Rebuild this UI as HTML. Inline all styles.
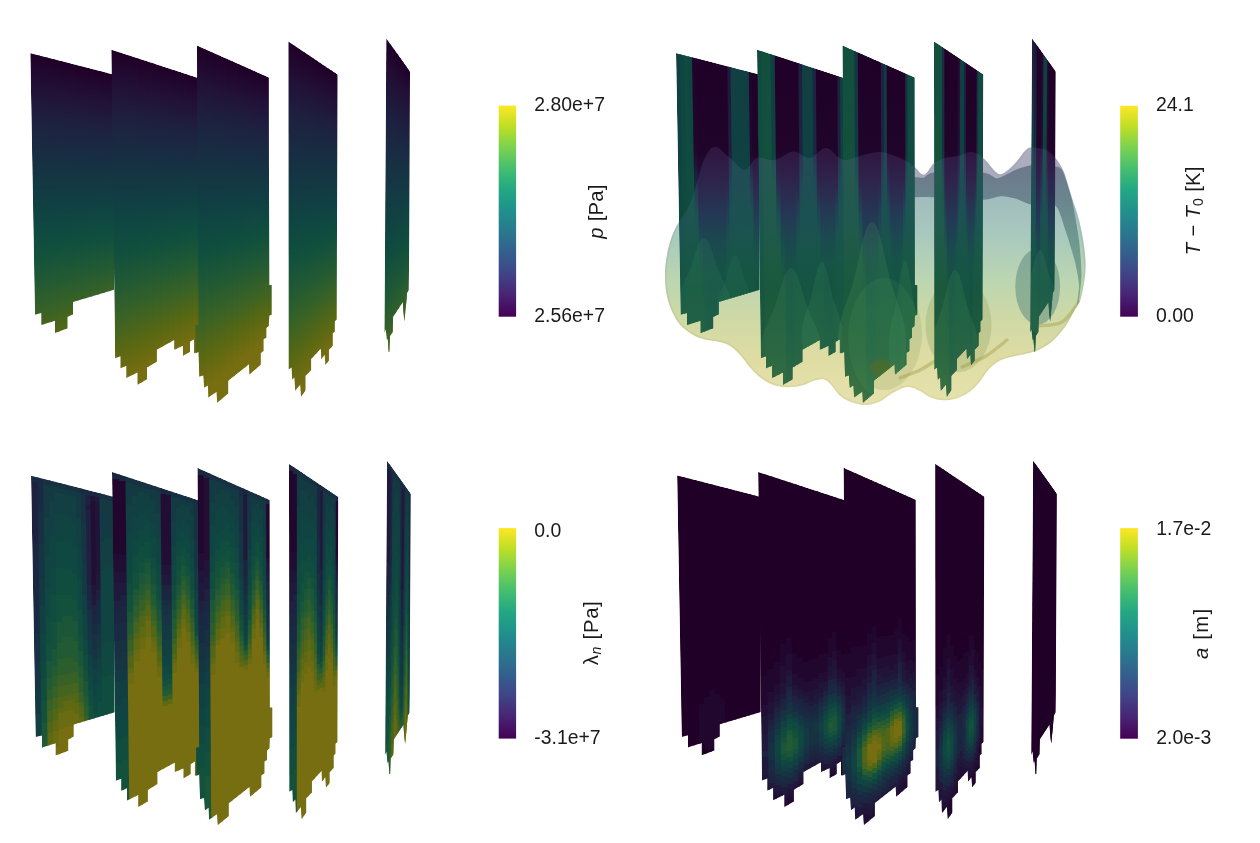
<!DOCTYPE html>
<html><head><meta charset="utf-8"><title>Figure</title>
<style>html,body{margin:0;padding:0;background:#fff}svg{display:block}
text{font-family:"Liberation Sans",sans-serif;fill:#1a1a1a}</style></head>
<body><svg width="1260" height="843" viewBox="0 0 1260 843">
<defs>
<clipPath id="ca0"><path d="M30.3 53.3 L111.3 73.7 L114 74.4 L114 289.8 L73 302 L73 314.2 L67.5 317 L67.5 328.3 L55 333 L55 320.8 L41.3 325 L41.3 313 L34.7 314.7 Z"/></clipPath>
<linearGradient id="g1" gradientUnits="userSpaceOnUse" x1="0" y1="53.8" x2="0" y2="410.9"><stop offset="0" stop-color="#200027"/><stop offset="0.091" stop-color="#221037"/><stop offset="0.182" stop-color="#1e203f"/><stop offset="0.273" stop-color="#182c42"/><stop offset="0.364" stop-color="#133843"/><stop offset="0.455" stop-color="#0f4442"/><stop offset="0.545" stop-color="#104f3e"/><stop offset="0.636" stop-color="#205934"/><stop offset="0.727" stop-color="#396226"/><stop offset="0.818" stop-color="#596812"/><stop offset="0.909" stop-color="#776d11"/><stop offset="1" stop-color="#776d11"/></linearGradient>
<linearGradient id="g2" gradientUnits="userSpaceOnUse" x1="0" y1="55.9" x2="0" y2="406.7"><stop offset="0" stop-color="#200027"/><stop offset="0.091" stop-color="#221037"/><stop offset="0.182" stop-color="#1e203f"/><stop offset="0.273" stop-color="#182c42"/><stop offset="0.364" stop-color="#133843"/><stop offset="0.455" stop-color="#0f4442"/><stop offset="0.545" stop-color="#104f3e"/><stop offset="0.636" stop-color="#205934"/><stop offset="0.727" stop-color="#396226"/><stop offset="0.818" stop-color="#596812"/><stop offset="0.909" stop-color="#776d11"/><stop offset="1" stop-color="#776d11"/></linearGradient>
<linearGradient id="g3" gradientUnits="userSpaceOnUse" x1="0" y1="57.9" x2="0" y2="402.7"><stop offset="0" stop-color="#200027"/><stop offset="0.091" stop-color="#221037"/><stop offset="0.182" stop-color="#1e203f"/><stop offset="0.273" stop-color="#182c42"/><stop offset="0.364" stop-color="#133843"/><stop offset="0.455" stop-color="#0f4442"/><stop offset="0.545" stop-color="#104f3e"/><stop offset="0.636" stop-color="#205934"/><stop offset="0.727" stop-color="#396226"/><stop offset="0.818" stop-color="#596812"/><stop offset="0.909" stop-color="#776d11"/><stop offset="1" stop-color="#776d11"/></linearGradient>
<linearGradient id="g4" gradientUnits="userSpaceOnUse" x1="0" y1="59.9" x2="0" y2="398.8"><stop offset="0" stop-color="#200027"/><stop offset="0.091" stop-color="#221037"/><stop offset="0.182" stop-color="#1e203f"/><stop offset="0.273" stop-color="#182c42"/><stop offset="0.364" stop-color="#133843"/><stop offset="0.455" stop-color="#0f4442"/><stop offset="0.545" stop-color="#104f3e"/><stop offset="0.636" stop-color="#205934"/><stop offset="0.727" stop-color="#396226"/><stop offset="0.818" stop-color="#596812"/><stop offset="0.909" stop-color="#776d11"/><stop offset="1" stop-color="#776d11"/></linearGradient>
<linearGradient id="g5" gradientUnits="userSpaceOnUse" x1="0" y1="61.8" x2="0" y2="395"><stop offset="0" stop-color="#200027"/><stop offset="0.091" stop-color="#221037"/><stop offset="0.182" stop-color="#1e203f"/><stop offset="0.273" stop-color="#182c42"/><stop offset="0.364" stop-color="#133843"/><stop offset="0.455" stop-color="#0f4442"/><stop offset="0.545" stop-color="#104f3e"/><stop offset="0.636" stop-color="#205934"/><stop offset="0.727" stop-color="#396226"/><stop offset="0.818" stop-color="#596812"/><stop offset="0.909" stop-color="#776d11"/><stop offset="1" stop-color="#776d11"/></linearGradient>
<linearGradient id="g6" gradientUnits="userSpaceOnUse" x1="0" y1="63.6" x2="0" y2="391.3"><stop offset="0" stop-color="#200027"/><stop offset="0.091" stop-color="#221037"/><stop offset="0.182" stop-color="#1e203f"/><stop offset="0.273" stop-color="#182c42"/><stop offset="0.364" stop-color="#133843"/><stop offset="0.455" stop-color="#0f4442"/><stop offset="0.545" stop-color="#104f3e"/><stop offset="0.636" stop-color="#205934"/><stop offset="0.727" stop-color="#396226"/><stop offset="0.818" stop-color="#596812"/><stop offset="0.909" stop-color="#776d11"/><stop offset="1" stop-color="#776d11"/></linearGradient>
<linearGradient id="g7" gradientUnits="userSpaceOnUse" x1="0" y1="65.4" x2="0" y2="387.8"><stop offset="0" stop-color="#200027"/><stop offset="0.091" stop-color="#221037"/><stop offset="0.182" stop-color="#1e203f"/><stop offset="0.273" stop-color="#182c42"/><stop offset="0.364" stop-color="#133843"/><stop offset="0.455" stop-color="#0f4442"/><stop offset="0.545" stop-color="#104f3e"/><stop offset="0.636" stop-color="#205934"/><stop offset="0.727" stop-color="#396226"/><stop offset="0.818" stop-color="#596812"/><stop offset="0.909" stop-color="#776d11"/><stop offset="1" stop-color="#776d11"/></linearGradient>
<linearGradient id="g8" gradientUnits="userSpaceOnUse" x1="0" y1="67.1" x2="0" y2="384.4"><stop offset="0" stop-color="#200027"/><stop offset="0.091" stop-color="#221037"/><stop offset="0.182" stop-color="#1e203f"/><stop offset="0.273" stop-color="#182c42"/><stop offset="0.364" stop-color="#133843"/><stop offset="0.455" stop-color="#0f4442"/><stop offset="0.545" stop-color="#104f3e"/><stop offset="0.636" stop-color="#205934"/><stop offset="0.727" stop-color="#396226"/><stop offset="0.818" stop-color="#596812"/><stop offset="0.909" stop-color="#776d11"/><stop offset="1" stop-color="#776d11"/></linearGradient>
<linearGradient id="g9" gradientUnits="userSpaceOnUse" x1="0" y1="68.7" x2="0" y2="381.1"><stop offset="0" stop-color="#200027"/><stop offset="0.091" stop-color="#221037"/><stop offset="0.182" stop-color="#1e203f"/><stop offset="0.273" stop-color="#182c42"/><stop offset="0.364" stop-color="#133843"/><stop offset="0.455" stop-color="#0f4442"/><stop offset="0.545" stop-color="#104f3e"/><stop offset="0.636" stop-color="#205934"/><stop offset="0.727" stop-color="#396226"/><stop offset="0.818" stop-color="#596812"/><stop offset="0.909" stop-color="#776d11"/><stop offset="1" stop-color="#776d11"/></linearGradient>
<linearGradient id="g10" gradientUnits="userSpaceOnUse" x1="0" y1="70.3" x2="0" y2="377.9"><stop offset="0" stop-color="#200027"/><stop offset="0.091" stop-color="#221037"/><stop offset="0.182" stop-color="#1e203f"/><stop offset="0.273" stop-color="#182c42"/><stop offset="0.364" stop-color="#133843"/><stop offset="0.455" stop-color="#0f4442"/><stop offset="0.545" stop-color="#104f3e"/><stop offset="0.636" stop-color="#205934"/><stop offset="0.727" stop-color="#396226"/><stop offset="0.818" stop-color="#596812"/><stop offset="0.909" stop-color="#776d11"/><stop offset="1" stop-color="#776d11"/></linearGradient>
<linearGradient id="g11" gradientUnits="userSpaceOnUse" x1="0" y1="71.9" x2="0" y2="374.8"><stop offset="0" stop-color="#200027"/><stop offset="0.091" stop-color="#221037"/><stop offset="0.182" stop-color="#1e203f"/><stop offset="0.273" stop-color="#182c42"/><stop offset="0.364" stop-color="#133843"/><stop offset="0.455" stop-color="#0f4442"/><stop offset="0.545" stop-color="#104f3e"/><stop offset="0.636" stop-color="#205934"/><stop offset="0.727" stop-color="#396226"/><stop offset="0.818" stop-color="#596812"/><stop offset="0.909" stop-color="#776d11"/><stop offset="1" stop-color="#776d11"/></linearGradient>
<linearGradient id="g12" gradientUnits="userSpaceOnUse" x1="0" y1="73.4" x2="0" y2="371.7"><stop offset="0" stop-color="#200027"/><stop offset="0.091" stop-color="#221037"/><stop offset="0.182" stop-color="#1e203f"/><stop offset="0.273" stop-color="#182c42"/><stop offset="0.364" stop-color="#133843"/><stop offset="0.455" stop-color="#0f4442"/><stop offset="0.545" stop-color="#104f3e"/><stop offset="0.636" stop-color="#205934"/><stop offset="0.727" stop-color="#396226"/><stop offset="0.818" stop-color="#596812"/><stop offset="0.909" stop-color="#776d11"/><stop offset="1" stop-color="#776d11"/></linearGradient>
<linearGradient id="g13" gradientUnits="userSpaceOnUse" x1="0" y1="74.2" x2="0" y2="370.3"><stop offset="0" stop-color="#200027"/><stop offset="0.091" stop-color="#221037"/><stop offset="0.182" stop-color="#1e203f"/><stop offset="0.273" stop-color="#182c42"/><stop offset="0.364" stop-color="#133843"/><stop offset="0.455" stop-color="#0f4442"/><stop offset="0.545" stop-color="#104f3e"/><stop offset="0.636" stop-color="#205934"/><stop offset="0.727" stop-color="#396226"/><stop offset="0.818" stop-color="#596812"/><stop offset="0.909" stop-color="#776d11"/><stop offset="1" stop-color="#776d11"/></linearGradient>
<clipPath id="ca1"><path d="M111.3 49.7 L197 77.5 L200 78.5 L200 350.5 L194.2 353.3 L194.2 339.2 L190 341.7 L190 351.7 L183 355.8 L183 345.8 L174.2 349.7 L174.2 340 L156.7 349.7 L156.7 361.7 L147 367.5 L147 379.2 L137.5 384.7 L137.5 372.5 L126.3 378 L126.3 365.8 L120.5 368.3 L120.5 356.3 L115 358.3 Z"/></clipPath>
<linearGradient id="g14" gradientUnits="userSpaceOnUse" x1="0" y1="50.9" x2="0" y2="416.7"><stop offset="0" stop-color="#200027"/><stop offset="0.091" stop-color="#221037"/><stop offset="0.182" stop-color="#1e203f"/><stop offset="0.273" stop-color="#182c42"/><stop offset="0.364" stop-color="#133843"/><stop offset="0.455" stop-color="#0f4442"/><stop offset="0.545" stop-color="#104f3e"/><stop offset="0.636" stop-color="#205934"/><stop offset="0.727" stop-color="#396226"/><stop offset="0.818" stop-color="#596812"/><stop offset="0.909" stop-color="#776d11"/><stop offset="1" stop-color="#776d11"/></linearGradient>
<linearGradient id="g15" gradientUnits="userSpaceOnUse" x1="0" y1="53.8" x2="0" y2="410.9"><stop offset="0" stop-color="#200027"/><stop offset="0.091" stop-color="#221037"/><stop offset="0.182" stop-color="#1e203f"/><stop offset="0.273" stop-color="#182c42"/><stop offset="0.364" stop-color="#133843"/><stop offset="0.455" stop-color="#0f4442"/><stop offset="0.545" stop-color="#104f3e"/><stop offset="0.636" stop-color="#205934"/><stop offset="0.727" stop-color="#396226"/><stop offset="0.818" stop-color="#596812"/><stop offset="0.909" stop-color="#776d11"/><stop offset="1" stop-color="#776d11"/></linearGradient>
<linearGradient id="g16" gradientUnits="userSpaceOnUse" x1="0" y1="56.6" x2="0" y2="405.3"><stop offset="0" stop-color="#200027"/><stop offset="0.091" stop-color="#221037"/><stop offset="0.182" stop-color="#1e203f"/><stop offset="0.273" stop-color="#182c42"/><stop offset="0.364" stop-color="#133843"/><stop offset="0.455" stop-color="#0f4442"/><stop offset="0.545" stop-color="#104f3e"/><stop offset="0.636" stop-color="#205934"/><stop offset="0.727" stop-color="#396226"/><stop offset="0.818" stop-color="#596812"/><stop offset="0.909" stop-color="#776d11"/><stop offset="1" stop-color="#776d11"/></linearGradient>
<linearGradient id="g17" gradientUnits="userSpaceOnUse" x1="0" y1="59.3" x2="0" y2="400"><stop offset="0" stop-color="#200027"/><stop offset="0.091" stop-color="#221037"/><stop offset="0.182" stop-color="#1e203f"/><stop offset="0.273" stop-color="#182c42"/><stop offset="0.364" stop-color="#133843"/><stop offset="0.455" stop-color="#0f4442"/><stop offset="0.545" stop-color="#104f3e"/><stop offset="0.636" stop-color="#205934"/><stop offset="0.727" stop-color="#396226"/><stop offset="0.818" stop-color="#596812"/><stop offset="0.909" stop-color="#776d11"/><stop offset="1" stop-color="#776d11"/></linearGradient>
<linearGradient id="g18" gradientUnits="userSpaceOnUse" x1="0" y1="61.8" x2="0" y2="394.9"><stop offset="0" stop-color="#200027"/><stop offset="0.091" stop-color="#221037"/><stop offset="0.182" stop-color="#1e203f"/><stop offset="0.273" stop-color="#182c42"/><stop offset="0.364" stop-color="#133843"/><stop offset="0.455" stop-color="#0f4442"/><stop offset="0.545" stop-color="#104f3e"/><stop offset="0.636" stop-color="#205934"/><stop offset="0.727" stop-color="#396226"/><stop offset="0.818" stop-color="#596812"/><stop offset="0.909" stop-color="#776d11"/><stop offset="1" stop-color="#776d11"/></linearGradient>
<linearGradient id="g19" gradientUnits="userSpaceOnUse" x1="0" y1="64.2" x2="0" y2="390.1"><stop offset="0" stop-color="#200027"/><stop offset="0.091" stop-color="#221037"/><stop offset="0.182" stop-color="#1e203f"/><stop offset="0.273" stop-color="#182c42"/><stop offset="0.364" stop-color="#133843"/><stop offset="0.455" stop-color="#0f4442"/><stop offset="0.545" stop-color="#104f3e"/><stop offset="0.636" stop-color="#205934"/><stop offset="0.727" stop-color="#396226"/><stop offset="0.818" stop-color="#596812"/><stop offset="0.909" stop-color="#776d11"/><stop offset="1" stop-color="#776d11"/></linearGradient>
<linearGradient id="g20" gradientUnits="userSpaceOnUse" x1="0" y1="66.5" x2="0" y2="385.5"><stop offset="0" stop-color="#200027"/><stop offset="0.091" stop-color="#221037"/><stop offset="0.182" stop-color="#1e203f"/><stop offset="0.273" stop-color="#182c42"/><stop offset="0.364" stop-color="#133843"/><stop offset="0.455" stop-color="#0f4442"/><stop offset="0.545" stop-color="#104f3e"/><stop offset="0.636" stop-color="#205934"/><stop offset="0.727" stop-color="#396226"/><stop offset="0.818" stop-color="#596812"/><stop offset="0.909" stop-color="#776d11"/><stop offset="1" stop-color="#776d11"/></linearGradient>
<linearGradient id="g21" gradientUnits="userSpaceOnUse" x1="0" y1="68.8" x2="0" y2="381"><stop offset="0" stop-color="#200027"/><stop offset="0.091" stop-color="#221037"/><stop offset="0.182" stop-color="#1e203f"/><stop offset="0.273" stop-color="#182c42"/><stop offset="0.364" stop-color="#133843"/><stop offset="0.455" stop-color="#0f4442"/><stop offset="0.545" stop-color="#104f3e"/><stop offset="0.636" stop-color="#205934"/><stop offset="0.727" stop-color="#396226"/><stop offset="0.818" stop-color="#596812"/><stop offset="0.909" stop-color="#776d11"/><stop offset="1" stop-color="#776d11"/></linearGradient>
<linearGradient id="g22" gradientUnits="userSpaceOnUse" x1="0" y1="70.9" x2="0" y2="376.8"><stop offset="0" stop-color="#200027"/><stop offset="0.091" stop-color="#221037"/><stop offset="0.182" stop-color="#1e203f"/><stop offset="0.273" stop-color="#182c42"/><stop offset="0.364" stop-color="#133843"/><stop offset="0.455" stop-color="#0f4442"/><stop offset="0.545" stop-color="#104f3e"/><stop offset="0.636" stop-color="#205934"/><stop offset="0.727" stop-color="#396226"/><stop offset="0.818" stop-color="#596812"/><stop offset="0.909" stop-color="#776d11"/><stop offset="1" stop-color="#776d11"/></linearGradient>
<linearGradient id="g23" gradientUnits="userSpaceOnUse" x1="0" y1="72.9" x2="0" y2="372.7"><stop offset="0" stop-color="#200027"/><stop offset="0.091" stop-color="#221037"/><stop offset="0.182" stop-color="#1e203f"/><stop offset="0.273" stop-color="#182c42"/><stop offset="0.364" stop-color="#133843"/><stop offset="0.455" stop-color="#0f4442"/><stop offset="0.545" stop-color="#104f3e"/><stop offset="0.636" stop-color="#205934"/><stop offset="0.727" stop-color="#396226"/><stop offset="0.818" stop-color="#596812"/><stop offset="0.909" stop-color="#776d11"/><stop offset="1" stop-color="#776d11"/></linearGradient>
<linearGradient id="g24" gradientUnits="userSpaceOnUse" x1="0" y1="74.9" x2="0" y2="368.7"><stop offset="0" stop-color="#200027"/><stop offset="0.091" stop-color="#221037"/><stop offset="0.182" stop-color="#1e203f"/><stop offset="0.273" stop-color="#182c42"/><stop offset="0.364" stop-color="#133843"/><stop offset="0.455" stop-color="#0f4442"/><stop offset="0.545" stop-color="#104f3e"/><stop offset="0.636" stop-color="#205934"/><stop offset="0.727" stop-color="#396226"/><stop offset="0.818" stop-color="#596812"/><stop offset="0.909" stop-color="#776d11"/><stop offset="1" stop-color="#776d11"/></linearGradient>
<linearGradient id="g25" gradientUnits="userSpaceOnUse" x1="0" y1="76.8" x2="0" y2="365"><stop offset="0" stop-color="#200027"/><stop offset="0.091" stop-color="#221037"/><stop offset="0.182" stop-color="#1e203f"/><stop offset="0.273" stop-color="#182c42"/><stop offset="0.364" stop-color="#133843"/><stop offset="0.455" stop-color="#0f4442"/><stop offset="0.545" stop-color="#104f3e"/><stop offset="0.636" stop-color="#205934"/><stop offset="0.727" stop-color="#396226"/><stop offset="0.818" stop-color="#596812"/><stop offset="0.909" stop-color="#776d11"/><stop offset="1" stop-color="#776d11"/></linearGradient>
<linearGradient id="g26" gradientUnits="userSpaceOnUse" x1="0" y1="77.7" x2="0" y2="363.1"><stop offset="0" stop-color="#200027"/><stop offset="0.091" stop-color="#221037"/><stop offset="0.182" stop-color="#1e203f"/><stop offset="0.273" stop-color="#182c42"/><stop offset="0.364" stop-color="#133843"/><stop offset="0.455" stop-color="#0f4442"/><stop offset="0.545" stop-color="#104f3e"/><stop offset="0.636" stop-color="#205934"/><stop offset="0.727" stop-color="#396226"/><stop offset="0.818" stop-color="#596812"/><stop offset="0.909" stop-color="#776d11"/><stop offset="1" stop-color="#776d11"/></linearGradient>
<clipPath id="ca2"><path d="M197 45.5 L268.8 77.5 L269.2 285.3 L271.7 285 L271.7 314.7 L269.2 315.5 L268.8 325.9 L266.3 328 L266.3 337.6 L263.6 339.2 L263.6 350.9 L260.6 353.1 L260.6 364.8 L249.3 374.4 L249 364.3 L228.1 380.8 L228.1 393.6 L217.2 402.7 L216.5 391.7 L208.4 397.4 L207.9 385.3 L204.2 387.8 L203.3 375.5 L199.4 376.6 L198.5 352 L194.3 354 L194.3 325.5 L198.5 324.6 Z"/></clipPath>
<linearGradient id="g27" gradientUnits="userSpaceOnUse" x1="0" y1="45.6" x2="0" y2="427.2"><stop offset="0" stop-color="#200027"/><stop offset="0.091" stop-color="#221037"/><stop offset="0.182" stop-color="#1e203f"/><stop offset="0.273" stop-color="#182c42"/><stop offset="0.364" stop-color="#133843"/><stop offset="0.455" stop-color="#0f4442"/><stop offset="0.545" stop-color="#104f3e"/><stop offset="0.636" stop-color="#205934"/><stop offset="0.727" stop-color="#396226"/><stop offset="0.818" stop-color="#596812"/><stop offset="0.909" stop-color="#776d11"/><stop offset="1" stop-color="#776d11"/></linearGradient>
<linearGradient id="g28" gradientUnits="userSpaceOnUse" x1="0" y1="47.4" x2="0" y2="423.7"><stop offset="0" stop-color="#200027"/><stop offset="0.091" stop-color="#221037"/><stop offset="0.182" stop-color="#1e203f"/><stop offset="0.273" stop-color="#182c42"/><stop offset="0.364" stop-color="#133843"/><stop offset="0.455" stop-color="#0f4442"/><stop offset="0.545" stop-color="#104f3e"/><stop offset="0.636" stop-color="#205934"/><stop offset="0.727" stop-color="#396226"/><stop offset="0.818" stop-color="#596812"/><stop offset="0.909" stop-color="#776d11"/><stop offset="1" stop-color="#776d11"/></linearGradient>
<linearGradient id="g29" gradientUnits="userSpaceOnUse" x1="0" y1="50.7" x2="0" y2="417"><stop offset="0" stop-color="#200027"/><stop offset="0.091" stop-color="#221037"/><stop offset="0.182" stop-color="#1e203f"/><stop offset="0.273" stop-color="#182c42"/><stop offset="0.364" stop-color="#133843"/><stop offset="0.455" stop-color="#0f4442"/><stop offset="0.545" stop-color="#104f3e"/><stop offset="0.636" stop-color="#205934"/><stop offset="0.727" stop-color="#396226"/><stop offset="0.818" stop-color="#596812"/><stop offset="0.909" stop-color="#776d11"/><stop offset="1" stop-color="#776d11"/></linearGradient>
<linearGradient id="g30" gradientUnits="userSpaceOnUse" x1="0" y1="53.9" x2="0" y2="410.7"><stop offset="0" stop-color="#200027"/><stop offset="0.091" stop-color="#221037"/><stop offset="0.182" stop-color="#1e203f"/><stop offset="0.273" stop-color="#182c42"/><stop offset="0.364" stop-color="#133843"/><stop offset="0.455" stop-color="#0f4442"/><stop offset="0.545" stop-color="#104f3e"/><stop offset="0.636" stop-color="#205934"/><stop offset="0.727" stop-color="#396226"/><stop offset="0.818" stop-color="#596812"/><stop offset="0.909" stop-color="#776d11"/><stop offset="1" stop-color="#776d11"/></linearGradient>
<linearGradient id="g31" gradientUnits="userSpaceOnUse" x1="0" y1="56.9" x2="0" y2="404.7"><stop offset="0" stop-color="#200027"/><stop offset="0.091" stop-color="#221037"/><stop offset="0.182" stop-color="#1e203f"/><stop offset="0.273" stop-color="#182c42"/><stop offset="0.364" stop-color="#133843"/><stop offset="0.455" stop-color="#0f4442"/><stop offset="0.545" stop-color="#104f3e"/><stop offset="0.636" stop-color="#205934"/><stop offset="0.727" stop-color="#396226"/><stop offset="0.818" stop-color="#596812"/><stop offset="0.909" stop-color="#776d11"/><stop offset="1" stop-color="#776d11"/></linearGradient>
<linearGradient id="g32" gradientUnits="userSpaceOnUse" x1="0" y1="59.8" x2="0" y2="399"><stop offset="0" stop-color="#200027"/><stop offset="0.091" stop-color="#221037"/><stop offset="0.182" stop-color="#1e203f"/><stop offset="0.273" stop-color="#182c42"/><stop offset="0.364" stop-color="#133843"/><stop offset="0.455" stop-color="#0f4442"/><stop offset="0.545" stop-color="#104f3e"/><stop offset="0.636" stop-color="#205934"/><stop offset="0.727" stop-color="#396226"/><stop offset="0.818" stop-color="#596812"/><stop offset="0.909" stop-color="#776d11"/><stop offset="1" stop-color="#776d11"/></linearGradient>
<linearGradient id="g33" gradientUnits="userSpaceOnUse" x1="0" y1="62.5" x2="0" y2="393.6"><stop offset="0" stop-color="#200027"/><stop offset="0.091" stop-color="#221037"/><stop offset="0.182" stop-color="#1e203f"/><stop offset="0.273" stop-color="#182c42"/><stop offset="0.364" stop-color="#133843"/><stop offset="0.455" stop-color="#0f4442"/><stop offset="0.545" stop-color="#104f3e"/><stop offset="0.636" stop-color="#205934"/><stop offset="0.727" stop-color="#396226"/><stop offset="0.818" stop-color="#596812"/><stop offset="0.909" stop-color="#776d11"/><stop offset="1" stop-color="#776d11"/></linearGradient>
<linearGradient id="g34" gradientUnits="userSpaceOnUse" x1="0" y1="65.1" x2="0" y2="388.4"><stop offset="0" stop-color="#200027"/><stop offset="0.091" stop-color="#221037"/><stop offset="0.182" stop-color="#1e203f"/><stop offset="0.273" stop-color="#182c42"/><stop offset="0.364" stop-color="#133843"/><stop offset="0.455" stop-color="#0f4442"/><stop offset="0.545" stop-color="#104f3e"/><stop offset="0.636" stop-color="#205934"/><stop offset="0.727" stop-color="#396226"/><stop offset="0.818" stop-color="#596812"/><stop offset="0.909" stop-color="#776d11"/><stop offset="1" stop-color="#776d11"/></linearGradient>
<linearGradient id="g35" gradientUnits="userSpaceOnUse" x1="0" y1="67.5" x2="0" y2="383.5"><stop offset="0" stop-color="#200027"/><stop offset="0.091" stop-color="#221037"/><stop offset="0.182" stop-color="#1e203f"/><stop offset="0.273" stop-color="#182c42"/><stop offset="0.364" stop-color="#133843"/><stop offset="0.455" stop-color="#0f4442"/><stop offset="0.545" stop-color="#104f3e"/><stop offset="0.636" stop-color="#205934"/><stop offset="0.727" stop-color="#396226"/><stop offset="0.818" stop-color="#596812"/><stop offset="0.909" stop-color="#776d11"/><stop offset="1" stop-color="#776d11"/></linearGradient>
<linearGradient id="g36" gradientUnits="userSpaceOnUse" x1="0" y1="69.9" x2="0" y2="378.8"><stop offset="0" stop-color="#200027"/><stop offset="0.091" stop-color="#221037"/><stop offset="0.182" stop-color="#1e203f"/><stop offset="0.273" stop-color="#182c42"/><stop offset="0.364" stop-color="#133843"/><stop offset="0.455" stop-color="#0f4442"/><stop offset="0.545" stop-color="#104f3e"/><stop offset="0.636" stop-color="#205934"/><stop offset="0.727" stop-color="#396226"/><stop offset="0.818" stop-color="#596812"/><stop offset="0.909" stop-color="#776d11"/><stop offset="1" stop-color="#776d11"/></linearGradient>
<linearGradient id="g37" gradientUnits="userSpaceOnUse" x1="0" y1="72.2" x2="0" y2="374.3"><stop offset="0" stop-color="#200027"/><stop offset="0.091" stop-color="#221037"/><stop offset="0.182" stop-color="#1e203f"/><stop offset="0.273" stop-color="#182c42"/><stop offset="0.364" stop-color="#133843"/><stop offset="0.455" stop-color="#0f4442"/><stop offset="0.545" stop-color="#104f3e"/><stop offset="0.636" stop-color="#205934"/><stop offset="0.727" stop-color="#396226"/><stop offset="0.818" stop-color="#596812"/><stop offset="0.909" stop-color="#776d11"/><stop offset="1" stop-color="#776d11"/></linearGradient>
<linearGradient id="g38" gradientUnits="userSpaceOnUse" x1="0" y1="74.3" x2="0" y2="369.9"><stop offset="0" stop-color="#200027"/><stop offset="0.091" stop-color="#221037"/><stop offset="0.182" stop-color="#1e203f"/><stop offset="0.273" stop-color="#182c42"/><stop offset="0.364" stop-color="#133843"/><stop offset="0.455" stop-color="#0f4442"/><stop offset="0.545" stop-color="#104f3e"/><stop offset="0.636" stop-color="#205934"/><stop offset="0.727" stop-color="#396226"/><stop offset="0.818" stop-color="#596812"/><stop offset="0.909" stop-color="#776d11"/><stop offset="1" stop-color="#776d11"/></linearGradient>
<linearGradient id="g39" gradientUnits="userSpaceOnUse" x1="0" y1="76.4" x2="0" y2="365.8"><stop offset="0" stop-color="#200027"/><stop offset="0.091" stop-color="#221037"/><stop offset="0.182" stop-color="#1e203f"/><stop offset="0.273" stop-color="#182c42"/><stop offset="0.364" stop-color="#133843"/><stop offset="0.455" stop-color="#0f4442"/><stop offset="0.545" stop-color="#104f3e"/><stop offset="0.636" stop-color="#205934"/><stop offset="0.727" stop-color="#396226"/><stop offset="0.818" stop-color="#596812"/><stop offset="0.909" stop-color="#776d11"/><stop offset="1" stop-color="#776d11"/></linearGradient>
<linearGradient id="g40" gradientUnits="userSpaceOnUse" x1="0" y1="77.4" x2="0" y2="363.8"><stop offset="0" stop-color="#200027"/><stop offset="0.091" stop-color="#221037"/><stop offset="0.182" stop-color="#1e203f"/><stop offset="0.273" stop-color="#182c42"/><stop offset="0.364" stop-color="#133843"/><stop offset="0.455" stop-color="#0f4442"/><stop offset="0.545" stop-color="#104f3e"/><stop offset="0.636" stop-color="#205934"/><stop offset="0.727" stop-color="#396226"/><stop offset="0.818" stop-color="#596812"/><stop offset="0.909" stop-color="#776d11"/><stop offset="1" stop-color="#776d11"/></linearGradient>
<clipPath id="ca3"><path d="M288.3 41.3 L337.5 74.5 L336.7 319.6 L334.6 321.4 L334.6 331.4 L332.8 333.2 L332.8 345.7 L328.9 349.8 L328.9 360.5 L325.3 365 L324.8 354.6 L321.3 359.1 L320.9 348.4 L311.1 359.1 L311.1 370 L305.5 375.9 L305.5 390.2 L301.1 396.7 L300.2 384.5 L295.2 390.7 L294.6 377.1 L292.2 379.7 L291.6 367.6 L288.5 369.4 Z"/></clipPath>
<linearGradient id="g41" gradientUnits="userSpaceOnUse" x1="0" y1="43.3" x2="0" y2="431.9"><stop offset="0" stop-color="#200027"/><stop offset="0.091" stop-color="#221037"/><stop offset="0.182" stop-color="#1e203f"/><stop offset="0.273" stop-color="#182c42"/><stop offset="0.364" stop-color="#133843"/><stop offset="0.455" stop-color="#0f4442"/><stop offset="0.545" stop-color="#104f3e"/><stop offset="0.636" stop-color="#205934"/><stop offset="0.727" stop-color="#396226"/><stop offset="0.818" stop-color="#596812"/><stop offset="0.909" stop-color="#776d11"/><stop offset="1" stop-color="#776d11"/></linearGradient>
<linearGradient id="g42" gradientUnits="userSpaceOnUse" x1="0" y1="46.7" x2="0" y2="425"><stop offset="0" stop-color="#200027"/><stop offset="0.091" stop-color="#221037"/><stop offset="0.182" stop-color="#1e203f"/><stop offset="0.273" stop-color="#182c42"/><stop offset="0.364" stop-color="#133843"/><stop offset="0.455" stop-color="#0f4442"/><stop offset="0.545" stop-color="#104f3e"/><stop offset="0.636" stop-color="#205934"/><stop offset="0.727" stop-color="#396226"/><stop offset="0.818" stop-color="#596812"/><stop offset="0.909" stop-color="#776d11"/><stop offset="1" stop-color="#776d11"/></linearGradient>
<linearGradient id="g43" gradientUnits="userSpaceOnUse" x1="0" y1="50" x2="0" y2="418.4"><stop offset="0" stop-color="#200027"/><stop offset="0.091" stop-color="#221037"/><stop offset="0.182" stop-color="#1e203f"/><stop offset="0.273" stop-color="#182c42"/><stop offset="0.364" stop-color="#133843"/><stop offset="0.455" stop-color="#0f4442"/><stop offset="0.545" stop-color="#104f3e"/><stop offset="0.636" stop-color="#205934"/><stop offset="0.727" stop-color="#396226"/><stop offset="0.818" stop-color="#596812"/><stop offset="0.909" stop-color="#776d11"/><stop offset="1" stop-color="#776d11"/></linearGradient>
<linearGradient id="g44" gradientUnits="userSpaceOnUse" x1="0" y1="53.1" x2="0" y2="412.2"><stop offset="0" stop-color="#200027"/><stop offset="0.091" stop-color="#221037"/><stop offset="0.182" stop-color="#1e203f"/><stop offset="0.273" stop-color="#182c42"/><stop offset="0.364" stop-color="#133843"/><stop offset="0.455" stop-color="#0f4442"/><stop offset="0.545" stop-color="#104f3e"/><stop offset="0.636" stop-color="#205934"/><stop offset="0.727" stop-color="#396226"/><stop offset="0.818" stop-color="#596812"/><stop offset="0.909" stop-color="#776d11"/><stop offset="1" stop-color="#776d11"/></linearGradient>
<linearGradient id="g45" gradientUnits="userSpaceOnUse" x1="0" y1="56.1" x2="0" y2="406.3"><stop offset="0" stop-color="#200027"/><stop offset="0.091" stop-color="#221037"/><stop offset="0.182" stop-color="#1e203f"/><stop offset="0.273" stop-color="#182c42"/><stop offset="0.364" stop-color="#133843"/><stop offset="0.455" stop-color="#0f4442"/><stop offset="0.545" stop-color="#104f3e"/><stop offset="0.636" stop-color="#205934"/><stop offset="0.727" stop-color="#396226"/><stop offset="0.818" stop-color="#596812"/><stop offset="0.909" stop-color="#776d11"/><stop offset="1" stop-color="#776d11"/></linearGradient>
<linearGradient id="g46" gradientUnits="userSpaceOnUse" x1="0" y1="58.9" x2="0" y2="400.7"><stop offset="0" stop-color="#200027"/><stop offset="0.091" stop-color="#221037"/><stop offset="0.182" stop-color="#1e203f"/><stop offset="0.273" stop-color="#182c42"/><stop offset="0.364" stop-color="#133843"/><stop offset="0.455" stop-color="#0f4442"/><stop offset="0.545" stop-color="#104f3e"/><stop offset="0.636" stop-color="#205934"/><stop offset="0.727" stop-color="#396226"/><stop offset="0.818" stop-color="#596812"/><stop offset="0.909" stop-color="#776d11"/><stop offset="1" stop-color="#776d11"/></linearGradient>
<linearGradient id="g47" gradientUnits="userSpaceOnUse" x1="0" y1="61.6" x2="0" y2="395.3"><stop offset="0" stop-color="#200027"/><stop offset="0.091" stop-color="#221037"/><stop offset="0.182" stop-color="#1e203f"/><stop offset="0.273" stop-color="#182c42"/><stop offset="0.364" stop-color="#133843"/><stop offset="0.455" stop-color="#0f4442"/><stop offset="0.545" stop-color="#104f3e"/><stop offset="0.636" stop-color="#205934"/><stop offset="0.727" stop-color="#396226"/><stop offset="0.818" stop-color="#596812"/><stop offset="0.909" stop-color="#776d11"/><stop offset="1" stop-color="#776d11"/></linearGradient>
<linearGradient id="g48" gradientUnits="userSpaceOnUse" x1="0" y1="64.2" x2="0" y2="390.2"><stop offset="0" stop-color="#200027"/><stop offset="0.091" stop-color="#221037"/><stop offset="0.182" stop-color="#1e203f"/><stop offset="0.273" stop-color="#182c42"/><stop offset="0.364" stop-color="#133843"/><stop offset="0.455" stop-color="#0f4442"/><stop offset="0.545" stop-color="#104f3e"/><stop offset="0.636" stop-color="#205934"/><stop offset="0.727" stop-color="#396226"/><stop offset="0.818" stop-color="#596812"/><stop offset="0.909" stop-color="#776d11"/><stop offset="1" stop-color="#776d11"/></linearGradient>
<linearGradient id="g49" gradientUnits="userSpaceOnUse" x1="0" y1="66.6" x2="0" y2="385.3"><stop offset="0" stop-color="#200027"/><stop offset="0.091" stop-color="#221037"/><stop offset="0.182" stop-color="#1e203f"/><stop offset="0.273" stop-color="#182c42"/><stop offset="0.364" stop-color="#133843"/><stop offset="0.455" stop-color="#0f4442"/><stop offset="0.545" stop-color="#104f3e"/><stop offset="0.636" stop-color="#205934"/><stop offset="0.727" stop-color="#396226"/><stop offset="0.818" stop-color="#596812"/><stop offset="0.909" stop-color="#776d11"/><stop offset="1" stop-color="#776d11"/></linearGradient>
<linearGradient id="g50" gradientUnits="userSpaceOnUse" x1="0" y1="68.9" x2="0" y2="380.7"><stop offset="0" stop-color="#200027"/><stop offset="0.091" stop-color="#221037"/><stop offset="0.182" stop-color="#1e203f"/><stop offset="0.273" stop-color="#182c42"/><stop offset="0.364" stop-color="#133843"/><stop offset="0.455" stop-color="#0f4442"/><stop offset="0.545" stop-color="#104f3e"/><stop offset="0.636" stop-color="#205934"/><stop offset="0.727" stop-color="#396226"/><stop offset="0.818" stop-color="#596812"/><stop offset="0.909" stop-color="#776d11"/><stop offset="1" stop-color="#776d11"/></linearGradient>
<linearGradient id="g51" gradientUnits="userSpaceOnUse" x1="0" y1="71.2" x2="0" y2="376.2"><stop offset="0" stop-color="#200027"/><stop offset="0.091" stop-color="#221037"/><stop offset="0.182" stop-color="#1e203f"/><stop offset="0.273" stop-color="#182c42"/><stop offset="0.364" stop-color="#133843"/><stop offset="0.455" stop-color="#0f4442"/><stop offset="0.545" stop-color="#104f3e"/><stop offset="0.636" stop-color="#205934"/><stop offset="0.727" stop-color="#396226"/><stop offset="0.818" stop-color="#596812"/><stop offset="0.909" stop-color="#776d11"/><stop offset="1" stop-color="#776d11"/></linearGradient>
<linearGradient id="g52" gradientUnits="userSpaceOnUse" x1="0" y1="73.3" x2="0" y2="371.9"><stop offset="0" stop-color="#200027"/><stop offset="0.091" stop-color="#221037"/><stop offset="0.182" stop-color="#1e203f"/><stop offset="0.273" stop-color="#182c42"/><stop offset="0.364" stop-color="#133843"/><stop offset="0.455" stop-color="#0f4442"/><stop offset="0.545" stop-color="#104f3e"/><stop offset="0.636" stop-color="#205934"/><stop offset="0.727" stop-color="#396226"/><stop offset="0.818" stop-color="#596812"/><stop offset="0.909" stop-color="#776d11"/><stop offset="1" stop-color="#776d11"/></linearGradient>
<clipPath id="ca4"><path d="M386.2 37.5 L410 71.7 L409 270 L408.7 290.3 L407 293 L406 305.3 L404.4 321.3 L403.3 310.6 L402.8 302 L393 317 L392.6 332 L390 336.2 L389.4 351.7 L388.7 351.7 L387.8 338.4 L387 340.5 L385.7 329.3 L384.1 333 Z"/></clipPath>
<linearGradient id="g53" gradientUnits="userSpaceOnUse" x1="0" y1="41.1" x2="0" y2="436.1"><stop offset="0" stop-color="#200027"/><stop offset="0.091" stop-color="#221036"/><stop offset="0.182" stop-color="#1e1e3f"/><stop offset="0.273" stop-color="#192b42"/><stop offset="0.364" stop-color="#143743"/><stop offset="0.455" stop-color="#104242"/><stop offset="0.545" stop-color="#104c3f"/><stop offset="0.636" stop-color="#1c5737"/><stop offset="0.727" stop-color="#32602a"/><stop offset="0.818" stop-color="#4f6618"/><stop offset="0.909" stop-color="#6c6b12"/><stop offset="1" stop-color="#776d11"/></linearGradient>
<linearGradient id="g54" gradientUnits="userSpaceOnUse" x1="0" y1="46.1" x2="0" y2="426.3"><stop offset="0" stop-color="#200027"/><stop offset="0.091" stop-color="#221036"/><stop offset="0.182" stop-color="#1e1e3f"/><stop offset="0.273" stop-color="#192b42"/><stop offset="0.364" stop-color="#143743"/><stop offset="0.455" stop-color="#104242"/><stop offset="0.545" stop-color="#104c3f"/><stop offset="0.636" stop-color="#1c5737"/><stop offset="0.727" stop-color="#32602a"/><stop offset="0.818" stop-color="#4f6618"/><stop offset="0.909" stop-color="#6c6b12"/><stop offset="1" stop-color="#776d11"/></linearGradient>
<linearGradient id="g55" gradientUnits="userSpaceOnUse" x1="0" y1="50.7" x2="0" y2="417.1"><stop offset="0" stop-color="#200027"/><stop offset="0.091" stop-color="#221036"/><stop offset="0.182" stop-color="#1e1e3f"/><stop offset="0.273" stop-color="#192b42"/><stop offset="0.364" stop-color="#143743"/><stop offset="0.455" stop-color="#104242"/><stop offset="0.545" stop-color="#104c3f"/><stop offset="0.636" stop-color="#1c5737"/><stop offset="0.727" stop-color="#32602a"/><stop offset="0.818" stop-color="#4f6618"/><stop offset="0.909" stop-color="#6c6b12"/><stop offset="1" stop-color="#776d11"/></linearGradient>
<linearGradient id="g56" gradientUnits="userSpaceOnUse" x1="0" y1="54.9" x2="0" y2="408.6"><stop offset="0" stop-color="#200027"/><stop offset="0.091" stop-color="#221036"/><stop offset="0.182" stop-color="#1e1e3f"/><stop offset="0.273" stop-color="#192b42"/><stop offset="0.364" stop-color="#143743"/><stop offset="0.455" stop-color="#104242"/><stop offset="0.545" stop-color="#104c3f"/><stop offset="0.636" stop-color="#1c5737"/><stop offset="0.727" stop-color="#32602a"/><stop offset="0.818" stop-color="#4f6618"/><stop offset="0.909" stop-color="#6c6b12"/><stop offset="1" stop-color="#776d11"/></linearGradient>
<linearGradient id="g57" gradientUnits="userSpaceOnUse" x1="0" y1="58.9" x2="0" y2="400.7"><stop offset="0" stop-color="#200027"/><stop offset="0.091" stop-color="#221036"/><stop offset="0.182" stop-color="#1e1e3f"/><stop offset="0.273" stop-color="#192b42"/><stop offset="0.364" stop-color="#143743"/><stop offset="0.455" stop-color="#104242"/><stop offset="0.545" stop-color="#104c3f"/><stop offset="0.636" stop-color="#1c5737"/><stop offset="0.727" stop-color="#32602a"/><stop offset="0.818" stop-color="#4f6618"/><stop offset="0.909" stop-color="#6c6b12"/><stop offset="1" stop-color="#776d11"/></linearGradient>
<linearGradient id="g58" gradientUnits="userSpaceOnUse" x1="0" y1="62.6" x2="0" y2="393.3"><stop offset="0" stop-color="#200027"/><stop offset="0.091" stop-color="#221036"/><stop offset="0.182" stop-color="#1e1e3f"/><stop offset="0.273" stop-color="#192b42"/><stop offset="0.364" stop-color="#143743"/><stop offset="0.455" stop-color="#104242"/><stop offset="0.545" stop-color="#104c3f"/><stop offset="0.636" stop-color="#1c5737"/><stop offset="0.727" stop-color="#32602a"/><stop offset="0.818" stop-color="#4f6618"/><stop offset="0.909" stop-color="#6c6b12"/><stop offset="1" stop-color="#776d11"/></linearGradient>
<linearGradient id="g59" gradientUnits="userSpaceOnUse" x1="0" y1="66.1" x2="0" y2="386.4"><stop offset="0" stop-color="#200027"/><stop offset="0.091" stop-color="#221036"/><stop offset="0.182" stop-color="#1e1e3f"/><stop offset="0.273" stop-color="#192b42"/><stop offset="0.364" stop-color="#143743"/><stop offset="0.455" stop-color="#104242"/><stop offset="0.545" stop-color="#104c3f"/><stop offset="0.636" stop-color="#1c5737"/><stop offset="0.727" stop-color="#32602a"/><stop offset="0.818" stop-color="#4f6618"/><stop offset="0.909" stop-color="#6c6b12"/><stop offset="1" stop-color="#776d11"/></linearGradient>
<linearGradient id="g60" gradientUnits="userSpaceOnUse" x1="0" y1="69.4" x2="0" y2="379.8"><stop offset="0" stop-color="#200027"/><stop offset="0.091" stop-color="#221036"/><stop offset="0.182" stop-color="#1e1e3f"/><stop offset="0.273" stop-color="#192b42"/><stop offset="0.364" stop-color="#143743"/><stop offset="0.455" stop-color="#104242"/><stop offset="0.545" stop-color="#104c3f"/><stop offset="0.636" stop-color="#1c5737"/><stop offset="0.727" stop-color="#32602a"/><stop offset="0.818" stop-color="#4f6618"/><stop offset="0.909" stop-color="#6c6b12"/><stop offset="1" stop-color="#776d11"/></linearGradient>
<linearGradient id="bg" gradientUnits="userSpaceOnUse" x1="0" y1="147" x2="0" y2="405"><stop offset="0" stop-color="#b0aec0"/><stop offset=".11" stop-color="#a8abbc"/><stop offset=".2" stop-color="#a1bdbd"/><stop offset=".36" stop-color="#aacabd"/><stop offset=".52" stop-color="#bcd6b1"/><stop offset=".67" stop-color="#d0d9a5"/><stop offset=".82" stop-color="#dfdca3"/><stop offset="1" stop-color="#e6e2ae"/></linearGradient>
<path id="blob" d="M679 222C676.4 226.5 674.3 230 672.4 235C670.5 240 668.7 245.8 667.5 252C666.3 258.2 665.2 265.3 665 272C664.8 278.7 665.2 285.7 666.2 292C667.2 298.3 668.9 304.2 671.2 309.6C673.5 315 676.4 320.5 679.9 324.6C683.4 328.8 688.2 332 692.4 334.5C696.5 337 700.2 338.2 704.8 339.5C709.4 340.8 715.6 341 719.8 342C723.9 343 726.4 343.6 729.7 345.7C733 347.8 736.4 351 739.7 354.5C743 358 746.4 363.2 749.7 366.9C753 370.6 755.9 374 759.6 376.9C763.3 379.8 767.5 382.7 772.1 384.4C776.7 386.1 782 387.1 787 387.3C792 387.5 797.4 386.7 802 385.6C806.6 384.5 810.7 381.6 814.4 380.6C818.1 379.6 821.5 378.7 824.4 379.6C827.3 380.5 829.3 383.2 832 386C834.7 388.8 837.1 393.6 840.7 396.4C844.3 399.2 849.3 401.5 853.6 402.9C857.9 404.3 862.1 405.2 866.4 405C870.7 404.8 875 403.8 879.3 401.8C883.6 399.8 888.2 395.5 892.1 393.2C896 390.9 899.7 388.9 902.9 387.9C906.1 386.9 908.5 386.9 911.4 387.4C914.2 387.9 916.8 389.3 920 391C923.2 392.7 926.8 395.9 930.7 397.5C934.6 399.1 939.3 400.1 943.6 400.3C947.9 400.5 952.1 400 956.4 398.6C960.7 397.2 965.4 395 969.3 392.1C973.2 389.2 976.8 385.1 980 381.4C983.2 377.6 985.4 373 988.6 369.6C991.8 366.2 995.4 363.1 999.3 361C1003.2 358.9 1007.5 358 1012.1 356.8C1016.7 355.6 1022.4 354.9 1027.1 353.6C1031.8 352.4 1035.7 351.5 1040 349.3C1044.3 347.1 1048.6 344.6 1052.9 340.7C1057.2 336.8 1062.1 330.7 1065.7 325.7C1069.3 320.7 1071.8 315.3 1074.3 310.7C1076.8 306.1 1079.1 304.8 1081 298C1082.9 291.2 1085 278.7 1085.5 270C1086 261.3 1085.1 254.3 1084 246C1082.9 237.7 1081 228 1079 220C1077 212 1073.9 204.2 1072 198C1070.1 191.8 1069 187.7 1067.5 183C1066 178.3 1065 174.1 1063 170C1061 165.9 1058.5 161.8 1055.7 158.5C1052.9 155.2 1050 151.8 1046 150C1042 148.2 1035 147.3 1031.5 147.5C1028 147.7 1027.6 148.4 1024.9 151C1022.2 153.6 1019 159.2 1015.4 162.9C1011.8 166.6 1006.7 171.6 1003.5 173.2C1000.3 174.8 999.8 174.9 996.4 172.4C993 169.9 987.5 161.6 983.4 158.2C979.3 154.8 976.2 152.4 972 152C967.8 151.6 962.5 155 958 156C953.5 157 949 156.8 945 158C941 159.2 937.7 160.2 934.2 163C930.7 165.8 927.4 174.2 924 174.8C920.6 175.4 918 169.3 914 166.5C910 163.7 905.7 160.4 900 158C894.3 155.6 886.7 152.3 880 152C873.3 151.7 866.2 154.7 860 156C853.8 157.3 848.7 161.3 843 160C837.3 158.7 831.5 148.3 826 148C820.5 147.7 815.5 157.4 810 158C804.5 158.6 798.8 151.2 793 151.5C787.2 151.8 781 158.9 775 160C769 161.1 762 156.3 757 158C752 159.7 749.5 170 745 170C740.5 170 735 161.9 730 158C725 154.1 719.1 146.4 714.8 146.7C710.5 147 707.1 153.4 704 160C700.9 166.6 698.7 178 696 186C693.3 194 690.8 202 688 208C685.2 214 681.6 217.5 679 222Z"/>
<clipPath id="cblob"><use href="#blob"/></clipPath>
<linearGradient id="rim" gradientUnits="userSpaceOnUse" x1="0" y1="147" x2="0" y2="405"><stop offset="0" stop-color="#9a98b4" stop-opacity=".25"/><stop offset=".3" stop-color="#7f9f9a" stop-opacity=".22"/><stop offset=".6" stop-color="#8f9f6a" stop-opacity=".18"/><stop offset="1" stop-color="#b0ac6c" stop-opacity=".16"/></linearGradient>
<linearGradient id="bd" gradientUnits="userSpaceOnUse" x1="0" y1="165" x2="0" y2="305"><stop offset="0" stop-color="#566679"/><stop offset=".25" stop-color="#56707c"/><stop offset=".5" stop-color="#56847e"/><stop offset="1" stop-color="#66967c"/></linearGradient>
<clipPath id="cb0"><path d="M30.3 53.3 L111.3 73.7 L114 74.4 L114 289.8 L73 302 L73 314.2 L67.5 317 L67.5 328.3 L55 333 L55 320.8 L41.3 325 L41.3 313 L34.7 314.7 Z"/></clipPath>
<linearGradient id="g61" gradientUnits="userSpaceOnUse" x1="0" y1="53.3" x2="0" y2="411.9"><stop offset="0" stop-color="#113f42"/><stop offset="0.091" stop-color="#104042"/><stop offset="0.182" stop-color="#104142"/><stop offset="0.273" stop-color="#104142"/><stop offset="0.364" stop-color="#0f4442"/><stop offset="0.455" stop-color="#0f4840"/><stop offset="0.545" stop-color="#104b3f"/><stop offset="0.636" stop-color="#104e3e"/><stop offset="0.727" stop-color="#12503d"/><stop offset="0.818" stop-color="#13513c"/><stop offset="0.909" stop-color="#14513b"/><stop offset="1" stop-color="#15523b"/></linearGradient>
<linearGradient id="g62" gradientUnits="userSpaceOnUse" x1="0" y1="54.3" x2="0" y2="409.8"><stop offset="0" stop-color="#0f4541"/><stop offset="0.091" stop-color="#0f4641"/><stop offset="0.182" stop-color="#0f4641"/><stop offset="0.273" stop-color="#0f4741"/><stop offset="0.364" stop-color="#0f4940"/><stop offset="0.455" stop-color="#104b3f"/><stop offset="0.545" stop-color="#104d3f"/><stop offset="0.636" stop-color="#114f3e"/><stop offset="0.727" stop-color="#13513c"/><stop offset="0.818" stop-color="#14513c"/><stop offset="0.909" stop-color="#15523b"/><stop offset="1" stop-color="#16533a"/></linearGradient>
<linearGradient id="g63" gradientUnits="userSpaceOnUse" x1="0" y1="55.4" x2="0" y2="407.7"><stop offset="0" stop-color="#104a40"/><stop offset="0.091" stop-color="#104b3f"/><stop offset="0.273" stop-color="#104b3f"/><stop offset="0.364" stop-color="#104c3f"/><stop offset="0.455" stop-color="#104d3f"/><stop offset="0.545" stop-color="#104e3e"/><stop offset="0.636" stop-color="#12503d"/><stop offset="0.727" stop-color="#14513c"/><stop offset="0.818" stop-color="#15523b"/><stop offset="0.909" stop-color="#16523b"/><stop offset="1" stop-color="#17533a"/></linearGradient>
<linearGradient id="g64" gradientUnits="userSpaceOnUse" x1="0" y1="56.4" x2="0" y2="405.7"><stop offset="0" stop-color="#0f4641"/><stop offset="0.091" stop-color="#0f4641"/><stop offset="0.182" stop-color="#0f4741"/><stop offset="0.273" stop-color="#0f4840"/><stop offset="0.364" stop-color="#104c3f"/><stop offset="0.455" stop-color="#104d3f"/><stop offset="0.545" stop-color="#104e3e"/><stop offset="0.636" stop-color="#12503d"/><stop offset="0.727" stop-color="#14513c"/><stop offset="0.818" stop-color="#15523b"/><stop offset="0.909" stop-color="#16523b"/><stop offset="1" stop-color="#17533a"/></linearGradient>
<linearGradient id="g65" gradientUnits="userSpaceOnUse" x1="0" y1="57.4" x2="0" y2="403.7"><stop offset="0" stop-color="#20032a"/><stop offset="0.091" stop-color="#20042b"/><stop offset="0.182" stop-color="#20052c"/><stop offset="0.273" stop-color="#21072d"/><stop offset="0.364" stop-color="#1b2741"/><stop offset="0.455" stop-color="#104a40"/><stop offset="0.545" stop-color="#104e3e"/><stop offset="0.636" stop-color="#12503d"/><stop offset="0.727" stop-color="#14513c"/><stop offset="0.818" stop-color="#15523b"/><stop offset="0.909" stop-color="#16523b"/><stop offset="1" stop-color="#17533a"/></linearGradient>
<linearGradient id="g66" gradientUnits="userSpaceOnUse" x1="0" y1="58.4" x2="0" y2="401.7"><stop offset="0" stop-color="#200027"/><stop offset="0.091" stop-color="#200228"/><stop offset="0.182" stop-color="#200329"/><stop offset="0.273" stop-color="#20042a"/><stop offset="0.364" stop-color="#211539"/><stop offset="0.455" stop-color="#192b42"/><stop offset="0.545" stop-color="#0f4840"/><stop offset="0.636" stop-color="#12503d"/><stop offset="0.727" stop-color="#14513c"/><stop offset="0.818" stop-color="#15523b"/><stop offset="0.909" stop-color="#16523b"/><stop offset="1" stop-color="#17533a"/></linearGradient>
<linearGradient id="g67" gradientUnits="userSpaceOnUse" x1="0" y1="59.4" x2="0" y2="399.7"><stop offset="0" stop-color="#200027"/><stop offset="0.091" stop-color="#200228"/><stop offset="0.182" stop-color="#200329"/><stop offset="0.273" stop-color="#20042a"/><stop offset="0.364" stop-color="#211539"/><stop offset="0.455" stop-color="#192b42"/><stop offset="0.545" stop-color="#114042"/><stop offset="0.636" stop-color="#104c3f"/><stop offset="0.727" stop-color="#104f3e"/><stop offset="0.818" stop-color="#12503d"/><stop offset="0.909" stop-color="#13513c"/><stop offset="1" stop-color="#14513c"/></linearGradient>
<linearGradient id="g68" gradientUnits="userSpaceOnUse" x1="0" y1="60.4" x2="0" y2="397.8"><stop offset="0" stop-color="#200027"/><stop offset="0.091" stop-color="#200228"/><stop offset="0.182" stop-color="#200329"/><stop offset="0.273" stop-color="#20042a"/><stop offset="0.364" stop-color="#211539"/><stop offset="0.455" stop-color="#192b42"/><stop offset="0.545" stop-color="#114042"/><stop offset="0.636" stop-color="#104b3f"/><stop offset="0.727" stop-color="#104d3e"/><stop offset="0.818" stop-color="#104e3e"/><stop offset="0.909" stop-color="#12503d"/><stop offset="1" stop-color="#13513c"/></linearGradient>
<linearGradient id="g69" gradientUnits="userSpaceOnUse" x1="0" y1="61.3" x2="0" y2="395.9"><stop offset="0" stop-color="#200027"/><stop offset="0.091" stop-color="#200228"/><stop offset="0.182" stop-color="#200329"/><stop offset="0.273" stop-color="#20042a"/><stop offset="0.364" stop-color="#211539"/><stop offset="0.455" stop-color="#192b42"/><stop offset="0.545" stop-color="#114042"/><stop offset="0.636" stop-color="#104b3f"/><stop offset="0.727" stop-color="#104d3e"/><stop offset="0.818" stop-color="#104e3e"/><stop offset="0.909" stop-color="#12503d"/><stop offset="1" stop-color="#13513c"/></linearGradient>
<linearGradient id="g70" gradientUnits="userSpaceOnUse" x1="0" y1="62.2" x2="0" y2="394.1"><stop offset="0" stop-color="#200027"/><stop offset="0.091" stop-color="#200228"/><stop offset="0.182" stop-color="#200329"/><stop offset="0.273" stop-color="#20042a"/><stop offset="0.364" stop-color="#211539"/><stop offset="0.455" stop-color="#192b42"/><stop offset="0.545" stop-color="#114042"/><stop offset="0.636" stop-color="#104b3f"/><stop offset="0.727" stop-color="#104d3e"/><stop offset="0.818" stop-color="#104e3e"/><stop offset="0.909" stop-color="#12503d"/><stop offset="1" stop-color="#13513c"/></linearGradient>
<linearGradient id="g71" gradientUnits="userSpaceOnUse" x1="0" y1="63.1" x2="0" y2="392.2"><stop offset="0" stop-color="#200027"/><stop offset="0.091" stop-color="#200228"/><stop offset="0.182" stop-color="#200329"/><stop offset="0.273" stop-color="#20042a"/><stop offset="0.364" stop-color="#211539"/><stop offset="0.455" stop-color="#192b42"/><stop offset="0.545" stop-color="#114042"/><stop offset="0.636" stop-color="#104b3f"/><stop offset="0.727" stop-color="#104d3e"/><stop offset="0.818" stop-color="#104e3e"/><stop offset="0.909" stop-color="#12503d"/><stop offset="1" stop-color="#13513c"/></linearGradient>
<linearGradient id="g72" gradientUnits="userSpaceOnUse" x1="0" y1="64" x2="0" y2="390.4"><stop offset="0" stop-color="#200027"/><stop offset="0.091" stop-color="#200228"/><stop offset="0.182" stop-color="#200329"/><stop offset="0.273" stop-color="#20042a"/><stop offset="0.364" stop-color="#211539"/><stop offset="0.455" stop-color="#192b42"/><stop offset="0.545" stop-color="#114042"/><stop offset="0.636" stop-color="#104b3f"/><stop offset="0.727" stop-color="#104d3e"/><stop offset="0.818" stop-color="#104e3e"/><stop offset="0.909" stop-color="#12503d"/><stop offset="1" stop-color="#13513c"/></linearGradient>
<linearGradient id="g73" gradientUnits="userSpaceOnUse" x1="0" y1="64.9" x2="0" y2="388.7"><stop offset="0" stop-color="#200027"/><stop offset="0.091" stop-color="#200228"/><stop offset="0.182" stop-color="#200329"/><stop offset="0.273" stop-color="#20042a"/><stop offset="0.364" stop-color="#211539"/><stop offset="0.455" stop-color="#192b42"/><stop offset="0.545" stop-color="#104042"/><stop offset="0.636" stop-color="#104c3f"/><stop offset="0.727" stop-color="#114f3d"/><stop offset="0.818" stop-color="#12503d"/><stop offset="0.909" stop-color="#14513c"/><stop offset="1" stop-color="#15523b"/></linearGradient>
<linearGradient id="g74" gradientUnits="userSpaceOnUse" x1="0" y1="65.8" x2="0" y2="386.9"><stop offset="0" stop-color="#200027"/><stop offset="0.091" stop-color="#200228"/><stop offset="0.182" stop-color="#200329"/><stop offset="0.273" stop-color="#20042a"/><stop offset="0.364" stop-color="#211539"/><stop offset="0.455" stop-color="#153343"/><stop offset="0.545" stop-color="#104a40"/><stop offset="0.636" stop-color="#104e3e"/><stop offset="0.727" stop-color="#12503d"/><stop offset="0.818" stop-color="#13513c"/><stop offset="0.909" stop-color="#14513b"/><stop offset="1" stop-color="#15523b"/></linearGradient>
<linearGradient id="g75" gradientUnits="userSpaceOnUse" x1="0" y1="66.7" x2="0" y2="385.2"><stop offset="0" stop-color="#20193c"/><stop offset="0.091" stop-color="#1f1a3c"/><stop offset="0.182" stop-color="#1f1b3d"/><stop offset="0.273" stop-color="#1e1e3f"/><stop offset="0.364" stop-color="#133943"/><stop offset="0.455" stop-color="#0f4840"/><stop offset="0.545" stop-color="#104b3f"/><stop offset="0.636" stop-color="#104e3e"/><stop offset="0.727" stop-color="#12503d"/><stop offset="0.818" stop-color="#13513c"/><stop offset="0.909" stop-color="#14513b"/><stop offset="1" stop-color="#15523b"/></linearGradient>
<linearGradient id="g76" gradientUnits="userSpaceOnUse" x1="0" y1="67.5" x2="0" y2="383.6"><stop offset="0" stop-color="#113f42"/><stop offset="0.091" stop-color="#104042"/><stop offset="0.182" stop-color="#104142"/><stop offset="0.273" stop-color="#104142"/><stop offset="0.364" stop-color="#0f4442"/><stop offset="0.455" stop-color="#0f4840"/><stop offset="0.545" stop-color="#104b3f"/><stop offset="0.636" stop-color="#104e3e"/><stop offset="0.727" stop-color="#12503d"/><stop offset="0.818" stop-color="#13513c"/><stop offset="0.909" stop-color="#14513b"/><stop offset="1" stop-color="#15523b"/></linearGradient>
<linearGradient id="g77" gradientUnits="userSpaceOnUse" x1="0" y1="68.3" x2="0" y2="381.9"><stop offset="0" stop-color="#113f42"/><stop offset="0.091" stop-color="#104042"/><stop offset="0.182" stop-color="#104142"/><stop offset="0.273" stop-color="#104142"/><stop offset="0.364" stop-color="#0f4442"/><stop offset="0.455" stop-color="#0f4840"/><stop offset="0.545" stop-color="#104b3f"/><stop offset="0.636" stop-color="#104e3e"/><stop offset="0.727" stop-color="#12503d"/><stop offset="0.818" stop-color="#13513c"/><stop offset="0.909" stop-color="#14513b"/><stop offset="1" stop-color="#15523b"/></linearGradient>
<linearGradient id="g78" gradientUnits="userSpaceOnUse" x1="0" y1="69.1" x2="0" y2="380.3"><stop offset="0" stop-color="#113f42"/><stop offset="0.091" stop-color="#104042"/><stop offset="0.182" stop-color="#104142"/><stop offset="0.273" stop-color="#104142"/><stop offset="0.364" stop-color="#0f4442"/><stop offset="0.455" stop-color="#0f4840"/><stop offset="0.545" stop-color="#104b3f"/><stop offset="0.636" stop-color="#104e3e"/><stop offset="0.727" stop-color="#12503d"/><stop offset="0.818" stop-color="#13513c"/><stop offset="0.909" stop-color="#14513b"/><stop offset="1" stop-color="#15523b"/></linearGradient>
<linearGradient id="g79" gradientUnits="userSpaceOnUse" x1="0" y1="69.9" x2="0" y2="378.7"><stop offset="0" stop-color="#113f42"/><stop offset="0.091" stop-color="#104042"/><stop offset="0.182" stop-color="#104142"/><stop offset="0.273" stop-color="#104142"/><stop offset="0.364" stop-color="#0f4442"/><stop offset="0.455" stop-color="#0f4840"/><stop offset="0.545" stop-color="#104b3f"/><stop offset="0.636" stop-color="#104e3e"/><stop offset="0.727" stop-color="#12503d"/><stop offset="0.818" stop-color="#13513c"/><stop offset="0.909" stop-color="#14513b"/><stop offset="1" stop-color="#15523b"/></linearGradient>
<linearGradient id="g80" gradientUnits="userSpaceOnUse" x1="0" y1="70.7" x2="0" y2="377.1"><stop offset="0" stop-color="#113f42"/><stop offset="0.091" stop-color="#104042"/><stop offset="0.182" stop-color="#104142"/><stop offset="0.273" stop-color="#104142"/><stop offset="0.364" stop-color="#0f4442"/><stop offset="0.455" stop-color="#0f4840"/><stop offset="0.545" stop-color="#104b3f"/><stop offset="0.636" stop-color="#104e3e"/><stop offset="0.727" stop-color="#12503d"/><stop offset="0.818" stop-color="#13513c"/><stop offset="0.909" stop-color="#14513b"/><stop offset="1" stop-color="#15523b"/></linearGradient>
<linearGradient id="g81" gradientUnits="userSpaceOnUse" x1="0" y1="71.5" x2="0" y2="375.5"><stop offset="0" stop-color="#123d42"/><stop offset="0.091" stop-color="#113e42"/><stop offset="0.182" stop-color="#113e42"/><stop offset="0.273" stop-color="#113f42"/><stop offset="0.364" stop-color="#0f4442"/><stop offset="0.455" stop-color="#0f4840"/><stop offset="0.545" stop-color="#104b3f"/><stop offset="0.636" stop-color="#104e3e"/><stop offset="0.727" stop-color="#12503d"/><stop offset="0.818" stop-color="#13513c"/><stop offset="0.909" stop-color="#14513b"/><stop offset="1" stop-color="#15523b"/></linearGradient>
<linearGradient id="g82" gradientUnits="userSpaceOnUse" x1="0" y1="72.3" x2="0" y2="374"><stop offset="0" stop-color="#20042b"/><stop offset="0.091" stop-color="#20052c"/><stop offset="0.182" stop-color="#21062d"/><stop offset="0.273" stop-color="#21082e"/><stop offset="0.364" stop-color="#1b2741"/><stop offset="0.455" stop-color="#0f4641"/><stop offset="0.545" stop-color="#104b3f"/><stop offset="0.636" stop-color="#104e3e"/><stop offset="0.727" stop-color="#12503d"/><stop offset="0.818" stop-color="#13513c"/><stop offset="0.909" stop-color="#14513b"/><stop offset="1" stop-color="#15523b"/></linearGradient>
<linearGradient id="g83" gradientUnits="userSpaceOnUse" x1="0" y1="73" x2="0" y2="372.5"><stop offset="0" stop-color="#200027"/><stop offset="0.091" stop-color="#200228"/><stop offset="0.182" stop-color="#200329"/><stop offset="0.273" stop-color="#20042a"/><stop offset="0.364" stop-color="#211539"/><stop offset="0.455" stop-color="#192b42"/><stop offset="0.545" stop-color="#104242"/><stop offset="0.636" stop-color="#104c3f"/><stop offset="0.727" stop-color="#104e3e"/><stop offset="0.818" stop-color="#114f3e"/><stop offset="0.909" stop-color="#12503d"/><stop offset="1" stop-color="#13513c"/></linearGradient>
<linearGradient id="g84" gradientUnits="userSpaceOnUse" x1="0" y1="73.8" x2="0" y2="371"><stop offset="0" stop-color="#200027"/><stop offset="0.091" stop-color="#200228"/><stop offset="0.182" stop-color="#200329"/><stop offset="0.273" stop-color="#20042a"/><stop offset="0.364" stop-color="#211539"/><stop offset="0.455" stop-color="#192b42"/><stop offset="0.545" stop-color="#114042"/><stop offset="0.636" stop-color="#104b3f"/><stop offset="0.727" stop-color="#104d3e"/><stop offset="0.818" stop-color="#104e3e"/><stop offset="0.909" stop-color="#12503d"/><stop offset="1" stop-color="#13513c"/></linearGradient>
<linearGradient id="g85" gradientUnits="userSpaceOnUse" x1="0" y1="74.2" x2="0" y2="370.3"><stop offset="0" stop-color="#200027"/><stop offset="0.091" stop-color="#200228"/><stop offset="0.182" stop-color="#200329"/><stop offset="0.273" stop-color="#20042a"/><stop offset="0.364" stop-color="#211539"/><stop offset="0.455" stop-color="#192b42"/><stop offset="0.545" stop-color="#114042"/><stop offset="0.636" stop-color="#104b3f"/><stop offset="0.727" stop-color="#104d3e"/><stop offset="0.818" stop-color="#104e3e"/><stop offset="0.909" stop-color="#12503d"/><stop offset="1" stop-color="#13513c"/></linearGradient>
<clipPath id="cb1"><path d="M111.3 49.7 L197 77.5 L200 78.5 L200 350.5 L194.2 353.3 L194.2 339.2 L190 341.7 L190 351.7 L183 355.8 L183 345.8 L174.2 349.7 L174.2 340 L156.7 349.7 L156.7 361.7 L147 367.5 L147 379.2 L137.5 384.7 L137.5 372.5 L126.3 378 L126.3 365.8 L120.5 368.3 L120.5 356.3 L115 358.3 Z"/></clipPath>
<linearGradient id="g86" gradientUnits="userSpaceOnUse" x1="0" y1="50.1" x2="0" y2="418.2"><stop offset="0" stop-color="#104b3f"/><stop offset="0.182" stop-color="#104b3f"/><stop offset="0.273" stop-color="#104c3f"/><stop offset="0.364" stop-color="#104c3f"/><stop offset="0.455" stop-color="#104d3e"/><stop offset="0.545" stop-color="#104f3e"/><stop offset="0.636" stop-color="#12503d"/><stop offset="0.727" stop-color="#14513c"/><stop offset="0.818" stop-color="#15523b"/><stop offset="0.909" stop-color="#16533a"/><stop offset="1" stop-color="#17533a"/></linearGradient>
<linearGradient id="g87" gradientUnits="userSpaceOnUse" x1="0" y1="51.6" x2="0" y2="415.2"><stop offset="0" stop-color="#114f3d"/><stop offset="0.091" stop-color="#12503d"/><stop offset="0.182" stop-color="#12503d"/><stop offset="0.273" stop-color="#13503c"/><stop offset="0.364" stop-color="#14513c"/><stop offset="0.455" stop-color="#14513b"/><stop offset="0.545" stop-color="#16523b"/><stop offset="0.636" stop-color="#17533a"/><stop offset="0.727" stop-color="#185439"/><stop offset="0.818" stop-color="#195539"/><stop offset="0.909" stop-color="#1a5538"/><stop offset="1" stop-color="#1a5538"/></linearGradient>
<linearGradient id="g88" gradientUnits="userSpaceOnUse" x1="0" y1="53.1" x2="0" y2="412.3"><stop offset="0" stop-color="#12503d"/><stop offset="0.091" stop-color="#12503d"/><stop offset="0.182" stop-color="#13503d"/><stop offset="0.273" stop-color="#13513c"/><stop offset="0.364" stop-color="#14513c"/><stop offset="0.455" stop-color="#14523b"/><stop offset="0.545" stop-color="#16523b"/><stop offset="0.636" stop-color="#17533a"/><stop offset="0.727" stop-color="#185439"/><stop offset="0.818" stop-color="#195539"/><stop offset="0.909" stop-color="#1a5538"/><stop offset="1" stop-color="#1a5638"/></linearGradient>
<linearGradient id="g89" gradientUnits="userSpaceOnUse" x1="0" y1="54.5" x2="0" y2="409.5"><stop offset="0" stop-color="#113e42"/><stop offset="0.091" stop-color="#113e42"/><stop offset="0.182" stop-color="#113f42"/><stop offset="0.273" stop-color="#104142"/><stop offset="0.364" stop-color="#13503d"/><stop offset="0.455" stop-color="#14523b"/><stop offset="0.545" stop-color="#16523b"/><stop offset="0.636" stop-color="#17533a"/><stop offset="0.727" stop-color="#185439"/><stop offset="0.818" stop-color="#195539"/><stop offset="0.909" stop-color="#1a5538"/><stop offset="1" stop-color="#1a5638"/></linearGradient>
<linearGradient id="g90" gradientUnits="userSpaceOnUse" x1="0" y1="55.9" x2="0" y2="406.7"><stop offset="0" stop-color="#200027"/><stop offset="0.091" stop-color="#200228"/><stop offset="0.182" stop-color="#200329"/><stop offset="0.273" stop-color="#20042a"/><stop offset="0.364" stop-color="#1f1b3d"/><stop offset="0.455" stop-color="#0f4641"/><stop offset="0.545" stop-color="#16523b"/><stop offset="0.636" stop-color="#17533a"/><stop offset="0.727" stop-color="#185439"/><stop offset="0.818" stop-color="#195539"/><stop offset="0.909" stop-color="#1a5538"/><stop offset="1" stop-color="#1a5638"/></linearGradient>
<linearGradient id="g91" gradientUnits="userSpaceOnUse" x1="0" y1="57.3" x2="0" y2="404"><stop offset="0" stop-color="#200027"/><stop offset="0.091" stop-color="#200228"/><stop offset="0.182" stop-color="#200329"/><stop offset="0.273" stop-color="#20042a"/><stop offset="0.364" stop-color="#211539"/><stop offset="0.455" stop-color="#192b42"/><stop offset="0.545" stop-color="#0f4541"/><stop offset="0.636" stop-color="#16523b"/><stop offset="0.727" stop-color="#185439"/><stop offset="0.818" stop-color="#195539"/><stop offset="0.909" stop-color="#1a5538"/><stop offset="1" stop-color="#1a5538"/></linearGradient>
<linearGradient id="g92" gradientUnits="userSpaceOnUse" x1="0" y1="58.6" x2="0" y2="401.3"><stop offset="0" stop-color="#200027"/><stop offset="0.091" stop-color="#200228"/><stop offset="0.182" stop-color="#200329"/><stop offset="0.273" stop-color="#20042a"/><stop offset="0.364" stop-color="#211539"/><stop offset="0.455" stop-color="#192b42"/><stop offset="0.545" stop-color="#114042"/><stop offset="0.636" stop-color="#104b3f"/><stop offset="0.727" stop-color="#104e3e"/><stop offset="0.818" stop-color="#114f3d"/><stop offset="0.909" stop-color="#13503c"/><stop offset="1" stop-color="#14513c"/></linearGradient>
<linearGradient id="g93" gradientUnits="userSpaceOnUse" x1="0" y1="59.9" x2="0" y2="398.7"><stop offset="0" stop-color="#200027"/><stop offset="0.091" stop-color="#200228"/><stop offset="0.182" stop-color="#200329"/><stop offset="0.273" stop-color="#20042a"/><stop offset="0.364" stop-color="#211539"/><stop offset="0.455" stop-color="#192b42"/><stop offset="0.545" stop-color="#114042"/><stop offset="0.636" stop-color="#104b3f"/><stop offset="0.727" stop-color="#104d3e"/><stop offset="0.818" stop-color="#104e3e"/><stop offset="0.909" stop-color="#12503d"/><stop offset="1" stop-color="#13513c"/></linearGradient>
<linearGradient id="g94" gradientUnits="userSpaceOnUse" x1="0" y1="61.2" x2="0" y2="396.2"><stop offset="0" stop-color="#200027"/><stop offset="0.091" stop-color="#200228"/><stop offset="0.182" stop-color="#200329"/><stop offset="0.273" stop-color="#20042a"/><stop offset="0.364" stop-color="#211539"/><stop offset="0.455" stop-color="#192b42"/><stop offset="0.545" stop-color="#104042"/><stop offset="0.636" stop-color="#104d3f"/><stop offset="0.727" stop-color="#11503d"/><stop offset="0.818" stop-color="#13503c"/><stop offset="0.909" stop-color="#14513c"/><stop offset="1" stop-color="#15523b"/></linearGradient>
<linearGradient id="g95" gradientUnits="userSpaceOnUse" x1="0" y1="62.4" x2="0" y2="393.7"><stop offset="0" stop-color="#200027"/><stop offset="0.091" stop-color="#200228"/><stop offset="0.182" stop-color="#200329"/><stop offset="0.273" stop-color="#20042a"/><stop offset="0.364" stop-color="#211539"/><stop offset="0.455" stop-color="#143643"/><stop offset="0.545" stop-color="#104b3f"/><stop offset="0.636" stop-color="#104e3e"/><stop offset="0.727" stop-color="#12503d"/><stop offset="0.818" stop-color="#13513c"/><stop offset="0.909" stop-color="#14513b"/><stop offset="1" stop-color="#15523b"/></linearGradient>
<linearGradient id="g96" gradientUnits="userSpaceOnUse" x1="0" y1="63.6" x2="0" y2="391.3"><stop offset="0" stop-color="#1e1f3f"/><stop offset="0.091" stop-color="#1e2040"/><stop offset="0.182" stop-color="#1d2140"/><stop offset="0.273" stop-color="#1c2340"/><stop offset="0.364" stop-color="#123c42"/><stop offset="0.455" stop-color="#0f4840"/><stop offset="0.545" stop-color="#104b3f"/><stop offset="0.636" stop-color="#104e3e"/><stop offset="0.727" stop-color="#12503d"/><stop offset="0.818" stop-color="#13513c"/><stop offset="0.909" stop-color="#14513b"/><stop offset="1" stop-color="#15523b"/></linearGradient>
<linearGradient id="g97" gradientUnits="userSpaceOnUse" x1="0" y1="64.8" x2="0" y2="388.9"><stop offset="0" stop-color="#113f42"/><stop offset="0.091" stop-color="#104042"/><stop offset="0.182" stop-color="#104142"/><stop offset="0.273" stop-color="#104142"/><stop offset="0.364" stop-color="#0f4442"/><stop offset="0.455" stop-color="#0f4840"/><stop offset="0.545" stop-color="#104b3f"/><stop offset="0.636" stop-color="#104e3e"/><stop offset="0.727" stop-color="#12503d"/><stop offset="0.818" stop-color="#13513c"/><stop offset="0.909" stop-color="#14513b"/><stop offset="1" stop-color="#15523b"/></linearGradient>
<linearGradient id="g98" gradientUnits="userSpaceOnUse" x1="0" y1="66" x2="0" y2="386.6"><stop offset="0" stop-color="#113f42"/><stop offset="0.091" stop-color="#104042"/><stop offset="0.182" stop-color="#104142"/><stop offset="0.273" stop-color="#104142"/><stop offset="0.364" stop-color="#0f4442"/><stop offset="0.455" stop-color="#0f4840"/><stop offset="0.545" stop-color="#104b3f"/><stop offset="0.636" stop-color="#104e3e"/><stop offset="0.727" stop-color="#12503d"/><stop offset="0.818" stop-color="#13513c"/><stop offset="0.909" stop-color="#14513b"/><stop offset="1" stop-color="#15523b"/></linearGradient>
<linearGradient id="g99" gradientUnits="userSpaceOnUse" x1="0" y1="67.1" x2="0" y2="384.3"><stop offset="0" stop-color="#113f42"/><stop offset="0.091" stop-color="#104042"/><stop offset="0.182" stop-color="#104142"/><stop offset="0.273" stop-color="#104142"/><stop offset="0.364" stop-color="#0f4442"/><stop offset="0.455" stop-color="#0f4840"/><stop offset="0.545" stop-color="#104b3f"/><stop offset="0.636" stop-color="#104e3e"/><stop offset="0.727" stop-color="#12503d"/><stop offset="0.818" stop-color="#13513c"/><stop offset="0.909" stop-color="#14513b"/><stop offset="1" stop-color="#15523b"/></linearGradient>
<linearGradient id="g100" gradientUnits="userSpaceOnUse" x1="0" y1="68.2" x2="0" y2="382.1"><stop offset="0" stop-color="#1c2541"/><stop offset="0.091" stop-color="#1b2541"/><stop offset="0.182" stop-color="#1b2641"/><stop offset="0.273" stop-color="#1a2841"/><stop offset="0.364" stop-color="#113f42"/><stop offset="0.455" stop-color="#0f4840"/><stop offset="0.545" stop-color="#104b3f"/><stop offset="0.636" stop-color="#104e3e"/><stop offset="0.727" stop-color="#12503d"/><stop offset="0.818" stop-color="#13513c"/><stop offset="0.909" stop-color="#14513b"/><stop offset="1" stop-color="#15523b"/></linearGradient>
<linearGradient id="g101" gradientUnits="userSpaceOnUse" x1="0" y1="69.3" x2="0" y2="379.9"><stop offset="0" stop-color="#200027"/><stop offset="0.091" stop-color="#200228"/><stop offset="0.182" stop-color="#200329"/><stop offset="0.273" stop-color="#20042a"/><stop offset="0.364" stop-color="#211539"/><stop offset="0.455" stop-color="#133943"/><stop offset="0.545" stop-color="#104b3f"/><stop offset="0.636" stop-color="#104e3e"/><stop offset="0.727" stop-color="#12503d"/><stop offset="0.818" stop-color="#13513c"/><stop offset="0.909" stop-color="#14513b"/><stop offset="1" stop-color="#15523b"/></linearGradient>
<linearGradient id="g102" gradientUnits="userSpaceOnUse" x1="0" y1="70.4" x2="0" y2="377.8"><stop offset="0" stop-color="#200027"/><stop offset="0.091" stop-color="#200228"/><stop offset="0.182" stop-color="#200329"/><stop offset="0.273" stop-color="#20042a"/><stop offset="0.364" stop-color="#211539"/><stop offset="0.455" stop-color="#192b42"/><stop offset="0.545" stop-color="#104142"/><stop offset="0.636" stop-color="#104d3f"/><stop offset="0.727" stop-color="#12503d"/><stop offset="0.818" stop-color="#13503c"/><stop offset="0.909" stop-color="#14513c"/><stop offset="1" stop-color="#15523b"/></linearGradient>
<linearGradient id="g103" gradientUnits="userSpaceOnUse" x1="0" y1="71.4" x2="0" y2="375.7"><stop offset="0" stop-color="#200027"/><stop offset="0.091" stop-color="#200228"/><stop offset="0.182" stop-color="#200329"/><stop offset="0.273" stop-color="#20042a"/><stop offset="0.364" stop-color="#211539"/><stop offset="0.455" stop-color="#192b42"/><stop offset="0.545" stop-color="#114042"/><stop offset="0.636" stop-color="#104b3f"/><stop offset="0.727" stop-color="#104d3e"/><stop offset="0.818" stop-color="#104f3e"/><stop offset="0.909" stop-color="#12503d"/><stop offset="1" stop-color="#13513c"/></linearGradient>
<linearGradient id="g104" gradientUnits="userSpaceOnUse" x1="0" y1="72.4" x2="0" y2="373.7"><stop offset="0" stop-color="#200027"/><stop offset="0.091" stop-color="#200228"/><stop offset="0.182" stop-color="#200329"/><stop offset="0.273" stop-color="#20042a"/><stop offset="0.364" stop-color="#211539"/><stop offset="0.455" stop-color="#192b42"/><stop offset="0.545" stop-color="#114042"/><stop offset="0.636" stop-color="#104b3f"/><stop offset="0.727" stop-color="#104d3e"/><stop offset="0.818" stop-color="#104e3e"/><stop offset="0.909" stop-color="#12503d"/><stop offset="1" stop-color="#13513c"/></linearGradient>
<linearGradient id="g105" gradientUnits="userSpaceOnUse" x1="0" y1="73.4" x2="0" y2="371.7"><stop offset="0" stop-color="#200027"/><stop offset="0.091" stop-color="#200228"/><stop offset="0.182" stop-color="#200329"/><stop offset="0.273" stop-color="#20042a"/><stop offset="0.364" stop-color="#211539"/><stop offset="0.455" stop-color="#192b42"/><stop offset="0.545" stop-color="#114042"/><stop offset="0.636" stop-color="#104b3f"/><stop offset="0.727" stop-color="#104d3e"/><stop offset="0.818" stop-color="#104e3e"/><stop offset="0.909" stop-color="#12503d"/><stop offset="1" stop-color="#13513c"/></linearGradient>
<linearGradient id="g106" gradientUnits="userSpaceOnUse" x1="0" y1="74.4" x2="0" y2="369.7"><stop offset="0" stop-color="#200027"/><stop offset="0.091" stop-color="#200228"/><stop offset="0.182" stop-color="#200329"/><stop offset="0.273" stop-color="#20042a"/><stop offset="0.364" stop-color="#211539"/><stop offset="0.455" stop-color="#192b42"/><stop offset="0.545" stop-color="#104042"/><stop offset="0.636" stop-color="#104d3f"/><stop offset="0.727" stop-color="#11503d"/><stop offset="0.818" stop-color="#13503c"/><stop offset="0.909" stop-color="#14513c"/><stop offset="1" stop-color="#15523b"/></linearGradient>
<linearGradient id="g107" gradientUnits="userSpaceOnUse" x1="0" y1="75.4" x2="0" y2="367.8"><stop offset="0" stop-color="#200027"/><stop offset="0.091" stop-color="#200228"/><stop offset="0.182" stop-color="#200329"/><stop offset="0.273" stop-color="#20042a"/><stop offset="0.364" stop-color="#211539"/><stop offset="0.455" stop-color="#143643"/><stop offset="0.545" stop-color="#104b3f"/><stop offset="0.636" stop-color="#104e3e"/><stop offset="0.727" stop-color="#12503d"/><stop offset="0.818" stop-color="#13513c"/><stop offset="0.909" stop-color="#14513b"/><stop offset="1" stop-color="#15523b"/></linearGradient>
<linearGradient id="g108" gradientUnits="userSpaceOnUse" x1="0" y1="76.3" x2="0" y2="365.9"><stop offset="0" stop-color="#1e1f3f"/><stop offset="0.091" stop-color="#1e2040"/><stop offset="0.182" stop-color="#1d2140"/><stop offset="0.273" stop-color="#1c2340"/><stop offset="0.364" stop-color="#123c42"/><stop offset="0.455" stop-color="#0f4840"/><stop offset="0.545" stop-color="#104b3f"/><stop offset="0.636" stop-color="#104e3e"/><stop offset="0.727" stop-color="#12503d"/><stop offset="0.818" stop-color="#13513c"/><stop offset="0.909" stop-color="#14513b"/><stop offset="1" stop-color="#15523b"/></linearGradient>
<linearGradient id="g109" gradientUnits="userSpaceOnUse" x1="0" y1="77.3" x2="0" y2="364"><stop offset="0" stop-color="#113f42"/><stop offset="0.091" stop-color="#104042"/><stop offset="0.182" stop-color="#104142"/><stop offset="0.273" stop-color="#104142"/><stop offset="0.364" stop-color="#0f4442"/><stop offset="0.455" stop-color="#0f4840"/><stop offset="0.545" stop-color="#104b3f"/><stop offset="0.636" stop-color="#104e3e"/><stop offset="0.727" stop-color="#12503d"/><stop offset="0.818" stop-color="#13513c"/><stop offset="0.909" stop-color="#14513b"/><stop offset="1" stop-color="#15523b"/></linearGradient>
<linearGradient id="g110" gradientUnits="userSpaceOnUse" x1="0" y1="77.7" x2="0" y2="363.1"><stop offset="0" stop-color="#113f42"/><stop offset="0.091" stop-color="#104042"/><stop offset="0.182" stop-color="#104142"/><stop offset="0.273" stop-color="#104142"/><stop offset="0.364" stop-color="#0f4442"/><stop offset="0.455" stop-color="#0f4840"/><stop offset="0.545" stop-color="#104b3f"/><stop offset="0.636" stop-color="#104e3e"/><stop offset="0.727" stop-color="#12503d"/><stop offset="0.818" stop-color="#13513c"/><stop offset="0.909" stop-color="#14513b"/><stop offset="1" stop-color="#15523b"/></linearGradient>
<clipPath id="cb2"><path d="M197 45.5 L268.8 77.5 L269.2 285.3 L271.7 285 L271.7 314.7 L269.2 315.5 L268.8 325.9 L266.3 328 L266.3 337.6 L263.6 339.2 L263.6 350.9 L260.6 353.1 L260.6 364.8 L249.3 374.4 L249 364.3 L228.1 380.8 L228.1 393.6 L217.2 402.7 L216.5 391.7 L208.4 397.4 L207.9 385.3 L204.2 387.8 L203.3 375.5 L199.4 376.6 L198.5 352 L194.3 354 L194.3 325.5 L198.5 324.6 Z"/></clipPath>
<linearGradient id="g111" gradientUnits="userSpaceOnUse" x1="0" y1="45.6" x2="0" y2="427.2"><stop offset="0" stop-color="#12503d"/><stop offset="0.091" stop-color="#12503d"/><stop offset="0.182" stop-color="#13503d"/><stop offset="0.273" stop-color="#13513c"/><stop offset="0.364" stop-color="#14513c"/><stop offset="0.455" stop-color="#14523b"/><stop offset="0.545" stop-color="#16523b"/><stop offset="0.636" stop-color="#17533a"/><stop offset="0.727" stop-color="#185439"/><stop offset="0.818" stop-color="#195539"/><stop offset="0.909" stop-color="#1a5538"/><stop offset="1" stop-color="#1a5638"/></linearGradient>
<linearGradient id="g112" gradientUnits="userSpaceOnUse" x1="0" y1="46.5" x2="0" y2="425.4"><stop offset="0" stop-color="#12503d"/><stop offset="0.091" stop-color="#12503d"/><stop offset="0.182" stop-color="#13503d"/><stop offset="0.273" stop-color="#13513c"/><stop offset="0.364" stop-color="#14513c"/><stop offset="0.455" stop-color="#14523b"/><stop offset="0.545" stop-color="#16523b"/><stop offset="0.636" stop-color="#17533a"/><stop offset="0.727" stop-color="#185439"/><stop offset="0.818" stop-color="#195539"/><stop offset="0.909" stop-color="#1a5538"/><stop offset="1" stop-color="#1a5638"/></linearGradient>
<linearGradient id="g113" gradientUnits="userSpaceOnUse" x1="0" y1="48.2" x2="0" y2="422"><stop offset="0" stop-color="#12503d"/><stop offset="0.091" stop-color="#12503d"/><stop offset="0.182" stop-color="#13503d"/><stop offset="0.273" stop-color="#13513c"/><stop offset="0.364" stop-color="#14513c"/><stop offset="0.455" stop-color="#14523b"/><stop offset="0.545" stop-color="#16523b"/><stop offset="0.636" stop-color="#17533a"/><stop offset="0.727" stop-color="#185439"/><stop offset="0.818" stop-color="#195539"/><stop offset="0.909" stop-color="#1a5538"/><stop offset="1" stop-color="#1a5638"/></linearGradient>
<linearGradient id="g114" gradientUnits="userSpaceOnUse" x1="0" y1="49.9" x2="0" y2="418.7"><stop offset="0" stop-color="#12503d"/><stop offset="0.091" stop-color="#12503d"/><stop offset="0.182" stop-color="#13503d"/><stop offset="0.273" stop-color="#13513c"/><stop offset="0.364" stop-color="#14513c"/><stop offset="0.455" stop-color="#14523b"/><stop offset="0.545" stop-color="#16523b"/><stop offset="0.636" stop-color="#17533a"/><stop offset="0.727" stop-color="#185439"/><stop offset="0.818" stop-color="#195539"/><stop offset="0.909" stop-color="#1a5538"/><stop offset="1" stop-color="#1a5638"/></linearGradient>
<linearGradient id="g115" gradientUnits="userSpaceOnUse" x1="0" y1="51.5" x2="0" y2="415.4"><stop offset="0" stop-color="#153543"/><stop offset="0.091" stop-color="#143643"/><stop offset="0.182" stop-color="#143643"/><stop offset="0.273" stop-color="#133843"/><stop offset="0.364" stop-color="#104d3e"/><stop offset="0.455" stop-color="#14523b"/><stop offset="0.545" stop-color="#16523b"/><stop offset="0.636" stop-color="#17533a"/><stop offset="0.727" stop-color="#185439"/><stop offset="0.818" stop-color="#195539"/><stop offset="0.909" stop-color="#1a5538"/><stop offset="1" stop-color="#1a5638"/></linearGradient>
<linearGradient id="g116" gradientUnits="userSpaceOnUse" x1="0" y1="53.1" x2="0" y2="412.3"><stop offset="0" stop-color="#200027"/><stop offset="0.091" stop-color="#200228"/><stop offset="0.182" stop-color="#200329"/><stop offset="0.273" stop-color="#20042a"/><stop offset="0.364" stop-color="#20173a"/><stop offset="0.455" stop-color="#104142"/><stop offset="0.545" stop-color="#16523b"/><stop offset="0.636" stop-color="#17533a"/><stop offset="0.727" stop-color="#185439"/><stop offset="0.818" stop-color="#195539"/><stop offset="0.909" stop-color="#1a5538"/><stop offset="1" stop-color="#1a5638"/></linearGradient>
<linearGradient id="g117" gradientUnits="userSpaceOnUse" x1="0" y1="54.7" x2="0" y2="409.2"><stop offset="0" stop-color="#200027"/><stop offset="0.091" stop-color="#200228"/><stop offset="0.182" stop-color="#200329"/><stop offset="0.273" stop-color="#20042a"/><stop offset="0.364" stop-color="#211539"/><stop offset="0.455" stop-color="#192b42"/><stop offset="0.545" stop-color="#0f4342"/><stop offset="0.636" stop-color="#14513c"/><stop offset="0.727" stop-color="#185439"/><stop offset="0.818" stop-color="#195439"/><stop offset="0.909" stop-color="#195538"/><stop offset="1" stop-color="#1a5538"/></linearGradient>
<linearGradient id="g118" gradientUnits="userSpaceOnUse" x1="0" y1="56.2" x2="0" y2="406.2"><stop offset="0" stop-color="#200027"/><stop offset="0.091" stop-color="#200228"/><stop offset="0.182" stop-color="#200329"/><stop offset="0.273" stop-color="#20042a"/><stop offset="0.364" stop-color="#211539"/><stop offset="0.455" stop-color="#192b42"/><stop offset="0.545" stop-color="#114042"/><stop offset="0.636" stop-color="#104b3f"/><stop offset="0.727" stop-color="#104e3e"/><stop offset="0.818" stop-color="#104f3e"/><stop offset="0.909" stop-color="#12503d"/><stop offset="1" stop-color="#13513c"/></linearGradient>
<linearGradient id="g119" gradientUnits="userSpaceOnUse" x1="0" y1="57.6" x2="0" y2="403.3"><stop offset="0" stop-color="#200027"/><stop offset="0.091" stop-color="#200228"/><stop offset="0.182" stop-color="#200329"/><stop offset="0.273" stop-color="#20042a"/><stop offset="0.364" stop-color="#211539"/><stop offset="0.455" stop-color="#192b42"/><stop offset="0.545" stop-color="#114042"/><stop offset="0.636" stop-color="#104b3f"/><stop offset="0.727" stop-color="#104d3e"/><stop offset="0.818" stop-color="#104e3e"/><stop offset="0.909" stop-color="#12503d"/><stop offset="1" stop-color="#13513c"/></linearGradient>
<linearGradient id="g120" gradientUnits="userSpaceOnUse" x1="0" y1="59" x2="0" y2="400.4"><stop offset="0" stop-color="#200027"/><stop offset="0.091" stop-color="#200228"/><stop offset="0.182" stop-color="#200329"/><stop offset="0.273" stop-color="#20042a"/><stop offset="0.364" stop-color="#211539"/><stop offset="0.455" stop-color="#192b42"/><stop offset="0.545" stop-color="#114042"/><stop offset="0.636" stop-color="#104b3f"/><stop offset="0.727" stop-color="#104d3e"/><stop offset="0.818" stop-color="#104e3e"/><stop offset="0.909" stop-color="#12503d"/><stop offset="1" stop-color="#13513c"/></linearGradient>
<linearGradient id="g121" gradientUnits="userSpaceOnUse" x1="0" y1="60.4" x2="0" y2="397.6"><stop offset="0" stop-color="#200027"/><stop offset="0.091" stop-color="#200228"/><stop offset="0.182" stop-color="#200329"/><stop offset="0.273" stop-color="#20042a"/><stop offset="0.364" stop-color="#211539"/><stop offset="0.455" stop-color="#192b42"/><stop offset="0.545" stop-color="#104142"/><stop offset="0.636" stop-color="#104d3f"/><stop offset="0.727" stop-color="#12503d"/><stop offset="0.818" stop-color="#13503c"/><stop offset="0.909" stop-color="#14513c"/><stop offset="1" stop-color="#15523b"/></linearGradient>
<linearGradient id="g122" gradientUnits="userSpaceOnUse" x1="0" y1="61.8" x2="0" y2="394.9"><stop offset="0" stop-color="#200027"/><stop offset="0.091" stop-color="#200228"/><stop offset="0.182" stop-color="#200329"/><stop offset="0.273" stop-color="#20042a"/><stop offset="0.364" stop-color="#211539"/><stop offset="0.455" stop-color="#143743"/><stop offset="0.545" stop-color="#104b3f"/><stop offset="0.636" stop-color="#104e3e"/><stop offset="0.727" stop-color="#12503d"/><stop offset="0.818" stop-color="#13513c"/><stop offset="0.909" stop-color="#14513b"/><stop offset="1" stop-color="#15523b"/></linearGradient>
<linearGradient id="g123" gradientUnits="userSpaceOnUse" x1="0" y1="63.1" x2="0" y2="392.3"><stop offset="0" stop-color="#1d2240"/><stop offset="0.091" stop-color="#1d2340"/><stop offset="0.182" stop-color="#1c2440"/><stop offset="0.273" stop-color="#1b2641"/><stop offset="0.364" stop-color="#113e42"/><stop offset="0.455" stop-color="#0f4840"/><stop offset="0.545" stop-color="#104b3f"/><stop offset="0.636" stop-color="#104e3e"/><stop offset="0.727" stop-color="#12503d"/><stop offset="0.818" stop-color="#13513c"/><stop offset="0.909" stop-color="#14513b"/><stop offset="1" stop-color="#15523b"/></linearGradient>
<linearGradient id="g124" gradientUnits="userSpaceOnUse" x1="0" y1="64.4" x2="0" y2="389.7"><stop offset="0" stop-color="#143743"/><stop offset="0.091" stop-color="#133843"/><stop offset="0.182" stop-color="#133943"/><stop offset="0.273" stop-color="#133a43"/><stop offset="0.364" stop-color="#0f4442"/><stop offset="0.455" stop-color="#0f4840"/><stop offset="0.545" stop-color="#104b3f"/><stop offset="0.636" stop-color="#104e3e"/><stop offset="0.727" stop-color="#12503d"/><stop offset="0.818" stop-color="#13513c"/><stop offset="0.909" stop-color="#14513b"/><stop offset="1" stop-color="#15523b"/></linearGradient>
<linearGradient id="g125" gradientUnits="userSpaceOnUse" x1="0" y1="65.7" x2="0" y2="387.2"><stop offset="0" stop-color="#200027"/><stop offset="0.091" stop-color="#200228"/><stop offset="0.182" stop-color="#200329"/><stop offset="0.273" stop-color="#20042b"/><stop offset="0.364" stop-color="#1e1f3f"/><stop offset="0.455" stop-color="#104242"/><stop offset="0.545" stop-color="#104b3f"/><stop offset="0.636" stop-color="#104e3e"/><stop offset="0.727" stop-color="#12503d"/><stop offset="0.818" stop-color="#13513c"/><stop offset="0.909" stop-color="#14513b"/><stop offset="1" stop-color="#15523b"/></linearGradient>
<linearGradient id="g126" gradientUnits="userSpaceOnUse" x1="0" y1="66.9" x2="0" y2="384.7"><stop offset="0" stop-color="#200027"/><stop offset="0.091" stop-color="#200228"/><stop offset="0.182" stop-color="#200329"/><stop offset="0.273" stop-color="#20042a"/><stop offset="0.364" stop-color="#211539"/><stop offset="0.455" stop-color="#192b42"/><stop offset="0.545" stop-color="#0f4542"/><stop offset="0.636" stop-color="#104e3e"/><stop offset="0.727" stop-color="#12503d"/><stop offset="0.818" stop-color="#13513c"/><stop offset="0.909" stop-color="#14513b"/><stop offset="1" stop-color="#15523b"/></linearGradient>
<linearGradient id="g127" gradientUnits="userSpaceOnUse" x1="0" y1="68.1" x2="0" y2="382.3"><stop offset="0" stop-color="#200027"/><stop offset="0.091" stop-color="#200228"/><stop offset="0.182" stop-color="#200329"/><stop offset="0.273" stop-color="#20042a"/><stop offset="0.364" stop-color="#211539"/><stop offset="0.455" stop-color="#192b42"/><stop offset="0.545" stop-color="#114042"/><stop offset="0.636" stop-color="#104b3f"/><stop offset="0.727" stop-color="#104e3e"/><stop offset="0.818" stop-color="#114f3e"/><stop offset="0.909" stop-color="#12503d"/><stop offset="1" stop-color="#13513c"/></linearGradient>
<linearGradient id="g128" gradientUnits="userSpaceOnUse" x1="0" y1="69.3" x2="0" y2="379.9"><stop offset="0" stop-color="#200027"/><stop offset="0.091" stop-color="#200228"/><stop offset="0.182" stop-color="#200329"/><stop offset="0.273" stop-color="#20042a"/><stop offset="0.364" stop-color="#211539"/><stop offset="0.455" stop-color="#192b42"/><stop offset="0.545" stop-color="#114042"/><stop offset="0.636" stop-color="#104b3f"/><stop offset="0.727" stop-color="#104d3e"/><stop offset="0.818" stop-color="#104e3e"/><stop offset="0.909" stop-color="#12503d"/><stop offset="1" stop-color="#13513c"/></linearGradient>
<linearGradient id="g129" gradientUnits="userSpaceOnUse" x1="0" y1="70.5" x2="0" y2="377.6"><stop offset="0" stop-color="#200027"/><stop offset="0.091" stop-color="#200228"/><stop offset="0.182" stop-color="#200329"/><stop offset="0.273" stop-color="#20042a"/><stop offset="0.364" stop-color="#211539"/><stop offset="0.455" stop-color="#192b42"/><stop offset="0.545" stop-color="#114042"/><stop offset="0.636" stop-color="#104b3f"/><stop offset="0.727" stop-color="#104d3e"/><stop offset="0.818" stop-color="#104f3e"/><stop offset="0.909" stop-color="#12503d"/><stop offset="1" stop-color="#13513c"/></linearGradient>
<linearGradient id="g130" gradientUnits="userSpaceOnUse" x1="0" y1="71.6" x2="0" y2="375.4"><stop offset="0" stop-color="#200027"/><stop offset="0.091" stop-color="#200228"/><stop offset="0.182" stop-color="#200329"/><stop offset="0.273" stop-color="#20042a"/><stop offset="0.364" stop-color="#211539"/><stop offset="0.455" stop-color="#192b42"/><stop offset="0.545" stop-color="#104242"/><stop offset="0.636" stop-color="#104f3e"/><stop offset="0.727" stop-color="#13513c"/><stop offset="0.818" stop-color="#15523b"/><stop offset="0.909" stop-color="#16523b"/><stop offset="1" stop-color="#17533a"/></linearGradient>
<linearGradient id="g131" gradientUnits="userSpaceOnUse" x1="0" y1="72.7" x2="0" y2="373.2"><stop offset="0" stop-color="#200027"/><stop offset="0.091" stop-color="#200228"/><stop offset="0.182" stop-color="#200329"/><stop offset="0.273" stop-color="#20042a"/><stop offset="0.364" stop-color="#20163a"/><stop offset="0.455" stop-color="#113e42"/><stop offset="0.545" stop-color="#104e3e"/><stop offset="0.636" stop-color="#12503d"/><stop offset="0.727" stop-color="#14513c"/><stop offset="0.818" stop-color="#15523b"/><stop offset="0.909" stop-color="#16523b"/><stop offset="1" stop-color="#17533a"/></linearGradient>
<linearGradient id="g132" gradientUnits="userSpaceOnUse" x1="0" y1="73.8" x2="0" y2="371"><stop offset="0" stop-color="#163142"/><stop offset="0.091" stop-color="#163242"/><stop offset="0.182" stop-color="#163243"/><stop offset="0.273" stop-color="#153543"/><stop offset="0.364" stop-color="#0f4940"/><stop offset="0.455" stop-color="#104d3f"/><stop offset="0.545" stop-color="#104e3e"/><stop offset="0.636" stop-color="#12503d"/><stop offset="0.727" stop-color="#14513c"/><stop offset="0.818" stop-color="#15523b"/><stop offset="0.909" stop-color="#16523b"/><stop offset="1" stop-color="#17533a"/></linearGradient>
<linearGradient id="g133" gradientUnits="userSpaceOnUse" x1="0" y1="74.8" x2="0" y2="368.9"><stop offset="0" stop-color="#104a40"/><stop offset="0.091" stop-color="#104b3f"/><stop offset="0.273" stop-color="#104b3f"/><stop offset="0.364" stop-color="#104c3f"/><stop offset="0.455" stop-color="#104d3f"/><stop offset="0.545" stop-color="#104e3e"/><stop offset="0.636" stop-color="#12503d"/><stop offset="0.727" stop-color="#14513c"/><stop offset="0.818" stop-color="#15523b"/><stop offset="0.909" stop-color="#16523b"/><stop offset="1" stop-color="#17533a"/></linearGradient>
<linearGradient id="g134" gradientUnits="userSpaceOnUse" x1="0" y1="75.9" x2="0" y2="366.8"><stop offset="0" stop-color="#104a40"/><stop offset="0.091" stop-color="#104b3f"/><stop offset="0.273" stop-color="#104b3f"/><stop offset="0.364" stop-color="#104c3f"/><stop offset="0.455" stop-color="#104d3f"/><stop offset="0.545" stop-color="#104e3e"/><stop offset="0.636" stop-color="#12503d"/><stop offset="0.727" stop-color="#14513c"/><stop offset="0.818" stop-color="#15523b"/><stop offset="0.909" stop-color="#16523b"/><stop offset="1" stop-color="#17533a"/></linearGradient>
<linearGradient id="g135" gradientUnits="userSpaceOnUse" x1="0" y1="76.9" x2="0" y2="364.8"><stop offset="0" stop-color="#104a40"/><stop offset="0.091" stop-color="#104b3f"/><stop offset="0.273" stop-color="#104b3f"/><stop offset="0.364" stop-color="#104c3f"/><stop offset="0.455" stop-color="#104d3f"/><stop offset="0.545" stop-color="#104e3e"/><stop offset="0.636" stop-color="#12503d"/><stop offset="0.727" stop-color="#14513c"/><stop offset="0.818" stop-color="#15523b"/><stop offset="0.909" stop-color="#16523b"/><stop offset="1" stop-color="#17533a"/></linearGradient>
<linearGradient id="g136" gradientUnits="userSpaceOnUse" x1="0" y1="77.4" x2="0" y2="363.8"><stop offset="0" stop-color="#104a40"/><stop offset="0.091" stop-color="#104b3f"/><stop offset="0.273" stop-color="#104b3f"/><stop offset="0.364" stop-color="#104c3f"/><stop offset="0.455" stop-color="#104d3f"/><stop offset="0.545" stop-color="#104e3e"/><stop offset="0.636" stop-color="#12503d"/><stop offset="0.727" stop-color="#14513c"/><stop offset="0.818" stop-color="#15523b"/><stop offset="0.909" stop-color="#16523b"/><stop offset="1" stop-color="#17533a"/></linearGradient>
<clipPath id="cb3"><path d="M288.3 41.3 L337.5 74.5 L336.7 319.6 L334.6 321.4 L334.6 331.4 L332.8 333.2 L332.8 345.7 L328.9 349.8 L328.9 360.5 L325.3 365 L324.8 354.6 L321.3 359.1 L320.9 348.4 L311.1 359.1 L311.1 370 L305.5 375.9 L305.5 390.2 L301.1 396.7 L300.2 384.5 L295.2 390.7 L294.6 377.1 L292.2 379.7 L291.6 367.6 L288.5 369.4 Z"/></clipPath>
<linearGradient id="g137" gradientUnits="userSpaceOnUse" x1="0" y1="42.4" x2="0" y2="433.7"><stop offset="0" stop-color="#12503d"/><stop offset="0.091" stop-color="#12503d"/><stop offset="0.182" stop-color="#13503d"/><stop offset="0.273" stop-color="#13513c"/><stop offset="0.364" stop-color="#14513c"/><stop offset="0.455" stop-color="#14523b"/><stop offset="0.545" stop-color="#16523b"/><stop offset="0.636" stop-color="#17533a"/><stop offset="0.727" stop-color="#185439"/><stop offset="0.818" stop-color="#195539"/><stop offset="0.909" stop-color="#1a5538"/><stop offset="1" stop-color="#1a5638"/></linearGradient>
<linearGradient id="g138" gradientUnits="userSpaceOnUse" x1="0" y1="44.2" x2="0" y2="430.1"><stop offset="0" stop-color="#12503d"/><stop offset="0.091" stop-color="#12503d"/><stop offset="0.182" stop-color="#13503d"/><stop offset="0.273" stop-color="#13513c"/><stop offset="0.364" stop-color="#14513c"/><stop offset="0.455" stop-color="#14523b"/><stop offset="0.545" stop-color="#16523b"/><stop offset="0.636" stop-color="#17533a"/><stop offset="0.727" stop-color="#185439"/><stop offset="0.818" stop-color="#195539"/><stop offset="0.909" stop-color="#1a5538"/><stop offset="1" stop-color="#1a5638"/></linearGradient>
<linearGradient id="g139" gradientUnits="userSpaceOnUse" x1="0" y1="45.9" x2="0" y2="426.7"><stop offset="0" stop-color="#12503d"/><stop offset="0.091" stop-color="#12503d"/><stop offset="0.182" stop-color="#13503d"/><stop offset="0.273" stop-color="#13513c"/><stop offset="0.364" stop-color="#14513c"/><stop offset="0.455" stop-color="#14523b"/><stop offset="0.545" stop-color="#16523b"/><stop offset="0.636" stop-color="#17533a"/><stop offset="0.727" stop-color="#185439"/><stop offset="0.818" stop-color="#195539"/><stop offset="0.909" stop-color="#1a5538"/><stop offset="1" stop-color="#1a5638"/></linearGradient>
<linearGradient id="g140" gradientUnits="userSpaceOnUse" x1="0" y1="47.6" x2="0" y2="423.3"><stop offset="0" stop-color="#192b42"/><stop offset="0.091" stop-color="#192c42"/><stop offset="0.182" stop-color="#182c42"/><stop offset="0.273" stop-color="#172f42"/><stop offset="0.364" stop-color="#0f4940"/><stop offset="0.455" stop-color="#14523b"/><stop offset="0.545" stop-color="#16523b"/><stop offset="0.636" stop-color="#17533a"/><stop offset="0.727" stop-color="#185439"/><stop offset="0.818" stop-color="#195539"/><stop offset="0.909" stop-color="#1a5538"/><stop offset="1" stop-color="#1a5638"/></linearGradient>
<linearGradient id="g141" gradientUnits="userSpaceOnUse" x1="0" y1="49.2" x2="0" y2="420.1"><stop offset="0" stop-color="#200027"/><stop offset="0.091" stop-color="#200228"/><stop offset="0.182" stop-color="#200329"/><stop offset="0.273" stop-color="#20042a"/><stop offset="0.364" stop-color="#211539"/><stop offset="0.455" stop-color="#123b42"/><stop offset="0.545" stop-color="#15523b"/><stop offset="0.636" stop-color="#17533a"/><stop offset="0.727" stop-color="#185439"/><stop offset="0.818" stop-color="#195539"/><stop offset="0.909" stop-color="#1a5538"/><stop offset="1" stop-color="#1a5638"/></linearGradient>
<linearGradient id="g142" gradientUnits="userSpaceOnUse" x1="0" y1="50.8" x2="0" y2="416.9"><stop offset="0" stop-color="#200027"/><stop offset="0.091" stop-color="#200228"/><stop offset="0.182" stop-color="#200329"/><stop offset="0.273" stop-color="#20042a"/><stop offset="0.364" stop-color="#211539"/><stop offset="0.455" stop-color="#192b42"/><stop offset="0.545" stop-color="#104142"/><stop offset="0.636" stop-color="#13503c"/><stop offset="0.727" stop-color="#17533a"/><stop offset="0.818" stop-color="#185439"/><stop offset="0.909" stop-color="#195439"/><stop offset="1" stop-color="#195538"/></linearGradient>
<linearGradient id="g143" gradientUnits="userSpaceOnUse" x1="0" y1="52.4" x2="0" y2="413.8"><stop offset="0" stop-color="#200027"/><stop offset="0.091" stop-color="#200228"/><stop offset="0.182" stop-color="#200329"/><stop offset="0.273" stop-color="#20042a"/><stop offset="0.364" stop-color="#211539"/><stop offset="0.455" stop-color="#192b42"/><stop offset="0.545" stop-color="#114042"/><stop offset="0.636" stop-color="#104b3f"/><stop offset="0.727" stop-color="#104d3e"/><stop offset="0.818" stop-color="#104e3e"/><stop offset="0.909" stop-color="#12503d"/><stop offset="1" stop-color="#13513c"/></linearGradient>
<linearGradient id="g144" gradientUnits="userSpaceOnUse" x1="0" y1="53.9" x2="0" y2="410.7"><stop offset="0" stop-color="#200027"/><stop offset="0.091" stop-color="#200228"/><stop offset="0.182" stop-color="#200329"/><stop offset="0.273" stop-color="#20042a"/><stop offset="0.364" stop-color="#211539"/><stop offset="0.455" stop-color="#192b42"/><stop offset="0.545" stop-color="#114042"/><stop offset="0.636" stop-color="#104b3f"/><stop offset="0.727" stop-color="#104d3e"/><stop offset="0.818" stop-color="#104e3e"/><stop offset="0.909" stop-color="#12503d"/><stop offset="1" stop-color="#13513c"/></linearGradient>
<linearGradient id="g145" gradientUnits="userSpaceOnUse" x1="0" y1="55.4" x2="0" y2="407.8"><stop offset="0" stop-color="#200027"/><stop offset="0.091" stop-color="#200228"/><stop offset="0.182" stop-color="#200329"/><stop offset="0.273" stop-color="#20042a"/><stop offset="0.364" stop-color="#211539"/><stop offset="0.455" stop-color="#192b42"/><stop offset="0.545" stop-color="#114042"/><stop offset="0.636" stop-color="#104c3f"/><stop offset="0.727" stop-color="#114f3e"/><stop offset="0.818" stop-color="#12503d"/><stop offset="0.909" stop-color="#13513c"/><stop offset="1" stop-color="#14513b"/></linearGradient>
<linearGradient id="g146" gradientUnits="userSpaceOnUse" x1="0" y1="56.8" x2="0" y2="404.9"><stop offset="0" stop-color="#200027"/><stop offset="0.091" stop-color="#200228"/><stop offset="0.182" stop-color="#200329"/><stop offset="0.273" stop-color="#20042a"/><stop offset="0.364" stop-color="#211539"/><stop offset="0.455" stop-color="#172f42"/><stop offset="0.545" stop-color="#0f4940"/><stop offset="0.636" stop-color="#104e3e"/><stop offset="0.727" stop-color="#12503d"/><stop offset="0.818" stop-color="#13513c"/><stop offset="0.909" stop-color="#14513b"/><stop offset="1" stop-color="#15523b"/></linearGradient>
<linearGradient id="g147" gradientUnits="userSpaceOnUse" x1="0" y1="58.2" x2="0" y2="402.1"><stop offset="0" stop-color="#220e34"/><stop offset="0.091" stop-color="#220f35"/><stop offset="0.182" stop-color="#221036"/><stop offset="0.273" stop-color="#211338"/><stop offset="0.364" stop-color="#163142"/><stop offset="0.455" stop-color="#0f4840"/><stop offset="0.545" stop-color="#104b3f"/><stop offset="0.636" stop-color="#104e3e"/><stop offset="0.727" stop-color="#12503d"/><stop offset="0.818" stop-color="#13513c"/><stop offset="0.909" stop-color="#14513b"/><stop offset="1" stop-color="#15523b"/></linearGradient>
<linearGradient id="g148" gradientUnits="userSpaceOnUse" x1="0" y1="59.6" x2="0" y2="399.3"><stop offset="0" stop-color="#113f42"/><stop offset="0.091" stop-color="#104042"/><stop offset="0.182" stop-color="#104142"/><stop offset="0.273" stop-color="#104142"/><stop offset="0.364" stop-color="#0f4442"/><stop offset="0.455" stop-color="#0f4840"/><stop offset="0.545" stop-color="#104b3f"/><stop offset="0.636" stop-color="#104e3e"/><stop offset="0.727" stop-color="#12503d"/><stop offset="0.818" stop-color="#13513c"/><stop offset="0.909" stop-color="#14513b"/><stop offset="1" stop-color="#15523b"/></linearGradient>
<linearGradient id="g149" gradientUnits="userSpaceOnUse" x1="0" y1="60.9" x2="0" y2="396.7"><stop offset="0" stop-color="#113f42"/><stop offset="0.091" stop-color="#104042"/><stop offset="0.182" stop-color="#104142"/><stop offset="0.273" stop-color="#104142"/><stop offset="0.364" stop-color="#0f4442"/><stop offset="0.455" stop-color="#0f4840"/><stop offset="0.545" stop-color="#104b3f"/><stop offset="0.636" stop-color="#104e3e"/><stop offset="0.727" stop-color="#12503d"/><stop offset="0.818" stop-color="#13513c"/><stop offset="0.909" stop-color="#14513b"/><stop offset="1" stop-color="#15523b"/></linearGradient>
<linearGradient id="g150" gradientUnits="userSpaceOnUse" x1="0" y1="62.2" x2="0" y2="394"><stop offset="0" stop-color="#1e1f3f"/><stop offset="0.091" stop-color="#1e2040"/><stop offset="0.182" stop-color="#1d2140"/><stop offset="0.273" stop-color="#1c2340"/><stop offset="0.364" stop-color="#123c42"/><stop offset="0.455" stop-color="#0f4840"/><stop offset="0.545" stop-color="#104b3f"/><stop offset="0.636" stop-color="#104e3e"/><stop offset="0.727" stop-color="#12503d"/><stop offset="0.818" stop-color="#13513c"/><stop offset="0.909" stop-color="#14513b"/><stop offset="1" stop-color="#15523b"/></linearGradient>
<linearGradient id="g151" gradientUnits="userSpaceOnUse" x1="0" y1="63.5" x2="0" y2="391.5"><stop offset="0" stop-color="#200027"/><stop offset="0.091" stop-color="#200228"/><stop offset="0.182" stop-color="#200329"/><stop offset="0.273" stop-color="#20042a"/><stop offset="0.364" stop-color="#211539"/><stop offset="0.455" stop-color="#143643"/><stop offset="0.545" stop-color="#104b3f"/><stop offset="0.636" stop-color="#104e3e"/><stop offset="0.727" stop-color="#12503d"/><stop offset="0.818" stop-color="#13513c"/><stop offset="0.909" stop-color="#14513b"/><stop offset="1" stop-color="#15523b"/></linearGradient>
<linearGradient id="g152" gradientUnits="userSpaceOnUse" x1="0" y1="64.8" x2="0" y2="389"><stop offset="0" stop-color="#200027"/><stop offset="0.091" stop-color="#200228"/><stop offset="0.182" stop-color="#200329"/><stop offset="0.273" stop-color="#20042a"/><stop offset="0.364" stop-color="#211539"/><stop offset="0.455" stop-color="#192b42"/><stop offset="0.545" stop-color="#104042"/><stop offset="0.636" stop-color="#104d3f"/><stop offset="0.727" stop-color="#11503d"/><stop offset="0.818" stop-color="#13503c"/><stop offset="0.909" stop-color="#14513c"/><stop offset="1" stop-color="#15523b"/></linearGradient>
<linearGradient id="g153" gradientUnits="userSpaceOnUse" x1="0" y1="66" x2="0" y2="386.5"><stop offset="0" stop-color="#200027"/><stop offset="0.091" stop-color="#200228"/><stop offset="0.182" stop-color="#200329"/><stop offset="0.273" stop-color="#20042a"/><stop offset="0.364" stop-color="#211539"/><stop offset="0.455" stop-color="#192b42"/><stop offset="0.545" stop-color="#114042"/><stop offset="0.636" stop-color="#104b3f"/><stop offset="0.727" stop-color="#104d3e"/><stop offset="0.818" stop-color="#104e3e"/><stop offset="0.909" stop-color="#12503d"/><stop offset="1" stop-color="#13513c"/></linearGradient>
<linearGradient id="g154" gradientUnits="userSpaceOnUse" x1="0" y1="67.2" x2="0" y2="384.2"><stop offset="0" stop-color="#200027"/><stop offset="0.091" stop-color="#200228"/><stop offset="0.182" stop-color="#200329"/><stop offset="0.273" stop-color="#20042a"/><stop offset="0.364" stop-color="#211539"/><stop offset="0.455" stop-color="#192b42"/><stop offset="0.545" stop-color="#114042"/><stop offset="0.636" stop-color="#104b3f"/><stop offset="0.727" stop-color="#104d3e"/><stop offset="0.818" stop-color="#104f3e"/><stop offset="0.909" stop-color="#12503d"/><stop offset="1" stop-color="#13513c"/></linearGradient>
<linearGradient id="g155" gradientUnits="userSpaceOnUse" x1="0" y1="68.4" x2="0" y2="381.8"><stop offset="0" stop-color="#200027"/><stop offset="0.091" stop-color="#200228"/><stop offset="0.182" stop-color="#200329"/><stop offset="0.273" stop-color="#20042a"/><stop offset="0.364" stop-color="#211539"/><stop offset="0.455" stop-color="#192b42"/><stop offset="0.545" stop-color="#104242"/><stop offset="0.636" stop-color="#104f3e"/><stop offset="0.727" stop-color="#13513c"/><stop offset="0.818" stop-color="#15523b"/><stop offset="0.909" stop-color="#16523b"/><stop offset="1" stop-color="#17533a"/></linearGradient>
<linearGradient id="g156" gradientUnits="userSpaceOnUse" x1="0" y1="69.5" x2="0" y2="379.5"><stop offset="0" stop-color="#200027"/><stop offset="0.091" stop-color="#200228"/><stop offset="0.182" stop-color="#200329"/><stop offset="0.273" stop-color="#20042a"/><stop offset="0.364" stop-color="#20163a"/><stop offset="0.455" stop-color="#113e42"/><stop offset="0.545" stop-color="#104e3e"/><stop offset="0.636" stop-color="#12503d"/><stop offset="0.727" stop-color="#14513c"/><stop offset="0.818" stop-color="#15523b"/><stop offset="0.909" stop-color="#16523b"/><stop offset="1" stop-color="#17533a"/></linearGradient>
<linearGradient id="g157" gradientUnits="userSpaceOnUse" x1="0" y1="70.6" x2="0" y2="377.3"><stop offset="0" stop-color="#163142"/><stop offset="0.091" stop-color="#163242"/><stop offset="0.182" stop-color="#163243"/><stop offset="0.273" stop-color="#153543"/><stop offset="0.364" stop-color="#0f4940"/><stop offset="0.455" stop-color="#104d3f"/><stop offset="0.545" stop-color="#104e3e"/><stop offset="0.636" stop-color="#12503d"/><stop offset="0.727" stop-color="#14513c"/><stop offset="0.818" stop-color="#15523b"/><stop offset="0.909" stop-color="#16523b"/><stop offset="1" stop-color="#17533a"/></linearGradient>
<linearGradient id="g158" gradientUnits="userSpaceOnUse" x1="0" y1="71.7" x2="0" y2="375.1"><stop offset="0" stop-color="#104a40"/><stop offset="0.091" stop-color="#104b3f"/><stop offset="0.273" stop-color="#104b3f"/><stop offset="0.364" stop-color="#104c3f"/><stop offset="0.455" stop-color="#104d3f"/><stop offset="0.545" stop-color="#104e3e"/><stop offset="0.636" stop-color="#12503d"/><stop offset="0.727" stop-color="#14513c"/><stop offset="0.818" stop-color="#15523b"/><stop offset="0.909" stop-color="#16523b"/><stop offset="1" stop-color="#17533a"/></linearGradient>
<linearGradient id="g159" gradientUnits="userSpaceOnUse" x1="0" y1="72.8" x2="0" y2="373"><stop offset="0" stop-color="#104a40"/><stop offset="0.091" stop-color="#104b3f"/><stop offset="0.273" stop-color="#104b3f"/><stop offset="0.364" stop-color="#104c3f"/><stop offset="0.455" stop-color="#104d3f"/><stop offset="0.545" stop-color="#104e3e"/><stop offset="0.636" stop-color="#12503d"/><stop offset="0.727" stop-color="#14513c"/><stop offset="0.818" stop-color="#15523b"/><stop offset="0.909" stop-color="#16523b"/><stop offset="1" stop-color="#17533a"/></linearGradient>
<linearGradient id="g160" gradientUnits="userSpaceOnUse" x1="0" y1="73.9" x2="0" y2="370.9"><stop offset="0" stop-color="#104a40"/><stop offset="0.091" stop-color="#104b3f"/><stop offset="0.273" stop-color="#104b3f"/><stop offset="0.364" stop-color="#104c3f"/><stop offset="0.455" stop-color="#104d3f"/><stop offset="0.545" stop-color="#104e3e"/><stop offset="0.636" stop-color="#12503d"/><stop offset="0.727" stop-color="#14513c"/><stop offset="0.818" stop-color="#15523b"/><stop offset="0.909" stop-color="#16523b"/><stop offset="1" stop-color="#17533a"/></linearGradient>
<clipPath id="cb4"><path d="M386.2 37.5 L410 71.7 L409 270 L408.7 290.3 L407 293 L406 305.3 L404.4 321.3 L403.3 310.6 L402.8 302 L393 317 L392.6 332 L390 336.2 L389.4 351.7 L388.7 351.7 L387.8 338.4 L387 340.5 L385.7 329.3 L384.1 333 Z"/></clipPath>
<linearGradient id="g161" gradientUnits="userSpaceOnUse" x1="0" y1="40.3" x2="0" y2="437.9"><stop offset="0" stop-color="#1e1f3f"/><stop offset="0.091" stop-color="#1b2741"/><stop offset="0.182" stop-color="#153443"/><stop offset="0.273" stop-color="#104142"/><stop offset="0.364" stop-color="#0f4641"/><stop offset="0.455" stop-color="#104a40"/><stop offset="0.545" stop-color="#104d3f"/><stop offset="0.636" stop-color="#114f3d"/><stop offset="0.727" stop-color="#14513c"/><stop offset="0.818" stop-color="#15523b"/><stop offset="0.909" stop-color="#16523b"/><stop offset="1" stop-color="#17533a"/></linearGradient>
<linearGradient id="g162" gradientUnits="userSpaceOnUse" x1="0" y1="43.7" x2="0" y2="431.1"><stop offset="0" stop-color="#211338"/><stop offset="0.091" stop-color="#20193c"/><stop offset="0.182" stop-color="#1d2240"/><stop offset="0.273" stop-color="#182c42"/><stop offset="0.364" stop-color="#104042"/><stop offset="0.455" stop-color="#104a40"/><stop offset="0.545" stop-color="#104d3f"/><stop offset="0.636" stop-color="#114f3d"/><stop offset="0.727" stop-color="#14513c"/><stop offset="0.818" stop-color="#15523b"/><stop offset="0.909" stop-color="#16523b"/><stop offset="1" stop-color="#17533a"/></linearGradient>
<linearGradient id="g163" gradientUnits="userSpaceOnUse" x1="0" y1="46.9" x2="0" y2="424.7"><stop offset="0" stop-color="#200027"/><stop offset="0.091" stop-color="#200228"/><stop offset="0.182" stop-color="#200329"/><stop offset="0.273" stop-color="#20042a"/><stop offset="0.364" stop-color="#211539"/><stop offset="0.455" stop-color="#192c42"/><stop offset="0.545" stop-color="#0f4741"/><stop offset="0.636" stop-color="#114f3e"/><stop offset="0.727" stop-color="#14513c"/><stop offset="0.818" stop-color="#15523b"/><stop offset="0.909" stop-color="#16523b"/><stop offset="1" stop-color="#17533a"/></linearGradient>
<linearGradient id="g164" gradientUnits="userSpaceOnUse" x1="0" y1="49.9" x2="0" y2="418.6"><stop offset="0" stop-color="#200027"/><stop offset="0.091" stop-color="#200228"/><stop offset="0.182" stop-color="#200329"/><stop offset="0.273" stop-color="#20042a"/><stop offset="0.364" stop-color="#211539"/><stop offset="0.455" stop-color="#192b42"/><stop offset="0.545" stop-color="#104042"/><stop offset="0.636" stop-color="#104c3f"/><stop offset="0.727" stop-color="#114f3e"/><stop offset="0.818" stop-color="#12503d"/><stop offset="0.909" stop-color="#13513c"/><stop offset="1" stop-color="#14513c"/></linearGradient>
<linearGradient id="g165" gradientUnits="userSpaceOnUse" x1="0" y1="52.8" x2="0" y2="412.8"><stop offset="0" stop-color="#21072e"/><stop offset="0.091" stop-color="#21082f"/><stop offset="0.182" stop-color="#210930"/><stop offset="0.273" stop-color="#210b32"/><stop offset="0.364" stop-color="#1a2841"/><stop offset="0.455" stop-color="#0f4442"/><stop offset="0.545" stop-color="#104b3f"/><stop offset="0.636" stop-color="#104e3e"/><stop offset="0.727" stop-color="#12503d"/><stop offset="0.818" stop-color="#13513c"/><stop offset="0.909" stop-color="#14513b"/><stop offset="1" stop-color="#15523b"/></linearGradient>
<linearGradient id="g166" gradientUnits="userSpaceOnUse" x1="0" y1="55.6" x2="0" y2="407.3"><stop offset="0" stop-color="#113f42"/><stop offset="0.091" stop-color="#104042"/><stop offset="0.182" stop-color="#104142"/><stop offset="0.273" stop-color="#104142"/><stop offset="0.364" stop-color="#0f4442"/><stop offset="0.455" stop-color="#0f4840"/><stop offset="0.545" stop-color="#104b3f"/><stop offset="0.636" stop-color="#104e3e"/><stop offset="0.727" stop-color="#12503d"/><stop offset="0.818" stop-color="#13513c"/><stop offset="0.909" stop-color="#14513b"/><stop offset="1" stop-color="#15523b"/></linearGradient>
<linearGradient id="g167" gradientUnits="userSpaceOnUse" x1="0" y1="58.3" x2="0" y2="402"><stop offset="0" stop-color="#113f42"/><stop offset="0.091" stop-color="#104042"/><stop offset="0.182" stop-color="#104142"/><stop offset="0.273" stop-color="#104142"/><stop offset="0.364" stop-color="#0f4442"/><stop offset="0.455" stop-color="#0f4840"/><stop offset="0.545" stop-color="#104b3f"/><stop offset="0.636" stop-color="#104e3e"/><stop offset="0.727" stop-color="#12503d"/><stop offset="0.818" stop-color="#13513c"/><stop offset="0.909" stop-color="#14513b"/><stop offset="1" stop-color="#15523b"/></linearGradient>
<linearGradient id="g168" gradientUnits="userSpaceOnUse" x1="0" y1="60.8" x2="0" y2="396.9"><stop offset="0" stop-color="#21072e"/><stop offset="0.091" stop-color="#21082f"/><stop offset="0.182" stop-color="#210930"/><stop offset="0.273" stop-color="#210b32"/><stop offset="0.364" stop-color="#1a2841"/><stop offset="0.455" stop-color="#0f4442"/><stop offset="0.545" stop-color="#104b3f"/><stop offset="0.636" stop-color="#104e3e"/><stop offset="0.727" stop-color="#12503d"/><stop offset="0.818" stop-color="#13513c"/><stop offset="0.909" stop-color="#14513b"/><stop offset="1" stop-color="#15523b"/></linearGradient>
<linearGradient id="g169" gradientUnits="userSpaceOnUse" x1="0" y1="63.2" x2="0" y2="392.1"><stop offset="0" stop-color="#200027"/><stop offset="0.091" stop-color="#200228"/><stop offset="0.182" stop-color="#200329"/><stop offset="0.273" stop-color="#20042a"/><stop offset="0.364" stop-color="#211539"/><stop offset="0.455" stop-color="#192b42"/><stop offset="0.545" stop-color="#104042"/><stop offset="0.636" stop-color="#104c3f"/><stop offset="0.727" stop-color="#114f3d"/><stop offset="0.818" stop-color="#12503d"/><stop offset="0.909" stop-color="#14513c"/><stop offset="1" stop-color="#15523b"/></linearGradient>
<linearGradient id="g170" gradientUnits="userSpaceOnUse" x1="0" y1="65.5" x2="0" y2="387.5"><stop offset="0" stop-color="#200027"/><stop offset="0.091" stop-color="#200228"/><stop offset="0.182" stop-color="#200329"/><stop offset="0.273" stop-color="#20042a"/><stop offset="0.364" stop-color="#211539"/><stop offset="0.455" stop-color="#192b42"/><stop offset="0.545" stop-color="#114042"/><stop offset="0.636" stop-color="#104b3f"/><stop offset="0.727" stop-color="#104d3e"/><stop offset="0.818" stop-color="#104e3e"/><stop offset="0.909" stop-color="#12503d"/><stop offset="1" stop-color="#13513c"/></linearGradient>
<linearGradient id="g171" gradientUnits="userSpaceOnUse" x1="0" y1="67.8" x2="0" y2="383"><stop offset="0" stop-color="#200027"/><stop offset="0.091" stop-color="#200228"/><stop offset="0.182" stop-color="#200329"/><stop offset="0.273" stop-color="#20042a"/><stop offset="0.364" stop-color="#211539"/><stop offset="0.455" stop-color="#192b42"/><stop offset="0.545" stop-color="#114042"/><stop offset="0.636" stop-color="#104b3f"/><stop offset="0.727" stop-color="#104d3e"/><stop offset="0.818" stop-color="#104e3e"/><stop offset="0.909" stop-color="#12503d"/><stop offset="1" stop-color="#13513c"/></linearGradient>
<linearGradient id="g172" gradientUnits="userSpaceOnUse" x1="0" y1="69.9" x2="0" y2="378.8"><stop offset="0" stop-color="#200027"/><stop offset="0.091" stop-color="#200228"/><stop offset="0.182" stop-color="#200329"/><stop offset="0.273" stop-color="#20042a"/><stop offset="0.364" stop-color="#211539"/><stop offset="0.455" stop-color="#192b42"/><stop offset="0.545" stop-color="#114042"/><stop offset="0.636" stop-color="#104b3f"/><stop offset="0.727" stop-color="#104d3e"/><stop offset="0.818" stop-color="#104e3e"/><stop offset="0.909" stop-color="#12503d"/><stop offset="1" stop-color="#13513c"/></linearGradient>
<clipPath id="cpan" transform="translate(645.7 0)"><path d="M30.3 53.3 L111.3 73.7 L114 74.4 L114 289.8 L73 302 L73 314.2 L67.5 317 L67.5 328.3 L55 333 L55 320.8 L41.3 325 L41.3 313 L34.7 314.7 Z"/><path d="M111.3 49.7 L197 77.5 L200 78.5 L200 350.5 L194.2 353.3 L194.2 339.2 L190 341.7 L190 351.7 L183 355.8 L183 345.8 L174.2 349.7 L174.2 340 L156.7 349.7 L156.7 361.7 L147 367.5 L147 379.2 L137.5 384.7 L137.5 372.5 L126.3 378 L126.3 365.8 L120.5 368.3 L120.5 356.3 L115 358.3 Z"/><path d="M197 45.5 L268.8 77.5 L269.2 285.3 L271.7 285 L271.7 314.7 L269.2 315.5 L268.8 325.9 L266.3 328 L266.3 337.6 L263.6 339.2 L263.6 350.9 L260.6 353.1 L260.6 364.8 L249.3 374.4 L249 364.3 L228.1 380.8 L228.1 393.6 L217.2 402.7 L216.5 391.7 L208.4 397.4 L207.9 385.3 L204.2 387.8 L203.3 375.5 L199.4 376.6 L198.5 352 L194.3 354 L194.3 325.5 L198.5 324.6 Z"/><path d="M288.3 41.3 L337.5 74.5 L336.7 319.6 L334.6 321.4 L334.6 331.4 L332.8 333.2 L332.8 345.7 L328.9 349.8 L328.9 360.5 L325.3 365 L324.8 354.6 L321.3 359.1 L320.9 348.4 L311.1 359.1 L311.1 370 L305.5 375.9 L305.5 390.2 L301.1 396.7 L300.2 384.5 L295.2 390.7 L294.6 377.1 L292.2 379.7 L291.6 367.6 L288.5 369.4 Z"/><path d="M386.2 37.5 L410 71.7 L409 270 L408.7 290.3 L407 293 L406 305.3 L404.4 321.3 L403.3 310.6 L402.8 302 L393 317 L392.6 332 L390 336.2 L389.4 351.7 L388.7 351.7 L387.8 338.4 L387 340.5 L385.7 329.3 L384.1 333 Z"/></clipPath>
<linearGradient id="hz" gradientUnits="userSpaceOnUse" x1="0" y1="147" x2="0" y2="405"><stop offset="0" stop-color="#8f86c8" stop-opacity=".15"/><stop offset=".3" stop-color="#6f8fd0" stop-opacity=".12"/><stop offset=".55" stop-color="#6fd090" stop-opacity=".04"/><stop offset=".8" stop-color="#c8d860" stop-opacity=".06"/><stop offset="1" stop-color="#e5e070" stop-opacity=".14"/></linearGradient>
<clipPath id="cc0"><path d="M30.3 53.3 L111.3 73.7 L114 74.4 L114 289.8 L73 302 L73 314.2 L67.5 317 L67.5 328.3 L55 333 L55 320.8 L41.3 325 L41.3 313 L34.7 314.7 Z"/></clipPath>
<linearGradient id="g173" gradientUnits="userSpaceOnUse" x1="0" y1="53.5" x2="0" y2="411.4"><stop offset="0" stop-color="#192b42"/><stop offset="0.0158" stop-color="#192b42"/><stop offset="0.0158" stop-color="#1e2140"/><stop offset="0.1898" stop-color="#1e2140"/><stop offset="0.1898" stop-color="#1b2641"/><stop offset="0.3479" stop-color="#1b2641"/><stop offset="0.3479" stop-color="#192b42"/><stop offset="0.4428" stop-color="#192b42"/><stop offset="0.4428" stop-color="#173042"/><stop offset="0.5218" stop-color="#173042"/><stop offset="0.5218" stop-color="#153543"/><stop offset="0.6009" stop-color="#153543"/><stop offset="0.6009" stop-color="#133a43"/><stop offset="0.6641" stop-color="#133a43"/><stop offset="0.6641" stop-color="#113f42"/><stop offset="0.7274" stop-color="#113f42"/><stop offset="0.7274" stop-color="#0f4442"/><stop offset="0.7906" stop-color="#0f4442"/><stop offset="0.7906" stop-color="#0f4840"/></linearGradient>
<linearGradient id="g174" gradientUnits="userSpaceOnUse" x1="0" y1="55.1" x2="0" y2="408.2"><stop offset="0" stop-color="#192b42"/><stop offset="0.0949" stop-color="#192b42"/><stop offset="0.0949" stop-color="#173042"/><stop offset="0.1898" stop-color="#173042"/><stop offset="0.1898" stop-color="#153543"/><stop offset="0.2846" stop-color="#153543"/><stop offset="0.2846" stop-color="#133a43"/><stop offset="0.3637" stop-color="#133a43"/><stop offset="0.3637" stop-color="#113f42"/><stop offset="0.4428" stop-color="#113f42"/><stop offset="0.4428" stop-color="#0f4442"/><stop offset="0.5218" stop-color="#0f4442"/><stop offset="0.5218" stop-color="#0f4840"/><stop offset="0.5693" stop-color="#0f4840"/><stop offset="0.5693" stop-color="#104d3f"/><stop offset="0.6325" stop-color="#104d3f"/><stop offset="0.6325" stop-color="#14513c"/><stop offset="0.6958" stop-color="#14513c"/><stop offset="0.6958" stop-color="#1b5638"/><stop offset="0.7432" stop-color="#1b5638"/><stop offset="0.7432" stop-color="#225a33"/><stop offset="0.8065" stop-color="#225a33"/><stop offset="0.8065" stop-color="#2c5e2d"/></linearGradient>
<linearGradient id="g175" gradientUnits="userSpaceOnUse" x1="0" y1="56.7" x2="0" y2="405.2"><stop offset="0" stop-color="#173042"/><stop offset="0.0158" stop-color="#173042"/><stop offset="0.0158" stop-color="#133a43"/><stop offset="0.1107" stop-color="#133a43"/><stop offset="0.1107" stop-color="#113f42"/><stop offset="0.2214" stop-color="#113f42"/><stop offset="0.2214" stop-color="#0f4442"/><stop offset="0.3163" stop-color="#0f4442"/><stop offset="0.3163" stop-color="#0f4840"/><stop offset="0.3953" stop-color="#0f4840"/><stop offset="0.3953" stop-color="#104d3f"/><stop offset="0.4744" stop-color="#104d3f"/><stop offset="0.4744" stop-color="#14513c"/><stop offset="0.5218" stop-color="#14513c"/><stop offset="0.5218" stop-color="#1b5638"/><stop offset="0.5693" stop-color="#1b5638"/><stop offset="0.5693" stop-color="#225a33"/><stop offset="0.6009" stop-color="#225a33"/><stop offset="0.6009" stop-color="#2c5e2d"/><stop offset="0.6325" stop-color="#2c5e2d"/><stop offset="0.6325" stop-color="#376127"/><stop offset="0.6641" stop-color="#376127"/><stop offset="0.6641" stop-color="#44641f"/><stop offset="0.6958" stop-color="#44641f"/><stop offset="0.6958" stop-color="#516717"/><stop offset="0.7274" stop-color="#516717"/><stop offset="0.7274" stop-color="#5e6912"/><stop offset="0.759" stop-color="#5e6912"/><stop offset="0.759" stop-color="#6a6b12"/><stop offset="0.8065" stop-color="#6a6b12"/><stop offset="0.8065" stop-color="#776d11"/></linearGradient>
<linearGradient id="g176" gradientUnits="userSpaceOnUse" x1="0" y1="58.2" x2="0" y2="402.2"><stop offset="0" stop-color="#173042"/><stop offset="0.0158" stop-color="#173042"/><stop offset="0.0158" stop-color="#133a43"/><stop offset="0.0633" stop-color="#133a43"/><stop offset="0.0633" stop-color="#113f42"/><stop offset="0.1581" stop-color="#113f42"/><stop offset="0.1581" stop-color="#0f4442"/><stop offset="0.253" stop-color="#0f4442"/><stop offset="0.253" stop-color="#0f4840"/><stop offset="0.3321" stop-color="#0f4840"/><stop offset="0.3321" stop-color="#104d3f"/><stop offset="0.4111" stop-color="#104d3f"/><stop offset="0.4111" stop-color="#14513c"/><stop offset="0.4902" stop-color="#14513c"/><stop offset="0.4902" stop-color="#1b5638"/><stop offset="0.5376" stop-color="#1b5638"/><stop offset="0.5376" stop-color="#225a33"/><stop offset="0.5693" stop-color="#225a33"/><stop offset="0.5693" stop-color="#2c5e2d"/><stop offset="0.6009" stop-color="#2c5e2d"/><stop offset="0.6009" stop-color="#376127"/><stop offset="0.6325" stop-color="#376127"/><stop offset="0.6325" stop-color="#44641f"/><stop offset="0.6641" stop-color="#44641f"/><stop offset="0.6641" stop-color="#516717"/><stop offset="0.6958" stop-color="#516717"/><stop offset="0.6958" stop-color="#5e6912"/><stop offset="0.7274" stop-color="#5e6912"/><stop offset="0.7274" stop-color="#6a6b12"/><stop offset="0.7748" stop-color="#6a6b12"/><stop offset="0.7748" stop-color="#776d11"/></linearGradient>
<linearGradient id="g177" gradientUnits="userSpaceOnUse" x1="0" y1="59.6" x2="0" y2="399.2"><stop offset="0" stop-color="#173042"/><stop offset="0.0158" stop-color="#173042"/><stop offset="0.0158" stop-color="#133a43"/><stop offset="0.0316" stop-color="#133a43"/><stop offset="0.0316" stop-color="#113f42"/><stop offset="0.0949" stop-color="#113f42"/><stop offset="0.0949" stop-color="#0f4442"/><stop offset="0.1739" stop-color="#0f4442"/><stop offset="0.1739" stop-color="#0f4840"/><stop offset="0.253" stop-color="#0f4840"/><stop offset="0.253" stop-color="#104d3f"/><stop offset="0.3321" stop-color="#104d3f"/><stop offset="0.3321" stop-color="#14513c"/><stop offset="0.4111" stop-color="#14513c"/><stop offset="0.4111" stop-color="#1b5638"/><stop offset="0.4744" stop-color="#1b5638"/><stop offset="0.4744" stop-color="#225a33"/><stop offset="0.5218" stop-color="#225a33"/><stop offset="0.5218" stop-color="#2c5e2d"/><stop offset="0.5693" stop-color="#2c5e2d"/><stop offset="0.5693" stop-color="#376127"/><stop offset="0.6009" stop-color="#376127"/><stop offset="0.6009" stop-color="#44641f"/><stop offset="0.6325" stop-color="#44641f"/><stop offset="0.6325" stop-color="#516717"/><stop offset="0.6641" stop-color="#516717"/><stop offset="0.6641" stop-color="#5e6912"/><stop offset="0.6799" stop-color="#5e6912"/><stop offset="0.6799" stop-color="#6a6b12"/><stop offset="0.7274" stop-color="#6a6b12"/><stop offset="0.7274" stop-color="#776d11"/></linearGradient>
<linearGradient id="g178" gradientUnits="userSpaceOnUse" x1="0" y1="61.1" x2="0" y2="396.4"><stop offset="0" stop-color="#173042"/><stop offset="0.0158" stop-color="#173042"/><stop offset="0.0158" stop-color="#133a43"/><stop offset="0.0316" stop-color="#133a43"/><stop offset="0.0316" stop-color="#113f42"/><stop offset="0.0949" stop-color="#113f42"/><stop offset="0.0949" stop-color="#0f4442"/><stop offset="0.1739" stop-color="#0f4442"/><stop offset="0.1739" stop-color="#0f4840"/><stop offset="0.253" stop-color="#0f4840"/><stop offset="0.253" stop-color="#104d3f"/><stop offset="0.3321" stop-color="#104d3f"/><stop offset="0.3321" stop-color="#14513c"/><stop offset="0.3953" stop-color="#14513c"/><stop offset="0.3953" stop-color="#1b5638"/><stop offset="0.4586" stop-color="#1b5638"/><stop offset="0.4586" stop-color="#225a33"/><stop offset="0.5218" stop-color="#225a33"/><stop offset="0.5218" stop-color="#2c5e2d"/><stop offset="0.5693" stop-color="#2c5e2d"/><stop offset="0.5693" stop-color="#376127"/><stop offset="0.6009" stop-color="#376127"/><stop offset="0.6009" stop-color="#44641f"/><stop offset="0.6325" stop-color="#44641f"/><stop offset="0.6325" stop-color="#516717"/><stop offset="0.6483" stop-color="#516717"/><stop offset="0.6483" stop-color="#5e6912"/><stop offset="0.6799" stop-color="#5e6912"/><stop offset="0.6799" stop-color="#6a6b12"/><stop offset="0.7274" stop-color="#6a6b12"/><stop offset="0.7274" stop-color="#776d11"/></linearGradient>
<linearGradient id="g179" gradientUnits="userSpaceOnUse" x1="0" y1="62.5" x2="0" y2="393.6"><stop offset="0" stop-color="#173042"/><stop offset="0.0158" stop-color="#173042"/><stop offset="0.0158" stop-color="#133a43"/><stop offset="0.0316" stop-color="#133a43"/><stop offset="0.0316" stop-color="#113f42"/><stop offset="0.0949" stop-color="#113f42"/><stop offset="0.0949" stop-color="#0f4442"/><stop offset="0.1739" stop-color="#0f4442"/><stop offset="0.1739" stop-color="#0f4840"/><stop offset="0.253" stop-color="#0f4840"/><stop offset="0.253" stop-color="#104d3f"/><stop offset="0.3321" stop-color="#104d3f"/><stop offset="0.3321" stop-color="#14513c"/><stop offset="0.3953" stop-color="#14513c"/><stop offset="0.3953" stop-color="#1b5638"/><stop offset="0.4586" stop-color="#1b5638"/><stop offset="0.4586" stop-color="#225a33"/><stop offset="0.5218" stop-color="#225a33"/><stop offset="0.5218" stop-color="#2c5e2d"/><stop offset="0.5693" stop-color="#2c5e2d"/><stop offset="0.5693" stop-color="#376127"/><stop offset="0.6009" stop-color="#376127"/><stop offset="0.6009" stop-color="#44641f"/><stop offset="0.6325" stop-color="#44641f"/><stop offset="0.6325" stop-color="#516717"/><stop offset="0.6483" stop-color="#516717"/><stop offset="0.6483" stop-color="#5e6912"/><stop offset="0.6799" stop-color="#5e6912"/><stop offset="0.6799" stop-color="#6a6b12"/><stop offset="0.7274" stop-color="#6a6b12"/><stop offset="0.7274" stop-color="#776d11"/></linearGradient>
<linearGradient id="g180" gradientUnits="userSpaceOnUse" x1="0" y1="63.8" x2="0" y2="390.9"><stop offset="0" stop-color="#173042"/><stop offset="0.0158" stop-color="#173042"/><stop offset="0.0158" stop-color="#133a43"/><stop offset="0.0316" stop-color="#133a43"/><stop offset="0.0316" stop-color="#113f42"/><stop offset="0.1107" stop-color="#113f42"/><stop offset="0.1107" stop-color="#0f4442"/><stop offset="0.1898" stop-color="#0f4442"/><stop offset="0.1898" stop-color="#0f4840"/><stop offset="0.2688" stop-color="#0f4840"/><stop offset="0.2688" stop-color="#104d3f"/><stop offset="0.3479" stop-color="#104d3f"/><stop offset="0.3479" stop-color="#14513c"/><stop offset="0.4111" stop-color="#14513c"/><stop offset="0.4111" stop-color="#1b5638"/><stop offset="0.4744" stop-color="#1b5638"/><stop offset="0.4744" stop-color="#225a33"/><stop offset="0.5376" stop-color="#225a33"/><stop offset="0.5376" stop-color="#2c5e2d"/><stop offset="0.5693" stop-color="#2c5e2d"/><stop offset="0.5693" stop-color="#376127"/><stop offset="0.6009" stop-color="#376127"/><stop offset="0.6009" stop-color="#44641f"/><stop offset="0.6325" stop-color="#44641f"/><stop offset="0.6325" stop-color="#516717"/><stop offset="0.6641" stop-color="#516717"/><stop offset="0.6641" stop-color="#5e6912"/><stop offset="0.6958" stop-color="#5e6912"/><stop offset="0.6958" stop-color="#6a6b12"/><stop offset="0.7432" stop-color="#6a6b12"/><stop offset="0.7432" stop-color="#776d11"/></linearGradient>
<linearGradient id="g181" gradientUnits="userSpaceOnUse" x1="0" y1="65.2" x2="0" y2="388.2"><stop offset="0" stop-color="#173042"/><stop offset="0.0158" stop-color="#173042"/><stop offset="0.0158" stop-color="#133a43"/><stop offset="0.0949" stop-color="#133a43"/><stop offset="0.0949" stop-color="#113f42"/><stop offset="0.1898" stop-color="#113f42"/><stop offset="0.1898" stop-color="#0f4442"/><stop offset="0.2846" stop-color="#0f4442"/><stop offset="0.2846" stop-color="#0f4840"/><stop offset="0.3795" stop-color="#0f4840"/><stop offset="0.3795" stop-color="#104d3f"/><stop offset="0.4586" stop-color="#104d3f"/><stop offset="0.4586" stop-color="#14513c"/><stop offset="0.506" stop-color="#14513c"/><stop offset="0.506" stop-color="#1b5638"/><stop offset="0.5534" stop-color="#1b5638"/><stop offset="0.5534" stop-color="#225a33"/><stop offset="0.5851" stop-color="#225a33"/><stop offset="0.5851" stop-color="#2c5e2d"/><stop offset="0.6325" stop-color="#2c5e2d"/><stop offset="0.6325" stop-color="#376127"/><stop offset="0.6641" stop-color="#376127"/><stop offset="0.6641" stop-color="#44641f"/><stop offset="0.6799" stop-color="#44641f"/><stop offset="0.6799" stop-color="#516717"/><stop offset="0.7116" stop-color="#516717"/><stop offset="0.7116" stop-color="#5e6912"/><stop offset="0.759" stop-color="#5e6912"/><stop offset="0.759" stop-color="#6a6b12"/><stop offset="0.8065" stop-color="#6a6b12"/><stop offset="0.8065" stop-color="#776d11"/></linearGradient>
<linearGradient id="g182" gradientUnits="userSpaceOnUse" x1="0" y1="66.4" x2="0" y2="385.7"><stop offset="0" stop-color="#192b42"/><stop offset="0.0158" stop-color="#192b42"/><stop offset="0.0158" stop-color="#173042"/><stop offset="0.1107" stop-color="#173042"/><stop offset="0.1107" stop-color="#153543"/><stop offset="0.2372" stop-color="#153543"/><stop offset="0.2372" stop-color="#133a43"/><stop offset="0.3321" stop-color="#133a43"/><stop offset="0.3321" stop-color="#113f42"/><stop offset="0.3953" stop-color="#113f42"/><stop offset="0.3953" stop-color="#0f4442"/><stop offset="0.4744" stop-color="#0f4442"/><stop offset="0.4744" stop-color="#0f4840"/><stop offset="0.5218" stop-color="#0f4840"/><stop offset="0.5218" stop-color="#104d3f"/><stop offset="0.5693" stop-color="#104d3f"/><stop offset="0.5693" stop-color="#14513c"/><stop offset="0.6009" stop-color="#14513c"/><stop offset="0.6009" stop-color="#1b5638"/><stop offset="0.6483" stop-color="#1b5638"/><stop offset="0.6483" stop-color="#225a33"/><stop offset="0.6799" stop-color="#225a33"/><stop offset="0.6799" stop-color="#2c5e2d"/><stop offset="0.7116" stop-color="#2c5e2d"/><stop offset="0.7116" stop-color="#376127"/><stop offset="0.759" stop-color="#376127"/><stop offset="0.759" stop-color="#44641f"/></linearGradient>
<linearGradient id="g183" gradientUnits="userSpaceOnUse" x1="0" y1="67.7" x2="0" y2="383.1"><stop offset="0" stop-color="#192b42"/><stop offset="0.0158" stop-color="#192b42"/><stop offset="0.0158" stop-color="#1e2140"/><stop offset="0.0474" stop-color="#1e2140"/><stop offset="0.0474" stop-color="#1f1a3c"/><stop offset="0.0633" stop-color="#1f1a3c"/><stop offset="0.0633" stop-color="#1e2140"/><stop offset="0.3004" stop-color="#1e2140"/><stop offset="0.3004" stop-color="#1b2641"/><stop offset="0.3479" stop-color="#1b2641"/><stop offset="0.3479" stop-color="#192b42"/><stop offset="0.3795" stop-color="#192b42"/><stop offset="0.3795" stop-color="#173042"/><stop offset="0.4269" stop-color="#173042"/><stop offset="0.4269" stop-color="#153543"/><stop offset="0.4744" stop-color="#153543"/><stop offset="0.4744" stop-color="#133a43"/><stop offset="0.5218" stop-color="#133a43"/><stop offset="0.5218" stop-color="#113f42"/><stop offset="0.5534" stop-color="#113f42"/><stop offset="0.5534" stop-color="#0f4442"/><stop offset="0.5851" stop-color="#0f4442"/><stop offset="0.5851" stop-color="#0f4840"/><stop offset="0.6325" stop-color="#0f4840"/><stop offset="0.6325" stop-color="#104d3f"/><stop offset="0.6799" stop-color="#104d3f"/><stop offset="0.6799" stop-color="#14513c"/><stop offset="0.7274" stop-color="#14513c"/><stop offset="0.7274" stop-color="#1b5638"/></linearGradient>
<linearGradient id="g184" gradientUnits="userSpaceOnUse" x1="0" y1="68.9" x2="0" y2="380.7"><stop offset="0" stop-color="#1b2641"/><stop offset="0.0158" stop-color="#1b2641"/><stop offset="0.0158" stop-color="#211439"/><stop offset="0.0316" stop-color="#211439"/><stop offset="0.0316" stop-color="#220e34"/><stop offset="0.3004" stop-color="#220e34"/><stop offset="0.3004" stop-color="#211439"/><stop offset="0.3321" stop-color="#211439"/><stop offset="0.3321" stop-color="#1f1a3c"/><stop offset="0.3637" stop-color="#1f1a3c"/><stop offset="0.3637" stop-color="#1e2140"/><stop offset="0.3953" stop-color="#1e2140"/><stop offset="0.3953" stop-color="#1b2641"/><stop offset="0.4269" stop-color="#1b2641"/><stop offset="0.4269" stop-color="#192b42"/><stop offset="0.4586" stop-color="#192b42"/><stop offset="0.4586" stop-color="#173042"/><stop offset="0.506" stop-color="#173042"/><stop offset="0.506" stop-color="#153543"/><stop offset="0.5376" stop-color="#153543"/><stop offset="0.5376" stop-color="#133a43"/><stop offset="0.5693" stop-color="#133a43"/><stop offset="0.5693" stop-color="#113f42"/><stop offset="0.6167" stop-color="#113f42"/><stop offset="0.6167" stop-color="#0f4442"/><stop offset="0.6641" stop-color="#0f4442"/><stop offset="0.6641" stop-color="#0f4840"/><stop offset="0.7116" stop-color="#0f4840"/><stop offset="0.7116" stop-color="#104d3f"/></linearGradient>
<linearGradient id="g185" gradientUnits="userSpaceOnUse" x1="0" y1="70.1" x2="0" y2="378.3"><stop offset="0" stop-color="#1b2641"/><stop offset="0.0158" stop-color="#1b2641"/><stop offset="0.0158" stop-color="#1f1a3c"/><stop offset="0.0316" stop-color="#1f1a3c"/><stop offset="0.0316" stop-color="#211439"/><stop offset="0.2688" stop-color="#211439"/><stop offset="0.2688" stop-color="#1f1a3c"/><stop offset="0.3163" stop-color="#1f1a3c"/><stop offset="0.3163" stop-color="#1e2140"/><stop offset="0.3479" stop-color="#1e2140"/><stop offset="0.3479" stop-color="#1b2641"/><stop offset="0.3795" stop-color="#1b2641"/><stop offset="0.3795" stop-color="#192b42"/><stop offset="0.4269" stop-color="#192b42"/><stop offset="0.4269" stop-color="#173042"/><stop offset="0.4586" stop-color="#173042"/><stop offset="0.4586" stop-color="#153543"/><stop offset="0.506" stop-color="#153543"/><stop offset="0.506" stop-color="#133a43"/><stop offset="0.5376" stop-color="#133a43"/><stop offset="0.5376" stop-color="#113f42"/><stop offset="0.5851" stop-color="#113f42"/><stop offset="0.5851" stop-color="#0f4442"/><stop offset="0.6325" stop-color="#0f4442"/><stop offset="0.6325" stop-color="#0f4840"/><stop offset="0.6799" stop-color="#0f4840"/><stop offset="0.6799" stop-color="#104d3f"/></linearGradient>
<linearGradient id="g186" gradientUnits="userSpaceOnUse" x1="0" y1="71.3" x2="0" y2="375.9"><stop offset="0" stop-color="#173042"/><stop offset="0.0158" stop-color="#173042"/><stop offset="0.0158" stop-color="#133a43"/><stop offset="0.1581" stop-color="#133a43"/><stop offset="0.1581" stop-color="#113f42"/><stop offset="0.253" stop-color="#113f42"/><stop offset="0.253" stop-color="#0f4442"/><stop offset="0.4902" stop-color="#0f4442"/><stop offset="0.4902" stop-color="#0f4840"/><stop offset="0.6009" stop-color="#0f4840"/><stop offset="0.6009" stop-color="#104d3f"/></linearGradient>
<linearGradient id="g187" gradientUnits="userSpaceOnUse" x1="0" y1="72.5" x2="0" y2="373.6"><stop offset="0" stop-color="#173042"/><stop offset="0.0158" stop-color="#173042"/><stop offset="0.0158" stop-color="#133a43"/><stop offset="0.1423" stop-color="#133a43"/><stop offset="0.1423" stop-color="#113f42"/><stop offset="0.2372" stop-color="#113f42"/><stop offset="0.2372" stop-color="#0f4442"/><stop offset="0.4902" stop-color="#0f4442"/><stop offset="0.4902" stop-color="#0f4840"/><stop offset="0.6009" stop-color="#0f4840"/><stop offset="0.6009" stop-color="#104d3f"/></linearGradient>
<linearGradient id="g188" gradientUnits="userSpaceOnUse" x1="0" y1="73.6" x2="0" y2="371.4"><stop offset="0" stop-color="#173042"/><stop offset="0.0158" stop-color="#173042"/><stop offset="0.0158" stop-color="#133a43"/><stop offset="0.1423" stop-color="#133a43"/><stop offset="0.1423" stop-color="#113f42"/><stop offset="0.2372" stop-color="#113f42"/><stop offset="0.2372" stop-color="#0f4442"/><stop offset="0.4902" stop-color="#0f4442"/><stop offset="0.4902" stop-color="#0f4840"/><stop offset="0.6009" stop-color="#0f4840"/><stop offset="0.6009" stop-color="#104d3f"/></linearGradient>
<linearGradient id="g189" gradientUnits="userSpaceOnUse" x1="0" y1="74.2" x2="0" y2="370.3"><stop offset="0" stop-color="#173042"/><stop offset="0.0158" stop-color="#173042"/><stop offset="0.0158" stop-color="#133a43"/><stop offset="0.1423" stop-color="#133a43"/><stop offset="0.1423" stop-color="#113f42"/><stop offset="0.2372" stop-color="#113f42"/><stop offset="0.2372" stop-color="#0f4442"/><stop offset="0.4902" stop-color="#0f4442"/><stop offset="0.4902" stop-color="#0f4840"/><stop offset="0.6009" stop-color="#0f4840"/><stop offset="0.6009" stop-color="#104d3f"/></linearGradient>
<clipPath id="cc1"><path d="M111.3 49.7 L197 77.5 L200 78.5 L200 350.5 L194.2 353.3 L194.2 339.2 L190 341.7 L190 351.7 L183 355.8 L183 345.8 L174.2 349.7 L174.2 340 L156.7 349.7 L156.7 361.7 L147 367.5 L147 379.2 L137.5 384.7 L137.5 372.5 L126.3 378 L126.3 365.8 L120.5 368.3 L120.5 356.3 L115 358.3 Z"/></clipPath>
<linearGradient id="g190" gradientUnits="userSpaceOnUse" x1="0" y1="50.5" x2="0" y2="417.4"><stop offset="0" stop-color="#1b2641"/><stop offset="0.0158" stop-color="#1b2641"/><stop offset="0.0158" stop-color="#21072e"/><stop offset="0.2214" stop-color="#21072e"/><stop offset="0.2214" stop-color="#220e34"/><stop offset="0.2688" stop-color="#220e34"/><stop offset="0.2688" stop-color="#211439"/><stop offset="0.3004" stop-color="#211439"/><stop offset="0.3004" stop-color="#1f1a3c"/><stop offset="0.3479" stop-color="#1f1a3c"/><stop offset="0.3479" stop-color="#1e2140"/><stop offset="0.3795" stop-color="#1e2140"/><stop offset="0.3795" stop-color="#1b2641"/><stop offset="0.4111" stop-color="#1b2641"/><stop offset="0.4111" stop-color="#192b42"/><stop offset="0.4586" stop-color="#192b42"/><stop offset="0.4586" stop-color="#173042"/><stop offset="0.506" stop-color="#173042"/><stop offset="0.506" stop-color="#153543"/><stop offset="0.5376" stop-color="#153543"/><stop offset="0.5376" stop-color="#133a43"/><stop offset="0.5693" stop-color="#133a43"/><stop offset="0.5693" stop-color="#113f42"/><stop offset="0.6325" stop-color="#113f42"/><stop offset="0.6325" stop-color="#0f4442"/><stop offset="0.6799" stop-color="#0f4442"/><stop offset="0.6799" stop-color="#0f4840"/><stop offset="0.7274" stop-color="#0f4840"/><stop offset="0.7274" stop-color="#104d3f"/><stop offset="0.7906" stop-color="#104d3f"/><stop offset="0.7906" stop-color="#14513c"/><stop offset="0.8697" stop-color="#14513c"/><stop offset="0.8697" stop-color="#1b5638"/><stop offset="0.9488" stop-color="#1b5638"/><stop offset="0.9488" stop-color="#225a33"/></linearGradient>
<linearGradient id="g191" gradientUnits="userSpaceOnUse" x1="0" y1="52.7" x2="0" y2="413"><stop offset="0" stop-color="#1b2641"/><stop offset="0.0158" stop-color="#1b2641"/><stop offset="0.0158" stop-color="#21072e"/><stop offset="0.2214" stop-color="#21072e"/><stop offset="0.2214" stop-color="#220e34"/><stop offset="0.2688" stop-color="#220e34"/><stop offset="0.2688" stop-color="#211439"/><stop offset="0.3004" stop-color="#211439"/><stop offset="0.3004" stop-color="#1f1a3c"/><stop offset="0.3321" stop-color="#1f1a3c"/><stop offset="0.3321" stop-color="#1e2140"/><stop offset="0.3637" stop-color="#1e2140"/><stop offset="0.3637" stop-color="#1b2641"/><stop offset="0.4111" stop-color="#1b2641"/><stop offset="0.4111" stop-color="#192b42"/><stop offset="0.4586" stop-color="#192b42"/><stop offset="0.4586" stop-color="#173042"/><stop offset="0.4902" stop-color="#173042"/><stop offset="0.4902" stop-color="#153543"/><stop offset="0.5376" stop-color="#153543"/><stop offset="0.5376" stop-color="#133a43"/><stop offset="0.5693" stop-color="#133a43"/><stop offset="0.5693" stop-color="#113f42"/><stop offset="0.6167" stop-color="#113f42"/><stop offset="0.6167" stop-color="#0f4442"/><stop offset="0.6799" stop-color="#0f4442"/><stop offset="0.6799" stop-color="#0f4840"/><stop offset="0.7274" stop-color="#0f4840"/><stop offset="0.7274" stop-color="#104d3f"/><stop offset="0.7906" stop-color="#104d3f"/><stop offset="0.7906" stop-color="#14513c"/><stop offset="0.8697" stop-color="#14513c"/><stop offset="0.8697" stop-color="#1b5638"/><stop offset="0.9488" stop-color="#1b5638"/><stop offset="0.9488" stop-color="#225a33"/></linearGradient>
<linearGradient id="g192" gradientUnits="userSpaceOnUse" x1="0" y1="54.9" x2="0" y2="408.8"><stop offset="0" stop-color="#173042"/><stop offset="0.0158" stop-color="#173042"/><stop offset="0.0158" stop-color="#133a43"/><stop offset="0.0791" stop-color="#133a43"/><stop offset="0.0791" stop-color="#113f42"/><stop offset="0.1581" stop-color="#113f42"/><stop offset="0.1581" stop-color="#0f4442"/><stop offset="0.2372" stop-color="#0f4442"/><stop offset="0.2372" stop-color="#0f4840"/><stop offset="0.3004" stop-color="#0f4840"/><stop offset="0.3004" stop-color="#104d3f"/><stop offset="0.3321" stop-color="#104d3f"/><stop offset="0.3321" stop-color="#14513c"/><stop offset="0.3795" stop-color="#14513c"/><stop offset="0.3795" stop-color="#1b5638"/><stop offset="0.4111" stop-color="#1b5638"/><stop offset="0.4111" stop-color="#225a33"/><stop offset="0.4428" stop-color="#225a33"/><stop offset="0.4428" stop-color="#2c5e2d"/><stop offset="0.4586" stop-color="#2c5e2d"/><stop offset="0.4586" stop-color="#376127"/><stop offset="0.4902" stop-color="#376127"/><stop offset="0.4902" stop-color="#44641f"/><stop offset="0.506" stop-color="#44641f"/><stop offset="0.506" stop-color="#516717"/><stop offset="0.5376" stop-color="#516717"/><stop offset="0.5376" stop-color="#5e6912"/><stop offset="0.5534" stop-color="#5e6912"/><stop offset="0.5534" stop-color="#6a6b12"/><stop offset="0.5851" stop-color="#6a6b12"/><stop offset="0.5851" stop-color="#776d11"/></linearGradient>
<linearGradient id="g193" gradientUnits="userSpaceOnUse" x1="0" y1="56.9" x2="0" y2="404.6"><stop offset="0" stop-color="#173042"/><stop offset="0.0158" stop-color="#173042"/><stop offset="0.0158" stop-color="#133a43"/><stop offset="0.0474" stop-color="#133a43"/><stop offset="0.0474" stop-color="#113f42"/><stop offset="0.1107" stop-color="#113f42"/><stop offset="0.1107" stop-color="#0f4442"/><stop offset="0.1739" stop-color="#0f4442"/><stop offset="0.1739" stop-color="#0f4840"/><stop offset="0.2214" stop-color="#0f4840"/><stop offset="0.2214" stop-color="#104d3f"/><stop offset="0.2688" stop-color="#104d3f"/><stop offset="0.2688" stop-color="#14513c"/><stop offset="0.3163" stop-color="#14513c"/><stop offset="0.3163" stop-color="#1b5638"/><stop offset="0.3321" stop-color="#1b5638"/><stop offset="0.3321" stop-color="#225a33"/><stop offset="0.3637" stop-color="#225a33"/><stop offset="0.3637" stop-color="#2c5e2d"/><stop offset="0.3953" stop-color="#2c5e2d"/><stop offset="0.3953" stop-color="#376127"/><stop offset="0.4111" stop-color="#376127"/><stop offset="0.4111" stop-color="#44641f"/><stop offset="0.4428" stop-color="#44641f"/><stop offset="0.4428" stop-color="#516717"/><stop offset="0.4586" stop-color="#516717"/><stop offset="0.4586" stop-color="#5e6912"/><stop offset="0.4902" stop-color="#5e6912"/><stop offset="0.4902" stop-color="#6a6b12"/><stop offset="0.5218" stop-color="#6a6b12"/><stop offset="0.5218" stop-color="#776d11"/></linearGradient>
<linearGradient id="g194" gradientUnits="userSpaceOnUse" x1="0" y1="58.9" x2="0" y2="400.7"><stop offset="0" stop-color="#173042"/><stop offset="0.0158" stop-color="#173042"/><stop offset="0.0158" stop-color="#133a43"/><stop offset="0.0316" stop-color="#133a43"/><stop offset="0.0316" stop-color="#113f42"/><stop offset="0.0949" stop-color="#113f42"/><stop offset="0.0949" stop-color="#0f4442"/><stop offset="0.1423" stop-color="#0f4442"/><stop offset="0.1423" stop-color="#0f4840"/><stop offset="0.1898" stop-color="#0f4840"/><stop offset="0.1898" stop-color="#104d3f"/><stop offset="0.2372" stop-color="#104d3f"/><stop offset="0.2372" stop-color="#14513c"/><stop offset="0.2688" stop-color="#14513c"/><stop offset="0.2688" stop-color="#1b5638"/><stop offset="0.3004" stop-color="#1b5638"/><stop offset="0.3004" stop-color="#225a33"/><stop offset="0.3321" stop-color="#225a33"/><stop offset="0.3321" stop-color="#2c5e2d"/><stop offset="0.3479" stop-color="#2c5e2d"/><stop offset="0.3479" stop-color="#376127"/><stop offset="0.3795" stop-color="#376127"/><stop offset="0.3795" stop-color="#44641f"/><stop offset="0.3953" stop-color="#44641f"/><stop offset="0.3953" stop-color="#516717"/><stop offset="0.4269" stop-color="#516717"/><stop offset="0.4269" stop-color="#5e6912"/><stop offset="0.4586" stop-color="#5e6912"/><stop offset="0.4586" stop-color="#6a6b12"/><stop offset="0.4902" stop-color="#6a6b12"/><stop offset="0.4902" stop-color="#776d11"/></linearGradient>
<linearGradient id="g195" gradientUnits="userSpaceOnUse" x1="0" y1="60.9" x2="0" y2="396.8"><stop offset="0" stop-color="#173042"/><stop offset="0.0158" stop-color="#173042"/><stop offset="0.0158" stop-color="#133a43"/><stop offset="0.0316" stop-color="#133a43"/><stop offset="0.0316" stop-color="#113f42"/><stop offset="0.0791" stop-color="#113f42"/><stop offset="0.0791" stop-color="#0f4442"/><stop offset="0.1265" stop-color="#0f4442"/><stop offset="0.1265" stop-color="#0f4840"/><stop offset="0.1739" stop-color="#0f4840"/><stop offset="0.1739" stop-color="#104d3f"/><stop offset="0.2214" stop-color="#104d3f"/><stop offset="0.2214" stop-color="#14513c"/><stop offset="0.2372" stop-color="#14513c"/><stop offset="0.2372" stop-color="#1b5638"/><stop offset="0.2688" stop-color="#1b5638"/><stop offset="0.2688" stop-color="#225a33"/><stop offset="0.3004" stop-color="#225a33"/><stop offset="0.3004" stop-color="#2c5e2d"/><stop offset="0.3163" stop-color="#2c5e2d"/><stop offset="0.3163" stop-color="#376127"/><stop offset="0.3479" stop-color="#376127"/><stop offset="0.3479" stop-color="#44641f"/><stop offset="0.3637" stop-color="#44641f"/><stop offset="0.3637" stop-color="#516717"/><stop offset="0.3953" stop-color="#516717"/><stop offset="0.3953" stop-color="#5e6912"/><stop offset="0.4111" stop-color="#5e6912"/><stop offset="0.4111" stop-color="#6a6b12"/><stop offset="0.4586" stop-color="#6a6b12"/><stop offset="0.4586" stop-color="#776d11"/></linearGradient>
<linearGradient id="g196" gradientUnits="userSpaceOnUse" x1="0" y1="62.7" x2="0" y2="393.1"><stop offset="0" stop-color="#173042"/><stop offset="0.0158" stop-color="#173042"/><stop offset="0.0158" stop-color="#133a43"/><stop offset="0.0474" stop-color="#133a43"/><stop offset="0.0474" stop-color="#113f42"/><stop offset="0.1107" stop-color="#113f42"/><stop offset="0.1107" stop-color="#0f4442"/><stop offset="0.1581" stop-color="#0f4442"/><stop offset="0.1581" stop-color="#0f4840"/><stop offset="0.2214" stop-color="#0f4840"/><stop offset="0.2214" stop-color="#104d3f"/><stop offset="0.253" stop-color="#104d3f"/><stop offset="0.253" stop-color="#14513c"/><stop offset="0.3004" stop-color="#14513c"/><stop offset="0.3004" stop-color="#1b5638"/><stop offset="0.3321" stop-color="#1b5638"/><stop offset="0.3321" stop-color="#225a33"/><stop offset="0.3637" stop-color="#225a33"/><stop offset="0.3637" stop-color="#2c5e2d"/><stop offset="0.3795" stop-color="#2c5e2d"/><stop offset="0.3795" stop-color="#376127"/><stop offset="0.4111" stop-color="#376127"/><stop offset="0.4111" stop-color="#44641f"/><stop offset="0.4269" stop-color="#44641f"/><stop offset="0.4269" stop-color="#516717"/><stop offset="0.4586" stop-color="#516717"/><stop offset="0.4586" stop-color="#5e6912"/><stop offset="0.4744" stop-color="#5e6912"/><stop offset="0.4744" stop-color="#6a6b12"/><stop offset="0.506" stop-color="#6a6b12"/><stop offset="0.506" stop-color="#776d11"/></linearGradient>
<linearGradient id="g197" gradientUnits="userSpaceOnUse" x1="0" y1="64.5" x2="0" y2="389.5"><stop offset="0" stop-color="#173042"/><stop offset="0.0158" stop-color="#173042"/><stop offset="0.0158" stop-color="#133a43"/><stop offset="0.0791" stop-color="#133a43"/><stop offset="0.0791" stop-color="#113f42"/><stop offset="0.1581" stop-color="#113f42"/><stop offset="0.1581" stop-color="#0f4442"/><stop offset="0.2372" stop-color="#0f4442"/><stop offset="0.2372" stop-color="#0f4840"/><stop offset="0.3004" stop-color="#0f4840"/><stop offset="0.3004" stop-color="#104d3f"/><stop offset="0.3479" stop-color="#104d3f"/><stop offset="0.3479" stop-color="#14513c"/><stop offset="0.3795" stop-color="#14513c"/><stop offset="0.3795" stop-color="#1b5638"/><stop offset="0.4111" stop-color="#1b5638"/><stop offset="0.4111" stop-color="#225a33"/><stop offset="0.4428" stop-color="#225a33"/><stop offset="0.4428" stop-color="#2c5e2d"/><stop offset="0.4586" stop-color="#2c5e2d"/><stop offset="0.4586" stop-color="#376127"/><stop offset="0.4902" stop-color="#376127"/><stop offset="0.4902" stop-color="#44641f"/><stop offset="0.506" stop-color="#44641f"/><stop offset="0.506" stop-color="#516717"/><stop offset="0.5376" stop-color="#516717"/><stop offset="0.5376" stop-color="#5e6912"/><stop offset="0.5534" stop-color="#5e6912"/><stop offset="0.5534" stop-color="#6a6b12"/><stop offset="0.5851" stop-color="#6a6b12"/><stop offset="0.5851" stop-color="#776d11"/></linearGradient>
<linearGradient id="g198" gradientUnits="userSpaceOnUse" x1="0" y1="66.3" x2="0" y2="386"><stop offset="0" stop-color="#1b2641"/><stop offset="0.0158" stop-color="#1b2641"/><stop offset="0.0158" stop-color="#220e34"/><stop offset="0.2372" stop-color="#220e34"/><stop offset="0.2372" stop-color="#211439"/><stop offset="0.2688" stop-color="#211439"/><stop offset="0.2688" stop-color="#1f1a3c"/><stop offset="0.3004" stop-color="#1f1a3c"/><stop offset="0.3004" stop-color="#1e2140"/><stop offset="0.3163" stop-color="#1e2140"/><stop offset="0.3163" stop-color="#1b2641"/><stop offset="0.3479" stop-color="#1b2641"/><stop offset="0.3479" stop-color="#192b42"/><stop offset="0.3637" stop-color="#192b42"/><stop offset="0.3637" stop-color="#173042"/><stop offset="0.3953" stop-color="#173042"/><stop offset="0.3953" stop-color="#153543"/><stop offset="0.4269" stop-color="#153543"/><stop offset="0.4269" stop-color="#133a43"/><stop offset="0.4744" stop-color="#133a43"/><stop offset="0.4744" stop-color="#113f42"/><stop offset="0.5218" stop-color="#113f42"/><stop offset="0.5218" stop-color="#0f4442"/><stop offset="0.5534" stop-color="#0f4442"/><stop offset="0.5534" stop-color="#0f4840"/><stop offset="0.5851" stop-color="#0f4840"/><stop offset="0.5851" stop-color="#104d3f"/><stop offset="0.6009" stop-color="#104d3f"/><stop offset="0.6009" stop-color="#14513c"/><stop offset="0.6167" stop-color="#14513c"/><stop offset="0.6167" stop-color="#1b5638"/><stop offset="0.6325" stop-color="#1b5638"/><stop offset="0.6325" stop-color="#225a33"/><stop offset="0.6483" stop-color="#225a33"/><stop offset="0.6483" stop-color="#376127"/><stop offset="0.6641" stop-color="#376127"/><stop offset="0.6641" stop-color="#5e6912"/><stop offset="0.6799" stop-color="#5e6912"/><stop offset="0.6799" stop-color="#776d11"/></linearGradient>
<linearGradient id="g199" gradientUnits="userSpaceOnUse" x1="0" y1="67.9" x2="0" y2="382.7"><stop offset="0" stop-color="#1b2641"/><stop offset="0.0158" stop-color="#1b2641"/><stop offset="0.0158" stop-color="#220e34"/><stop offset="0.2372" stop-color="#220e34"/><stop offset="0.2372" stop-color="#211439"/><stop offset="0.2688" stop-color="#211439"/><stop offset="0.2688" stop-color="#1f1a3c"/><stop offset="0.3004" stop-color="#1f1a3c"/><stop offset="0.3004" stop-color="#1e2140"/><stop offset="0.3163" stop-color="#1e2140"/><stop offset="0.3163" stop-color="#1b2641"/><stop offset="0.3479" stop-color="#1b2641"/><stop offset="0.3479" stop-color="#192b42"/><stop offset="0.3637" stop-color="#192b42"/><stop offset="0.3637" stop-color="#173042"/><stop offset="0.3953" stop-color="#173042"/><stop offset="0.3953" stop-color="#153543"/><stop offset="0.4269" stop-color="#153543"/><stop offset="0.4269" stop-color="#133a43"/><stop offset="0.4744" stop-color="#133a43"/><stop offset="0.4744" stop-color="#113f42"/><stop offset="0.5218" stop-color="#113f42"/><stop offset="0.5218" stop-color="#0f4442"/><stop offset="0.5534" stop-color="#0f4442"/><stop offset="0.5534" stop-color="#0f4840"/><stop offset="0.5851" stop-color="#0f4840"/><stop offset="0.5851" stop-color="#104d3f"/><stop offset="0.6009" stop-color="#104d3f"/><stop offset="0.6009" stop-color="#14513c"/><stop offset="0.6167" stop-color="#14513c"/><stop offset="0.6167" stop-color="#1b5638"/><stop offset="0.6325" stop-color="#1b5638"/><stop offset="0.6325" stop-color="#225a33"/><stop offset="0.6483" stop-color="#225a33"/><stop offset="0.6483" stop-color="#376127"/><stop offset="0.6641" stop-color="#376127"/><stop offset="0.6641" stop-color="#5e6912"/><stop offset="0.6799" stop-color="#5e6912"/><stop offset="0.6799" stop-color="#776d11"/></linearGradient>
<linearGradient id="g200" gradientUnits="userSpaceOnUse" x1="0" y1="69.6" x2="0" y2="379.4"><stop offset="0" stop-color="#173042"/><stop offset="0.0158" stop-color="#173042"/><stop offset="0.0158" stop-color="#133a43"/><stop offset="0.0949" stop-color="#133a43"/><stop offset="0.0949" stop-color="#113f42"/><stop offset="0.1739" stop-color="#113f42"/><stop offset="0.1739" stop-color="#0f4442"/><stop offset="0.2372" stop-color="#0f4442"/><stop offset="0.2372" stop-color="#0f4840"/><stop offset="0.3004" stop-color="#0f4840"/><stop offset="0.3004" stop-color="#104d3f"/><stop offset="0.3479" stop-color="#104d3f"/><stop offset="0.3479" stop-color="#14513c"/><stop offset="0.3795" stop-color="#14513c"/><stop offset="0.3795" stop-color="#1b5638"/><stop offset="0.4111" stop-color="#1b5638"/><stop offset="0.4111" stop-color="#225a33"/><stop offset="0.4428" stop-color="#225a33"/><stop offset="0.4428" stop-color="#2c5e2d"/><stop offset="0.4744" stop-color="#2c5e2d"/><stop offset="0.4744" stop-color="#376127"/><stop offset="0.4902" stop-color="#376127"/><stop offset="0.4902" stop-color="#44641f"/><stop offset="0.5218" stop-color="#44641f"/><stop offset="0.5218" stop-color="#516717"/><stop offset="0.5376" stop-color="#516717"/><stop offset="0.5376" stop-color="#5e6912"/><stop offset="0.5534" stop-color="#5e6912"/><stop offset="0.5534" stop-color="#6a6b12"/><stop offset="0.5851" stop-color="#6a6b12"/><stop offset="0.5851" stop-color="#776d11"/></linearGradient>
<linearGradient id="g201" gradientUnits="userSpaceOnUse" x1="0" y1="71.2" x2="0" y2="376.2"><stop offset="0" stop-color="#173042"/><stop offset="0.0158" stop-color="#173042"/><stop offset="0.0158" stop-color="#133a43"/><stop offset="0.0474" stop-color="#133a43"/><stop offset="0.0474" stop-color="#113f42"/><stop offset="0.1107" stop-color="#113f42"/><stop offset="0.1107" stop-color="#0f4442"/><stop offset="0.1581" stop-color="#0f4442"/><stop offset="0.1581" stop-color="#0f4840"/><stop offset="0.2056" stop-color="#0f4840"/><stop offset="0.2056" stop-color="#104d3f"/><stop offset="0.253" stop-color="#104d3f"/><stop offset="0.253" stop-color="#14513c"/><stop offset="0.3004" stop-color="#14513c"/><stop offset="0.3004" stop-color="#1b5638"/><stop offset="0.3321" stop-color="#1b5638"/><stop offset="0.3321" stop-color="#225a33"/><stop offset="0.3479" stop-color="#225a33"/><stop offset="0.3479" stop-color="#2c5e2d"/><stop offset="0.3795" stop-color="#2c5e2d"/><stop offset="0.3795" stop-color="#376127"/><stop offset="0.4111" stop-color="#376127"/><stop offset="0.4111" stop-color="#44641f"/><stop offset="0.4269" stop-color="#44641f"/><stop offset="0.4269" stop-color="#516717"/><stop offset="0.4428" stop-color="#516717"/><stop offset="0.4428" stop-color="#5e6912"/><stop offset="0.4744" stop-color="#5e6912"/><stop offset="0.4744" stop-color="#6a6b12"/><stop offset="0.506" stop-color="#6a6b12"/><stop offset="0.506" stop-color="#776d11"/></linearGradient>
<linearGradient id="g202" gradientUnits="userSpaceOnUse" x1="0" y1="72.7" x2="0" y2="373.2"><stop offset="0" stop-color="#173042"/><stop offset="0.0158" stop-color="#173042"/><stop offset="0.0158" stop-color="#133a43"/><stop offset="0.0316" stop-color="#133a43"/><stop offset="0.0316" stop-color="#113f42"/><stop offset="0.0791" stop-color="#113f42"/><stop offset="0.0791" stop-color="#0f4442"/><stop offset="0.1265" stop-color="#0f4442"/><stop offset="0.1265" stop-color="#0f4840"/><stop offset="0.1739" stop-color="#0f4840"/><stop offset="0.1739" stop-color="#104d3f"/><stop offset="0.2056" stop-color="#104d3f"/><stop offset="0.2056" stop-color="#14513c"/><stop offset="0.2372" stop-color="#14513c"/><stop offset="0.2372" stop-color="#1b5638"/><stop offset="0.2688" stop-color="#1b5638"/><stop offset="0.2688" stop-color="#225a33"/><stop offset="0.2846" stop-color="#225a33"/><stop offset="0.2846" stop-color="#2c5e2d"/><stop offset="0.3163" stop-color="#2c5e2d"/><stop offset="0.3163" stop-color="#376127"/><stop offset="0.3321" stop-color="#376127"/><stop offset="0.3321" stop-color="#44641f"/><stop offset="0.3637" stop-color="#44641f"/><stop offset="0.3637" stop-color="#516717"/><stop offset="0.3795" stop-color="#516717"/><stop offset="0.3795" stop-color="#5e6912"/><stop offset="0.4111" stop-color="#5e6912"/><stop offset="0.4111" stop-color="#6a6b12"/><stop offset="0.4428" stop-color="#6a6b12"/><stop offset="0.4428" stop-color="#776d11"/></linearGradient>
<linearGradient id="g203" gradientUnits="userSpaceOnUse" x1="0" y1="74.2" x2="0" y2="370.2"><stop offset="0" stop-color="#173042"/><stop offset="0.0158" stop-color="#173042"/><stop offset="0.0158" stop-color="#133a43"/><stop offset="0.0316" stop-color="#133a43"/><stop offset="0.0316" stop-color="#113f42"/><stop offset="0.0949" stop-color="#113f42"/><stop offset="0.0949" stop-color="#0f4442"/><stop offset="0.1423" stop-color="#0f4442"/><stop offset="0.1423" stop-color="#0f4840"/><stop offset="0.1898" stop-color="#0f4840"/><stop offset="0.1898" stop-color="#104d3f"/><stop offset="0.2372" stop-color="#104d3f"/><stop offset="0.2372" stop-color="#14513c"/><stop offset="0.2688" stop-color="#14513c"/><stop offset="0.2688" stop-color="#1b5638"/><stop offset="0.3004" stop-color="#1b5638"/><stop offset="0.3004" stop-color="#225a33"/><stop offset="0.3321" stop-color="#225a33"/><stop offset="0.3321" stop-color="#2c5e2d"/><stop offset="0.3479" stop-color="#2c5e2d"/><stop offset="0.3479" stop-color="#376127"/><stop offset="0.3795" stop-color="#376127"/><stop offset="0.3795" stop-color="#44641f"/><stop offset="0.3953" stop-color="#44641f"/><stop offset="0.3953" stop-color="#516717"/><stop offset="0.4269" stop-color="#516717"/><stop offset="0.4269" stop-color="#5e6912"/><stop offset="0.4586" stop-color="#5e6912"/><stop offset="0.4586" stop-color="#6a6b12"/><stop offset="0.4902" stop-color="#6a6b12"/><stop offset="0.4902" stop-color="#776d11"/></linearGradient>
<linearGradient id="g204" gradientUnits="userSpaceOnUse" x1="0" y1="75.6" x2="0" y2="367.3"><stop offset="0" stop-color="#173042"/><stop offset="0.0158" stop-color="#173042"/><stop offset="0.0158" stop-color="#133a43"/><stop offset="0.0633" stop-color="#133a43"/><stop offset="0.0633" stop-color="#113f42"/><stop offset="0.1423" stop-color="#113f42"/><stop offset="0.1423" stop-color="#0f4442"/><stop offset="0.2056" stop-color="#0f4442"/><stop offset="0.2056" stop-color="#0f4840"/><stop offset="0.253" stop-color="#0f4840"/><stop offset="0.253" stop-color="#104d3f"/><stop offset="0.3163" stop-color="#104d3f"/><stop offset="0.3163" stop-color="#14513c"/><stop offset="0.3479" stop-color="#14513c"/><stop offset="0.3479" stop-color="#1b5638"/><stop offset="0.3795" stop-color="#1b5638"/><stop offset="0.3795" stop-color="#225a33"/><stop offset="0.4111" stop-color="#225a33"/><stop offset="0.4111" stop-color="#2c5e2d"/><stop offset="0.4269" stop-color="#2c5e2d"/><stop offset="0.4269" stop-color="#376127"/><stop offset="0.4586" stop-color="#376127"/><stop offset="0.4586" stop-color="#44641f"/><stop offset="0.4902" stop-color="#44641f"/><stop offset="0.4902" stop-color="#516717"/><stop offset="0.506" stop-color="#516717"/><stop offset="0.506" stop-color="#5e6912"/><stop offset="0.5376" stop-color="#5e6912"/><stop offset="0.5376" stop-color="#6a6b12"/><stop offset="0.5693" stop-color="#6a6b12"/><stop offset="0.5693" stop-color="#776d11"/></linearGradient>
<linearGradient id="g205" gradientUnits="userSpaceOnUse" x1="0" y1="77" x2="0" y2="364.5"><stop offset="0" stop-color="#192b42"/><stop offset="0.0158" stop-color="#192b42"/><stop offset="0.0158" stop-color="#173042"/><stop offset="0.1423" stop-color="#173042"/><stop offset="0.1423" stop-color="#153543"/><stop offset="0.2372" stop-color="#153543"/><stop offset="0.2372" stop-color="#133a43"/><stop offset="0.3163" stop-color="#133a43"/><stop offset="0.3163" stop-color="#113f42"/><stop offset="0.3795" stop-color="#113f42"/><stop offset="0.3795" stop-color="#0f4442"/><stop offset="0.4269" stop-color="#0f4442"/><stop offset="0.4269" stop-color="#0f4840"/><stop offset="0.4586" stop-color="#0f4840"/><stop offset="0.4586" stop-color="#104d3f"/><stop offset="0.4744" stop-color="#104d3f"/><stop offset="0.4744" stop-color="#1b5638"/><stop offset="0.4902" stop-color="#1b5638"/><stop offset="0.4902" stop-color="#225a33"/><stop offset="0.506" stop-color="#225a33"/><stop offset="0.506" stop-color="#2c5e2d"/><stop offset="0.5218" stop-color="#2c5e2d"/><stop offset="0.5218" stop-color="#376127"/><stop offset="0.5376" stop-color="#376127"/><stop offset="0.5376" stop-color="#44641f"/><stop offset="0.5534" stop-color="#44641f"/><stop offset="0.5534" stop-color="#516717"/><stop offset="0.5693" stop-color="#516717"/><stop offset="0.5693" stop-color="#5e6912"/><stop offset="0.5851" stop-color="#5e6912"/><stop offset="0.5851" stop-color="#6a6b12"/><stop offset="0.6009" stop-color="#6a6b12"/><stop offset="0.6009" stop-color="#776d11"/></linearGradient>
<linearGradient id="g206" gradientUnits="userSpaceOnUse" x1="0" y1="77.7" x2="0" y2="363.1"><stop offset="0" stop-color="#192b42"/><stop offset="0.0633" stop-color="#192b42"/><stop offset="0.0633" stop-color="#173042"/><stop offset="0.1739" stop-color="#173042"/><stop offset="0.1739" stop-color="#153543"/><stop offset="0.2846" stop-color="#153543"/><stop offset="0.2846" stop-color="#133a43"/><stop offset="0.3479" stop-color="#133a43"/><stop offset="0.3479" stop-color="#113f42"/><stop offset="0.4111" stop-color="#113f42"/><stop offset="0.4111" stop-color="#0f4442"/><stop offset="0.4428" stop-color="#0f4442"/><stop offset="0.4428" stop-color="#0f4840"/><stop offset="0.4586" stop-color="#0f4840"/><stop offset="0.4586" stop-color="#104d3f"/><stop offset="0.4744" stop-color="#104d3f"/><stop offset="0.4744" stop-color="#14513c"/><stop offset="0.4902" stop-color="#14513c"/><stop offset="0.4902" stop-color="#1b5638"/><stop offset="0.506" stop-color="#1b5638"/><stop offset="0.506" stop-color="#225a33"/><stop offset="0.5218" stop-color="#225a33"/><stop offset="0.5218" stop-color="#376127"/><stop offset="0.5376" stop-color="#376127"/><stop offset="0.5376" stop-color="#44641f"/><stop offset="0.5534" stop-color="#44641f"/><stop offset="0.5534" stop-color="#516717"/><stop offset="0.5693" stop-color="#516717"/><stop offset="0.5693" stop-color="#5e6912"/><stop offset="0.5851" stop-color="#5e6912"/><stop offset="0.5851" stop-color="#6a6b12"/><stop offset="0.6009" stop-color="#6a6b12"/><stop offset="0.6009" stop-color="#776d11"/></linearGradient>
<clipPath id="cc2"><path d="M197 45.5 L268.8 77.5 L269.2 285.3 L271.7 285 L271.7 314.7 L269.2 315.5 L268.8 325.9 L266.3 328 L266.3 337.6 L263.6 339.2 L263.6 350.9 L260.6 353.1 L260.6 364.8 L249.3 374.4 L249 364.3 L228.1 380.8 L228.1 393.6 L217.2 402.7 L216.5 391.7 L208.4 397.4 L207.9 385.3 L204.2 387.8 L203.3 375.5 L199.4 376.6 L198.5 352 L194.3 354 L194.3 325.5 L198.5 324.6 Z"/></clipPath>
<linearGradient id="g207" gradientUnits="userSpaceOnUse" x1="0" y1="45.6" x2="0" y2="427.2"><stop offset="0" stop-color="#1b2641"/><stop offset="0.0158" stop-color="#1b2641"/><stop offset="0.0158" stop-color="#21072e"/><stop offset="0.2214" stop-color="#21072e"/><stop offset="0.2214" stop-color="#220e34"/><stop offset="0.2688" stop-color="#220e34"/><stop offset="0.2688" stop-color="#211439"/><stop offset="0.3004" stop-color="#211439"/><stop offset="0.3004" stop-color="#1f1a3c"/><stop offset="0.3479" stop-color="#1f1a3c"/><stop offset="0.3479" stop-color="#1e2140"/><stop offset="0.3795" stop-color="#1e2140"/><stop offset="0.3795" stop-color="#1b2641"/><stop offset="0.4111" stop-color="#1b2641"/><stop offset="0.4111" stop-color="#192b42"/><stop offset="0.4586" stop-color="#192b42"/><stop offset="0.4586" stop-color="#173042"/><stop offset="0.506" stop-color="#173042"/><stop offset="0.506" stop-color="#153543"/><stop offset="0.5376" stop-color="#153543"/><stop offset="0.5376" stop-color="#133a43"/><stop offset="0.5693" stop-color="#133a43"/><stop offset="0.5693" stop-color="#113f42"/><stop offset="0.6325" stop-color="#113f42"/><stop offset="0.6325" stop-color="#0f4442"/><stop offset="0.6799" stop-color="#0f4442"/><stop offset="0.6799" stop-color="#0f4840"/><stop offset="0.7274" stop-color="#0f4840"/><stop offset="0.7274" stop-color="#104d3f"/><stop offset="0.7906" stop-color="#104d3f"/><stop offset="0.7906" stop-color="#14513c"/><stop offset="0.8697" stop-color="#14513c"/><stop offset="0.8697" stop-color="#1b5638"/><stop offset="0.9488" stop-color="#1b5638"/><stop offset="0.9488" stop-color="#225a33"/></linearGradient>
<linearGradient id="g208" gradientUnits="userSpaceOnUse" x1="0" y1="47" x2="0" y2="424.6"><stop offset="0" stop-color="#1b2641"/><stop offset="0.0158" stop-color="#1b2641"/><stop offset="0.0158" stop-color="#21072e"/><stop offset="0.2214" stop-color="#21072e"/><stop offset="0.2214" stop-color="#220e34"/><stop offset="0.2688" stop-color="#220e34"/><stop offset="0.2688" stop-color="#211439"/><stop offset="0.3004" stop-color="#211439"/><stop offset="0.3004" stop-color="#1f1a3c"/><stop offset="0.3479" stop-color="#1f1a3c"/><stop offset="0.3479" stop-color="#1e2140"/><stop offset="0.3795" stop-color="#1e2140"/><stop offset="0.3795" stop-color="#1b2641"/><stop offset="0.4111" stop-color="#1b2641"/><stop offset="0.4111" stop-color="#192b42"/><stop offset="0.4586" stop-color="#192b42"/><stop offset="0.4586" stop-color="#173042"/><stop offset="0.506" stop-color="#173042"/><stop offset="0.506" stop-color="#153543"/><stop offset="0.5376" stop-color="#153543"/><stop offset="0.5376" stop-color="#133a43"/><stop offset="0.5693" stop-color="#133a43"/><stop offset="0.5693" stop-color="#113f42"/><stop offset="0.6325" stop-color="#113f42"/><stop offset="0.6325" stop-color="#0f4442"/><stop offset="0.6799" stop-color="#0f4442"/><stop offset="0.6799" stop-color="#0f4840"/><stop offset="0.7274" stop-color="#0f4840"/><stop offset="0.7274" stop-color="#104d3f"/><stop offset="0.7906" stop-color="#104d3f"/><stop offset="0.7906" stop-color="#14513c"/><stop offset="0.8697" stop-color="#14513c"/><stop offset="0.8697" stop-color="#1b5638"/><stop offset="0.9488" stop-color="#1b5638"/><stop offset="0.9488" stop-color="#225a33"/></linearGradient>
<linearGradient id="g209" gradientUnits="userSpaceOnUse" x1="0" y1="49.5" x2="0" y2="419.5"><stop offset="0" stop-color="#1b2641"/><stop offset="0.0158" stop-color="#1b2641"/><stop offset="0.0158" stop-color="#220e34"/><stop offset="0.2372" stop-color="#220e34"/><stop offset="0.2372" stop-color="#211439"/><stop offset="0.2846" stop-color="#211439"/><stop offset="0.2846" stop-color="#1f1a3c"/><stop offset="0.3163" stop-color="#1f1a3c"/><stop offset="0.3163" stop-color="#1e2140"/><stop offset="0.3479" stop-color="#1e2140"/><stop offset="0.3479" stop-color="#1b2641"/><stop offset="0.3795" stop-color="#1b2641"/><stop offset="0.3795" stop-color="#192b42"/><stop offset="0.4269" stop-color="#192b42"/><stop offset="0.4269" stop-color="#173042"/><stop offset="0.4744" stop-color="#173042"/><stop offset="0.4744" stop-color="#153543"/><stop offset="0.506" stop-color="#153543"/><stop offset="0.506" stop-color="#133a43"/><stop offset="0.5376" stop-color="#133a43"/><stop offset="0.5376" stop-color="#113f42"/><stop offset="0.5851" stop-color="#113f42"/><stop offset="0.5851" stop-color="#0f4442"/><stop offset="0.6325" stop-color="#0f4442"/><stop offset="0.6325" stop-color="#0f4840"/><stop offset="0.6958" stop-color="#0f4840"/><stop offset="0.6958" stop-color="#104d3f"/><stop offset="0.759" stop-color="#104d3f"/><stop offset="0.759" stop-color="#14513c"/><stop offset="0.8223" stop-color="#14513c"/><stop offset="0.8223" stop-color="#1b5638"/><stop offset="0.9171" stop-color="#1b5638"/><stop offset="0.9171" stop-color="#225a33"/></linearGradient>
<linearGradient id="g210" gradientUnits="userSpaceOnUse" x1="0" y1="51.9" x2="0" y2="414.6"><stop offset="0" stop-color="#173042"/><stop offset="0.0158" stop-color="#173042"/><stop offset="0.0158" stop-color="#133a43"/><stop offset="0.0791" stop-color="#133a43"/><stop offset="0.0791" stop-color="#113f42"/><stop offset="0.1423" stop-color="#113f42"/><stop offset="0.1423" stop-color="#0f4442"/><stop offset="0.2214" stop-color="#0f4442"/><stop offset="0.2214" stop-color="#0f4840"/><stop offset="0.2688" stop-color="#0f4840"/><stop offset="0.2688" stop-color="#104d3f"/><stop offset="0.3163" stop-color="#104d3f"/><stop offset="0.3163" stop-color="#14513c"/><stop offset="0.3479" stop-color="#14513c"/><stop offset="0.3479" stop-color="#1b5638"/><stop offset="0.3795" stop-color="#1b5638"/><stop offset="0.3795" stop-color="#225a33"/><stop offset="0.4111" stop-color="#225a33"/><stop offset="0.4111" stop-color="#2c5e2d"/><stop offset="0.4428" stop-color="#2c5e2d"/><stop offset="0.4428" stop-color="#376127"/><stop offset="0.4586" stop-color="#376127"/><stop offset="0.4586" stop-color="#44641f"/><stop offset="0.4744" stop-color="#44641f"/><stop offset="0.4744" stop-color="#516717"/><stop offset="0.506" stop-color="#516717"/><stop offset="0.506" stop-color="#5e6912"/><stop offset="0.5218" stop-color="#5e6912"/><stop offset="0.5218" stop-color="#6a6b12"/><stop offset="0.5534" stop-color="#6a6b12"/><stop offset="0.5534" stop-color="#776d11"/></linearGradient>
<linearGradient id="g211" gradientUnits="userSpaceOnUse" x1="0" y1="54.3" x2="0" y2="410"><stop offset="0" stop-color="#173042"/><stop offset="0.0158" stop-color="#173042"/><stop offset="0.0158" stop-color="#133a43"/><stop offset="0.0474" stop-color="#133a43"/><stop offset="0.0474" stop-color="#113f42"/><stop offset="0.0949" stop-color="#113f42"/><stop offset="0.0949" stop-color="#0f4442"/><stop offset="0.1581" stop-color="#0f4442"/><stop offset="0.1581" stop-color="#0f4840"/><stop offset="0.2056" stop-color="#0f4840"/><stop offset="0.2056" stop-color="#104d3f"/><stop offset="0.2372" stop-color="#104d3f"/><stop offset="0.2372" stop-color="#14513c"/><stop offset="0.2846" stop-color="#14513c"/><stop offset="0.2846" stop-color="#1b5638"/><stop offset="0.3163" stop-color="#1b5638"/><stop offset="0.3163" stop-color="#225a33"/><stop offset="0.3321" stop-color="#225a33"/><stop offset="0.3321" stop-color="#2c5e2d"/><stop offset="0.3637" stop-color="#2c5e2d"/><stop offset="0.3637" stop-color="#376127"/><stop offset="0.3795" stop-color="#376127"/><stop offset="0.3795" stop-color="#44641f"/><stop offset="0.4111" stop-color="#44641f"/><stop offset="0.4111" stop-color="#516717"/><stop offset="0.4269" stop-color="#516717"/><stop offset="0.4269" stop-color="#5e6912"/><stop offset="0.4586" stop-color="#5e6912"/><stop offset="0.4586" stop-color="#6a6b12"/><stop offset="0.4744" stop-color="#6a6b12"/><stop offset="0.4744" stop-color="#776d11"/></linearGradient>
<linearGradient id="g212" gradientUnits="userSpaceOnUse" x1="0" y1="56.5" x2="0" y2="405.5"><stop offset="0" stop-color="#173042"/><stop offset="0.0158" stop-color="#173042"/><stop offset="0.0158" stop-color="#133a43"/><stop offset="0.0316" stop-color="#133a43"/><stop offset="0.0316" stop-color="#113f42"/><stop offset="0.0791" stop-color="#113f42"/><stop offset="0.0791" stop-color="#0f4442"/><stop offset="0.1423" stop-color="#0f4442"/><stop offset="0.1423" stop-color="#0f4840"/><stop offset="0.1739" stop-color="#0f4840"/><stop offset="0.1739" stop-color="#104d3f"/><stop offset="0.2214" stop-color="#104d3f"/><stop offset="0.2214" stop-color="#14513c"/><stop offset="0.253" stop-color="#14513c"/><stop offset="0.253" stop-color="#1b5638"/><stop offset="0.2846" stop-color="#1b5638"/><stop offset="0.2846" stop-color="#225a33"/><stop offset="0.3004" stop-color="#225a33"/><stop offset="0.3004" stop-color="#2c5e2d"/><stop offset="0.3321" stop-color="#2c5e2d"/><stop offset="0.3321" stop-color="#376127"/><stop offset="0.3479" stop-color="#376127"/><stop offset="0.3479" stop-color="#44641f"/><stop offset="0.3795" stop-color="#44641f"/><stop offset="0.3795" stop-color="#516717"/><stop offset="0.3953" stop-color="#516717"/><stop offset="0.3953" stop-color="#5e6912"/><stop offset="0.4269" stop-color="#5e6912"/><stop offset="0.4269" stop-color="#6a6b12"/><stop offset="0.4586" stop-color="#6a6b12"/><stop offset="0.4586" stop-color="#776d11"/></linearGradient>
<linearGradient id="g213" gradientUnits="userSpaceOnUse" x1="0" y1="58.7" x2="0" y2="401.1"><stop offset="0" stop-color="#173042"/><stop offset="0.0158" stop-color="#173042"/><stop offset="0.0158" stop-color="#133a43"/><stop offset="0.0316" stop-color="#133a43"/><stop offset="0.0316" stop-color="#113f42"/><stop offset="0.0791" stop-color="#113f42"/><stop offset="0.0791" stop-color="#0f4442"/><stop offset="0.1265" stop-color="#0f4442"/><stop offset="0.1265" stop-color="#0f4840"/><stop offset="0.1739" stop-color="#0f4840"/><stop offset="0.1739" stop-color="#104d3f"/><stop offset="0.2056" stop-color="#104d3f"/><stop offset="0.2056" stop-color="#14513c"/><stop offset="0.2372" stop-color="#14513c"/><stop offset="0.2372" stop-color="#1b5638"/><stop offset="0.253" stop-color="#1b5638"/><stop offset="0.253" stop-color="#225a33"/><stop offset="0.2846" stop-color="#225a33"/><stop offset="0.2846" stop-color="#2c5e2d"/><stop offset="0.3004" stop-color="#2c5e2d"/><stop offset="0.3004" stop-color="#376127"/><stop offset="0.3321" stop-color="#376127"/><stop offset="0.3321" stop-color="#44641f"/><stop offset="0.3479" stop-color="#44641f"/><stop offset="0.3479" stop-color="#516717"/><stop offset="0.3795" stop-color="#516717"/><stop offset="0.3795" stop-color="#5e6912"/><stop offset="0.3953" stop-color="#5e6912"/><stop offset="0.3953" stop-color="#6a6b12"/><stop offset="0.4428" stop-color="#6a6b12"/><stop offset="0.4428" stop-color="#776d11"/></linearGradient>
<linearGradient id="g214" gradientUnits="userSpaceOnUse" x1="0" y1="60.8" x2="0" y2="397"><stop offset="0" stop-color="#173042"/><stop offset="0.0158" stop-color="#173042"/><stop offset="0.0158" stop-color="#133a43"/><stop offset="0.0474" stop-color="#133a43"/><stop offset="0.0474" stop-color="#113f42"/><stop offset="0.0949" stop-color="#113f42"/><stop offset="0.0949" stop-color="#0f4442"/><stop offset="0.1423" stop-color="#0f4442"/><stop offset="0.1423" stop-color="#0f4840"/><stop offset="0.1898" stop-color="#0f4840"/><stop offset="0.1898" stop-color="#104d3f"/><stop offset="0.2372" stop-color="#104d3f"/><stop offset="0.2372" stop-color="#14513c"/><stop offset="0.2688" stop-color="#14513c"/><stop offset="0.2688" stop-color="#1b5638"/><stop offset="0.3004" stop-color="#1b5638"/><stop offset="0.3004" stop-color="#225a33"/><stop offset="0.3321" stop-color="#225a33"/><stop offset="0.3321" stop-color="#2c5e2d"/><stop offset="0.3479" stop-color="#2c5e2d"/><stop offset="0.3479" stop-color="#376127"/><stop offset="0.3795" stop-color="#376127"/><stop offset="0.3795" stop-color="#44641f"/><stop offset="0.3953" stop-color="#44641f"/><stop offset="0.3953" stop-color="#516717"/><stop offset="0.4269" stop-color="#516717"/><stop offset="0.4269" stop-color="#5e6912"/><stop offset="0.4428" stop-color="#5e6912"/><stop offset="0.4428" stop-color="#6a6b12"/><stop offset="0.4744" stop-color="#6a6b12"/><stop offset="0.4744" stop-color="#776d11"/></linearGradient>
<linearGradient id="g215" gradientUnits="userSpaceOnUse" x1="0" y1="62.8" x2="0" y2="392.9"><stop offset="0" stop-color="#173042"/><stop offset="0.0158" stop-color="#173042"/><stop offset="0.0158" stop-color="#133a43"/><stop offset="0.0633" stop-color="#133a43"/><stop offset="0.0633" stop-color="#113f42"/><stop offset="0.1265" stop-color="#113f42"/><stop offset="0.1265" stop-color="#0f4442"/><stop offset="0.1898" stop-color="#0f4442"/><stop offset="0.1898" stop-color="#0f4840"/><stop offset="0.2372" stop-color="#0f4840"/><stop offset="0.2372" stop-color="#104d3f"/><stop offset="0.2846" stop-color="#104d3f"/><stop offset="0.2846" stop-color="#14513c"/><stop offset="0.3163" stop-color="#14513c"/><stop offset="0.3163" stop-color="#1b5638"/><stop offset="0.3479" stop-color="#1b5638"/><stop offset="0.3479" stop-color="#225a33"/><stop offset="0.3795" stop-color="#225a33"/><stop offset="0.3795" stop-color="#2c5e2d"/><stop offset="0.4111" stop-color="#2c5e2d"/><stop offset="0.4111" stop-color="#376127"/><stop offset="0.4269" stop-color="#376127"/><stop offset="0.4269" stop-color="#44641f"/><stop offset="0.4586" stop-color="#44641f"/><stop offset="0.4586" stop-color="#516717"/><stop offset="0.4744" stop-color="#516717"/><stop offset="0.4744" stop-color="#5e6912"/><stop offset="0.506" stop-color="#5e6912"/><stop offset="0.506" stop-color="#6a6b12"/><stop offset="0.5376" stop-color="#6a6b12"/><stop offset="0.5376" stop-color="#776d11"/></linearGradient>
<linearGradient id="g216" gradientUnits="userSpaceOnUse" x1="0" y1="64.7" x2="0" y2="389"><stop offset="0" stop-color="#192b42"/><stop offset="0.0316" stop-color="#192b42"/><stop offset="0.0316" stop-color="#173042"/><stop offset="0.1423" stop-color="#173042"/><stop offset="0.1423" stop-color="#153543"/><stop offset="0.2372" stop-color="#153543"/><stop offset="0.2372" stop-color="#133a43"/><stop offset="0.2846" stop-color="#133a43"/><stop offset="0.2846" stop-color="#113f42"/><stop offset="0.3163" stop-color="#113f42"/><stop offset="0.3163" stop-color="#0f4442"/><stop offset="0.3479" stop-color="#0f4442"/><stop offset="0.3479" stop-color="#0f4840"/><stop offset="0.3953" stop-color="#0f4840"/><stop offset="0.3953" stop-color="#104d3f"/><stop offset="0.4111" stop-color="#104d3f"/><stop offset="0.4111" stop-color="#14513c"/><stop offset="0.4428" stop-color="#14513c"/><stop offset="0.4428" stop-color="#1b5638"/><stop offset="0.4586" stop-color="#1b5638"/><stop offset="0.4586" stop-color="#225a33"/><stop offset="0.4744" stop-color="#225a33"/><stop offset="0.4744" stop-color="#2c5e2d"/><stop offset="0.4902" stop-color="#2c5e2d"/><stop offset="0.4902" stop-color="#376127"/><stop offset="0.506" stop-color="#376127"/><stop offset="0.506" stop-color="#44641f"/><stop offset="0.5218" stop-color="#44641f"/><stop offset="0.5218" stop-color="#516717"/><stop offset="0.5376" stop-color="#516717"/><stop offset="0.5376" stop-color="#5e6912"/><stop offset="0.5534" stop-color="#5e6912"/><stop offset="0.5534" stop-color="#776d11"/></linearGradient>
<linearGradient id="g217" gradientUnits="userSpaceOnUse" x1="0" y1="66.6" x2="0" y2="385.3"><stop offset="0" stop-color="#1b2641"/><stop offset="0.0158" stop-color="#1b2641"/><stop offset="0.0158" stop-color="#1f1a3c"/><stop offset="0.2214" stop-color="#1f1a3c"/><stop offset="0.2214" stop-color="#1e2140"/><stop offset="0.2688" stop-color="#1e2140"/><stop offset="0.2688" stop-color="#1b2641"/><stop offset="0.3004" stop-color="#1b2641"/><stop offset="0.3004" stop-color="#192b42"/><stop offset="0.3321" stop-color="#192b42"/><stop offset="0.3321" stop-color="#173042"/><stop offset="0.3637" stop-color="#173042"/><stop offset="0.3637" stop-color="#153543"/><stop offset="0.3953" stop-color="#153543"/><stop offset="0.3953" stop-color="#133a43"/><stop offset="0.4269" stop-color="#133a43"/><stop offset="0.4269" stop-color="#113f42"/><stop offset="0.4586" stop-color="#113f42"/><stop offset="0.4586" stop-color="#0f4442"/><stop offset="0.4744" stop-color="#0f4442"/><stop offset="0.4744" stop-color="#0f4840"/><stop offset="0.4902" stop-color="#0f4840"/><stop offset="0.4902" stop-color="#14513c"/><stop offset="0.506" stop-color="#14513c"/><stop offset="0.506" stop-color="#225a33"/><stop offset="0.5218" stop-color="#225a33"/><stop offset="0.5218" stop-color="#376127"/><stop offset="0.5376" stop-color="#376127"/><stop offset="0.5376" stop-color="#516717"/><stop offset="0.5534" stop-color="#516717"/><stop offset="0.5534" stop-color="#6a6b12"/><stop offset="0.5693" stop-color="#6a6b12"/><stop offset="0.5693" stop-color="#776d11"/></linearGradient>
<linearGradient id="g218" gradientUnits="userSpaceOnUse" x1="0" y1="68.4" x2="0" y2="381.7"><stop offset="0" stop-color="#173042"/><stop offset="0.0158" stop-color="#173042"/><stop offset="0.0158" stop-color="#153543"/><stop offset="0.0949" stop-color="#153543"/><stop offset="0.0949" stop-color="#133a43"/><stop offset="0.1898" stop-color="#133a43"/><stop offset="0.1898" stop-color="#113f42"/><stop offset="0.253" stop-color="#113f42"/><stop offset="0.253" stop-color="#0f4442"/><stop offset="0.3004" stop-color="#0f4442"/><stop offset="0.3004" stop-color="#0f4840"/><stop offset="0.3321" stop-color="#0f4840"/><stop offset="0.3321" stop-color="#104d3f"/><stop offset="0.3795" stop-color="#104d3f"/><stop offset="0.3795" stop-color="#14513c"/><stop offset="0.4111" stop-color="#14513c"/><stop offset="0.4111" stop-color="#1b5638"/><stop offset="0.4269" stop-color="#1b5638"/><stop offset="0.4269" stop-color="#225a33"/><stop offset="0.4586" stop-color="#225a33"/><stop offset="0.4586" stop-color="#2c5e2d"/><stop offset="0.4744" stop-color="#2c5e2d"/><stop offset="0.4744" stop-color="#376127"/><stop offset="0.4902" stop-color="#376127"/><stop offset="0.4902" stop-color="#44641f"/><stop offset="0.506" stop-color="#44641f"/><stop offset="0.506" stop-color="#516717"/><stop offset="0.5218" stop-color="#516717"/><stop offset="0.5218" stop-color="#5e6912"/><stop offset="0.5376" stop-color="#5e6912"/><stop offset="0.5376" stop-color="#6a6b12"/><stop offset="0.5534" stop-color="#6a6b12"/><stop offset="0.5534" stop-color="#776d11"/></linearGradient>
<linearGradient id="g219" gradientUnits="userSpaceOnUse" x1="0" y1="70.2" x2="0" y2="378.2"><stop offset="0" stop-color="#173042"/><stop offset="0.0158" stop-color="#173042"/><stop offset="0.0158" stop-color="#133a43"/><stop offset="0.0474" stop-color="#133a43"/><stop offset="0.0474" stop-color="#113f42"/><stop offset="0.0949" stop-color="#113f42"/><stop offset="0.0949" stop-color="#0f4442"/><stop offset="0.1423" stop-color="#0f4442"/><stop offset="0.1423" stop-color="#0f4840"/><stop offset="0.2056" stop-color="#0f4840"/><stop offset="0.2056" stop-color="#104d3f"/><stop offset="0.2372" stop-color="#104d3f"/><stop offset="0.2372" stop-color="#14513c"/><stop offset="0.2846" stop-color="#14513c"/><stop offset="0.2846" stop-color="#1b5638"/><stop offset="0.3163" stop-color="#1b5638"/><stop offset="0.3163" stop-color="#225a33"/><stop offset="0.3321" stop-color="#225a33"/><stop offset="0.3321" stop-color="#2c5e2d"/><stop offset="0.3637" stop-color="#2c5e2d"/><stop offset="0.3637" stop-color="#376127"/><stop offset="0.3795" stop-color="#376127"/><stop offset="0.3795" stop-color="#44641f"/><stop offset="0.3953" stop-color="#44641f"/><stop offset="0.3953" stop-color="#516717"/><stop offset="0.4269" stop-color="#516717"/><stop offset="0.4269" stop-color="#5e6912"/><stop offset="0.4428" stop-color="#5e6912"/><stop offset="0.4428" stop-color="#6a6b12"/><stop offset="0.4744" stop-color="#6a6b12"/><stop offset="0.4744" stop-color="#776d11"/></linearGradient>
<linearGradient id="g220" gradientUnits="userSpaceOnUse" x1="0" y1="71.9" x2="0" y2="374.8"><stop offset="0" stop-color="#173042"/><stop offset="0.0158" stop-color="#173042"/><stop offset="0.0158" stop-color="#133a43"/><stop offset="0.0316" stop-color="#133a43"/><stop offset="0.0316" stop-color="#113f42"/><stop offset="0.0791" stop-color="#113f42"/><stop offset="0.0791" stop-color="#0f4442"/><stop offset="0.1107" stop-color="#0f4442"/><stop offset="0.1107" stop-color="#0f4840"/><stop offset="0.1581" stop-color="#0f4840"/><stop offset="0.1581" stop-color="#104d3f"/><stop offset="0.2056" stop-color="#104d3f"/><stop offset="0.2056" stop-color="#14513c"/><stop offset="0.2214" stop-color="#14513c"/><stop offset="0.2214" stop-color="#1b5638"/><stop offset="0.253" stop-color="#1b5638"/><stop offset="0.253" stop-color="#225a33"/><stop offset="0.2688" stop-color="#225a33"/><stop offset="0.2688" stop-color="#2c5e2d"/><stop offset="0.2846" stop-color="#2c5e2d"/><stop offset="0.2846" stop-color="#376127"/><stop offset="0.3163" stop-color="#376127"/><stop offset="0.3163" stop-color="#44641f"/><stop offset="0.3321" stop-color="#44641f"/><stop offset="0.3321" stop-color="#516717"/><stop offset="0.3479" stop-color="#516717"/><stop offset="0.3479" stop-color="#5e6912"/><stop offset="0.3795" stop-color="#5e6912"/><stop offset="0.3795" stop-color="#6a6b12"/><stop offset="0.4111" stop-color="#6a6b12"/><stop offset="0.4111" stop-color="#776d11"/></linearGradient>
<linearGradient id="g221" gradientUnits="userSpaceOnUse" x1="0" y1="73.5" x2="0" y2="371.5"><stop offset="0" stop-color="#173042"/><stop offset="0.0158" stop-color="#173042"/><stop offset="0.0158" stop-color="#133a43"/><stop offset="0.0474" stop-color="#133a43"/><stop offset="0.0474" stop-color="#113f42"/><stop offset="0.0949" stop-color="#113f42"/><stop offset="0.0949" stop-color="#0f4442"/><stop offset="0.1423" stop-color="#0f4442"/><stop offset="0.1423" stop-color="#0f4840"/><stop offset="0.1898" stop-color="#0f4840"/><stop offset="0.1898" stop-color="#104d3f"/><stop offset="0.2372" stop-color="#104d3f"/><stop offset="0.2372" stop-color="#14513c"/><stop offset="0.2846" stop-color="#14513c"/><stop offset="0.2846" stop-color="#1b5638"/><stop offset="0.3004" stop-color="#1b5638"/><stop offset="0.3004" stop-color="#225a33"/><stop offset="0.3321" stop-color="#225a33"/><stop offset="0.3321" stop-color="#2c5e2d"/><stop offset="0.3479" stop-color="#2c5e2d"/><stop offset="0.3479" stop-color="#376127"/><stop offset="0.3795" stop-color="#376127"/><stop offset="0.3795" stop-color="#44641f"/><stop offset="0.3953" stop-color="#44641f"/><stop offset="0.3953" stop-color="#516717"/><stop offset="0.4269" stop-color="#516717"/><stop offset="0.4269" stop-color="#5e6912"/><stop offset="0.4428" stop-color="#5e6912"/><stop offset="0.4428" stop-color="#6a6b12"/><stop offset="0.4744" stop-color="#6a6b12"/><stop offset="0.4744" stop-color="#776d11"/></linearGradient>
<linearGradient id="g222" gradientUnits="userSpaceOnUse" x1="0" y1="75.1" x2="0" y2="368.4"><stop offset="0" stop-color="#173042"/><stop offset="0.0158" stop-color="#173042"/><stop offset="0.0158" stop-color="#153543"/><stop offset="0.0474" stop-color="#153543"/><stop offset="0.0474" stop-color="#133a43"/><stop offset="0.1265" stop-color="#133a43"/><stop offset="0.1265" stop-color="#113f42"/><stop offset="0.2056" stop-color="#113f42"/><stop offset="0.2056" stop-color="#0f4442"/><stop offset="0.2688" stop-color="#0f4442"/><stop offset="0.2688" stop-color="#0f4840"/><stop offset="0.3163" stop-color="#0f4840"/><stop offset="0.3163" stop-color="#104d3f"/><stop offset="0.3479" stop-color="#104d3f"/><stop offset="0.3479" stop-color="#14513c"/><stop offset="0.3795" stop-color="#14513c"/><stop offset="0.3795" stop-color="#1b5638"/><stop offset="0.4111" stop-color="#1b5638"/><stop offset="0.4111" stop-color="#225a33"/><stop offset="0.4269" stop-color="#225a33"/><stop offset="0.4269" stop-color="#2c5e2d"/><stop offset="0.4586" stop-color="#2c5e2d"/><stop offset="0.4586" stop-color="#376127"/><stop offset="0.4744" stop-color="#376127"/><stop offset="0.4744" stop-color="#44641f"/><stop offset="0.506" stop-color="#44641f"/><stop offset="0.506" stop-color="#516717"/><stop offset="0.5218" stop-color="#516717"/><stop offset="0.5218" stop-color="#5e6912"/><stop offset="0.5376" stop-color="#5e6912"/><stop offset="0.5376" stop-color="#6a6b12"/><stop offset="0.5693" stop-color="#6a6b12"/><stop offset="0.5693" stop-color="#776d11"/></linearGradient>
<linearGradient id="g223" gradientUnits="userSpaceOnUse" x1="0" y1="76.6" x2="0" y2="365.3"><stop offset="0" stop-color="#1b2641"/><stop offset="0.0158" stop-color="#1b2641"/><stop offset="0.0158" stop-color="#21072e"/><stop offset="0.2056" stop-color="#21072e"/><stop offset="0.2056" stop-color="#220e34"/><stop offset="0.2214" stop-color="#220e34"/><stop offset="0.2214" stop-color="#211439"/><stop offset="0.253" stop-color="#211439"/><stop offset="0.253" stop-color="#1f1a3c"/><stop offset="0.2846" stop-color="#1f1a3c"/><stop offset="0.2846" stop-color="#1e2140"/><stop offset="0.3163" stop-color="#1e2140"/><stop offset="0.3163" stop-color="#1b2641"/><stop offset="0.3637" stop-color="#1b2641"/><stop offset="0.3637" stop-color="#192b42"/><stop offset="0.3953" stop-color="#192b42"/><stop offset="0.3953" stop-color="#173042"/><stop offset="0.4428" stop-color="#173042"/><stop offset="0.4428" stop-color="#153543"/><stop offset="0.4744" stop-color="#153543"/><stop offset="0.4744" stop-color="#133a43"/><stop offset="0.4902" stop-color="#133a43"/><stop offset="0.4902" stop-color="#113f42"/><stop offset="0.506" stop-color="#113f42"/><stop offset="0.506" stop-color="#0f4840"/><stop offset="0.5218" stop-color="#0f4840"/><stop offset="0.5218" stop-color="#14513c"/><stop offset="0.5376" stop-color="#14513c"/><stop offset="0.5376" stop-color="#225a33"/><stop offset="0.5534" stop-color="#225a33"/><stop offset="0.5534" stop-color="#2c5e2d"/><stop offset="0.5693" stop-color="#2c5e2d"/><stop offset="0.5693" stop-color="#44641f"/><stop offset="0.5851" stop-color="#44641f"/><stop offset="0.5851" stop-color="#5e6912"/><stop offset="0.6009" stop-color="#5e6912"/><stop offset="0.6009" stop-color="#6a6b12"/><stop offset="0.6167" stop-color="#6a6b12"/><stop offset="0.6167" stop-color="#776d11"/><stop offset="0.9013" stop-color="#776d11"/><stop offset="0.9013" stop-color="#6a6b12"/><stop offset="0.933" stop-color="#6a6b12"/><stop offset="0.933" stop-color="#5e6912"/><stop offset="0.9646" stop-color="#5e6912"/><stop offset="0.9646" stop-color="#516717"/></linearGradient>
<linearGradient id="g224" gradientUnits="userSpaceOnUse" x1="0" y1="77.4" x2="0" y2="363.8"><stop offset="0" stop-color="#1b2641"/><stop offset="0.0158" stop-color="#1b2641"/><stop offset="0.0158" stop-color="#21072e"/><stop offset="0.2056" stop-color="#21072e"/><stop offset="0.2056" stop-color="#220e34"/><stop offset="0.2214" stop-color="#220e34"/><stop offset="0.2214" stop-color="#211439"/><stop offset="0.253" stop-color="#211439"/><stop offset="0.253" stop-color="#1f1a3c"/><stop offset="0.2846" stop-color="#1f1a3c"/><stop offset="0.2846" stop-color="#1e2140"/><stop offset="0.3163" stop-color="#1e2140"/><stop offset="0.3163" stop-color="#1b2641"/><stop offset="0.3637" stop-color="#1b2641"/><stop offset="0.3637" stop-color="#192b42"/><stop offset="0.3953" stop-color="#192b42"/><stop offset="0.3953" stop-color="#173042"/><stop offset="0.4428" stop-color="#173042"/><stop offset="0.4428" stop-color="#153543"/><stop offset="0.4744" stop-color="#153543"/><stop offset="0.4744" stop-color="#133a43"/><stop offset="0.4902" stop-color="#133a43"/><stop offset="0.4902" stop-color="#113f42"/><stop offset="0.506" stop-color="#113f42"/><stop offset="0.506" stop-color="#0f4840"/><stop offset="0.5218" stop-color="#0f4840"/><stop offset="0.5218" stop-color="#14513c"/><stop offset="0.5376" stop-color="#14513c"/><stop offset="0.5376" stop-color="#225a33"/><stop offset="0.5534" stop-color="#225a33"/><stop offset="0.5534" stop-color="#2c5e2d"/><stop offset="0.5693" stop-color="#2c5e2d"/><stop offset="0.5693" stop-color="#44641f"/><stop offset="0.5851" stop-color="#44641f"/><stop offset="0.5851" stop-color="#5e6912"/><stop offset="0.6009" stop-color="#5e6912"/><stop offset="0.6009" stop-color="#6a6b12"/><stop offset="0.6167" stop-color="#6a6b12"/><stop offset="0.6167" stop-color="#776d11"/><stop offset="0.9013" stop-color="#776d11"/><stop offset="0.9013" stop-color="#6a6b12"/><stop offset="0.933" stop-color="#6a6b12"/><stop offset="0.933" stop-color="#5e6912"/><stop offset="0.9646" stop-color="#5e6912"/><stop offset="0.9646" stop-color="#516717"/></linearGradient>
<clipPath id="cc3"><path d="M288.3 41.3 L337.5 74.5 L336.7 319.6 L334.6 321.4 L334.6 331.4 L332.8 333.2 L332.8 345.7 L328.9 349.8 L328.9 360.5 L325.3 365 L324.8 354.6 L321.3 359.1 L320.9 348.4 L311.1 359.1 L311.1 370 L305.5 375.9 L305.5 390.2 L301.1 396.7 L300.2 384.5 L295.2 390.7 L294.6 377.1 L292.2 379.7 L291.6 367.6 L288.5 369.4 Z"/></clipPath>
<linearGradient id="g225" gradientUnits="userSpaceOnUse" x1="0" y1="42.8" x2="0" y2="432.8"><stop offset="0" stop-color="#1b2641"/><stop offset="0.0158" stop-color="#1b2641"/><stop offset="0.0158" stop-color="#21072e"/><stop offset="0.2214" stop-color="#21072e"/><stop offset="0.2214" stop-color="#220e34"/><stop offset="0.2688" stop-color="#220e34"/><stop offset="0.2688" stop-color="#211439"/><stop offset="0.3004" stop-color="#211439"/><stop offset="0.3004" stop-color="#1f1a3c"/><stop offset="0.3479" stop-color="#1f1a3c"/><stop offset="0.3479" stop-color="#1e2140"/><stop offset="0.3795" stop-color="#1e2140"/><stop offset="0.3795" stop-color="#1b2641"/><stop offset="0.4111" stop-color="#1b2641"/><stop offset="0.4111" stop-color="#192b42"/><stop offset="0.4586" stop-color="#192b42"/><stop offset="0.4586" stop-color="#173042"/><stop offset="0.506" stop-color="#173042"/><stop offset="0.506" stop-color="#153543"/><stop offset="0.5376" stop-color="#153543"/><stop offset="0.5376" stop-color="#133a43"/><stop offset="0.5693" stop-color="#133a43"/><stop offset="0.5693" stop-color="#113f42"/><stop offset="0.6325" stop-color="#113f42"/><stop offset="0.6325" stop-color="#0f4442"/><stop offset="0.6799" stop-color="#0f4442"/><stop offset="0.6799" stop-color="#0f4840"/><stop offset="0.7274" stop-color="#0f4840"/><stop offset="0.7274" stop-color="#104d3f"/><stop offset="0.7906" stop-color="#104d3f"/><stop offset="0.7906" stop-color="#14513c"/><stop offset="0.8697" stop-color="#14513c"/><stop offset="0.8697" stop-color="#1b5638"/><stop offset="0.9488" stop-color="#1b5638"/><stop offset="0.9488" stop-color="#225a33"/></linearGradient>
<linearGradient id="g226" gradientUnits="userSpaceOnUse" x1="0" y1="45.5" x2="0" y2="427.5"><stop offset="0" stop-color="#1b2641"/><stop offset="0.0158" stop-color="#1b2641"/><stop offset="0.0158" stop-color="#21072e"/><stop offset="0.2214" stop-color="#21072e"/><stop offset="0.2214" stop-color="#220e34"/><stop offset="0.2688" stop-color="#220e34"/><stop offset="0.2688" stop-color="#211439"/><stop offset="0.3004" stop-color="#211439"/><stop offset="0.3004" stop-color="#1f1a3c"/><stop offset="0.3321" stop-color="#1f1a3c"/><stop offset="0.3321" stop-color="#1e2140"/><stop offset="0.3795" stop-color="#1e2140"/><stop offset="0.3795" stop-color="#1b2641"/><stop offset="0.4111" stop-color="#1b2641"/><stop offset="0.4111" stop-color="#192b42"/><stop offset="0.4586" stop-color="#192b42"/><stop offset="0.4586" stop-color="#173042"/><stop offset="0.506" stop-color="#173042"/><stop offset="0.506" stop-color="#153543"/><stop offset="0.5376" stop-color="#153543"/><stop offset="0.5376" stop-color="#133a43"/><stop offset="0.5693" stop-color="#133a43"/><stop offset="0.5693" stop-color="#113f42"/><stop offset="0.6167" stop-color="#113f42"/><stop offset="0.6167" stop-color="#0f4442"/><stop offset="0.6799" stop-color="#0f4442"/><stop offset="0.6799" stop-color="#0f4840"/><stop offset="0.7274" stop-color="#0f4840"/><stop offset="0.7274" stop-color="#104d3f"/><stop offset="0.7906" stop-color="#104d3f"/><stop offset="0.7906" stop-color="#14513c"/><stop offset="0.8697" stop-color="#14513c"/><stop offset="0.8697" stop-color="#1b5638"/><stop offset="0.9488" stop-color="#1b5638"/><stop offset="0.9488" stop-color="#225a33"/></linearGradient>
<linearGradient id="g227" gradientUnits="userSpaceOnUse" x1="0" y1="48" x2="0" y2="422.5"><stop offset="0" stop-color="#173042"/><stop offset="0.0158" stop-color="#173042"/><stop offset="0.0158" stop-color="#133a43"/><stop offset="0.0949" stop-color="#133a43"/><stop offset="0.0949" stop-color="#113f42"/><stop offset="0.1739" stop-color="#113f42"/><stop offset="0.1739" stop-color="#0f4442"/><stop offset="0.253" stop-color="#0f4442"/><stop offset="0.253" stop-color="#0f4840"/><stop offset="0.3321" stop-color="#0f4840"/><stop offset="0.3321" stop-color="#104d3f"/><stop offset="0.3795" stop-color="#104d3f"/><stop offset="0.3795" stop-color="#14513c"/><stop offset="0.4111" stop-color="#14513c"/><stop offset="0.4111" stop-color="#1b5638"/><stop offset="0.4586" stop-color="#1b5638"/><stop offset="0.4586" stop-color="#225a33"/><stop offset="0.4744" stop-color="#225a33"/><stop offset="0.4744" stop-color="#2c5e2d"/><stop offset="0.506" stop-color="#2c5e2d"/><stop offset="0.506" stop-color="#376127"/><stop offset="0.5376" stop-color="#376127"/><stop offset="0.5376" stop-color="#44641f"/><stop offset="0.5534" stop-color="#44641f"/><stop offset="0.5534" stop-color="#516717"/><stop offset="0.5851" stop-color="#516717"/><stop offset="0.5851" stop-color="#5e6912"/><stop offset="0.6009" stop-color="#5e6912"/><stop offset="0.6009" stop-color="#6a6b12"/><stop offset="0.6325" stop-color="#6a6b12"/><stop offset="0.6325" stop-color="#776d11"/></linearGradient>
<linearGradient id="g228" gradientUnits="userSpaceOnUse" x1="0" y1="50.4" x2="0" y2="417.7"><stop offset="0" stop-color="#173042"/><stop offset="0.0158" stop-color="#173042"/><stop offset="0.0158" stop-color="#133a43"/><stop offset="0.0474" stop-color="#133a43"/><stop offset="0.0474" stop-color="#113f42"/><stop offset="0.1265" stop-color="#113f42"/><stop offset="0.1265" stop-color="#0f4442"/><stop offset="0.1898" stop-color="#0f4442"/><stop offset="0.1898" stop-color="#0f4840"/><stop offset="0.2372" stop-color="#0f4840"/><stop offset="0.2372" stop-color="#104d3f"/><stop offset="0.3004" stop-color="#104d3f"/><stop offset="0.3004" stop-color="#14513c"/><stop offset="0.3479" stop-color="#14513c"/><stop offset="0.3479" stop-color="#1b5638"/><stop offset="0.3795" stop-color="#1b5638"/><stop offset="0.3795" stop-color="#225a33"/><stop offset="0.3953" stop-color="#225a33"/><stop offset="0.3953" stop-color="#2c5e2d"/><stop offset="0.4269" stop-color="#2c5e2d"/><stop offset="0.4269" stop-color="#376127"/><stop offset="0.4586" stop-color="#376127"/><stop offset="0.4586" stop-color="#44641f"/><stop offset="0.4902" stop-color="#44641f"/><stop offset="0.4902" stop-color="#516717"/><stop offset="0.506" stop-color="#516717"/><stop offset="0.506" stop-color="#5e6912"/><stop offset="0.5376" stop-color="#5e6912"/><stop offset="0.5376" stop-color="#6a6b12"/><stop offset="0.5693" stop-color="#6a6b12"/><stop offset="0.5693" stop-color="#776d11"/></linearGradient>
<linearGradient id="g229" gradientUnits="userSpaceOnUse" x1="0" y1="52.7" x2="0" y2="413"><stop offset="0" stop-color="#173042"/><stop offset="0.0158" stop-color="#173042"/><stop offset="0.0158" stop-color="#133a43"/><stop offset="0.0474" stop-color="#133a43"/><stop offset="0.0474" stop-color="#113f42"/><stop offset="0.1107" stop-color="#113f42"/><stop offset="0.1107" stop-color="#0f4442"/><stop offset="0.1739" stop-color="#0f4442"/><stop offset="0.1739" stop-color="#0f4840"/><stop offset="0.2372" stop-color="#0f4840"/><stop offset="0.2372" stop-color="#104d3f"/><stop offset="0.2688" stop-color="#104d3f"/><stop offset="0.2688" stop-color="#14513c"/><stop offset="0.3163" stop-color="#14513c"/><stop offset="0.3163" stop-color="#1b5638"/><stop offset="0.3479" stop-color="#1b5638"/><stop offset="0.3479" stop-color="#225a33"/><stop offset="0.3795" stop-color="#225a33"/><stop offset="0.3795" stop-color="#2c5e2d"/><stop offset="0.3953" stop-color="#2c5e2d"/><stop offset="0.3953" stop-color="#376127"/><stop offset="0.4269" stop-color="#376127"/><stop offset="0.4269" stop-color="#44641f"/><stop offset="0.4586" stop-color="#44641f"/><stop offset="0.4586" stop-color="#516717"/><stop offset="0.4902" stop-color="#516717"/><stop offset="0.4902" stop-color="#5e6912"/><stop offset="0.5218" stop-color="#5e6912"/><stop offset="0.5218" stop-color="#6a6b12"/><stop offset="0.5534" stop-color="#6a6b12"/><stop offset="0.5534" stop-color="#776d11"/></linearGradient>
<linearGradient id="g230" gradientUnits="userSpaceOnUse" x1="0" y1="55" x2="0" y2="408.5"><stop offset="0" stop-color="#173042"/><stop offset="0.0158" stop-color="#173042"/><stop offset="0.0158" stop-color="#133a43"/><stop offset="0.0633" stop-color="#133a43"/><stop offset="0.0633" stop-color="#113f42"/><stop offset="0.1265" stop-color="#113f42"/><stop offset="0.1265" stop-color="#0f4442"/><stop offset="0.1739" stop-color="#0f4442"/><stop offset="0.1739" stop-color="#0f4840"/><stop offset="0.2214" stop-color="#0f4840"/><stop offset="0.2214" stop-color="#104d3f"/><stop offset="0.2688" stop-color="#104d3f"/><stop offset="0.2688" stop-color="#14513c"/><stop offset="0.2846" stop-color="#14513c"/><stop offset="0.2846" stop-color="#1b5638"/><stop offset="0.3163" stop-color="#1b5638"/><stop offset="0.3163" stop-color="#225a33"/><stop offset="0.3479" stop-color="#225a33"/><stop offset="0.3479" stop-color="#2c5e2d"/><stop offset="0.3795" stop-color="#2c5e2d"/><stop offset="0.3795" stop-color="#376127"/><stop offset="0.3953" stop-color="#376127"/><stop offset="0.3953" stop-color="#44641f"/><stop offset="0.4269" stop-color="#44641f"/><stop offset="0.4269" stop-color="#516717"/><stop offset="0.4586" stop-color="#516717"/><stop offset="0.4586" stop-color="#5e6912"/><stop offset="0.4902" stop-color="#5e6912"/><stop offset="0.4902" stop-color="#6a6b12"/><stop offset="0.5376" stop-color="#6a6b12"/><stop offset="0.5376" stop-color="#776d11"/></linearGradient>
<linearGradient id="g231" gradientUnits="userSpaceOnUse" x1="0" y1="57.2" x2="0" y2="404.2"><stop offset="0" stop-color="#173042"/><stop offset="0.0158" stop-color="#173042"/><stop offset="0.0158" stop-color="#133a43"/><stop offset="0.0474" stop-color="#133a43"/><stop offset="0.0474" stop-color="#113f42"/><stop offset="0.1107" stop-color="#113f42"/><stop offset="0.1107" stop-color="#0f4442"/><stop offset="0.1739" stop-color="#0f4442"/><stop offset="0.1739" stop-color="#0f4840"/><stop offset="0.2372" stop-color="#0f4840"/><stop offset="0.2372" stop-color="#104d3f"/><stop offset="0.2846" stop-color="#104d3f"/><stop offset="0.2846" stop-color="#14513c"/><stop offset="0.3163" stop-color="#14513c"/><stop offset="0.3163" stop-color="#1b5638"/><stop offset="0.3637" stop-color="#1b5638"/><stop offset="0.3637" stop-color="#225a33"/><stop offset="0.3795" stop-color="#225a33"/><stop offset="0.3795" stop-color="#2c5e2d"/><stop offset="0.4111" stop-color="#2c5e2d"/><stop offset="0.4111" stop-color="#376127"/><stop offset="0.4428" stop-color="#376127"/><stop offset="0.4428" stop-color="#44641f"/><stop offset="0.4586" stop-color="#44641f"/><stop offset="0.4586" stop-color="#516717"/><stop offset="0.4902" stop-color="#516717"/><stop offset="0.4902" stop-color="#5e6912"/><stop offset="0.5218" stop-color="#5e6912"/><stop offset="0.5218" stop-color="#6a6b12"/><stop offset="0.5534" stop-color="#6a6b12"/><stop offset="0.5534" stop-color="#776d11"/></linearGradient>
<linearGradient id="g232" gradientUnits="userSpaceOnUse" x1="0" y1="59.3" x2="0" y2="400"><stop offset="0" stop-color="#173042"/><stop offset="0.0158" stop-color="#173042"/><stop offset="0.0158" stop-color="#133a43"/><stop offset="0.0791" stop-color="#133a43"/><stop offset="0.0791" stop-color="#113f42"/><stop offset="0.1423" stop-color="#113f42"/><stop offset="0.1423" stop-color="#0f4442"/><stop offset="0.2214" stop-color="#0f4442"/><stop offset="0.2214" stop-color="#0f4840"/><stop offset="0.2846" stop-color="#0f4840"/><stop offset="0.2846" stop-color="#104d3f"/><stop offset="0.3321" stop-color="#104d3f"/><stop offset="0.3321" stop-color="#14513c"/><stop offset="0.3795" stop-color="#14513c"/><stop offset="0.3795" stop-color="#1b5638"/><stop offset="0.4111" stop-color="#1b5638"/><stop offset="0.4111" stop-color="#225a33"/><stop offset="0.4428" stop-color="#225a33"/><stop offset="0.4428" stop-color="#2c5e2d"/><stop offset="0.4744" stop-color="#2c5e2d"/><stop offset="0.4744" stop-color="#376127"/><stop offset="0.506" stop-color="#376127"/><stop offset="0.506" stop-color="#44641f"/><stop offset="0.5218" stop-color="#44641f"/><stop offset="0.5218" stop-color="#516717"/><stop offset="0.5534" stop-color="#516717"/><stop offset="0.5534" stop-color="#5e6912"/><stop offset="0.5851" stop-color="#5e6912"/><stop offset="0.5851" stop-color="#6a6b12"/><stop offset="0.6167" stop-color="#6a6b12"/><stop offset="0.6167" stop-color="#776d11"/></linearGradient>
<linearGradient id="g233" gradientUnits="userSpaceOnUse" x1="0" y1="61.3" x2="0" y2="396"><stop offset="0" stop-color="#192b42"/><stop offset="0.0158" stop-color="#192b42"/><stop offset="0.0158" stop-color="#1b2641"/><stop offset="0.1739" stop-color="#1b2641"/><stop offset="0.1739" stop-color="#192b42"/><stop offset="0.2688" stop-color="#192b42"/><stop offset="0.2688" stop-color="#173042"/><stop offset="0.3163" stop-color="#173042"/><stop offset="0.3163" stop-color="#153543"/><stop offset="0.3637" stop-color="#153543"/><stop offset="0.3637" stop-color="#133a43"/><stop offset="0.3953" stop-color="#133a43"/><stop offset="0.3953" stop-color="#113f42"/><stop offset="0.4428" stop-color="#113f42"/><stop offset="0.4428" stop-color="#0f4442"/><stop offset="0.4744" stop-color="#0f4442"/><stop offset="0.4744" stop-color="#0f4840"/><stop offset="0.506" stop-color="#0f4840"/><stop offset="0.506" stop-color="#104d3f"/><stop offset="0.5218" stop-color="#104d3f"/><stop offset="0.5218" stop-color="#14513c"/><stop offset="0.5376" stop-color="#14513c"/><stop offset="0.5376" stop-color="#225a33"/><stop offset="0.5534" stop-color="#225a33"/><stop offset="0.5534" stop-color="#2c5e2d"/><stop offset="0.5693" stop-color="#2c5e2d"/><stop offset="0.5693" stop-color="#376127"/><stop offset="0.5851" stop-color="#376127"/><stop offset="0.5851" stop-color="#516717"/><stop offset="0.6009" stop-color="#516717"/><stop offset="0.6009" stop-color="#5e6912"/><stop offset="0.6167" stop-color="#5e6912"/><stop offset="0.6167" stop-color="#776d11"/></linearGradient>
<linearGradient id="g234" gradientUnits="userSpaceOnUse" x1="0" y1="63.2" x2="0" y2="392.1"><stop offset="0" stop-color="#1b2641"/><stop offset="0.0158" stop-color="#1b2641"/><stop offset="0.0158" stop-color="#1f1a3c"/><stop offset="0.253" stop-color="#1f1a3c"/><stop offset="0.253" stop-color="#1e2140"/><stop offset="0.2846" stop-color="#1e2140"/><stop offset="0.2846" stop-color="#1b2641"/><stop offset="0.3321" stop-color="#1b2641"/><stop offset="0.3321" stop-color="#192b42"/><stop offset="0.3637" stop-color="#192b42"/><stop offset="0.3637" stop-color="#173042"/><stop offset="0.4111" stop-color="#173042"/><stop offset="0.4111" stop-color="#153543"/><stop offset="0.4428" stop-color="#153543"/><stop offset="0.4428" stop-color="#133a43"/><stop offset="0.4744" stop-color="#133a43"/><stop offset="0.4744" stop-color="#113f42"/><stop offset="0.506" stop-color="#113f42"/><stop offset="0.506" stop-color="#0f4442"/><stop offset="0.5218" stop-color="#0f4442"/><stop offset="0.5218" stop-color="#0f4840"/><stop offset="0.5376" stop-color="#0f4840"/><stop offset="0.5376" stop-color="#14513c"/><stop offset="0.5534" stop-color="#14513c"/><stop offset="0.5534" stop-color="#225a33"/><stop offset="0.5693" stop-color="#225a33"/><stop offset="0.5693" stop-color="#376127"/><stop offset="0.5851" stop-color="#376127"/><stop offset="0.5851" stop-color="#44641f"/><stop offset="0.6009" stop-color="#44641f"/><stop offset="0.6009" stop-color="#5e6912"/><stop offset="0.6167" stop-color="#5e6912"/><stop offset="0.6167" stop-color="#776d11"/></linearGradient>
<linearGradient id="g235" gradientUnits="userSpaceOnUse" x1="0" y1="65.1" x2="0" y2="388.4"><stop offset="0" stop-color="#173042"/><stop offset="0.0158" stop-color="#173042"/><stop offset="0.0158" stop-color="#153543"/><stop offset="0.1107" stop-color="#153543"/><stop offset="0.1107" stop-color="#133a43"/><stop offset="0.2214" stop-color="#133a43"/><stop offset="0.2214" stop-color="#113f42"/><stop offset="0.2846" stop-color="#113f42"/><stop offset="0.2846" stop-color="#0f4442"/><stop offset="0.3479" stop-color="#0f4442"/><stop offset="0.3479" stop-color="#0f4840"/><stop offset="0.3795" stop-color="#0f4840"/><stop offset="0.3795" stop-color="#104d3f"/><stop offset="0.4269" stop-color="#104d3f"/><stop offset="0.4269" stop-color="#14513c"/><stop offset="0.4586" stop-color="#14513c"/><stop offset="0.4586" stop-color="#1b5638"/><stop offset="0.4902" stop-color="#1b5638"/><stop offset="0.4902" stop-color="#225a33"/><stop offset="0.5218" stop-color="#225a33"/><stop offset="0.5218" stop-color="#2c5e2d"/><stop offset="0.5376" stop-color="#2c5e2d"/><stop offset="0.5376" stop-color="#376127"/><stop offset="0.5534" stop-color="#376127"/><stop offset="0.5534" stop-color="#44641f"/><stop offset="0.5693" stop-color="#44641f"/><stop offset="0.5693" stop-color="#516717"/><stop offset="0.5851" stop-color="#516717"/><stop offset="0.5851" stop-color="#5e6912"/><stop offset="0.6167" stop-color="#5e6912"/><stop offset="0.6167" stop-color="#6a6b12"/><stop offset="0.6325" stop-color="#6a6b12"/><stop offset="0.6325" stop-color="#776d11"/></linearGradient>
<linearGradient id="g236" gradientUnits="userSpaceOnUse" x1="0" y1="66.9" x2="0" y2="384.7"><stop offset="0" stop-color="#173042"/><stop offset="0.0158" stop-color="#173042"/><stop offset="0.0158" stop-color="#133a43"/><stop offset="0.0474" stop-color="#133a43"/><stop offset="0.0474" stop-color="#113f42"/><stop offset="0.1107" stop-color="#113f42"/><stop offset="0.1107" stop-color="#0f4442"/><stop offset="0.1739" stop-color="#0f4442"/><stop offset="0.1739" stop-color="#0f4840"/><stop offset="0.2372" stop-color="#0f4840"/><stop offset="0.2372" stop-color="#104d3f"/><stop offset="0.2846" stop-color="#104d3f"/><stop offset="0.2846" stop-color="#14513c"/><stop offset="0.3321" stop-color="#14513c"/><stop offset="0.3321" stop-color="#1b5638"/><stop offset="0.3637" stop-color="#1b5638"/><stop offset="0.3637" stop-color="#225a33"/><stop offset="0.3953" stop-color="#225a33"/><stop offset="0.3953" stop-color="#2c5e2d"/><stop offset="0.4269" stop-color="#2c5e2d"/><stop offset="0.4269" stop-color="#376127"/><stop offset="0.4428" stop-color="#376127"/><stop offset="0.4428" stop-color="#44641f"/><stop offset="0.4744" stop-color="#44641f"/><stop offset="0.4744" stop-color="#516717"/><stop offset="0.506" stop-color="#516717"/><stop offset="0.506" stop-color="#5e6912"/><stop offset="0.5218" stop-color="#5e6912"/><stop offset="0.5218" stop-color="#6a6b12"/><stop offset="0.5693" stop-color="#6a6b12"/><stop offset="0.5693" stop-color="#776d11"/></linearGradient>
<linearGradient id="g237" gradientUnits="userSpaceOnUse" x1="0" y1="68.7" x2="0" y2="381.2"><stop offset="0" stop-color="#173042"/><stop offset="0.0158" stop-color="#173042"/><stop offset="0.0158" stop-color="#133a43"/><stop offset="0.0633" stop-color="#133a43"/><stop offset="0.0633" stop-color="#113f42"/><stop offset="0.1265" stop-color="#113f42"/><stop offset="0.1265" stop-color="#0f4442"/><stop offset="0.1739" stop-color="#0f4442"/><stop offset="0.1739" stop-color="#0f4840"/><stop offset="0.2214" stop-color="#0f4840"/><stop offset="0.2214" stop-color="#104d3f"/><stop offset="0.2688" stop-color="#104d3f"/><stop offset="0.2688" stop-color="#14513c"/><stop offset="0.2846" stop-color="#14513c"/><stop offset="0.2846" stop-color="#1b5638"/><stop offset="0.3163" stop-color="#1b5638"/><stop offset="0.3163" stop-color="#225a33"/><stop offset="0.3479" stop-color="#225a33"/><stop offset="0.3479" stop-color="#2c5e2d"/><stop offset="0.3795" stop-color="#2c5e2d"/><stop offset="0.3795" stop-color="#376127"/><stop offset="0.3953" stop-color="#376127"/><stop offset="0.3953" stop-color="#44641f"/><stop offset="0.4269" stop-color="#44641f"/><stop offset="0.4269" stop-color="#516717"/><stop offset="0.4586" stop-color="#516717"/><stop offset="0.4586" stop-color="#5e6912"/><stop offset="0.4902" stop-color="#5e6912"/><stop offset="0.4902" stop-color="#6a6b12"/><stop offset="0.5376" stop-color="#6a6b12"/><stop offset="0.5376" stop-color="#776d11"/></linearGradient>
<linearGradient id="g238" gradientUnits="userSpaceOnUse" x1="0" y1="70.4" x2="0" y2="377.9"><stop offset="0" stop-color="#173042"/><stop offset="0.0158" stop-color="#173042"/><stop offset="0.0158" stop-color="#133a43"/><stop offset="0.0474" stop-color="#133a43"/><stop offset="0.0474" stop-color="#113f42"/><stop offset="0.1107" stop-color="#113f42"/><stop offset="0.1107" stop-color="#0f4442"/><stop offset="0.1739" stop-color="#0f4442"/><stop offset="0.1739" stop-color="#0f4840"/><stop offset="0.2372" stop-color="#0f4840"/><stop offset="0.2372" stop-color="#104d3f"/><stop offset="0.2846" stop-color="#104d3f"/><stop offset="0.2846" stop-color="#14513c"/><stop offset="0.3321" stop-color="#14513c"/><stop offset="0.3321" stop-color="#1b5638"/><stop offset="0.3637" stop-color="#1b5638"/><stop offset="0.3637" stop-color="#225a33"/><stop offset="0.3953" stop-color="#225a33"/><stop offset="0.3953" stop-color="#2c5e2d"/><stop offset="0.4269" stop-color="#2c5e2d"/><stop offset="0.4269" stop-color="#376127"/><stop offset="0.4428" stop-color="#376127"/><stop offset="0.4428" stop-color="#44641f"/><stop offset="0.4744" stop-color="#44641f"/><stop offset="0.4744" stop-color="#516717"/><stop offset="0.506" stop-color="#516717"/><stop offset="0.506" stop-color="#5e6912"/><stop offset="0.5218" stop-color="#5e6912"/><stop offset="0.5218" stop-color="#6a6b12"/><stop offset="0.5534" stop-color="#6a6b12"/><stop offset="0.5534" stop-color="#776d11"/></linearGradient>
<linearGradient id="g239" gradientUnits="userSpaceOnUse" x1="0" y1="72" x2="0" y2="374.6"><stop offset="0" stop-color="#173042"/><stop offset="0.0158" stop-color="#173042"/><stop offset="0.0158" stop-color="#153543"/><stop offset="0.0633" stop-color="#153543"/><stop offset="0.0633" stop-color="#133a43"/><stop offset="0.1423" stop-color="#133a43"/><stop offset="0.1423" stop-color="#113f42"/><stop offset="0.2372" stop-color="#113f42"/><stop offset="0.2372" stop-color="#0f4442"/><stop offset="0.3004" stop-color="#0f4442"/><stop offset="0.3004" stop-color="#0f4840"/><stop offset="0.3479" stop-color="#0f4840"/><stop offset="0.3479" stop-color="#104d3f"/><stop offset="0.3953" stop-color="#104d3f"/><stop offset="0.3953" stop-color="#14513c"/><stop offset="0.4428" stop-color="#14513c"/><stop offset="0.4428" stop-color="#1b5638"/><stop offset="0.4744" stop-color="#1b5638"/><stop offset="0.4744" stop-color="#225a33"/><stop offset="0.4902" stop-color="#225a33"/><stop offset="0.4902" stop-color="#2c5e2d"/><stop offset="0.5218" stop-color="#2c5e2d"/><stop offset="0.5218" stop-color="#376127"/><stop offset="0.5376" stop-color="#376127"/><stop offset="0.5376" stop-color="#44641f"/><stop offset="0.5693" stop-color="#44641f"/><stop offset="0.5693" stop-color="#516717"/><stop offset="0.5851" stop-color="#516717"/><stop offset="0.5851" stop-color="#5e6912"/><stop offset="0.6009" stop-color="#5e6912"/><stop offset="0.6009" stop-color="#6a6b12"/><stop offset="0.6325" stop-color="#6a6b12"/><stop offset="0.6325" stop-color="#776d11"/></linearGradient>
<linearGradient id="g240" gradientUnits="userSpaceOnUse" x1="0" y1="73.6" x2="0" y2="371.4"><stop offset="0" stop-color="#1b2641"/><stop offset="0.0158" stop-color="#1b2641"/><stop offset="0.0158" stop-color="#21072e"/><stop offset="0.2056" stop-color="#21072e"/><stop offset="0.2056" stop-color="#220e34"/><stop offset="0.2214" stop-color="#220e34"/><stop offset="0.2214" stop-color="#211439"/><stop offset="0.253" stop-color="#211439"/><stop offset="0.253" stop-color="#1f1a3c"/><stop offset="0.2846" stop-color="#1f1a3c"/><stop offset="0.2846" stop-color="#1e2140"/><stop offset="0.3163" stop-color="#1e2140"/><stop offset="0.3163" stop-color="#1b2641"/><stop offset="0.3637" stop-color="#1b2641"/><stop offset="0.3637" stop-color="#192b42"/><stop offset="0.3953" stop-color="#192b42"/><stop offset="0.3953" stop-color="#173042"/><stop offset="0.4428" stop-color="#173042"/><stop offset="0.4428" stop-color="#153543"/><stop offset="0.4744" stop-color="#153543"/><stop offset="0.4744" stop-color="#133a43"/><stop offset="0.4902" stop-color="#133a43"/><stop offset="0.4902" stop-color="#113f42"/><stop offset="0.506" stop-color="#113f42"/><stop offset="0.506" stop-color="#0f4840"/><stop offset="0.5218" stop-color="#0f4840"/><stop offset="0.5218" stop-color="#14513c"/><stop offset="0.5376" stop-color="#14513c"/><stop offset="0.5376" stop-color="#225a33"/><stop offset="0.5534" stop-color="#225a33"/><stop offset="0.5534" stop-color="#2c5e2d"/><stop offset="0.5693" stop-color="#2c5e2d"/><stop offset="0.5693" stop-color="#44641f"/><stop offset="0.5851" stop-color="#44641f"/><stop offset="0.5851" stop-color="#5e6912"/><stop offset="0.6009" stop-color="#5e6912"/><stop offset="0.6009" stop-color="#6a6b12"/><stop offset="0.6167" stop-color="#6a6b12"/><stop offset="0.6167" stop-color="#776d11"/><stop offset="0.9013" stop-color="#776d11"/><stop offset="0.9013" stop-color="#6a6b12"/><stop offset="0.933" stop-color="#6a6b12"/><stop offset="0.933" stop-color="#5e6912"/><stop offset="0.9646" stop-color="#5e6912"/><stop offset="0.9646" stop-color="#516717"/></linearGradient>
<clipPath id="cc4"><path d="M386.2 37.5 L410 71.7 L409 270 L408.7 290.3 L407 293 L406 305.3 L404.4 321.3 L403.3 310.6 L402.8 302 L393 317 L392.6 332 L390 336.2 L389.4 351.7 L388.7 351.7 L387.8 338.4 L387 340.5 L385.7 329.3 L384.1 333 Z"/></clipPath>
<linearGradient id="g241" gradientUnits="userSpaceOnUse" x1="0" y1="39.9" x2="0" y2="438.7"><stop offset="0" stop-color="#1b2641"/><stop offset="0.0158" stop-color="#1b2641"/><stop offset="0.0158" stop-color="#1f1a3c"/><stop offset="0.253" stop-color="#1f1a3c"/><stop offset="0.253" stop-color="#1e2140"/><stop offset="0.3004" stop-color="#1e2140"/><stop offset="0.3004" stop-color="#1b2641"/><stop offset="0.3321" stop-color="#1b2641"/><stop offset="0.3321" stop-color="#192b42"/><stop offset="0.3637" stop-color="#192b42"/><stop offset="0.3637" stop-color="#173042"/><stop offset="0.3953" stop-color="#173042"/><stop offset="0.3953" stop-color="#153543"/><stop offset="0.4428" stop-color="#153543"/><stop offset="0.4428" stop-color="#133a43"/><stop offset="0.4902" stop-color="#133a43"/><stop offset="0.4902" stop-color="#113f42"/><stop offset="0.5218" stop-color="#113f42"/><stop offset="0.5218" stop-color="#0f4442"/><stop offset="0.5693" stop-color="#0f4442"/><stop offset="0.5693" stop-color="#0f4840"/><stop offset="0.6009" stop-color="#0f4840"/><stop offset="0.6009" stop-color="#104d3f"/><stop offset="0.6641" stop-color="#104d3f"/><stop offset="0.6641" stop-color="#14513c"/><stop offset="0.7116" stop-color="#14513c"/><stop offset="0.7116" stop-color="#1b5638"/><stop offset="0.7748" stop-color="#1b5638"/><stop offset="0.7748" stop-color="#225a33"/><stop offset="0.8381" stop-color="#225a33"/><stop offset="0.8381" stop-color="#2c5e2d"/><stop offset="0.9171" stop-color="#2c5e2d"/><stop offset="0.9171" stop-color="#376127"/></linearGradient>
<linearGradient id="g242" gradientUnits="userSpaceOnUse" x1="0" y1="42.4" x2="0" y2="433.6"><stop offset="0" stop-color="#1b2641"/><stop offset="0.0158" stop-color="#1b2641"/><stop offset="0.0158" stop-color="#1f1a3c"/><stop offset="0.253" stop-color="#1f1a3c"/><stop offset="0.253" stop-color="#1e2140"/><stop offset="0.3004" stop-color="#1e2140"/><stop offset="0.3004" stop-color="#1b2641"/><stop offset="0.3321" stop-color="#1b2641"/><stop offset="0.3321" stop-color="#192b42"/><stop offset="0.3637" stop-color="#192b42"/><stop offset="0.3637" stop-color="#173042"/><stop offset="0.3953" stop-color="#173042"/><stop offset="0.3953" stop-color="#153543"/><stop offset="0.4428" stop-color="#153543"/><stop offset="0.4428" stop-color="#133a43"/><stop offset="0.4902" stop-color="#133a43"/><stop offset="0.4902" stop-color="#113f42"/><stop offset="0.5218" stop-color="#113f42"/><stop offset="0.5218" stop-color="#0f4442"/><stop offset="0.5693" stop-color="#0f4442"/><stop offset="0.5693" stop-color="#0f4840"/><stop offset="0.6009" stop-color="#0f4840"/><stop offset="0.6009" stop-color="#104d3f"/><stop offset="0.6641" stop-color="#104d3f"/><stop offset="0.6641" stop-color="#14513c"/><stop offset="0.7116" stop-color="#14513c"/><stop offset="0.7116" stop-color="#1b5638"/><stop offset="0.7748" stop-color="#1b5638"/><stop offset="0.7748" stop-color="#225a33"/><stop offset="0.8381" stop-color="#225a33"/><stop offset="0.8381" stop-color="#2c5e2d"/><stop offset="0.9171" stop-color="#2c5e2d"/><stop offset="0.9171" stop-color="#376127"/></linearGradient>
<linearGradient id="g243" gradientUnits="userSpaceOnUse" x1="0" y1="44.9" x2="0" y2="428.7"><stop offset="0" stop-color="#192b42"/><stop offset="0.0158" stop-color="#192b42"/><stop offset="0.0158" stop-color="#1e2140"/><stop offset="0.0633" stop-color="#1e2140"/><stop offset="0.0633" stop-color="#1b2641"/><stop offset="0.253" stop-color="#1b2641"/><stop offset="0.253" stop-color="#192b42"/><stop offset="0.3004" stop-color="#192b42"/><stop offset="0.3004" stop-color="#173042"/><stop offset="0.3321" stop-color="#173042"/><stop offset="0.3321" stop-color="#153543"/><stop offset="0.3795" stop-color="#153543"/><stop offset="0.3795" stop-color="#133a43"/><stop offset="0.4269" stop-color="#133a43"/><stop offset="0.4269" stop-color="#113f42"/><stop offset="0.4744" stop-color="#113f42"/><stop offset="0.4744" stop-color="#0f4442"/><stop offset="0.5218" stop-color="#0f4442"/><stop offset="0.5218" stop-color="#0f4840"/><stop offset="0.5693" stop-color="#0f4840"/><stop offset="0.5693" stop-color="#104d3f"/><stop offset="0.6009" stop-color="#104d3f"/><stop offset="0.6009" stop-color="#14513c"/><stop offset="0.6483" stop-color="#14513c"/><stop offset="0.6483" stop-color="#1b5638"/><stop offset="0.6958" stop-color="#1b5638"/><stop offset="0.6958" stop-color="#225a33"/><stop offset="0.7432" stop-color="#225a33"/><stop offset="0.7432" stop-color="#2c5e2d"/><stop offset="0.7906" stop-color="#2c5e2d"/><stop offset="0.7906" stop-color="#376127"/><stop offset="0.8539" stop-color="#376127"/><stop offset="0.8539" stop-color="#44641f"/><stop offset="0.9646" stop-color="#44641f"/><stop offset="0.9646" stop-color="#516717"/></linearGradient>
<linearGradient id="g244" gradientUnits="userSpaceOnUse" x1="0" y1="47.3" x2="0" y2="423.9"><stop offset="0" stop-color="#173042"/><stop offset="0.0158" stop-color="#173042"/><stop offset="0.0158" stop-color="#153543"/><stop offset="0.0316" stop-color="#153543"/><stop offset="0.0316" stop-color="#133a43"/><stop offset="0.1107" stop-color="#133a43"/><stop offset="0.1107" stop-color="#113f42"/><stop offset="0.2372" stop-color="#113f42"/><stop offset="0.2372" stop-color="#0f4442"/><stop offset="0.3321" stop-color="#0f4442"/><stop offset="0.3321" stop-color="#0f4840"/><stop offset="0.4269" stop-color="#0f4840"/><stop offset="0.4269" stop-color="#104d3f"/><stop offset="0.4902" stop-color="#104d3f"/><stop offset="0.4902" stop-color="#14513c"/><stop offset="0.5376" stop-color="#14513c"/><stop offset="0.5376" stop-color="#1b5638"/><stop offset="0.6009" stop-color="#1b5638"/><stop offset="0.6009" stop-color="#225a33"/><stop offset="0.6325" stop-color="#225a33"/><stop offset="0.6325" stop-color="#2c5e2d"/><stop offset="0.6641" stop-color="#2c5e2d"/><stop offset="0.6641" stop-color="#376127"/><stop offset="0.6958" stop-color="#376127"/><stop offset="0.6958" stop-color="#44641f"/><stop offset="0.7274" stop-color="#44641f"/><stop offset="0.7274" stop-color="#516717"/><stop offset="0.759" stop-color="#516717"/><stop offset="0.759" stop-color="#5e6912"/><stop offset="0.7906" stop-color="#5e6912"/><stop offset="0.7906" stop-color="#6a6b12"/><stop offset="0.8223" stop-color="#6a6b12"/><stop offset="0.8223" stop-color="#776d11"/></linearGradient>
<linearGradient id="g245" gradientUnits="userSpaceOnUse" x1="0" y1="49.6" x2="0" y2="419.4"><stop offset="0" stop-color="#173042"/><stop offset="0.0158" stop-color="#173042"/><stop offset="0.0158" stop-color="#133a43"/><stop offset="0.0791" stop-color="#133a43"/><stop offset="0.0791" stop-color="#113f42"/><stop offset="0.1739" stop-color="#113f42"/><stop offset="0.1739" stop-color="#0f4442"/><stop offset="0.2688" stop-color="#0f4442"/><stop offset="0.2688" stop-color="#0f4840"/><stop offset="0.3479" stop-color="#0f4840"/><stop offset="0.3479" stop-color="#104d3f"/><stop offset="0.4111" stop-color="#104d3f"/><stop offset="0.4111" stop-color="#14513c"/><stop offset="0.4744" stop-color="#14513c"/><stop offset="0.4744" stop-color="#1b5638"/><stop offset="0.5218" stop-color="#1b5638"/><stop offset="0.5218" stop-color="#225a33"/><stop offset="0.5534" stop-color="#225a33"/><stop offset="0.5534" stop-color="#2c5e2d"/><stop offset="0.6009" stop-color="#2c5e2d"/><stop offset="0.6009" stop-color="#376127"/><stop offset="0.6325" stop-color="#376127"/><stop offset="0.6325" stop-color="#44641f"/><stop offset="0.6799" stop-color="#44641f"/><stop offset="0.6799" stop-color="#516717"/><stop offset="0.7274" stop-color="#516717"/><stop offset="0.7274" stop-color="#5e6912"/><stop offset="0.759" stop-color="#5e6912"/><stop offset="0.759" stop-color="#6a6b12"/><stop offset="0.8065" stop-color="#6a6b12"/><stop offset="0.8065" stop-color="#776d11"/></linearGradient>
<linearGradient id="g246" gradientUnits="userSpaceOnUse" x1="0" y1="51.8" x2="0" y2="415"><stop offset="0" stop-color="#173042"/><stop offset="0.0158" stop-color="#173042"/><stop offset="0.0158" stop-color="#133a43"/><stop offset="0.0474" stop-color="#133a43"/><stop offset="0.0474" stop-color="#113f42"/><stop offset="0.1265" stop-color="#113f42"/><stop offset="0.1265" stop-color="#0f4442"/><stop offset="0.2056" stop-color="#0f4442"/><stop offset="0.2056" stop-color="#0f4840"/><stop offset="0.2846" stop-color="#0f4840"/><stop offset="0.2846" stop-color="#104d3f"/><stop offset="0.3479" stop-color="#104d3f"/><stop offset="0.3479" stop-color="#14513c"/><stop offset="0.3953" stop-color="#14513c"/><stop offset="0.3953" stop-color="#1b5638"/><stop offset="0.4269" stop-color="#1b5638"/><stop offset="0.4269" stop-color="#225a33"/><stop offset="0.4744" stop-color="#225a33"/><stop offset="0.4744" stop-color="#2c5e2d"/><stop offset="0.506" stop-color="#2c5e2d"/><stop offset="0.506" stop-color="#376127"/><stop offset="0.5534" stop-color="#376127"/><stop offset="0.5534" stop-color="#44641f"/><stop offset="0.5851" stop-color="#44641f"/><stop offset="0.5851" stop-color="#516717"/><stop offset="0.6325" stop-color="#516717"/><stop offset="0.6325" stop-color="#5e6912"/><stop offset="0.6641" stop-color="#5e6912"/><stop offset="0.6641" stop-color="#6a6b12"/><stop offset="0.7274" stop-color="#6a6b12"/><stop offset="0.7274" stop-color="#776d11"/></linearGradient>
<linearGradient id="g247" gradientUnits="userSpaceOnUse" x1="0" y1="53.9" x2="0" y2="410.7"><stop offset="0" stop-color="#173042"/><stop offset="0.0158" stop-color="#173042"/><stop offset="0.0158" stop-color="#133a43"/><stop offset="0.0633" stop-color="#133a43"/><stop offset="0.0633" stop-color="#113f42"/><stop offset="0.1581" stop-color="#113f42"/><stop offset="0.1581" stop-color="#0f4442"/><stop offset="0.2372" stop-color="#0f4442"/><stop offset="0.2372" stop-color="#0f4840"/><stop offset="0.3163" stop-color="#0f4840"/><stop offset="0.3163" stop-color="#104d3f"/><stop offset="0.3795" stop-color="#104d3f"/><stop offset="0.3795" stop-color="#14513c"/><stop offset="0.4269" stop-color="#14513c"/><stop offset="0.4269" stop-color="#1b5638"/><stop offset="0.4744" stop-color="#1b5638"/><stop offset="0.4744" stop-color="#225a33"/><stop offset="0.5218" stop-color="#225a33"/><stop offset="0.5218" stop-color="#2c5e2d"/><stop offset="0.5534" stop-color="#2c5e2d"/><stop offset="0.5534" stop-color="#376127"/><stop offset="0.6009" stop-color="#376127"/><stop offset="0.6009" stop-color="#44641f"/><stop offset="0.6325" stop-color="#44641f"/><stop offset="0.6325" stop-color="#516717"/><stop offset="0.6799" stop-color="#516717"/><stop offset="0.6799" stop-color="#5e6912"/><stop offset="0.7274" stop-color="#5e6912"/><stop offset="0.7274" stop-color="#6a6b12"/><stop offset="0.7906" stop-color="#6a6b12"/><stop offset="0.7906" stop-color="#776d11"/></linearGradient>
<linearGradient id="g248" gradientUnits="userSpaceOnUse" x1="0" y1="55.9" x2="0" y2="406.6"><stop offset="0" stop-color="#173042"/><stop offset="0.0158" stop-color="#173042"/><stop offset="0.0158" stop-color="#153543"/><stop offset="0.0316" stop-color="#153543"/><stop offset="0.0316" stop-color="#133a43"/><stop offset="0.1107" stop-color="#133a43"/><stop offset="0.1107" stop-color="#113f42"/><stop offset="0.2214" stop-color="#113f42"/><stop offset="0.2214" stop-color="#0f4442"/><stop offset="0.3321" stop-color="#0f4442"/><stop offset="0.3321" stop-color="#0f4840"/><stop offset="0.4269" stop-color="#0f4840"/><stop offset="0.4269" stop-color="#104d3f"/><stop offset="0.4744" stop-color="#104d3f"/><stop offset="0.4744" stop-color="#14513c"/><stop offset="0.5376" stop-color="#14513c"/><stop offset="0.5376" stop-color="#1b5638"/><stop offset="0.5851" stop-color="#1b5638"/><stop offset="0.5851" stop-color="#225a33"/><stop offset="0.6325" stop-color="#225a33"/><stop offset="0.6325" stop-color="#2c5e2d"/><stop offset="0.6641" stop-color="#2c5e2d"/><stop offset="0.6641" stop-color="#376127"/><stop offset="0.6958" stop-color="#376127"/><stop offset="0.6958" stop-color="#44641f"/><stop offset="0.7274" stop-color="#44641f"/><stop offset="0.7274" stop-color="#516717"/><stop offset="0.759" stop-color="#516717"/><stop offset="0.759" stop-color="#5e6912"/><stop offset="0.7906" stop-color="#5e6912"/><stop offset="0.7906" stop-color="#6a6b12"/><stop offset="0.8223" stop-color="#6a6b12"/><stop offset="0.8223" stop-color="#776d11"/></linearGradient>
<linearGradient id="g249" gradientUnits="userSpaceOnUse" x1="0" y1="57.9" x2="0" y2="402.6"><stop offset="0" stop-color="#192b42"/><stop offset="0.1898" stop-color="#192b42"/><stop offset="0.1898" stop-color="#173042"/><stop offset="0.3321" stop-color="#173042"/><stop offset="0.3321" stop-color="#153543"/><stop offset="0.3953" stop-color="#153543"/><stop offset="0.3953" stop-color="#133a43"/><stop offset="0.4586" stop-color="#133a43"/><stop offset="0.4586" stop-color="#113f42"/><stop offset="0.506" stop-color="#113f42"/><stop offset="0.506" stop-color="#0f4442"/><stop offset="0.5534" stop-color="#0f4442"/><stop offset="0.5534" stop-color="#0f4840"/><stop offset="0.6009" stop-color="#0f4840"/><stop offset="0.6009" stop-color="#104d3f"/><stop offset="0.6325" stop-color="#104d3f"/><stop offset="0.6325" stop-color="#14513c"/><stop offset="0.6641" stop-color="#14513c"/><stop offset="0.6641" stop-color="#1b5638"/><stop offset="0.6799" stop-color="#1b5638"/><stop offset="0.6799" stop-color="#225a33"/><stop offset="0.6958" stop-color="#225a33"/><stop offset="0.6958" stop-color="#2c5e2d"/><stop offset="0.7116" stop-color="#2c5e2d"/><stop offset="0.7116" stop-color="#376127"/><stop offset="0.7274" stop-color="#376127"/><stop offset="0.7274" stop-color="#44641f"/><stop offset="0.7432" stop-color="#44641f"/><stop offset="0.7432" stop-color="#516717"/><stop offset="0.759" stop-color="#516717"/><stop offset="0.759" stop-color="#5e6912"/><stop offset="0.7748" stop-color="#5e6912"/><stop offset="0.7748" stop-color="#6a6b12"/><stop offset="0.8065" stop-color="#6a6b12"/><stop offset="0.8065" stop-color="#776d11"/></linearGradient>
<linearGradient id="g250" gradientUnits="userSpaceOnUse" x1="0" y1="59.9" x2="0" y2="398.8"><stop offset="0" stop-color="#1b2641"/><stop offset="0.0158" stop-color="#1b2641"/><stop offset="0.0158" stop-color="#1f1a3c"/><stop offset="0.3163" stop-color="#1f1a3c"/><stop offset="0.3163" stop-color="#1e2140"/><stop offset="0.3637" stop-color="#1e2140"/><stop offset="0.3637" stop-color="#1b2641"/><stop offset="0.4269" stop-color="#1b2641"/><stop offset="0.4269" stop-color="#192b42"/><stop offset="0.4744" stop-color="#192b42"/><stop offset="0.4744" stop-color="#173042"/><stop offset="0.5218" stop-color="#173042"/><stop offset="0.5218" stop-color="#153543"/><stop offset="0.5693" stop-color="#153543"/><stop offset="0.5693" stop-color="#133a43"/><stop offset="0.6009" stop-color="#133a43"/><stop offset="0.6009" stop-color="#113f42"/><stop offset="0.6325" stop-color="#113f42"/><stop offset="0.6325" stop-color="#0f4442"/><stop offset="0.6641" stop-color="#0f4442"/><stop offset="0.6641" stop-color="#0f4840"/><stop offset="0.6799" stop-color="#0f4840"/><stop offset="0.6799" stop-color="#14513c"/><stop offset="0.6958" stop-color="#14513c"/><stop offset="0.6958" stop-color="#1b5638"/><stop offset="0.7116" stop-color="#1b5638"/><stop offset="0.7116" stop-color="#225a33"/><stop offset="0.7274" stop-color="#225a33"/><stop offset="0.7274" stop-color="#376127"/><stop offset="0.7432" stop-color="#376127"/><stop offset="0.7432" stop-color="#44641f"/><stop offset="0.759" stop-color="#44641f"/><stop offset="0.759" stop-color="#516717"/><stop offset="0.7748" stop-color="#516717"/><stop offset="0.7748" stop-color="#6a6b12"/><stop offset="0.7906" stop-color="#6a6b12"/><stop offset="0.7906" stop-color="#776d11"/></linearGradient>
<linearGradient id="g251" gradientUnits="userSpaceOnUse" x1="0" y1="61.7" x2="0" y2="395.1"><stop offset="0" stop-color="#1b2641"/><stop offset="0.0158" stop-color="#1b2641"/><stop offset="0.0158" stop-color="#1f1a3c"/><stop offset="0.3163" stop-color="#1f1a3c"/><stop offset="0.3163" stop-color="#1e2140"/><stop offset="0.3637" stop-color="#1e2140"/><stop offset="0.3637" stop-color="#1b2641"/><stop offset="0.4269" stop-color="#1b2641"/><stop offset="0.4269" stop-color="#192b42"/><stop offset="0.4744" stop-color="#192b42"/><stop offset="0.4744" stop-color="#173042"/><stop offset="0.5218" stop-color="#173042"/><stop offset="0.5218" stop-color="#153543"/><stop offset="0.5693" stop-color="#153543"/><stop offset="0.5693" stop-color="#133a43"/><stop offset="0.6009" stop-color="#133a43"/><stop offset="0.6009" stop-color="#113f42"/><stop offset="0.6325" stop-color="#113f42"/><stop offset="0.6325" stop-color="#0f4442"/><stop offset="0.6641" stop-color="#0f4442"/><stop offset="0.6641" stop-color="#0f4840"/><stop offset="0.6799" stop-color="#0f4840"/><stop offset="0.6799" stop-color="#14513c"/><stop offset="0.6958" stop-color="#14513c"/><stop offset="0.6958" stop-color="#1b5638"/><stop offset="0.7116" stop-color="#1b5638"/><stop offset="0.7116" stop-color="#225a33"/><stop offset="0.7274" stop-color="#225a33"/><stop offset="0.7274" stop-color="#376127"/><stop offset="0.7432" stop-color="#376127"/><stop offset="0.7432" stop-color="#44641f"/><stop offset="0.759" stop-color="#44641f"/><stop offset="0.759" stop-color="#516717"/><stop offset="0.7748" stop-color="#516717"/><stop offset="0.7748" stop-color="#6a6b12"/><stop offset="0.7906" stop-color="#6a6b12"/><stop offset="0.7906" stop-color="#776d11"/></linearGradient>
<linearGradient id="g252" gradientUnits="userSpaceOnUse" x1="0" y1="63.5" x2="0" y2="391.5"><stop offset="0" stop-color="#192b42"/><stop offset="0.0158" stop-color="#192b42"/><stop offset="0.0158" stop-color="#173042"/><stop offset="0.0949" stop-color="#173042"/><stop offset="0.0949" stop-color="#153543"/><stop offset="0.2372" stop-color="#153543"/><stop offset="0.2372" stop-color="#133a43"/><stop offset="0.3479" stop-color="#133a43"/><stop offset="0.3479" stop-color="#113f42"/><stop offset="0.4269" stop-color="#113f42"/><stop offset="0.4269" stop-color="#0f4442"/><stop offset="0.4744" stop-color="#0f4442"/><stop offset="0.4744" stop-color="#0f4840"/><stop offset="0.5376" stop-color="#0f4840"/><stop offset="0.5376" stop-color="#104d3f"/><stop offset="0.5851" stop-color="#104d3f"/><stop offset="0.5851" stop-color="#14513c"/><stop offset="0.6167" stop-color="#14513c"/><stop offset="0.6167" stop-color="#1b5638"/><stop offset="0.6483" stop-color="#1b5638"/><stop offset="0.6483" stop-color="#225a33"/><stop offset="0.6799" stop-color="#225a33"/><stop offset="0.6799" stop-color="#2c5e2d"/><stop offset="0.6958" stop-color="#2c5e2d"/><stop offset="0.6958" stop-color="#376127"/><stop offset="0.7274" stop-color="#376127"/><stop offset="0.7274" stop-color="#44641f"/><stop offset="0.7432" stop-color="#44641f"/><stop offset="0.7432" stop-color="#516717"/><stop offset="0.759" stop-color="#516717"/><stop offset="0.759" stop-color="#5e6912"/><stop offset="0.7906" stop-color="#5e6912"/><stop offset="0.7906" stop-color="#6a6b12"/><stop offset="0.8223" stop-color="#6a6b12"/><stop offset="0.8223" stop-color="#776d11"/></linearGradient>
<linearGradient id="g253" gradientUnits="userSpaceOnUse" x1="0" y1="65.2" x2="0" y2="388"><stop offset="0" stop-color="#173042"/><stop offset="0.0158" stop-color="#173042"/><stop offset="0.0158" stop-color="#133a43"/><stop offset="0.0949" stop-color="#133a43"/><stop offset="0.0949" stop-color="#113f42"/><stop offset="0.1898" stop-color="#113f42"/><stop offset="0.1898" stop-color="#0f4442"/><stop offset="0.3004" stop-color="#0f4442"/><stop offset="0.3004" stop-color="#0f4840"/><stop offset="0.3795" stop-color="#0f4840"/><stop offset="0.3795" stop-color="#104d3f"/><stop offset="0.4428" stop-color="#104d3f"/><stop offset="0.4428" stop-color="#14513c"/><stop offset="0.4902" stop-color="#14513c"/><stop offset="0.4902" stop-color="#1b5638"/><stop offset="0.5376" stop-color="#1b5638"/><stop offset="0.5376" stop-color="#225a33"/><stop offset="0.5851" stop-color="#225a33"/><stop offset="0.5851" stop-color="#2c5e2d"/><stop offset="0.6167" stop-color="#2c5e2d"/><stop offset="0.6167" stop-color="#376127"/><stop offset="0.6641" stop-color="#376127"/><stop offset="0.6641" stop-color="#44641f"/><stop offset="0.6958" stop-color="#44641f"/><stop offset="0.6958" stop-color="#516717"/><stop offset="0.7432" stop-color="#516717"/><stop offset="0.7432" stop-color="#5e6912"/><stop offset="0.7748" stop-color="#5e6912"/><stop offset="0.7748" stop-color="#6a6b12"/><stop offset="0.8223" stop-color="#6a6b12"/><stop offset="0.8223" stop-color="#776d11"/></linearGradient>
<linearGradient id="g254" gradientUnits="userSpaceOnUse" x1="0" y1="66.9" x2="0" y2="384.7"><stop offset="0" stop-color="#173042"/><stop offset="0.0158" stop-color="#173042"/><stop offset="0.0158" stop-color="#133a43"/><stop offset="0.0474" stop-color="#133a43"/><stop offset="0.0474" stop-color="#113f42"/><stop offset="0.1265" stop-color="#113f42"/><stop offset="0.1265" stop-color="#0f4442"/><stop offset="0.2056" stop-color="#0f4442"/><stop offset="0.2056" stop-color="#0f4840"/><stop offset="0.2846" stop-color="#0f4840"/><stop offset="0.2846" stop-color="#104d3f"/><stop offset="0.3479" stop-color="#104d3f"/><stop offset="0.3479" stop-color="#14513c"/><stop offset="0.3953" stop-color="#14513c"/><stop offset="0.3953" stop-color="#1b5638"/><stop offset="0.4269" stop-color="#1b5638"/><stop offset="0.4269" stop-color="#225a33"/><stop offset="0.4744" stop-color="#225a33"/><stop offset="0.4744" stop-color="#2c5e2d"/><stop offset="0.506" stop-color="#2c5e2d"/><stop offset="0.506" stop-color="#376127"/><stop offset="0.5376" stop-color="#376127"/><stop offset="0.5376" stop-color="#44641f"/><stop offset="0.5851" stop-color="#44641f"/><stop offset="0.5851" stop-color="#516717"/><stop offset="0.6167" stop-color="#516717"/><stop offset="0.6167" stop-color="#5e6912"/><stop offset="0.6641" stop-color="#5e6912"/><stop offset="0.6641" stop-color="#6a6b12"/><stop offset="0.7274" stop-color="#6a6b12"/><stop offset="0.7274" stop-color="#776d11"/></linearGradient>
<linearGradient id="g255" gradientUnits="userSpaceOnUse" x1="0" y1="68.6" x2="0" y2="381.4"><stop offset="0" stop-color="#173042"/><stop offset="0.0158" stop-color="#173042"/><stop offset="0.0158" stop-color="#133a43"/><stop offset="0.1107" stop-color="#133a43"/><stop offset="0.1107" stop-color="#113f42"/><stop offset="0.2056" stop-color="#113f42"/><stop offset="0.2056" stop-color="#0f4442"/><stop offset="0.3163" stop-color="#0f4442"/><stop offset="0.3163" stop-color="#0f4840"/><stop offset="0.3953" stop-color="#0f4840"/><stop offset="0.3953" stop-color="#104d3f"/><stop offset="0.4586" stop-color="#104d3f"/><stop offset="0.4586" stop-color="#14513c"/><stop offset="0.506" stop-color="#14513c"/><stop offset="0.506" stop-color="#1b5638"/><stop offset="0.5534" stop-color="#1b5638"/><stop offset="0.5534" stop-color="#225a33"/><stop offset="0.6009" stop-color="#225a33"/><stop offset="0.6009" stop-color="#2c5e2d"/><stop offset="0.6325" stop-color="#2c5e2d"/><stop offset="0.6325" stop-color="#376127"/><stop offset="0.6799" stop-color="#376127"/><stop offset="0.6799" stop-color="#44641f"/><stop offset="0.7116" stop-color="#44641f"/><stop offset="0.7116" stop-color="#516717"/><stop offset="0.7432" stop-color="#516717"/><stop offset="0.7432" stop-color="#5e6912"/><stop offset="0.7748" stop-color="#5e6912"/><stop offset="0.7748" stop-color="#6a6b12"/><stop offset="0.8223" stop-color="#6a6b12"/><stop offset="0.8223" stop-color="#776d11"/></linearGradient>
<linearGradient id="g256" gradientUnits="userSpaceOnUse" x1="0" y1="70.2" x2="0" y2="378.3"><stop offset="0" stop-color="#192b42"/><stop offset="0.0158" stop-color="#192b42"/><stop offset="0.0158" stop-color="#1b2641"/><stop offset="0.0791" stop-color="#1b2641"/><stop offset="0.0791" stop-color="#192b42"/><stop offset="0.2846" stop-color="#192b42"/><stop offset="0.2846" stop-color="#173042"/><stop offset="0.3479" stop-color="#173042"/><stop offset="0.3479" stop-color="#153543"/><stop offset="0.3953" stop-color="#153543"/><stop offset="0.3953" stop-color="#133a43"/><stop offset="0.4586" stop-color="#133a43"/><stop offset="0.4586" stop-color="#113f42"/><stop offset="0.506" stop-color="#113f42"/><stop offset="0.506" stop-color="#0f4442"/><stop offset="0.5693" stop-color="#0f4442"/><stop offset="0.5693" stop-color="#0f4840"/><stop offset="0.6167" stop-color="#0f4840"/><stop offset="0.6167" stop-color="#104d3f"/><stop offset="0.6483" stop-color="#104d3f"/><stop offset="0.6483" stop-color="#14513c"/><stop offset="0.6958" stop-color="#14513c"/><stop offset="0.6958" stop-color="#1b5638"/><stop offset="0.7116" stop-color="#1b5638"/><stop offset="0.7116" stop-color="#225a33"/><stop offset="0.7274" stop-color="#225a33"/><stop offset="0.7274" stop-color="#2c5e2d"/><stop offset="0.7432" stop-color="#2c5e2d"/><stop offset="0.7432" stop-color="#376127"/><stop offset="0.759" stop-color="#376127"/><stop offset="0.759" stop-color="#44641f"/><stop offset="0.7748" stop-color="#44641f"/><stop offset="0.7748" stop-color="#516717"/><stop offset="0.7906" stop-color="#516717"/><stop offset="0.7906" stop-color="#5e6912"/><stop offset="0.8065" stop-color="#5e6912"/><stop offset="0.8065" stop-color="#6a6b12"/><stop offset="0.8381" stop-color="#6a6b12"/><stop offset="0.8381" stop-color="#776d11"/></linearGradient>
<clipPath id="cd0"><path d="M30.3 53.3 L111.3 73.7 L114 74.4 L114 289.8 L73 302 L73 314.2 L67.5 317 L67.5 328.3 L55 333 L55 320.8 L41.3 325 L41.3 313 L34.7 314.7 Z"/></clipPath>
<linearGradient id="g260" gradientUnits="userSpaceOnUse" x1="0" y1="58.2" x2="0" y2="402.2"><stop offset="0" stop-color="#200027"/><stop offset="0.6483" stop-color="#200027"/><stop offset="0.6483" stop-color="#21072e"/><stop offset="0.759" stop-color="#21072e"/><stop offset="0.759" stop-color="#200027"/></linearGradient>
<linearGradient id="g261" gradientUnits="userSpaceOnUse" x1="0" y1="59.6" x2="0" y2="399.2"><stop offset="0" stop-color="#200027"/><stop offset="0.6325" stop-color="#200027"/><stop offset="0.6325" stop-color="#21072e"/><stop offset="0.7906" stop-color="#21072e"/><stop offset="0.7906" stop-color="#200027"/></linearGradient>
<linearGradient id="g262" gradientUnits="userSpaceOnUse" x1="0" y1="61.1" x2="0" y2="396.4"><stop offset="0" stop-color="#200027"/><stop offset="0.6167" stop-color="#200027"/><stop offset="0.6167" stop-color="#21072e"/><stop offset="0.7906" stop-color="#21072e"/><stop offset="0.7906" stop-color="#200027"/></linearGradient>
<linearGradient id="g263" gradientUnits="userSpaceOnUse" x1="0" y1="62.5" x2="0" y2="393.6"><stop offset="0" stop-color="#200027"/><stop offset="0.6325" stop-color="#200027"/><stop offset="0.6325" stop-color="#21072e"/><stop offset="0.7906" stop-color="#21072e"/><stop offset="0.7906" stop-color="#200027"/></linearGradient>
<linearGradient id="g264" gradientUnits="userSpaceOnUse" x1="0" y1="63.8" x2="0" y2="390.9"><stop offset="0" stop-color="#200027"/><stop offset="0.6483" stop-color="#200027"/><stop offset="0.6483" stop-color="#21072e"/><stop offset="0.7748" stop-color="#21072e"/><stop offset="0.7748" stop-color="#200027"/></linearGradient>
<clipPath id="cd1"><path d="M111.3 49.7 L197 77.5 L200 78.5 L200 350.5 L194.2 353.3 L194.2 339.2 L190 341.7 L190 351.7 L183 355.8 L183 345.8 L174.2 349.7 L174.2 340 L156.7 349.7 L156.7 361.7 L147 367.5 L147 379.2 L137.5 384.7 L137.5 372.5 L126.3 378 L126.3 365.8 L120.5 368.3 L120.5 356.3 L115 358.3 Z"/></clipPath>
<linearGradient id="g274" gradientUnits="userSpaceOnUse" x1="0" y1="50.5" x2="0" y2="417.4"><stop offset="0" stop-color="#200027"/><stop offset="0.5534" stop-color="#200027"/><stop offset="0.5534" stop-color="#21072e"/><stop offset="0.6325" stop-color="#21072e"/><stop offset="0.6325" stop-color="#220e34"/><stop offset="0.6641" stop-color="#220e34"/><stop offset="0.6641" stop-color="#211439"/><stop offset="0.7116" stop-color="#211439"/><stop offset="0.7116" stop-color="#1f1a3c"/><stop offset="0.759" stop-color="#1f1a3c"/><stop offset="0.759" stop-color="#1e2140"/><stop offset="0.7748" stop-color="#1e2140"/><stop offset="0.7748" stop-color="#1f1a3c"/><stop offset="0.8223" stop-color="#1f1a3c"/><stop offset="0.8223" stop-color="#211439"/><stop offset="0.8539" stop-color="#211439"/><stop offset="0.8539" stop-color="#220e34"/><stop offset="0.8855" stop-color="#220e34"/><stop offset="0.8855" stop-color="#21072e"/><stop offset="0.9488" stop-color="#21072e"/><stop offset="0.9488" stop-color="#200027"/></linearGradient>
<linearGradient id="g275" gradientUnits="userSpaceOnUse" x1="0" y1="52.7" x2="0" y2="413"><stop offset="0" stop-color="#200027"/><stop offset="0.5376" stop-color="#200027"/><stop offset="0.5376" stop-color="#21072e"/><stop offset="0.6009" stop-color="#21072e"/><stop offset="0.6009" stop-color="#220e34"/><stop offset="0.6325" stop-color="#220e34"/><stop offset="0.6325" stop-color="#211439"/><stop offset="0.6641" stop-color="#211439"/><stop offset="0.6641" stop-color="#1f1a3c"/><stop offset="0.6799" stop-color="#1f1a3c"/><stop offset="0.6799" stop-color="#1e2140"/><stop offset="0.6958" stop-color="#1e2140"/><stop offset="0.6958" stop-color="#1b2641"/><stop offset="0.7116" stop-color="#1b2641"/><stop offset="0.7116" stop-color="#192b42"/><stop offset="0.7432" stop-color="#192b42"/><stop offset="0.7432" stop-color="#173042"/><stop offset="0.7906" stop-color="#173042"/><stop offset="0.7906" stop-color="#192b42"/><stop offset="0.8223" stop-color="#192b42"/><stop offset="0.8223" stop-color="#1b2641"/><stop offset="0.8381" stop-color="#1b2641"/><stop offset="0.8381" stop-color="#1e2140"/><stop offset="0.8539" stop-color="#1e2140"/><stop offset="0.8539" stop-color="#1f1a3c"/><stop offset="0.8697" stop-color="#1f1a3c"/><stop offset="0.8697" stop-color="#211439"/><stop offset="0.8855" stop-color="#211439"/><stop offset="0.8855" stop-color="#220e34"/><stop offset="0.9171" stop-color="#220e34"/><stop offset="0.9171" stop-color="#21072e"/><stop offset="0.9646" stop-color="#21072e"/><stop offset="0.9646" stop-color="#200027"/></linearGradient>
<linearGradient id="g276" gradientUnits="userSpaceOnUse" x1="0" y1="54.9" x2="0" y2="408.8"><stop offset="0" stop-color="#200027"/><stop offset="0.5218" stop-color="#200027"/><stop offset="0.5218" stop-color="#21072e"/><stop offset="0.5851" stop-color="#21072e"/><stop offset="0.5851" stop-color="#220e34"/><stop offset="0.6167" stop-color="#220e34"/><stop offset="0.6167" stop-color="#211439"/><stop offset="0.6325" stop-color="#211439"/><stop offset="0.6325" stop-color="#1f1a3c"/><stop offset="0.6483" stop-color="#1f1a3c"/><stop offset="0.6483" stop-color="#1e2140"/><stop offset="0.6641" stop-color="#1e2140"/><stop offset="0.6641" stop-color="#1b2641"/><stop offset="0.6799" stop-color="#1b2641"/><stop offset="0.6799" stop-color="#192b42"/><stop offset="0.6958" stop-color="#192b42"/><stop offset="0.6958" stop-color="#173042"/><stop offset="0.7116" stop-color="#173042"/><stop offset="0.7116" stop-color="#133a43"/><stop offset="0.7274" stop-color="#133a43"/><stop offset="0.7274" stop-color="#113f42"/><stop offset="0.7432" stop-color="#113f42"/><stop offset="0.7432" stop-color="#0f4442"/><stop offset="0.7906" stop-color="#0f4442"/><stop offset="0.7906" stop-color="#113f42"/><stop offset="0.8065" stop-color="#113f42"/><stop offset="0.8065" stop-color="#133a43"/><stop offset="0.8223" stop-color="#133a43"/><stop offset="0.8223" stop-color="#153543"/><stop offset="0.8381" stop-color="#153543"/><stop offset="0.8381" stop-color="#192b42"/><stop offset="0.8539" stop-color="#192b42"/><stop offset="0.8539" stop-color="#1b2641"/><stop offset="0.8697" stop-color="#1b2641"/><stop offset="0.8697" stop-color="#1f1a3c"/><stop offset="0.8855" stop-color="#1f1a3c"/><stop offset="0.8855" stop-color="#211439"/><stop offset="0.9013" stop-color="#211439"/><stop offset="0.9013" stop-color="#220e34"/><stop offset="0.933" stop-color="#220e34"/><stop offset="0.933" stop-color="#21072e"/><stop offset="0.9804" stop-color="#21072e"/><stop offset="0.9804" stop-color="#200027"/></linearGradient>
<linearGradient id="g277" gradientUnits="userSpaceOnUse" x1="0" y1="56.9" x2="0" y2="404.6"><stop offset="0" stop-color="#200027"/><stop offset="0.4744" stop-color="#200027"/><stop offset="0.4744" stop-color="#21072e"/><stop offset="0.5376" stop-color="#21072e"/><stop offset="0.5376" stop-color="#220e34"/><stop offset="0.5851" stop-color="#220e34"/><stop offset="0.5851" stop-color="#211439"/><stop offset="0.6167" stop-color="#211439"/><stop offset="0.6167" stop-color="#1f1a3c"/><stop offset="0.6325" stop-color="#1f1a3c"/><stop offset="0.6325" stop-color="#1e2140"/><stop offset="0.6483" stop-color="#1e2140"/><stop offset="0.6483" stop-color="#1b2641"/><stop offset="0.6641" stop-color="#1b2641"/><stop offset="0.6641" stop-color="#173042"/><stop offset="0.6799" stop-color="#173042"/><stop offset="0.6799" stop-color="#153543"/><stop offset="0.6958" stop-color="#153543"/><stop offset="0.6958" stop-color="#113f42"/><stop offset="0.7116" stop-color="#113f42"/><stop offset="0.7116" stop-color="#0f4840"/><stop offset="0.7274" stop-color="#0f4840"/><stop offset="0.7274" stop-color="#104d3f"/><stop offset="0.7432" stop-color="#104d3f"/><stop offset="0.7432" stop-color="#14513c"/><stop offset="0.759" stop-color="#14513c"/><stop offset="0.759" stop-color="#1b5638"/><stop offset="0.7906" stop-color="#1b5638"/><stop offset="0.7906" stop-color="#14513c"/><stop offset="0.8065" stop-color="#14513c"/><stop offset="0.8065" stop-color="#0f4840"/><stop offset="0.8223" stop-color="#0f4840"/><stop offset="0.8223" stop-color="#113f42"/><stop offset="0.8381" stop-color="#113f42"/><stop offset="0.8381" stop-color="#153543"/><stop offset="0.8539" stop-color="#153543"/><stop offset="0.8539" stop-color="#192b42"/><stop offset="0.8697" stop-color="#192b42"/><stop offset="0.8697" stop-color="#1b2641"/><stop offset="0.8855" stop-color="#1b2641"/><stop offset="0.8855" stop-color="#1f1a3c"/><stop offset="0.9013" stop-color="#1f1a3c"/><stop offset="0.9013" stop-color="#211439"/><stop offset="0.9171" stop-color="#211439"/><stop offset="0.9171" stop-color="#220e34"/><stop offset="0.933" stop-color="#220e34"/><stop offset="0.933" stop-color="#21072e"/><stop offset="0.9804" stop-color="#21072e"/><stop offset="0.9804" stop-color="#200027"/></linearGradient>
<linearGradient id="g278" gradientUnits="userSpaceOnUse" x1="0" y1="58.9" x2="0" y2="400.7"><stop offset="0" stop-color="#200027"/><stop offset="0.4586" stop-color="#200027"/><stop offset="0.4586" stop-color="#21072e"/><stop offset="0.506" stop-color="#21072e"/><stop offset="0.506" stop-color="#220e34"/><stop offset="0.5534" stop-color="#220e34"/><stop offset="0.5534" stop-color="#211439"/><stop offset="0.5693" stop-color="#211439"/><stop offset="0.5693" stop-color="#1f1a3c"/><stop offset="0.6009" stop-color="#1f1a3c"/><stop offset="0.6009" stop-color="#1e2140"/><stop offset="0.6167" stop-color="#1e2140"/><stop offset="0.6167" stop-color="#1b2641"/><stop offset="0.6325" stop-color="#1b2641"/><stop offset="0.6325" stop-color="#192b42"/><stop offset="0.6483" stop-color="#192b42"/><stop offset="0.6483" stop-color="#173042"/><stop offset="0.6641" stop-color="#173042"/><stop offset="0.6641" stop-color="#153543"/><stop offset="0.6799" stop-color="#153543"/><stop offset="0.6799" stop-color="#113f42"/><stop offset="0.6958" stop-color="#113f42"/><stop offset="0.6958" stop-color="#0f4840"/><stop offset="0.7116" stop-color="#0f4840"/><stop offset="0.7116" stop-color="#104d3f"/><stop offset="0.7274" stop-color="#104d3f"/><stop offset="0.7274" stop-color="#1b5638"/><stop offset="0.7432" stop-color="#1b5638"/><stop offset="0.7432" stop-color="#225a33"/><stop offset="0.7906" stop-color="#225a33"/><stop offset="0.7906" stop-color="#1b5638"/><stop offset="0.8065" stop-color="#1b5638"/><stop offset="0.8065" stop-color="#104d3f"/><stop offset="0.8223" stop-color="#104d3f"/><stop offset="0.8223" stop-color="#0f4442"/><stop offset="0.8381" stop-color="#0f4442"/><stop offset="0.8381" stop-color="#133a43"/><stop offset="0.8539" stop-color="#133a43"/><stop offset="0.8539" stop-color="#173042"/><stop offset="0.8697" stop-color="#173042"/><stop offset="0.8697" stop-color="#1b2641"/><stop offset="0.8855" stop-color="#1b2641"/><stop offset="0.8855" stop-color="#1f1a3c"/><stop offset="0.9013" stop-color="#1f1a3c"/><stop offset="0.9013" stop-color="#211439"/><stop offset="0.9171" stop-color="#211439"/><stop offset="0.9171" stop-color="#220e34"/><stop offset="0.933" stop-color="#220e34"/><stop offset="0.933" stop-color="#21072e"/></linearGradient>
<linearGradient id="g279" gradientUnits="userSpaceOnUse" x1="0" y1="60.9" x2="0" y2="396.8"><stop offset="0" stop-color="#200027"/><stop offset="0.506" stop-color="#200027"/><stop offset="0.506" stop-color="#21072e"/><stop offset="0.5693" stop-color="#21072e"/><stop offset="0.5693" stop-color="#220e34"/><stop offset="0.6009" stop-color="#220e34"/><stop offset="0.6009" stop-color="#211439"/><stop offset="0.6167" stop-color="#211439"/><stop offset="0.6167" stop-color="#1f1a3c"/><stop offset="0.6325" stop-color="#1f1a3c"/><stop offset="0.6325" stop-color="#1e2140"/><stop offset="0.6483" stop-color="#1e2140"/><stop offset="0.6483" stop-color="#1b2641"/><stop offset="0.6641" stop-color="#1b2641"/><stop offset="0.6641" stop-color="#192b42"/><stop offset="0.6799" stop-color="#192b42"/><stop offset="0.6799" stop-color="#153543"/><stop offset="0.6958" stop-color="#153543"/><stop offset="0.6958" stop-color="#113f42"/><stop offset="0.7116" stop-color="#113f42"/><stop offset="0.7116" stop-color="#0f4840"/><stop offset="0.7274" stop-color="#0f4840"/><stop offset="0.7274" stop-color="#104d3f"/><stop offset="0.7432" stop-color="#104d3f"/><stop offset="0.7432" stop-color="#14513c"/><stop offset="0.759" stop-color="#14513c"/><stop offset="0.759" stop-color="#1b5638"/><stop offset="0.7906" stop-color="#1b5638"/><stop offset="0.7906" stop-color="#14513c"/><stop offset="0.8065" stop-color="#14513c"/><stop offset="0.8065" stop-color="#0f4840"/><stop offset="0.8223" stop-color="#0f4840"/><stop offset="0.8223" stop-color="#113f42"/><stop offset="0.8381" stop-color="#113f42"/><stop offset="0.8381" stop-color="#153543"/><stop offset="0.8539" stop-color="#153543"/><stop offset="0.8539" stop-color="#192b42"/><stop offset="0.8697" stop-color="#192b42"/><stop offset="0.8697" stop-color="#1b2641"/><stop offset="0.8855" stop-color="#1b2641"/><stop offset="0.8855" stop-color="#1f1a3c"/><stop offset="0.9013" stop-color="#1f1a3c"/><stop offset="0.9013" stop-color="#211439"/><stop offset="0.9171" stop-color="#211439"/><stop offset="0.9171" stop-color="#220e34"/><stop offset="0.933" stop-color="#220e34"/><stop offset="0.933" stop-color="#21072e"/><stop offset="0.9804" stop-color="#21072e"/><stop offset="0.9804" stop-color="#200027"/></linearGradient>
<linearGradient id="g280" gradientUnits="userSpaceOnUse" x1="0" y1="62.7" x2="0" y2="393.1"><stop offset="0" stop-color="#200027"/><stop offset="0.5218" stop-color="#200027"/><stop offset="0.5218" stop-color="#21072e"/><stop offset="0.5851" stop-color="#21072e"/><stop offset="0.5851" stop-color="#220e34"/><stop offset="0.6167" stop-color="#220e34"/><stop offset="0.6167" stop-color="#211439"/><stop offset="0.6325" stop-color="#211439"/><stop offset="0.6325" stop-color="#1f1a3c"/><stop offset="0.6483" stop-color="#1f1a3c"/><stop offset="0.6483" stop-color="#1e2140"/><stop offset="0.6641" stop-color="#1e2140"/><stop offset="0.6641" stop-color="#1b2641"/><stop offset="0.6799" stop-color="#1b2641"/><stop offset="0.6799" stop-color="#192b42"/><stop offset="0.6958" stop-color="#192b42"/><stop offset="0.6958" stop-color="#153543"/><stop offset="0.7116" stop-color="#153543"/><stop offset="0.7116" stop-color="#133a43"/><stop offset="0.7274" stop-color="#133a43"/><stop offset="0.7274" stop-color="#0f4442"/><stop offset="0.7432" stop-color="#0f4442"/><stop offset="0.7432" stop-color="#0f4840"/><stop offset="0.7906" stop-color="#0f4840"/><stop offset="0.7906" stop-color="#0f4442"/><stop offset="0.8065" stop-color="#0f4442"/><stop offset="0.8065" stop-color="#113f42"/><stop offset="0.8223" stop-color="#113f42"/><stop offset="0.8223" stop-color="#153543"/><stop offset="0.8381" stop-color="#153543"/><stop offset="0.8381" stop-color="#192b42"/><stop offset="0.8539" stop-color="#192b42"/><stop offset="0.8539" stop-color="#1b2641"/><stop offset="0.8697" stop-color="#1b2641"/><stop offset="0.8697" stop-color="#1f1a3c"/><stop offset="0.8855" stop-color="#1f1a3c"/><stop offset="0.8855" stop-color="#211439"/><stop offset="0.9013" stop-color="#211439"/><stop offset="0.9013" stop-color="#220e34"/><stop offset="0.933" stop-color="#220e34"/><stop offset="0.933" stop-color="#21072e"/><stop offset="0.9804" stop-color="#21072e"/><stop offset="0.9804" stop-color="#200027"/></linearGradient>
<linearGradient id="g281" gradientUnits="userSpaceOnUse" x1="0" y1="64.5" x2="0" y2="389.5"><stop offset="0" stop-color="#200027"/><stop offset="0.5376" stop-color="#200027"/><stop offset="0.5376" stop-color="#21072e"/><stop offset="0.6009" stop-color="#21072e"/><stop offset="0.6009" stop-color="#220e34"/><stop offset="0.6325" stop-color="#220e34"/><stop offset="0.6325" stop-color="#211439"/><stop offset="0.6483" stop-color="#211439"/><stop offset="0.6483" stop-color="#1f1a3c"/><stop offset="0.6641" stop-color="#1f1a3c"/><stop offset="0.6641" stop-color="#1e2140"/><stop offset="0.6799" stop-color="#1e2140"/><stop offset="0.6799" stop-color="#1b2641"/><stop offset="0.6958" stop-color="#1b2641"/><stop offset="0.6958" stop-color="#192b42"/><stop offset="0.7116" stop-color="#192b42"/><stop offset="0.7116" stop-color="#173042"/><stop offset="0.7274" stop-color="#173042"/><stop offset="0.7274" stop-color="#153543"/><stop offset="0.7432" stop-color="#153543"/><stop offset="0.7432" stop-color="#133a43"/><stop offset="0.7906" stop-color="#133a43"/><stop offset="0.7906" stop-color="#153543"/><stop offset="0.8065" stop-color="#153543"/><stop offset="0.8065" stop-color="#173042"/><stop offset="0.8223" stop-color="#173042"/><stop offset="0.8223" stop-color="#192b42"/><stop offset="0.8381" stop-color="#192b42"/><stop offset="0.8381" stop-color="#1b2641"/><stop offset="0.8539" stop-color="#1b2641"/><stop offset="0.8539" stop-color="#1f1a3c"/><stop offset="0.8697" stop-color="#1f1a3c"/><stop offset="0.8697" stop-color="#211439"/><stop offset="0.8855" stop-color="#211439"/><stop offset="0.8855" stop-color="#220e34"/><stop offset="0.9171" stop-color="#220e34"/><stop offset="0.9171" stop-color="#21072e"/><stop offset="0.9646" stop-color="#21072e"/><stop offset="0.9646" stop-color="#200027"/></linearGradient>
<linearGradient id="g282" gradientUnits="userSpaceOnUse" x1="0" y1="66.3" x2="0" y2="386"><stop offset="0" stop-color="#200027"/><stop offset="0.5376" stop-color="#200027"/><stop offset="0.5376" stop-color="#21072e"/><stop offset="0.6009" stop-color="#21072e"/><stop offset="0.6009" stop-color="#220e34"/><stop offset="0.6325" stop-color="#220e34"/><stop offset="0.6325" stop-color="#211439"/><stop offset="0.6641" stop-color="#211439"/><stop offset="0.6641" stop-color="#1f1a3c"/><stop offset="0.6799" stop-color="#1f1a3c"/><stop offset="0.6799" stop-color="#1e2140"/><stop offset="0.6958" stop-color="#1e2140"/><stop offset="0.6958" stop-color="#1b2641"/><stop offset="0.7116" stop-color="#1b2641"/><stop offset="0.7116" stop-color="#192b42"/><stop offset="0.7274" stop-color="#192b42"/><stop offset="0.7274" stop-color="#173042"/><stop offset="0.8065" stop-color="#173042"/><stop offset="0.8065" stop-color="#192b42"/><stop offset="0.8223" stop-color="#192b42"/><stop offset="0.8223" stop-color="#1b2641"/><stop offset="0.8381" stop-color="#1b2641"/><stop offset="0.8381" stop-color="#1e2140"/><stop offset="0.8539" stop-color="#1e2140"/><stop offset="0.8539" stop-color="#1f1a3c"/><stop offset="0.8697" stop-color="#1f1a3c"/><stop offset="0.8697" stop-color="#211439"/><stop offset="0.8855" stop-color="#211439"/><stop offset="0.8855" stop-color="#220e34"/><stop offset="0.9171" stop-color="#220e34"/><stop offset="0.9171" stop-color="#21072e"/><stop offset="0.9646" stop-color="#21072e"/><stop offset="0.9646" stop-color="#200027"/></linearGradient>
<linearGradient id="g283" gradientUnits="userSpaceOnUse" x1="0" y1="67.9" x2="0" y2="382.7"><stop offset="0" stop-color="#200027"/><stop offset="0.5376" stop-color="#200027"/><stop offset="0.5376" stop-color="#21072e"/><stop offset="0.6009" stop-color="#21072e"/><stop offset="0.6009" stop-color="#220e34"/><stop offset="0.6325" stop-color="#220e34"/><stop offset="0.6325" stop-color="#211439"/><stop offset="0.6483" stop-color="#211439"/><stop offset="0.6483" stop-color="#1f1a3c"/><stop offset="0.6799" stop-color="#1f1a3c"/><stop offset="0.6799" stop-color="#1e2140"/><stop offset="0.6958" stop-color="#1e2140"/><stop offset="0.6958" stop-color="#1b2641"/><stop offset="0.7116" stop-color="#1b2641"/><stop offset="0.7116" stop-color="#192b42"/><stop offset="0.7274" stop-color="#192b42"/><stop offset="0.7274" stop-color="#173042"/><stop offset="0.7432" stop-color="#173042"/><stop offset="0.7432" stop-color="#153543"/><stop offset="0.7748" stop-color="#153543"/><stop offset="0.7748" stop-color="#173042"/><stop offset="0.8065" stop-color="#173042"/><stop offset="0.8065" stop-color="#192b42"/><stop offset="0.8223" stop-color="#192b42"/><stop offset="0.8223" stop-color="#1b2641"/><stop offset="0.8381" stop-color="#1b2641"/><stop offset="0.8381" stop-color="#1e2140"/><stop offset="0.8539" stop-color="#1e2140"/><stop offset="0.8539" stop-color="#1f1a3c"/><stop offset="0.8697" stop-color="#1f1a3c"/><stop offset="0.8697" stop-color="#211439"/><stop offset="0.8855" stop-color="#211439"/><stop offset="0.8855" stop-color="#220e34"/><stop offset="0.9171" stop-color="#220e34"/><stop offset="0.9171" stop-color="#21072e"/><stop offset="0.9646" stop-color="#21072e"/><stop offset="0.9646" stop-color="#200027"/></linearGradient>
<linearGradient id="g284" gradientUnits="userSpaceOnUse" x1="0" y1="69.6" x2="0" y2="379.4"><stop offset="0" stop-color="#200027"/><stop offset="0.5218" stop-color="#200027"/><stop offset="0.5218" stop-color="#21072e"/><stop offset="0.5851" stop-color="#21072e"/><stop offset="0.5851" stop-color="#220e34"/><stop offset="0.6167" stop-color="#220e34"/><stop offset="0.6167" stop-color="#211439"/><stop offset="0.6483" stop-color="#211439"/><stop offset="0.6483" stop-color="#1f1a3c"/><stop offset="0.6641" stop-color="#1f1a3c"/><stop offset="0.6641" stop-color="#1e2140"/><stop offset="0.6799" stop-color="#1e2140"/><stop offset="0.6799" stop-color="#192b42"/><stop offset="0.6958" stop-color="#192b42"/><stop offset="0.6958" stop-color="#173042"/><stop offset="0.7116" stop-color="#173042"/><stop offset="0.7116" stop-color="#153543"/><stop offset="0.7274" stop-color="#153543"/><stop offset="0.7274" stop-color="#133a43"/><stop offset="0.7432" stop-color="#133a43"/><stop offset="0.7432" stop-color="#113f42"/><stop offset="0.7748" stop-color="#113f42"/><stop offset="0.7748" stop-color="#133a43"/><stop offset="0.8065" stop-color="#133a43"/><stop offset="0.8065" stop-color="#153543"/><stop offset="0.8223" stop-color="#153543"/><stop offset="0.8223" stop-color="#192b42"/><stop offset="0.8381" stop-color="#192b42"/><stop offset="0.8381" stop-color="#1b2641"/><stop offset="0.8539" stop-color="#1b2641"/><stop offset="0.8539" stop-color="#1e2140"/><stop offset="0.8697" stop-color="#1e2140"/><stop offset="0.8697" stop-color="#1f1a3c"/><stop offset="0.8855" stop-color="#1f1a3c"/><stop offset="0.8855" stop-color="#211439"/><stop offset="0.9013" stop-color="#211439"/><stop offset="0.9013" stop-color="#220e34"/><stop offset="0.9171" stop-color="#220e34"/><stop offset="0.9171" stop-color="#21072e"/><stop offset="0.9646" stop-color="#21072e"/><stop offset="0.9646" stop-color="#200027"/></linearGradient>
<linearGradient id="g285" gradientUnits="userSpaceOnUse" x1="0" y1="71.2" x2="0" y2="376.2"><stop offset="0" stop-color="#200027"/><stop offset="0.5218" stop-color="#200027"/><stop offset="0.5218" stop-color="#21072e"/><stop offset="0.5851" stop-color="#21072e"/><stop offset="0.5851" stop-color="#220e34"/><stop offset="0.6167" stop-color="#220e34"/><stop offset="0.6167" stop-color="#211439"/><stop offset="0.6325" stop-color="#211439"/><stop offset="0.6325" stop-color="#1f1a3c"/><stop offset="0.6483" stop-color="#1f1a3c"/><stop offset="0.6483" stop-color="#1e2140"/><stop offset="0.6641" stop-color="#1e2140"/><stop offset="0.6641" stop-color="#192b42"/><stop offset="0.6799" stop-color="#192b42"/><stop offset="0.6799" stop-color="#173042"/><stop offset="0.6958" stop-color="#173042"/><stop offset="0.6958" stop-color="#133a43"/><stop offset="0.7116" stop-color="#133a43"/><stop offset="0.7116" stop-color="#113f42"/><stop offset="0.7274" stop-color="#113f42"/><stop offset="0.7274" stop-color="#0f4840"/><stop offset="0.7432" stop-color="#0f4840"/><stop offset="0.7432" stop-color="#104d3f"/><stop offset="0.7906" stop-color="#104d3f"/><stop offset="0.7906" stop-color="#0f4840"/><stop offset="0.8065" stop-color="#0f4840"/><stop offset="0.8065" stop-color="#113f42"/><stop offset="0.8223" stop-color="#113f42"/><stop offset="0.8223" stop-color="#133a43"/><stop offset="0.8381" stop-color="#133a43"/><stop offset="0.8381" stop-color="#173042"/><stop offset="0.8539" stop-color="#173042"/><stop offset="0.8539" stop-color="#1b2641"/><stop offset="0.8697" stop-color="#1b2641"/><stop offset="0.8697" stop-color="#1e2140"/><stop offset="0.8855" stop-color="#1e2140"/><stop offset="0.8855" stop-color="#211439"/><stop offset="0.9013" stop-color="#211439"/><stop offset="0.9013" stop-color="#220e34"/><stop offset="0.933" stop-color="#220e34"/><stop offset="0.933" stop-color="#21072e"/><stop offset="0.9804" stop-color="#21072e"/><stop offset="0.9804" stop-color="#200027"/></linearGradient>
<linearGradient id="g286" gradientUnits="userSpaceOnUse" x1="0" y1="72.7" x2="0" y2="373.2"><stop offset="0" stop-color="#200027"/><stop offset="0.4744" stop-color="#200027"/><stop offset="0.4744" stop-color="#21072e"/><stop offset="0.5376" stop-color="#21072e"/><stop offset="0.5376" stop-color="#220e34"/><stop offset="0.5693" stop-color="#220e34"/><stop offset="0.5693" stop-color="#211439"/><stop offset="0.6009" stop-color="#211439"/><stop offset="0.6009" stop-color="#1f1a3c"/><stop offset="0.6167" stop-color="#1f1a3c"/><stop offset="0.6167" stop-color="#1e2140"/><stop offset="0.6325" stop-color="#1e2140"/><stop offset="0.6325" stop-color="#1b2641"/><stop offset="0.6483" stop-color="#1b2641"/><stop offset="0.6483" stop-color="#192b42"/><stop offset="0.6641" stop-color="#192b42"/><stop offset="0.6641" stop-color="#153543"/><stop offset="0.6799" stop-color="#153543"/><stop offset="0.6799" stop-color="#133a43"/><stop offset="0.6958" stop-color="#133a43"/><stop offset="0.6958" stop-color="#0f4442"/><stop offset="0.7116" stop-color="#0f4442"/><stop offset="0.7116" stop-color="#104d3f"/><stop offset="0.7274" stop-color="#104d3f"/><stop offset="0.7274" stop-color="#14513c"/><stop offset="0.7432" stop-color="#14513c"/><stop offset="0.7432" stop-color="#1b5638"/><stop offset="0.759" stop-color="#1b5638"/><stop offset="0.759" stop-color="#225a33"/><stop offset="0.7748" stop-color="#225a33"/><stop offset="0.7748" stop-color="#1b5638"/><stop offset="0.7906" stop-color="#1b5638"/><stop offset="0.7906" stop-color="#14513c"/><stop offset="0.8065" stop-color="#14513c"/><stop offset="0.8065" stop-color="#0f4840"/><stop offset="0.8223" stop-color="#0f4840"/><stop offset="0.8223" stop-color="#113f42"/><stop offset="0.8381" stop-color="#113f42"/><stop offset="0.8381" stop-color="#153543"/><stop offset="0.8539" stop-color="#153543"/><stop offset="0.8539" stop-color="#192b42"/><stop offset="0.8697" stop-color="#192b42"/><stop offset="0.8697" stop-color="#1e2140"/><stop offset="0.8855" stop-color="#1e2140"/><stop offset="0.8855" stop-color="#1f1a3c"/><stop offset="0.9013" stop-color="#1f1a3c"/><stop offset="0.9013" stop-color="#211439"/><stop offset="0.9171" stop-color="#211439"/><stop offset="0.9171" stop-color="#220e34"/><stop offset="0.933" stop-color="#220e34"/><stop offset="0.933" stop-color="#21072e"/></linearGradient>
<linearGradient id="g287" gradientUnits="userSpaceOnUse" x1="0" y1="74.2" x2="0" y2="370.2"><stop offset="0" stop-color="#200027"/><stop offset="0.4586" stop-color="#200027"/><stop offset="0.4586" stop-color="#21072e"/><stop offset="0.5218" stop-color="#21072e"/><stop offset="0.5218" stop-color="#220e34"/><stop offset="0.5534" stop-color="#220e34"/><stop offset="0.5534" stop-color="#211439"/><stop offset="0.5851" stop-color="#211439"/><stop offset="0.5851" stop-color="#1f1a3c"/><stop offset="0.6167" stop-color="#1f1a3c"/><stop offset="0.6167" stop-color="#1e2140"/><stop offset="0.6325" stop-color="#1e2140"/><stop offset="0.6325" stop-color="#1b2641"/><stop offset="0.6483" stop-color="#1b2641"/><stop offset="0.6483" stop-color="#192b42"/><stop offset="0.6641" stop-color="#192b42"/><stop offset="0.6641" stop-color="#153543"/><stop offset="0.6799" stop-color="#153543"/><stop offset="0.6799" stop-color="#133a43"/><stop offset="0.6958" stop-color="#133a43"/><stop offset="0.6958" stop-color="#0f4442"/><stop offset="0.7116" stop-color="#0f4442"/><stop offset="0.7116" stop-color="#104d3f"/><stop offset="0.7274" stop-color="#104d3f"/><stop offset="0.7274" stop-color="#14513c"/><stop offset="0.7432" stop-color="#14513c"/><stop offset="0.7432" stop-color="#1b5638"/><stop offset="0.7906" stop-color="#1b5638"/><stop offset="0.7906" stop-color="#14513c"/><stop offset="0.8065" stop-color="#14513c"/><stop offset="0.8065" stop-color="#0f4840"/><stop offset="0.8223" stop-color="#0f4840"/><stop offset="0.8223" stop-color="#113f42"/><stop offset="0.8381" stop-color="#113f42"/><stop offset="0.8381" stop-color="#153543"/><stop offset="0.8539" stop-color="#153543"/><stop offset="0.8539" stop-color="#192b42"/><stop offset="0.8697" stop-color="#192b42"/><stop offset="0.8697" stop-color="#1e2140"/><stop offset="0.8855" stop-color="#1e2140"/><stop offset="0.8855" stop-color="#1f1a3c"/><stop offset="0.9013" stop-color="#1f1a3c"/><stop offset="0.9013" stop-color="#211439"/><stop offset="0.9171" stop-color="#211439"/><stop offset="0.9171" stop-color="#220e34"/><stop offset="0.933" stop-color="#220e34"/><stop offset="0.933" stop-color="#21072e"/><stop offset="0.9804" stop-color="#21072e"/><stop offset="0.9804" stop-color="#200027"/></linearGradient>
<linearGradient id="g288" gradientUnits="userSpaceOnUse" x1="0" y1="75.6" x2="0" y2="367.3"><stop offset="0" stop-color="#200027"/><stop offset="0.5218" stop-color="#200027"/><stop offset="0.5218" stop-color="#21072e"/><stop offset="0.5851" stop-color="#21072e"/><stop offset="0.5851" stop-color="#220e34"/><stop offset="0.6167" stop-color="#220e34"/><stop offset="0.6167" stop-color="#211439"/><stop offset="0.6325" stop-color="#211439"/><stop offset="0.6325" stop-color="#1f1a3c"/><stop offset="0.6483" stop-color="#1f1a3c"/><stop offset="0.6483" stop-color="#1e2140"/><stop offset="0.6641" stop-color="#1e2140"/><stop offset="0.6641" stop-color="#1b2641"/><stop offset="0.6799" stop-color="#1b2641"/><stop offset="0.6799" stop-color="#173042"/><stop offset="0.6958" stop-color="#173042"/><stop offset="0.6958" stop-color="#153543"/><stop offset="0.7116" stop-color="#153543"/><stop offset="0.7116" stop-color="#113f42"/><stop offset="0.7274" stop-color="#113f42"/><stop offset="0.7274" stop-color="#0f4442"/><stop offset="0.7432" stop-color="#0f4442"/><stop offset="0.7432" stop-color="#0f4840"/><stop offset="0.7906" stop-color="#0f4840"/><stop offset="0.7906" stop-color="#0f4442"/><stop offset="0.8065" stop-color="#0f4442"/><stop offset="0.8065" stop-color="#113f42"/><stop offset="0.8223" stop-color="#113f42"/><stop offset="0.8223" stop-color="#153543"/><stop offset="0.8381" stop-color="#153543"/><stop offset="0.8381" stop-color="#173042"/><stop offset="0.8539" stop-color="#173042"/><stop offset="0.8539" stop-color="#1b2641"/><stop offset="0.8697" stop-color="#1b2641"/><stop offset="0.8697" stop-color="#1e2140"/><stop offset="0.8855" stop-color="#1e2140"/><stop offset="0.8855" stop-color="#211439"/><stop offset="0.9013" stop-color="#211439"/><stop offset="0.9013" stop-color="#220e34"/><stop offset="0.933" stop-color="#220e34"/><stop offset="0.933" stop-color="#21072e"/><stop offset="0.9804" stop-color="#21072e"/><stop offset="0.9804" stop-color="#200027"/></linearGradient>
<linearGradient id="g289" gradientUnits="userSpaceOnUse" x1="0" y1="77" x2="0" y2="364.5"><stop offset="0" stop-color="#200027"/><stop offset="0.5376" stop-color="#200027"/><stop offset="0.5376" stop-color="#21072e"/><stop offset="0.6009" stop-color="#21072e"/><stop offset="0.6009" stop-color="#220e34"/><stop offset="0.6325" stop-color="#220e34"/><stop offset="0.6325" stop-color="#211439"/><stop offset="0.6483" stop-color="#211439"/><stop offset="0.6483" stop-color="#1f1a3c"/><stop offset="0.6799" stop-color="#1f1a3c"/><stop offset="0.6799" stop-color="#1e2140"/><stop offset="0.6958" stop-color="#1e2140"/><stop offset="0.6958" stop-color="#1b2641"/><stop offset="0.7116" stop-color="#1b2641"/><stop offset="0.7116" stop-color="#192b42"/><stop offset="0.7274" stop-color="#192b42"/><stop offset="0.7274" stop-color="#173042"/><stop offset="0.759" stop-color="#173042"/><stop offset="0.759" stop-color="#153543"/><stop offset="0.7748" stop-color="#153543"/><stop offset="0.7748" stop-color="#173042"/><stop offset="0.8065" stop-color="#173042"/><stop offset="0.8065" stop-color="#192b42"/><stop offset="0.8223" stop-color="#192b42"/><stop offset="0.8223" stop-color="#1b2641"/><stop offset="0.8381" stop-color="#1b2641"/><stop offset="0.8381" stop-color="#1e2140"/><stop offset="0.8539" stop-color="#1e2140"/><stop offset="0.8539" stop-color="#1f1a3c"/><stop offset="0.8697" stop-color="#1f1a3c"/><stop offset="0.8697" stop-color="#211439"/><stop offset="0.8855" stop-color="#211439"/><stop offset="0.8855" stop-color="#220e34"/><stop offset="0.9171" stop-color="#220e34"/><stop offset="0.9171" stop-color="#21072e"/><stop offset="0.9646" stop-color="#21072e"/><stop offset="0.9646" stop-color="#200027"/></linearGradient>
<linearGradient id="g290" gradientUnits="userSpaceOnUse" x1="0" y1="77.7" x2="0" y2="363.1"><stop offset="0" stop-color="#200027"/><stop offset="0.5376" stop-color="#200027"/><stop offset="0.5376" stop-color="#21072e"/><stop offset="0.6167" stop-color="#21072e"/><stop offset="0.6167" stop-color="#220e34"/><stop offset="0.6483" stop-color="#220e34"/><stop offset="0.6483" stop-color="#211439"/><stop offset="0.6641" stop-color="#211439"/><stop offset="0.6641" stop-color="#1f1a3c"/><stop offset="0.6958" stop-color="#1f1a3c"/><stop offset="0.6958" stop-color="#1e2140"/><stop offset="0.7116" stop-color="#1e2140"/><stop offset="0.7116" stop-color="#1b2641"/><stop offset="0.759" stop-color="#1b2641"/><stop offset="0.759" stop-color="#192b42"/><stop offset="0.7748" stop-color="#192b42"/><stop offset="0.7748" stop-color="#1b2641"/><stop offset="0.8065" stop-color="#1b2641"/><stop offset="0.8065" stop-color="#1e2140"/><stop offset="0.8381" stop-color="#1e2140"/><stop offset="0.8381" stop-color="#1f1a3c"/><stop offset="0.8539" stop-color="#1f1a3c"/><stop offset="0.8539" stop-color="#211439"/><stop offset="0.8697" stop-color="#211439"/><stop offset="0.8697" stop-color="#220e34"/><stop offset="0.9013" stop-color="#220e34"/><stop offset="0.9013" stop-color="#21072e"/><stop offset="0.9488" stop-color="#21072e"/><stop offset="0.9488" stop-color="#200027"/></linearGradient>
<clipPath id="cd2"><path d="M197 45.5 L268.8 77.5 L269.2 285.3 L271.7 285 L271.7 314.7 L269.2 315.5 L268.8 325.9 L266.3 328 L266.3 337.6 L263.6 339.2 L263.6 350.9 L260.6 353.1 L260.6 364.8 L249.3 374.4 L249 364.3 L228.1 380.8 L228.1 393.6 L217.2 402.7 L216.5 391.7 L208.4 397.4 L207.9 385.3 L204.2 387.8 L203.3 375.5 L199.4 376.6 L198.5 352 L194.3 354 L194.3 325.5 L198.5 324.6 Z"/></clipPath>
<linearGradient id="g291" gradientUnits="userSpaceOnUse" x1="0" y1="45.6" x2="0" y2="427.2"><stop offset="0" stop-color="#200027"/><stop offset="0.4902" stop-color="#200027"/><stop offset="0.4902" stop-color="#21072e"/><stop offset="0.5693" stop-color="#21072e"/><stop offset="0.5693" stop-color="#220e34"/><stop offset="0.6009" stop-color="#220e34"/><stop offset="0.6009" stop-color="#211439"/><stop offset="0.6325" stop-color="#211439"/><stop offset="0.6325" stop-color="#1f1a3c"/><stop offset="0.6641" stop-color="#1f1a3c"/><stop offset="0.6641" stop-color="#1e2140"/><stop offset="0.6958" stop-color="#1e2140"/><stop offset="0.6958" stop-color="#1b2641"/><stop offset="0.7116" stop-color="#1b2641"/><stop offset="0.7116" stop-color="#192b42"/><stop offset="0.759" stop-color="#192b42"/><stop offset="0.759" stop-color="#173042"/><stop offset="0.7906" stop-color="#173042"/><stop offset="0.7906" stop-color="#192b42"/><stop offset="0.8223" stop-color="#192b42"/><stop offset="0.8223" stop-color="#1b2641"/><stop offset="0.8539" stop-color="#1b2641"/><stop offset="0.8539" stop-color="#1e2140"/><stop offset="0.8697" stop-color="#1e2140"/><stop offset="0.8697" stop-color="#1f1a3c"/><stop offset="0.9013" stop-color="#1f1a3c"/><stop offset="0.9013" stop-color="#211439"/><stop offset="0.9171" stop-color="#211439"/><stop offset="0.9171" stop-color="#220e34"/><stop offset="0.9488" stop-color="#220e34"/><stop offset="0.9488" stop-color="#21072e"/></linearGradient>
<linearGradient id="g292" gradientUnits="userSpaceOnUse" x1="0" y1="47" x2="0" y2="424.6"><stop offset="0" stop-color="#200027"/><stop offset="0.4902" stop-color="#200027"/><stop offset="0.4902" stop-color="#21072e"/><stop offset="0.5534" stop-color="#21072e"/><stop offset="0.5534" stop-color="#220e34"/><stop offset="0.6009" stop-color="#220e34"/><stop offset="0.6009" stop-color="#211439"/><stop offset="0.6325" stop-color="#211439"/><stop offset="0.6325" stop-color="#1f1a3c"/><stop offset="0.6483" stop-color="#1f1a3c"/><stop offset="0.6483" stop-color="#1e2140"/><stop offset="0.6799" stop-color="#1e2140"/><stop offset="0.6799" stop-color="#1b2641"/><stop offset="0.6958" stop-color="#1b2641"/><stop offset="0.6958" stop-color="#192b42"/><stop offset="0.7274" stop-color="#192b42"/><stop offset="0.7274" stop-color="#173042"/><stop offset="0.759" stop-color="#173042"/><stop offset="0.759" stop-color="#153543"/><stop offset="0.7906" stop-color="#153543"/><stop offset="0.7906" stop-color="#173042"/><stop offset="0.8223" stop-color="#173042"/><stop offset="0.8223" stop-color="#192b42"/><stop offset="0.8381" stop-color="#192b42"/><stop offset="0.8381" stop-color="#1b2641"/><stop offset="0.8697" stop-color="#1b2641"/><stop offset="0.8697" stop-color="#1e2140"/><stop offset="0.8855" stop-color="#1e2140"/><stop offset="0.8855" stop-color="#1f1a3c"/><stop offset="0.9013" stop-color="#1f1a3c"/><stop offset="0.9013" stop-color="#211439"/><stop offset="0.933" stop-color="#211439"/><stop offset="0.933" stop-color="#220e34"/><stop offset="0.9646" stop-color="#220e34"/><stop offset="0.9646" stop-color="#21072e"/></linearGradient>
<linearGradient id="g293" gradientUnits="userSpaceOnUse" x1="0" y1="49.5" x2="0" y2="419.5"><stop offset="0" stop-color="#200027"/><stop offset="0.4744" stop-color="#200027"/><stop offset="0.4744" stop-color="#21072e"/><stop offset="0.5534" stop-color="#21072e"/><stop offset="0.5534" stop-color="#220e34"/><stop offset="0.5851" stop-color="#220e34"/><stop offset="0.5851" stop-color="#211439"/><stop offset="0.6167" stop-color="#211439"/><stop offset="0.6167" stop-color="#1f1a3c"/><stop offset="0.6325" stop-color="#1f1a3c"/><stop offset="0.6325" stop-color="#1e2140"/><stop offset="0.6483" stop-color="#1e2140"/><stop offset="0.6483" stop-color="#1b2641"/><stop offset="0.6799" stop-color="#1b2641"/><stop offset="0.6799" stop-color="#192b42"/><stop offset="0.6958" stop-color="#192b42"/><stop offset="0.6958" stop-color="#173042"/><stop offset="0.7116" stop-color="#173042"/><stop offset="0.7116" stop-color="#153543"/><stop offset="0.7274" stop-color="#153543"/><stop offset="0.7274" stop-color="#133a43"/><stop offset="0.7432" stop-color="#133a43"/><stop offset="0.7432" stop-color="#113f42"/><stop offset="0.759" stop-color="#113f42"/><stop offset="0.759" stop-color="#0f4442"/><stop offset="0.8065" stop-color="#0f4442"/><stop offset="0.8065" stop-color="#113f42"/><stop offset="0.8223" stop-color="#113f42"/><stop offset="0.8223" stop-color="#133a43"/><stop offset="0.8381" stop-color="#133a43"/><stop offset="0.8381" stop-color="#153543"/><stop offset="0.8539" stop-color="#153543"/><stop offset="0.8539" stop-color="#192b42"/><stop offset="0.8697" stop-color="#192b42"/><stop offset="0.8697" stop-color="#1b2641"/><stop offset="0.8855" stop-color="#1b2641"/><stop offset="0.8855" stop-color="#1e2140"/><stop offset="0.9013" stop-color="#1e2140"/><stop offset="0.9013" stop-color="#1f1a3c"/><stop offset="0.9171" stop-color="#1f1a3c"/><stop offset="0.9171" stop-color="#211439"/><stop offset="0.933" stop-color="#211439"/><stop offset="0.933" stop-color="#220e34"/><stop offset="0.9646" stop-color="#220e34"/><stop offset="0.9646" stop-color="#21072e"/></linearGradient>
<linearGradient id="g294" gradientUnits="userSpaceOnUse" x1="0" y1="51.9" x2="0" y2="414.6"><stop offset="0" stop-color="#200027"/><stop offset="0.4744" stop-color="#200027"/><stop offset="0.4744" stop-color="#21072e"/><stop offset="0.5376" stop-color="#21072e"/><stop offset="0.5376" stop-color="#220e34"/><stop offset="0.5851" stop-color="#220e34"/><stop offset="0.5851" stop-color="#211439"/><stop offset="0.6009" stop-color="#211439"/><stop offset="0.6009" stop-color="#1f1a3c"/><stop offset="0.6325" stop-color="#1f1a3c"/><stop offset="0.6325" stop-color="#1e2140"/><stop offset="0.6483" stop-color="#1e2140"/><stop offset="0.6483" stop-color="#1b2641"/><stop offset="0.6641" stop-color="#1b2641"/><stop offset="0.6641" stop-color="#173042"/><stop offset="0.6799" stop-color="#173042"/><stop offset="0.6799" stop-color="#153543"/><stop offset="0.6958" stop-color="#153543"/><stop offset="0.6958" stop-color="#133a43"/><stop offset="0.7116" stop-color="#133a43"/><stop offset="0.7116" stop-color="#0f4442"/><stop offset="0.7274" stop-color="#0f4442"/><stop offset="0.7274" stop-color="#104d3f"/><stop offset="0.7432" stop-color="#104d3f"/><stop offset="0.7432" stop-color="#14513c"/><stop offset="0.759" stop-color="#14513c"/><stop offset="0.759" stop-color="#1b5638"/><stop offset="0.8065" stop-color="#1b5638"/><stop offset="0.8065" stop-color="#14513c"/><stop offset="0.8223" stop-color="#14513c"/><stop offset="0.8223" stop-color="#0f4840"/><stop offset="0.8381" stop-color="#0f4840"/><stop offset="0.8381" stop-color="#0f4442"/><stop offset="0.8539" stop-color="#0f4442"/><stop offset="0.8539" stop-color="#133a43"/><stop offset="0.8697" stop-color="#133a43"/><stop offset="0.8697" stop-color="#173042"/><stop offset="0.8855" stop-color="#173042"/><stop offset="0.8855" stop-color="#1b2641"/><stop offset="0.9013" stop-color="#1b2641"/><stop offset="0.9013" stop-color="#1e2140"/><stop offset="0.9171" stop-color="#1e2140"/><stop offset="0.9171" stop-color="#1f1a3c"/><stop offset="0.933" stop-color="#1f1a3c"/><stop offset="0.933" stop-color="#211439"/><stop offset="0.9488" stop-color="#211439"/><stop offset="0.9488" stop-color="#220e34"/><stop offset="0.9804" stop-color="#220e34"/><stop offset="0.9804" stop-color="#21072e"/></linearGradient>
<linearGradient id="g295" gradientUnits="userSpaceOnUse" x1="0" y1="54.3" x2="0" y2="410"><stop offset="0" stop-color="#200027"/><stop offset="0.4744" stop-color="#200027"/><stop offset="0.4744" stop-color="#21072e"/><stop offset="0.5376" stop-color="#21072e"/><stop offset="0.5376" stop-color="#220e34"/><stop offset="0.5693" stop-color="#220e34"/><stop offset="0.5693" stop-color="#211439"/><stop offset="0.6009" stop-color="#211439"/><stop offset="0.6009" stop-color="#1f1a3c"/><stop offset="0.6167" stop-color="#1f1a3c"/><stop offset="0.6167" stop-color="#1e2140"/><stop offset="0.6325" stop-color="#1e2140"/><stop offset="0.6325" stop-color="#1b2641"/><stop offset="0.6483" stop-color="#1b2641"/><stop offset="0.6483" stop-color="#192b42"/><stop offset="0.6641" stop-color="#192b42"/><stop offset="0.6641" stop-color="#153543"/><stop offset="0.6799" stop-color="#153543"/><stop offset="0.6799" stop-color="#113f42"/><stop offset="0.6958" stop-color="#113f42"/><stop offset="0.6958" stop-color="#0f4840"/><stop offset="0.7116" stop-color="#0f4840"/><stop offset="0.7116" stop-color="#14513c"/><stop offset="0.7274" stop-color="#14513c"/><stop offset="0.7274" stop-color="#225a33"/><stop offset="0.7432" stop-color="#225a33"/><stop offset="0.7432" stop-color="#376127"/><stop offset="0.759" stop-color="#376127"/><stop offset="0.759" stop-color="#516717"/><stop offset="0.8065" stop-color="#516717"/><stop offset="0.8065" stop-color="#44641f"/><stop offset="0.8223" stop-color="#44641f"/><stop offset="0.8223" stop-color="#2c5e2d"/><stop offset="0.8381" stop-color="#2c5e2d"/><stop offset="0.8381" stop-color="#14513c"/><stop offset="0.8539" stop-color="#14513c"/><stop offset="0.8539" stop-color="#0f4442"/><stop offset="0.8697" stop-color="#0f4442"/><stop offset="0.8697" stop-color="#133a43"/><stop offset="0.8855" stop-color="#133a43"/><stop offset="0.8855" stop-color="#192b42"/><stop offset="0.9013" stop-color="#192b42"/><stop offset="0.9013" stop-color="#1b2641"/><stop offset="0.9171" stop-color="#1b2641"/><stop offset="0.9171" stop-color="#1f1a3c"/><stop offset="0.933" stop-color="#1f1a3c"/><stop offset="0.933" stop-color="#211439"/><stop offset="0.9488" stop-color="#211439"/><stop offset="0.9488" stop-color="#220e34"/></linearGradient>
<linearGradient id="g296" gradientUnits="userSpaceOnUse" x1="0" y1="56.5" x2="0" y2="405.5"><stop offset="0" stop-color="#200027"/><stop offset="0.4428" stop-color="#200027"/><stop offset="0.4428" stop-color="#21072e"/><stop offset="0.506" stop-color="#21072e"/><stop offset="0.506" stop-color="#220e34"/><stop offset="0.5376" stop-color="#220e34"/><stop offset="0.5376" stop-color="#211439"/><stop offset="0.5693" stop-color="#211439"/><stop offset="0.5693" stop-color="#1f1a3c"/><stop offset="0.5851" stop-color="#1f1a3c"/><stop offset="0.5851" stop-color="#1e2140"/><stop offset="0.6009" stop-color="#1e2140"/><stop offset="0.6009" stop-color="#1b2641"/><stop offset="0.6167" stop-color="#1b2641"/><stop offset="0.6167" stop-color="#192b42"/><stop offset="0.6325" stop-color="#192b42"/><stop offset="0.6325" stop-color="#173042"/><stop offset="0.6483" stop-color="#173042"/><stop offset="0.6483" stop-color="#153543"/><stop offset="0.6641" stop-color="#153543"/><stop offset="0.6641" stop-color="#113f42"/><stop offset="0.6799" stop-color="#113f42"/><stop offset="0.6799" stop-color="#0f4442"/><stop offset="0.6958" stop-color="#0f4442"/><stop offset="0.6958" stop-color="#14513c"/><stop offset="0.7116" stop-color="#14513c"/><stop offset="0.7116" stop-color="#225a33"/><stop offset="0.7274" stop-color="#225a33"/><stop offset="0.7274" stop-color="#44641f"/><stop offset="0.7432" stop-color="#44641f"/><stop offset="0.7432" stop-color="#5e6912"/><stop offset="0.759" stop-color="#5e6912"/><stop offset="0.759" stop-color="#776d11"/><stop offset="0.8065" stop-color="#776d11"/><stop offset="0.8065" stop-color="#6a6b12"/><stop offset="0.8223" stop-color="#6a6b12"/><stop offset="0.8223" stop-color="#516717"/><stop offset="0.8381" stop-color="#516717"/><stop offset="0.8381" stop-color="#225a33"/><stop offset="0.8539" stop-color="#225a33"/><stop offset="0.8539" stop-color="#104d3f"/><stop offset="0.8697" stop-color="#104d3f"/><stop offset="0.8697" stop-color="#113f42"/><stop offset="0.8855" stop-color="#113f42"/><stop offset="0.8855" stop-color="#173042"/><stop offset="0.9013" stop-color="#173042"/><stop offset="0.9013" stop-color="#1b2641"/><stop offset="0.9171" stop-color="#1b2641"/><stop offset="0.9171" stop-color="#1e2140"/><stop offset="0.933" stop-color="#1e2140"/><stop offset="0.933" stop-color="#1f1a3c"/><stop offset="0.9488" stop-color="#1f1a3c"/><stop offset="0.9488" stop-color="#211439"/><stop offset="0.9646" stop-color="#211439"/><stop offset="0.9646" stop-color="#220e34"/></linearGradient>
<linearGradient id="g297" gradientUnits="userSpaceOnUse" x1="0" y1="58.7" x2="0" y2="401.1"><stop offset="0" stop-color="#200027"/><stop offset="0.4269" stop-color="#200027"/><stop offset="0.4269" stop-color="#21072e"/><stop offset="0.4744" stop-color="#21072e"/><stop offset="0.4744" stop-color="#220e34"/><stop offset="0.506" stop-color="#220e34"/><stop offset="0.506" stop-color="#211439"/><stop offset="0.5376" stop-color="#211439"/><stop offset="0.5376" stop-color="#1f1a3c"/><stop offset="0.5534" stop-color="#1f1a3c"/><stop offset="0.5534" stop-color="#1e2140"/><stop offset="0.5851" stop-color="#1e2140"/><stop offset="0.5851" stop-color="#1b2641"/><stop offset="0.6009" stop-color="#1b2641"/><stop offset="0.6009" stop-color="#192b42"/><stop offset="0.6167" stop-color="#192b42"/><stop offset="0.6167" stop-color="#173042"/><stop offset="0.6325" stop-color="#173042"/><stop offset="0.6325" stop-color="#153543"/><stop offset="0.6483" stop-color="#153543"/><stop offset="0.6483" stop-color="#133a43"/><stop offset="0.6641" stop-color="#133a43"/><stop offset="0.6641" stop-color="#0f4442"/><stop offset="0.6799" stop-color="#0f4442"/><stop offset="0.6799" stop-color="#104d3f"/><stop offset="0.6958" stop-color="#104d3f"/><stop offset="0.6958" stop-color="#1b5638"/><stop offset="0.7116" stop-color="#1b5638"/><stop offset="0.7116" stop-color="#2c5e2d"/><stop offset="0.7274" stop-color="#2c5e2d"/><stop offset="0.7274" stop-color="#516717"/><stop offset="0.7432" stop-color="#516717"/><stop offset="0.7432" stop-color="#6a6b12"/><stop offset="0.759" stop-color="#6a6b12"/><stop offset="0.759" stop-color="#776d11"/><stop offset="0.8223" stop-color="#776d11"/><stop offset="0.8223" stop-color="#516717"/><stop offset="0.8381" stop-color="#516717"/><stop offset="0.8381" stop-color="#2c5e2d"/><stop offset="0.8539" stop-color="#2c5e2d"/><stop offset="0.8539" stop-color="#14513c"/><stop offset="0.8697" stop-color="#14513c"/><stop offset="0.8697" stop-color="#0f4442"/><stop offset="0.8855" stop-color="#0f4442"/><stop offset="0.8855" stop-color="#153543"/><stop offset="0.9013" stop-color="#153543"/><stop offset="0.9013" stop-color="#192b42"/><stop offset="0.9171" stop-color="#192b42"/><stop offset="0.9171" stop-color="#1e2140"/><stop offset="0.933" stop-color="#1e2140"/><stop offset="0.933" stop-color="#1f1a3c"/><stop offset="0.9488" stop-color="#1f1a3c"/><stop offset="0.9488" stop-color="#211439"/><stop offset="0.9646" stop-color="#211439"/><stop offset="0.9646" stop-color="#220e34"/></linearGradient>
<linearGradient id="g298" gradientUnits="userSpaceOnUse" x1="0" y1="60.8" x2="0" y2="397"><stop offset="0" stop-color="#200027"/><stop offset="0.4586" stop-color="#200027"/><stop offset="0.4586" stop-color="#21072e"/><stop offset="0.5218" stop-color="#21072e"/><stop offset="0.5218" stop-color="#220e34"/><stop offset="0.5534" stop-color="#220e34"/><stop offset="0.5534" stop-color="#211439"/><stop offset="0.5693" stop-color="#211439"/><stop offset="0.5693" stop-color="#1f1a3c"/><stop offset="0.6009" stop-color="#1f1a3c"/><stop offset="0.6009" stop-color="#1e2140"/><stop offset="0.6167" stop-color="#1e2140"/><stop offset="0.6167" stop-color="#1b2641"/><stop offset="0.6325" stop-color="#1b2641"/><stop offset="0.6325" stop-color="#173042"/><stop offset="0.6483" stop-color="#173042"/><stop offset="0.6483" stop-color="#153543"/><stop offset="0.6641" stop-color="#153543"/><stop offset="0.6641" stop-color="#113f42"/><stop offset="0.6799" stop-color="#113f42"/><stop offset="0.6799" stop-color="#0f4840"/><stop offset="0.6958" stop-color="#0f4840"/><stop offset="0.6958" stop-color="#14513c"/><stop offset="0.7116" stop-color="#14513c"/><stop offset="0.7116" stop-color="#2c5e2d"/><stop offset="0.7274" stop-color="#2c5e2d"/><stop offset="0.7274" stop-color="#44641f"/><stop offset="0.7432" stop-color="#44641f"/><stop offset="0.7432" stop-color="#5e6912"/><stop offset="0.759" stop-color="#5e6912"/><stop offset="0.759" stop-color="#6a6b12"/><stop offset="0.7748" stop-color="#6a6b12"/><stop offset="0.7748" stop-color="#776d11"/><stop offset="0.7906" stop-color="#776d11"/><stop offset="0.7906" stop-color="#6a6b12"/><stop offset="0.8065" stop-color="#6a6b12"/><stop offset="0.8065" stop-color="#5e6912"/><stop offset="0.8223" stop-color="#5e6912"/><stop offset="0.8223" stop-color="#376127"/><stop offset="0.8381" stop-color="#376127"/><stop offset="0.8381" stop-color="#225a33"/><stop offset="0.8539" stop-color="#225a33"/><stop offset="0.8539" stop-color="#104d3f"/><stop offset="0.8697" stop-color="#104d3f"/><stop offset="0.8697" stop-color="#113f42"/><stop offset="0.8855" stop-color="#113f42"/><stop offset="0.8855" stop-color="#153543"/><stop offset="0.9013" stop-color="#153543"/><stop offset="0.9013" stop-color="#192b42"/><stop offset="0.9171" stop-color="#192b42"/><stop offset="0.9171" stop-color="#1e2140"/><stop offset="0.933" stop-color="#1e2140"/><stop offset="0.933" stop-color="#1f1a3c"/><stop offset="0.9488" stop-color="#1f1a3c"/><stop offset="0.9488" stop-color="#211439"/><stop offset="0.9646" stop-color="#211439"/><stop offset="0.9646" stop-color="#220e34"/></linearGradient>
<linearGradient id="g299" gradientUnits="userSpaceOnUse" x1="0" y1="62.8" x2="0" y2="392.9"><stop offset="0" stop-color="#200027"/><stop offset="0.4586" stop-color="#200027"/><stop offset="0.4586" stop-color="#21072e"/><stop offset="0.5218" stop-color="#21072e"/><stop offset="0.5218" stop-color="#220e34"/><stop offset="0.5534" stop-color="#220e34"/><stop offset="0.5534" stop-color="#211439"/><stop offset="0.5851" stop-color="#211439"/><stop offset="0.5851" stop-color="#1f1a3c"/><stop offset="0.6009" stop-color="#1f1a3c"/><stop offset="0.6009" stop-color="#1e2140"/><stop offset="0.6167" stop-color="#1e2140"/><stop offset="0.6167" stop-color="#1b2641"/><stop offset="0.6325" stop-color="#1b2641"/><stop offset="0.6325" stop-color="#173042"/><stop offset="0.6483" stop-color="#173042"/><stop offset="0.6483" stop-color="#153543"/><stop offset="0.6641" stop-color="#153543"/><stop offset="0.6641" stop-color="#113f42"/><stop offset="0.6799" stop-color="#113f42"/><stop offset="0.6799" stop-color="#0f4840"/><stop offset="0.6958" stop-color="#0f4840"/><stop offset="0.6958" stop-color="#14513c"/><stop offset="0.7116" stop-color="#14513c"/><stop offset="0.7116" stop-color="#225a33"/><stop offset="0.7274" stop-color="#225a33"/><stop offset="0.7274" stop-color="#376127"/><stop offset="0.7432" stop-color="#376127"/><stop offset="0.7432" stop-color="#44641f"/><stop offset="0.759" stop-color="#44641f"/><stop offset="0.759" stop-color="#516717"/><stop offset="0.8065" stop-color="#516717"/><stop offset="0.8065" stop-color="#376127"/><stop offset="0.8223" stop-color="#376127"/><stop offset="0.8223" stop-color="#225a33"/><stop offset="0.8381" stop-color="#225a33"/><stop offset="0.8381" stop-color="#14513c"/><stop offset="0.8539" stop-color="#14513c"/><stop offset="0.8539" stop-color="#0f4840"/><stop offset="0.8697" stop-color="#0f4840"/><stop offset="0.8697" stop-color="#133a43"/><stop offset="0.8855" stop-color="#133a43"/><stop offset="0.8855" stop-color="#173042"/><stop offset="0.9013" stop-color="#173042"/><stop offset="0.9013" stop-color="#192b42"/><stop offset="0.9171" stop-color="#192b42"/><stop offset="0.9171" stop-color="#1e2140"/><stop offset="0.933" stop-color="#1e2140"/><stop offset="0.933" stop-color="#1f1a3c"/><stop offset="0.9488" stop-color="#1f1a3c"/><stop offset="0.9488" stop-color="#211439"/><stop offset="0.9646" stop-color="#211439"/><stop offset="0.9646" stop-color="#220e34"/></linearGradient>
<linearGradient id="g300" gradientUnits="userSpaceOnUse" x1="0" y1="64.7" x2="0" y2="389"><stop offset="0" stop-color="#200027"/><stop offset="0.4586" stop-color="#200027"/><stop offset="0.4586" stop-color="#21072e"/><stop offset="0.5218" stop-color="#21072e"/><stop offset="0.5218" stop-color="#220e34"/><stop offset="0.5534" stop-color="#220e34"/><stop offset="0.5534" stop-color="#211439"/><stop offset="0.5851" stop-color="#211439"/><stop offset="0.5851" stop-color="#1f1a3c"/><stop offset="0.6009" stop-color="#1f1a3c"/><stop offset="0.6009" stop-color="#1e2140"/><stop offset="0.6167" stop-color="#1e2140"/><stop offset="0.6167" stop-color="#1b2641"/><stop offset="0.6325" stop-color="#1b2641"/><stop offset="0.6325" stop-color="#173042"/><stop offset="0.6483" stop-color="#173042"/><stop offset="0.6483" stop-color="#153543"/><stop offset="0.6641" stop-color="#153543"/><stop offset="0.6641" stop-color="#113f42"/><stop offset="0.6799" stop-color="#113f42"/><stop offset="0.6799" stop-color="#0f4840"/><stop offset="0.6958" stop-color="#0f4840"/><stop offset="0.6958" stop-color="#14513c"/><stop offset="0.7116" stop-color="#14513c"/><stop offset="0.7116" stop-color="#225a33"/><stop offset="0.7274" stop-color="#225a33"/><stop offset="0.7274" stop-color="#376127"/><stop offset="0.7432" stop-color="#376127"/><stop offset="0.7432" stop-color="#516717"/><stop offset="0.7906" stop-color="#516717"/><stop offset="0.7906" stop-color="#44641f"/><stop offset="0.8065" stop-color="#44641f"/><stop offset="0.8065" stop-color="#376127"/><stop offset="0.8223" stop-color="#376127"/><stop offset="0.8223" stop-color="#225a33"/><stop offset="0.8381" stop-color="#225a33"/><stop offset="0.8381" stop-color="#14513c"/><stop offset="0.8539" stop-color="#14513c"/><stop offset="0.8539" stop-color="#0f4442"/><stop offset="0.8697" stop-color="#0f4442"/><stop offset="0.8697" stop-color="#133a43"/><stop offset="0.8855" stop-color="#133a43"/><stop offset="0.8855" stop-color="#173042"/><stop offset="0.9013" stop-color="#173042"/><stop offset="0.9013" stop-color="#1b2641"/><stop offset="0.9171" stop-color="#1b2641"/><stop offset="0.9171" stop-color="#1e2140"/><stop offset="0.933" stop-color="#1e2140"/><stop offset="0.933" stop-color="#1f1a3c"/><stop offset="0.9488" stop-color="#1f1a3c"/><stop offset="0.9488" stop-color="#211439"/><stop offset="0.9646" stop-color="#211439"/><stop offset="0.9646" stop-color="#220e34"/></linearGradient>
<linearGradient id="g301" gradientUnits="userSpaceOnUse" x1="0" y1="66.6" x2="0" y2="385.3"><stop offset="0" stop-color="#200027"/><stop offset="0.4586" stop-color="#200027"/><stop offset="0.4586" stop-color="#21072e"/><stop offset="0.5218" stop-color="#21072e"/><stop offset="0.5218" stop-color="#220e34"/><stop offset="0.5693" stop-color="#220e34"/><stop offset="0.5693" stop-color="#211439"/><stop offset="0.5851" stop-color="#211439"/><stop offset="0.5851" stop-color="#1f1a3c"/><stop offset="0.6009" stop-color="#1f1a3c"/><stop offset="0.6009" stop-color="#1e2140"/><stop offset="0.6167" stop-color="#1e2140"/><stop offset="0.6167" stop-color="#1b2641"/><stop offset="0.6325" stop-color="#1b2641"/><stop offset="0.6325" stop-color="#173042"/><stop offset="0.6483" stop-color="#173042"/><stop offset="0.6483" stop-color="#133a43"/><stop offset="0.6641" stop-color="#133a43"/><stop offset="0.6641" stop-color="#0f4442"/><stop offset="0.6799" stop-color="#0f4442"/><stop offset="0.6799" stop-color="#104d3f"/><stop offset="0.6958" stop-color="#104d3f"/><stop offset="0.6958" stop-color="#225a33"/><stop offset="0.7116" stop-color="#225a33"/><stop offset="0.7116" stop-color="#376127"/><stop offset="0.7274" stop-color="#376127"/><stop offset="0.7274" stop-color="#516717"/><stop offset="0.7432" stop-color="#516717"/><stop offset="0.7432" stop-color="#6a6b12"/><stop offset="0.7906" stop-color="#6a6b12"/><stop offset="0.7906" stop-color="#5e6912"/><stop offset="0.8065" stop-color="#5e6912"/><stop offset="0.8065" stop-color="#44641f"/><stop offset="0.8223" stop-color="#44641f"/><stop offset="0.8223" stop-color="#2c5e2d"/><stop offset="0.8381" stop-color="#2c5e2d"/><stop offset="0.8381" stop-color="#14513c"/><stop offset="0.8539" stop-color="#14513c"/><stop offset="0.8539" stop-color="#0f4442"/><stop offset="0.8697" stop-color="#0f4442"/><stop offset="0.8697" stop-color="#133a43"/><stop offset="0.8855" stop-color="#133a43"/><stop offset="0.8855" stop-color="#173042"/><stop offset="0.9013" stop-color="#173042"/><stop offset="0.9013" stop-color="#1b2641"/><stop offset="0.9171" stop-color="#1b2641"/><stop offset="0.9171" stop-color="#1e2140"/><stop offset="0.933" stop-color="#1e2140"/><stop offset="0.933" stop-color="#1f1a3c"/><stop offset="0.9488" stop-color="#1f1a3c"/><stop offset="0.9488" stop-color="#211439"/><stop offset="0.9646" stop-color="#211439"/><stop offset="0.9646" stop-color="#220e34"/></linearGradient>
<linearGradient id="g302" gradientUnits="userSpaceOnUse" x1="0" y1="68.4" x2="0" y2="381.7"><stop offset="0" stop-color="#200027"/><stop offset="0.4428" stop-color="#200027"/><stop offset="0.4428" stop-color="#21072e"/><stop offset="0.5218" stop-color="#21072e"/><stop offset="0.5218" stop-color="#220e34"/><stop offset="0.5534" stop-color="#220e34"/><stop offset="0.5534" stop-color="#211439"/><stop offset="0.5851" stop-color="#211439"/><stop offset="0.5851" stop-color="#1f1a3c"/><stop offset="0.6009" stop-color="#1f1a3c"/><stop offset="0.6009" stop-color="#1e2140"/><stop offset="0.6167" stop-color="#1e2140"/><stop offset="0.6167" stop-color="#1b2641"/><stop offset="0.6325" stop-color="#1b2641"/><stop offset="0.6325" stop-color="#173042"/><stop offset="0.6483" stop-color="#173042"/><stop offset="0.6483" stop-color="#133a43"/><stop offset="0.6641" stop-color="#133a43"/><stop offset="0.6641" stop-color="#0f4442"/><stop offset="0.6799" stop-color="#0f4442"/><stop offset="0.6799" stop-color="#14513c"/><stop offset="0.6958" stop-color="#14513c"/><stop offset="0.6958" stop-color="#2c5e2d"/><stop offset="0.7116" stop-color="#2c5e2d"/><stop offset="0.7116" stop-color="#44641f"/><stop offset="0.7274" stop-color="#44641f"/><stop offset="0.7274" stop-color="#6a6b12"/><stop offset="0.7432" stop-color="#6a6b12"/><stop offset="0.7432" stop-color="#776d11"/><stop offset="0.7906" stop-color="#776d11"/><stop offset="0.7906" stop-color="#6a6b12"/><stop offset="0.8065" stop-color="#6a6b12"/><stop offset="0.8065" stop-color="#516717"/><stop offset="0.8223" stop-color="#516717"/><stop offset="0.8223" stop-color="#2c5e2d"/><stop offset="0.8381" stop-color="#2c5e2d"/><stop offset="0.8381" stop-color="#14513c"/><stop offset="0.8539" stop-color="#14513c"/><stop offset="0.8539" stop-color="#0f4840"/><stop offset="0.8697" stop-color="#0f4840"/><stop offset="0.8697" stop-color="#133a43"/><stop offset="0.8855" stop-color="#133a43"/><stop offset="0.8855" stop-color="#173042"/><stop offset="0.9013" stop-color="#173042"/><stop offset="0.9013" stop-color="#1b2641"/><stop offset="0.9171" stop-color="#1b2641"/><stop offset="0.9171" stop-color="#1e2140"/><stop offset="0.933" stop-color="#1e2140"/><stop offset="0.933" stop-color="#1f1a3c"/><stop offset="0.9488" stop-color="#1f1a3c"/><stop offset="0.9488" stop-color="#211439"/><stop offset="0.9646" stop-color="#211439"/><stop offset="0.9646" stop-color="#220e34"/></linearGradient>
<linearGradient id="g303" gradientUnits="userSpaceOnUse" x1="0" y1="70.2" x2="0" y2="378.2"><stop offset="0" stop-color="#200027"/><stop offset="0.4111" stop-color="#200027"/><stop offset="0.4111" stop-color="#21072e"/><stop offset="0.4744" stop-color="#21072e"/><stop offset="0.4744" stop-color="#220e34"/><stop offset="0.506" stop-color="#220e34"/><stop offset="0.506" stop-color="#211439"/><stop offset="0.5376" stop-color="#211439"/><stop offset="0.5376" stop-color="#1f1a3c"/><stop offset="0.5534" stop-color="#1f1a3c"/><stop offset="0.5534" stop-color="#1e2140"/><stop offset="0.5851" stop-color="#1e2140"/><stop offset="0.5851" stop-color="#1b2641"/><stop offset="0.6009" stop-color="#1b2641"/><stop offset="0.6009" stop-color="#192b42"/><stop offset="0.6325" stop-color="#192b42"/><stop offset="0.6325" stop-color="#153543"/><stop offset="0.6483" stop-color="#153543"/><stop offset="0.6483" stop-color="#133a43"/><stop offset="0.6641" stop-color="#133a43"/><stop offset="0.6641" stop-color="#0f4442"/><stop offset="0.6799" stop-color="#0f4442"/><stop offset="0.6799" stop-color="#14513c"/><stop offset="0.6958" stop-color="#14513c"/><stop offset="0.6958" stop-color="#225a33"/><stop offset="0.7116" stop-color="#225a33"/><stop offset="0.7116" stop-color="#44641f"/><stop offset="0.7274" stop-color="#44641f"/><stop offset="0.7274" stop-color="#5e6912"/><stop offset="0.7432" stop-color="#5e6912"/><stop offset="0.7432" stop-color="#776d11"/><stop offset="0.7906" stop-color="#776d11"/><stop offset="0.7906" stop-color="#5e6912"/><stop offset="0.8065" stop-color="#5e6912"/><stop offset="0.8065" stop-color="#44641f"/><stop offset="0.8223" stop-color="#44641f"/><stop offset="0.8223" stop-color="#225a33"/><stop offset="0.8381" stop-color="#225a33"/><stop offset="0.8381" stop-color="#104d3f"/><stop offset="0.8539" stop-color="#104d3f"/><stop offset="0.8539" stop-color="#0f4442"/><stop offset="0.8697" stop-color="#0f4442"/><stop offset="0.8697" stop-color="#153543"/><stop offset="0.8855" stop-color="#153543"/><stop offset="0.8855" stop-color="#192b42"/><stop offset="0.9013" stop-color="#192b42"/><stop offset="0.9013" stop-color="#1b2641"/><stop offset="0.9171" stop-color="#1b2641"/><stop offset="0.9171" stop-color="#1f1a3c"/><stop offset="0.933" stop-color="#1f1a3c"/><stop offset="0.933" stop-color="#211439"/><stop offset="0.9488" stop-color="#211439"/><stop offset="0.9488" stop-color="#220e34"/></linearGradient>
<linearGradient id="g304" gradientUnits="userSpaceOnUse" x1="0" y1="71.9" x2="0" y2="374.8"><stop offset="0" stop-color="#200027"/><stop offset="0.4586" stop-color="#200027"/><stop offset="0.4586" stop-color="#21072e"/><stop offset="0.5218" stop-color="#21072e"/><stop offset="0.5218" stop-color="#220e34"/><stop offset="0.5534" stop-color="#220e34"/><stop offset="0.5534" stop-color="#211439"/><stop offset="0.5851" stop-color="#211439"/><stop offset="0.5851" stop-color="#1f1a3c"/><stop offset="0.6167" stop-color="#1f1a3c"/><stop offset="0.6167" stop-color="#1e2140"/><stop offset="0.6325" stop-color="#1e2140"/><stop offset="0.6325" stop-color="#192b42"/><stop offset="0.6483" stop-color="#192b42"/><stop offset="0.6483" stop-color="#173042"/><stop offset="0.6641" stop-color="#173042"/><stop offset="0.6641" stop-color="#133a43"/><stop offset="0.6799" stop-color="#133a43"/><stop offset="0.6799" stop-color="#0f4442"/><stop offset="0.6958" stop-color="#0f4442"/><stop offset="0.6958" stop-color="#104d3f"/><stop offset="0.7116" stop-color="#104d3f"/><stop offset="0.7116" stop-color="#1b5638"/><stop offset="0.7274" stop-color="#1b5638"/><stop offset="0.7274" stop-color="#2c5e2d"/><stop offset="0.7432" stop-color="#2c5e2d"/><stop offset="0.7432" stop-color="#376127"/><stop offset="0.7906" stop-color="#376127"/><stop offset="0.7906" stop-color="#2c5e2d"/><stop offset="0.8065" stop-color="#2c5e2d"/><stop offset="0.8065" stop-color="#1b5638"/><stop offset="0.8223" stop-color="#1b5638"/><stop offset="0.8223" stop-color="#104d3f"/><stop offset="0.8381" stop-color="#104d3f"/><stop offset="0.8381" stop-color="#0f4442"/><stop offset="0.8539" stop-color="#0f4442"/><stop offset="0.8539" stop-color="#133a43"/><stop offset="0.8697" stop-color="#133a43"/><stop offset="0.8697" stop-color="#173042"/><stop offset="0.8855" stop-color="#173042"/><stop offset="0.8855" stop-color="#1b2641"/><stop offset="0.9013" stop-color="#1b2641"/><stop offset="0.9013" stop-color="#1e2140"/><stop offset="0.9171" stop-color="#1e2140"/><stop offset="0.9171" stop-color="#1f1a3c"/><stop offset="0.933" stop-color="#1f1a3c"/><stop offset="0.933" stop-color="#211439"/><stop offset="0.9488" stop-color="#211439"/><stop offset="0.9488" stop-color="#220e34"/><stop offset="0.9804" stop-color="#220e34"/><stop offset="0.9804" stop-color="#21072e"/></linearGradient>
<linearGradient id="g305" gradientUnits="userSpaceOnUse" x1="0" y1="73.5" x2="0" y2="371.5"><stop offset="0" stop-color="#200027"/><stop offset="0.4744" stop-color="#200027"/><stop offset="0.4744" stop-color="#21072e"/><stop offset="0.5534" stop-color="#21072e"/><stop offset="0.5534" stop-color="#220e34"/><stop offset="0.5851" stop-color="#220e34"/><stop offset="0.5851" stop-color="#211439"/><stop offset="0.6167" stop-color="#211439"/><stop offset="0.6167" stop-color="#1f1a3c"/><stop offset="0.6325" stop-color="#1f1a3c"/><stop offset="0.6325" stop-color="#1e2140"/><stop offset="0.6483" stop-color="#1e2140"/><stop offset="0.6483" stop-color="#1b2641"/><stop offset="0.6641" stop-color="#1b2641"/><stop offset="0.6641" stop-color="#173042"/><stop offset="0.6799" stop-color="#173042"/><stop offset="0.6799" stop-color="#153543"/><stop offset="0.6958" stop-color="#153543"/><stop offset="0.6958" stop-color="#133a43"/><stop offset="0.7116" stop-color="#133a43"/><stop offset="0.7116" stop-color="#0f4442"/><stop offset="0.7274" stop-color="#0f4442"/><stop offset="0.7274" stop-color="#0f4840"/><stop offset="0.759" stop-color="#0f4840"/><stop offset="0.759" stop-color="#104d3f"/><stop offset="0.7906" stop-color="#104d3f"/><stop offset="0.7906" stop-color="#0f4840"/><stop offset="0.8065" stop-color="#0f4840"/><stop offset="0.8065" stop-color="#0f4442"/><stop offset="0.8223" stop-color="#0f4442"/><stop offset="0.8223" stop-color="#133a43"/><stop offset="0.8381" stop-color="#133a43"/><stop offset="0.8381" stop-color="#153543"/><stop offset="0.8539" stop-color="#153543"/><stop offset="0.8539" stop-color="#173042"/><stop offset="0.8697" stop-color="#173042"/><stop offset="0.8697" stop-color="#1b2641"/><stop offset="0.8855" stop-color="#1b2641"/><stop offset="0.8855" stop-color="#1e2140"/><stop offset="0.9013" stop-color="#1e2140"/><stop offset="0.9013" stop-color="#1f1a3c"/><stop offset="0.9171" stop-color="#1f1a3c"/><stop offset="0.9171" stop-color="#211439"/><stop offset="0.9488" stop-color="#211439"/><stop offset="0.9488" stop-color="#220e34"/><stop offset="0.9804" stop-color="#220e34"/><stop offset="0.9804" stop-color="#21072e"/></linearGradient>
<linearGradient id="g306" gradientUnits="userSpaceOnUse" x1="0" y1="75.1" x2="0" y2="368.4"><stop offset="0" stop-color="#200027"/><stop offset="0.4902" stop-color="#200027"/><stop offset="0.4902" stop-color="#21072e"/><stop offset="0.5534" stop-color="#21072e"/><stop offset="0.5534" stop-color="#220e34"/><stop offset="0.6009" stop-color="#220e34"/><stop offset="0.6009" stop-color="#211439"/><stop offset="0.6167" stop-color="#211439"/><stop offset="0.6167" stop-color="#1f1a3c"/><stop offset="0.6483" stop-color="#1f1a3c"/><stop offset="0.6483" stop-color="#1e2140"/><stop offset="0.6641" stop-color="#1e2140"/><stop offset="0.6641" stop-color="#1b2641"/><stop offset="0.6799" stop-color="#1b2641"/><stop offset="0.6799" stop-color="#192b42"/><stop offset="0.6958" stop-color="#192b42"/><stop offset="0.6958" stop-color="#173042"/><stop offset="0.7274" stop-color="#173042"/><stop offset="0.7274" stop-color="#153543"/><stop offset="0.7432" stop-color="#153543"/><stop offset="0.7432" stop-color="#133a43"/><stop offset="0.7906" stop-color="#133a43"/><stop offset="0.7906" stop-color="#153543"/><stop offset="0.8223" stop-color="#153543"/><stop offset="0.8223" stop-color="#173042"/><stop offset="0.8381" stop-color="#173042"/><stop offset="0.8381" stop-color="#192b42"/><stop offset="0.8539" stop-color="#192b42"/><stop offset="0.8539" stop-color="#1b2641"/><stop offset="0.8697" stop-color="#1b2641"/><stop offset="0.8697" stop-color="#1e2140"/><stop offset="0.8855" stop-color="#1e2140"/><stop offset="0.8855" stop-color="#1f1a3c"/><stop offset="0.9013" stop-color="#1f1a3c"/><stop offset="0.9013" stop-color="#211439"/><stop offset="0.933" stop-color="#211439"/><stop offset="0.933" stop-color="#220e34"/><stop offset="0.9646" stop-color="#220e34"/><stop offset="0.9646" stop-color="#21072e"/></linearGradient>
<linearGradient id="g307" gradientUnits="userSpaceOnUse" x1="0" y1="76.6" x2="0" y2="365.3"><stop offset="0" stop-color="#200027"/><stop offset="0.4902" stop-color="#200027"/><stop offset="0.4902" stop-color="#21072e"/><stop offset="0.5693" stop-color="#21072e"/><stop offset="0.5693" stop-color="#220e34"/><stop offset="0.6009" stop-color="#220e34"/><stop offset="0.6009" stop-color="#211439"/><stop offset="0.6325" stop-color="#211439"/><stop offset="0.6325" stop-color="#1f1a3c"/><stop offset="0.6641" stop-color="#1f1a3c"/><stop offset="0.6641" stop-color="#1e2140"/><stop offset="0.6958" stop-color="#1e2140"/><stop offset="0.6958" stop-color="#1b2641"/><stop offset="0.7274" stop-color="#1b2641"/><stop offset="0.7274" stop-color="#192b42"/><stop offset="0.8065" stop-color="#192b42"/><stop offset="0.8065" stop-color="#1b2641"/><stop offset="0.8381" stop-color="#1b2641"/><stop offset="0.8381" stop-color="#1e2140"/><stop offset="0.8697" stop-color="#1e2140"/><stop offset="0.8697" stop-color="#1f1a3c"/><stop offset="0.8855" stop-color="#1f1a3c"/><stop offset="0.8855" stop-color="#211439"/><stop offset="0.9171" stop-color="#211439"/><stop offset="0.9171" stop-color="#220e34"/><stop offset="0.9488" stop-color="#220e34"/><stop offset="0.9488" stop-color="#21072e"/></linearGradient>
<linearGradient id="g308" gradientUnits="userSpaceOnUse" x1="0" y1="77.4" x2="0" y2="363.8"><stop offset="0" stop-color="#200027"/><stop offset="0.4902" stop-color="#200027"/><stop offset="0.4902" stop-color="#21072e"/><stop offset="0.5693" stop-color="#21072e"/><stop offset="0.5693" stop-color="#220e34"/><stop offset="0.6167" stop-color="#220e34"/><stop offset="0.6167" stop-color="#211439"/><stop offset="0.6483" stop-color="#211439"/><stop offset="0.6483" stop-color="#1f1a3c"/><stop offset="0.6799" stop-color="#1f1a3c"/><stop offset="0.6799" stop-color="#1e2140"/><stop offset="0.7116" stop-color="#1e2140"/><stop offset="0.7116" stop-color="#1b2641"/><stop offset="0.8223" stop-color="#1b2641"/><stop offset="0.8223" stop-color="#1e2140"/><stop offset="0.8539" stop-color="#1e2140"/><stop offset="0.8539" stop-color="#1f1a3c"/><stop offset="0.8855" stop-color="#1f1a3c"/><stop offset="0.8855" stop-color="#211439"/><stop offset="0.9171" stop-color="#211439"/><stop offset="0.9171" stop-color="#220e34"/><stop offset="0.9488" stop-color="#220e34"/><stop offset="0.9488" stop-color="#21072e"/></linearGradient>
<clipPath id="cd3"><path d="M288.3 41.3 L337.5 74.5 L336.7 319.6 L334.6 321.4 L334.6 331.4 L332.8 333.2 L332.8 345.7 L328.9 349.8 L328.9 360.5 L325.3 365 L324.8 354.6 L321.3 359.1 L320.9 348.4 L311.1 359.1 L311.1 370 L305.5 375.9 L305.5 390.2 L301.1 396.7 L300.2 384.5 L295.2 390.7 L294.6 377.1 L292.2 379.7 L291.6 367.6 L288.5 369.4 Z"/></clipPath>
<linearGradient id="g309" gradientUnits="userSpaceOnUse" x1="0" y1="42.8" x2="0" y2="432.8"><stop offset="0" stop-color="#200027"/><stop offset="0.5376" stop-color="#200027"/><stop offset="0.5376" stop-color="#21072e"/><stop offset="0.6167" stop-color="#21072e"/><stop offset="0.6167" stop-color="#220e34"/><stop offset="0.6483" stop-color="#220e34"/><stop offset="0.6483" stop-color="#211439"/><stop offset="0.6799" stop-color="#211439"/><stop offset="0.6799" stop-color="#1f1a3c"/><stop offset="0.7274" stop-color="#1f1a3c"/><stop offset="0.7274" stop-color="#1e2140"/><stop offset="0.7748" stop-color="#1e2140"/><stop offset="0.7748" stop-color="#1f1a3c"/><stop offset="0.8065" stop-color="#1f1a3c"/><stop offset="0.8065" stop-color="#211439"/><stop offset="0.8381" stop-color="#211439"/><stop offset="0.8381" stop-color="#220e34"/><stop offset="0.8697" stop-color="#220e34"/><stop offset="0.8697" stop-color="#21072e"/><stop offset="0.9171" stop-color="#21072e"/><stop offset="0.9171" stop-color="#200027"/></linearGradient>
<linearGradient id="g310" gradientUnits="userSpaceOnUse" x1="0" y1="45.5" x2="0" y2="427.5"><stop offset="0" stop-color="#200027"/><stop offset="0.5218" stop-color="#200027"/><stop offset="0.5218" stop-color="#21072e"/><stop offset="0.5851" stop-color="#21072e"/><stop offset="0.5851" stop-color="#220e34"/><stop offset="0.6167" stop-color="#220e34"/><stop offset="0.6167" stop-color="#211439"/><stop offset="0.6325" stop-color="#211439"/><stop offset="0.6325" stop-color="#1f1a3c"/><stop offset="0.6641" stop-color="#1f1a3c"/><stop offset="0.6641" stop-color="#1e2140"/><stop offset="0.6799" stop-color="#1e2140"/><stop offset="0.6799" stop-color="#1b2641"/><stop offset="0.6958" stop-color="#1b2641"/><stop offset="0.6958" stop-color="#192b42"/><stop offset="0.7116" stop-color="#192b42"/><stop offset="0.7116" stop-color="#173042"/><stop offset="0.7274" stop-color="#173042"/><stop offset="0.7274" stop-color="#153543"/><stop offset="0.759" stop-color="#153543"/><stop offset="0.759" stop-color="#173042"/><stop offset="0.7906" stop-color="#173042"/><stop offset="0.7906" stop-color="#192b42"/><stop offset="0.8065" stop-color="#192b42"/><stop offset="0.8065" stop-color="#1b2641"/><stop offset="0.8223" stop-color="#1b2641"/><stop offset="0.8223" stop-color="#1f1a3c"/><stop offset="0.8381" stop-color="#1f1a3c"/><stop offset="0.8381" stop-color="#211439"/><stop offset="0.8697" stop-color="#211439"/><stop offset="0.8697" stop-color="#220e34"/><stop offset="0.8855" stop-color="#220e34"/><stop offset="0.8855" stop-color="#21072e"/><stop offset="0.933" stop-color="#21072e"/><stop offset="0.933" stop-color="#200027"/></linearGradient>
<linearGradient id="g311" gradientUnits="userSpaceOnUse" x1="0" y1="48" x2="0" y2="422.5"><stop offset="0" stop-color="#200027"/><stop offset="0.4744" stop-color="#200027"/><stop offset="0.4744" stop-color="#21072e"/><stop offset="0.5534" stop-color="#21072e"/><stop offset="0.5534" stop-color="#220e34"/><stop offset="0.5851" stop-color="#220e34"/><stop offset="0.5851" stop-color="#211439"/><stop offset="0.6167" stop-color="#211439"/><stop offset="0.6167" stop-color="#1f1a3c"/><stop offset="0.6325" stop-color="#1f1a3c"/><stop offset="0.6325" stop-color="#1e2140"/><stop offset="0.6483" stop-color="#1e2140"/><stop offset="0.6483" stop-color="#192b42"/><stop offset="0.6641" stop-color="#192b42"/><stop offset="0.6641" stop-color="#173042"/><stop offset="0.6799" stop-color="#173042"/><stop offset="0.6799" stop-color="#153543"/><stop offset="0.6958" stop-color="#153543"/><stop offset="0.6958" stop-color="#113f42"/><stop offset="0.7116" stop-color="#113f42"/><stop offset="0.7116" stop-color="#0f4442"/><stop offset="0.7274" stop-color="#0f4442"/><stop offset="0.7274" stop-color="#0f4840"/><stop offset="0.759" stop-color="#0f4840"/><stop offset="0.759" stop-color="#0f4442"/><stop offset="0.7748" stop-color="#0f4442"/><stop offset="0.7748" stop-color="#113f42"/><stop offset="0.7906" stop-color="#113f42"/><stop offset="0.7906" stop-color="#133a43"/><stop offset="0.8065" stop-color="#133a43"/><stop offset="0.8065" stop-color="#173042"/><stop offset="0.8223" stop-color="#173042"/><stop offset="0.8223" stop-color="#192b42"/><stop offset="0.8381" stop-color="#192b42"/><stop offset="0.8381" stop-color="#1e2140"/><stop offset="0.8539" stop-color="#1e2140"/><stop offset="0.8539" stop-color="#1f1a3c"/><stop offset="0.8697" stop-color="#1f1a3c"/><stop offset="0.8697" stop-color="#211439"/><stop offset="0.8855" stop-color="#211439"/><stop offset="0.8855" stop-color="#220e34"/><stop offset="0.9013" stop-color="#220e34"/><stop offset="0.9013" stop-color="#21072e"/><stop offset="0.9488" stop-color="#21072e"/><stop offset="0.9488" stop-color="#200027"/></linearGradient>
<linearGradient id="g312" gradientUnits="userSpaceOnUse" x1="0" y1="50.4" x2="0" y2="417.7"><stop offset="0" stop-color="#200027"/><stop offset="0.4428" stop-color="#200027"/><stop offset="0.4428" stop-color="#21072e"/><stop offset="0.506" stop-color="#21072e"/><stop offset="0.506" stop-color="#220e34"/><stop offset="0.5376" stop-color="#220e34"/><stop offset="0.5376" stop-color="#211439"/><stop offset="0.5693" stop-color="#211439"/><stop offset="0.5693" stop-color="#1f1a3c"/><stop offset="0.6009" stop-color="#1f1a3c"/><stop offset="0.6009" stop-color="#1e2140"/><stop offset="0.6167" stop-color="#1e2140"/><stop offset="0.6167" stop-color="#1b2641"/><stop offset="0.6325" stop-color="#1b2641"/><stop offset="0.6325" stop-color="#192b42"/><stop offset="0.6483" stop-color="#192b42"/><stop offset="0.6483" stop-color="#173042"/><stop offset="0.6641" stop-color="#173042"/><stop offset="0.6641" stop-color="#133a43"/><stop offset="0.6799" stop-color="#133a43"/><stop offset="0.6799" stop-color="#113f42"/><stop offset="0.6958" stop-color="#113f42"/><stop offset="0.6958" stop-color="#0f4840"/><stop offset="0.7116" stop-color="#0f4840"/><stop offset="0.7116" stop-color="#104d3f"/><stop offset="0.7274" stop-color="#104d3f"/><stop offset="0.7274" stop-color="#14513c"/><stop offset="0.759" stop-color="#14513c"/><stop offset="0.759" stop-color="#104d3f"/><stop offset="0.7748" stop-color="#104d3f"/><stop offset="0.7748" stop-color="#0f4840"/><stop offset="0.7906" stop-color="#0f4840"/><stop offset="0.7906" stop-color="#113f42"/><stop offset="0.8065" stop-color="#113f42"/><stop offset="0.8065" stop-color="#153543"/><stop offset="0.8223" stop-color="#153543"/><stop offset="0.8223" stop-color="#192b42"/><stop offset="0.8381" stop-color="#192b42"/><stop offset="0.8381" stop-color="#1b2641"/><stop offset="0.8539" stop-color="#1b2641"/><stop offset="0.8539" stop-color="#1f1a3c"/><stop offset="0.8697" stop-color="#1f1a3c"/><stop offset="0.8697" stop-color="#211439"/><stop offset="0.8855" stop-color="#211439"/><stop offset="0.8855" stop-color="#220e34"/><stop offset="0.9013" stop-color="#220e34"/><stop offset="0.9013" stop-color="#21072e"/><stop offset="0.9488" stop-color="#21072e"/><stop offset="0.9488" stop-color="#200027"/></linearGradient>
<linearGradient id="g313" gradientUnits="userSpaceOnUse" x1="0" y1="52.7" x2="0" y2="413"><stop offset="0" stop-color="#200027"/><stop offset="0.4744" stop-color="#200027"/><stop offset="0.4744" stop-color="#21072e"/><stop offset="0.5376" stop-color="#21072e"/><stop offset="0.5376" stop-color="#220e34"/><stop offset="0.5851" stop-color="#220e34"/><stop offset="0.5851" stop-color="#211439"/><stop offset="0.6009" stop-color="#211439"/><stop offset="0.6009" stop-color="#1f1a3c"/><stop offset="0.6325" stop-color="#1f1a3c"/><stop offset="0.6325" stop-color="#1b2641"/><stop offset="0.6483" stop-color="#1b2641"/><stop offset="0.6483" stop-color="#192b42"/><stop offset="0.6641" stop-color="#192b42"/><stop offset="0.6641" stop-color="#173042"/><stop offset="0.6799" stop-color="#173042"/><stop offset="0.6799" stop-color="#133a43"/><stop offset="0.6958" stop-color="#133a43"/><stop offset="0.6958" stop-color="#113f42"/><stop offset="0.7116" stop-color="#113f42"/><stop offset="0.7116" stop-color="#0f4442"/><stop offset="0.7274" stop-color="#0f4442"/><stop offset="0.7274" stop-color="#0f4840"/><stop offset="0.7748" stop-color="#0f4840"/><stop offset="0.7748" stop-color="#0f4442"/><stop offset="0.7906" stop-color="#0f4442"/><stop offset="0.7906" stop-color="#133a43"/><stop offset="0.8065" stop-color="#133a43"/><stop offset="0.8065" stop-color="#173042"/><stop offset="0.8223" stop-color="#173042"/><stop offset="0.8223" stop-color="#192b42"/><stop offset="0.8381" stop-color="#192b42"/><stop offset="0.8381" stop-color="#1e2140"/><stop offset="0.8539" stop-color="#1e2140"/><stop offset="0.8539" stop-color="#1f1a3c"/><stop offset="0.8697" stop-color="#1f1a3c"/><stop offset="0.8697" stop-color="#211439"/><stop offset="0.8855" stop-color="#211439"/><stop offset="0.8855" stop-color="#220e34"/><stop offset="0.9013" stop-color="#220e34"/><stop offset="0.9013" stop-color="#21072e"/><stop offset="0.9488" stop-color="#21072e"/><stop offset="0.9488" stop-color="#200027"/></linearGradient>
<linearGradient id="g314" gradientUnits="userSpaceOnUse" x1="0" y1="55" x2="0" y2="408.5"><stop offset="0" stop-color="#200027"/><stop offset="0.506" stop-color="#200027"/><stop offset="0.506" stop-color="#21072e"/><stop offset="0.5693" stop-color="#21072e"/><stop offset="0.5693" stop-color="#220e34"/><stop offset="0.6009" stop-color="#220e34"/><stop offset="0.6009" stop-color="#211439"/><stop offset="0.6325" stop-color="#211439"/><stop offset="0.6325" stop-color="#1f1a3c"/><stop offset="0.6483" stop-color="#1f1a3c"/><stop offset="0.6483" stop-color="#1e2140"/><stop offset="0.6641" stop-color="#1e2140"/><stop offset="0.6641" stop-color="#1b2641"/><stop offset="0.6799" stop-color="#1b2641"/><stop offset="0.6799" stop-color="#192b42"/><stop offset="0.6958" stop-color="#192b42"/><stop offset="0.6958" stop-color="#173042"/><stop offset="0.7116" stop-color="#173042"/><stop offset="0.7116" stop-color="#153543"/><stop offset="0.7748" stop-color="#153543"/><stop offset="0.7748" stop-color="#173042"/><stop offset="0.7906" stop-color="#173042"/><stop offset="0.7906" stop-color="#192b42"/><stop offset="0.8065" stop-color="#192b42"/><stop offset="0.8065" stop-color="#1b2641"/><stop offset="0.8223" stop-color="#1b2641"/><stop offset="0.8223" stop-color="#1e2140"/><stop offset="0.8381" stop-color="#1e2140"/><stop offset="0.8381" stop-color="#1f1a3c"/><stop offset="0.8539" stop-color="#1f1a3c"/><stop offset="0.8539" stop-color="#211439"/><stop offset="0.8697" stop-color="#211439"/><stop offset="0.8697" stop-color="#220e34"/><stop offset="0.9013" stop-color="#220e34"/><stop offset="0.9013" stop-color="#21072e"/><stop offset="0.9488" stop-color="#21072e"/><stop offset="0.9488" stop-color="#200027"/></linearGradient>
<linearGradient id="g315" gradientUnits="userSpaceOnUse" x1="0" y1="57.2" x2="0" y2="404.2"><stop offset="0" stop-color="#200027"/><stop offset="0.5218" stop-color="#200027"/><stop offset="0.5218" stop-color="#21072e"/><stop offset="0.5851" stop-color="#21072e"/><stop offset="0.5851" stop-color="#220e34"/><stop offset="0.6167" stop-color="#220e34"/><stop offset="0.6167" stop-color="#211439"/><stop offset="0.6483" stop-color="#211439"/><stop offset="0.6483" stop-color="#1f1a3c"/><stop offset="0.6799" stop-color="#1f1a3c"/><stop offset="0.6799" stop-color="#1e2140"/><stop offset="0.6958" stop-color="#1e2140"/><stop offset="0.6958" stop-color="#1b2641"/><stop offset="0.7906" stop-color="#1b2641"/><stop offset="0.7906" stop-color="#1e2140"/><stop offset="0.8065" stop-color="#1e2140"/><stop offset="0.8065" stop-color="#1f1a3c"/><stop offset="0.8223" stop-color="#1f1a3c"/><stop offset="0.8223" stop-color="#211439"/><stop offset="0.8539" stop-color="#211439"/><stop offset="0.8539" stop-color="#220e34"/><stop offset="0.8855" stop-color="#220e34"/><stop offset="0.8855" stop-color="#21072e"/><stop offset="0.933" stop-color="#21072e"/><stop offset="0.933" stop-color="#200027"/></linearGradient>
<linearGradient id="g316" gradientUnits="userSpaceOnUse" x1="0" y1="59.3" x2="0" y2="400"><stop offset="0" stop-color="#200027"/><stop offset="0.5218" stop-color="#200027"/><stop offset="0.5218" stop-color="#21072e"/><stop offset="0.5851" stop-color="#21072e"/><stop offset="0.5851" stop-color="#220e34"/><stop offset="0.6325" stop-color="#220e34"/><stop offset="0.6325" stop-color="#211439"/><stop offset="0.6641" stop-color="#211439"/><stop offset="0.6641" stop-color="#1f1a3c"/><stop offset="0.6799" stop-color="#1f1a3c"/><stop offset="0.6799" stop-color="#1e2140"/><stop offset="0.7274" stop-color="#1e2140"/><stop offset="0.7274" stop-color="#1b2641"/><stop offset="0.759" stop-color="#1b2641"/><stop offset="0.759" stop-color="#1e2140"/><stop offset="0.7906" stop-color="#1e2140"/><stop offset="0.7906" stop-color="#1f1a3c"/><stop offset="0.8223" stop-color="#1f1a3c"/><stop offset="0.8223" stop-color="#211439"/><stop offset="0.8381" stop-color="#211439"/><stop offset="0.8381" stop-color="#220e34"/><stop offset="0.8855" stop-color="#220e34"/><stop offset="0.8855" stop-color="#21072e"/><stop offset="0.933" stop-color="#21072e"/><stop offset="0.933" stop-color="#200027"/></linearGradient>
<linearGradient id="g317" gradientUnits="userSpaceOnUse" x1="0" y1="61.3" x2="0" y2="396"><stop offset="0" stop-color="#200027"/><stop offset="0.506" stop-color="#200027"/><stop offset="0.506" stop-color="#21072e"/><stop offset="0.5851" stop-color="#21072e"/><stop offset="0.5851" stop-color="#220e34"/><stop offset="0.6167" stop-color="#220e34"/><stop offset="0.6167" stop-color="#211439"/><stop offset="0.6325" stop-color="#211439"/><stop offset="0.6325" stop-color="#1f1a3c"/><stop offset="0.6641" stop-color="#1f1a3c"/><stop offset="0.6641" stop-color="#1e2140"/><stop offset="0.6799" stop-color="#1e2140"/><stop offset="0.6799" stop-color="#1b2641"/><stop offset="0.6958" stop-color="#1b2641"/><stop offset="0.6958" stop-color="#192b42"/><stop offset="0.7906" stop-color="#192b42"/><stop offset="0.7906" stop-color="#1b2641"/><stop offset="0.8065" stop-color="#1b2641"/><stop offset="0.8065" stop-color="#1e2140"/><stop offset="0.8223" stop-color="#1e2140"/><stop offset="0.8223" stop-color="#1f1a3c"/><stop offset="0.8381" stop-color="#1f1a3c"/><stop offset="0.8381" stop-color="#211439"/><stop offset="0.8539" stop-color="#211439"/><stop offset="0.8539" stop-color="#220e34"/><stop offset="0.8855" stop-color="#220e34"/><stop offset="0.8855" stop-color="#21072e"/><stop offset="0.9488" stop-color="#21072e"/><stop offset="0.9488" stop-color="#200027"/></linearGradient>
<linearGradient id="g318" gradientUnits="userSpaceOnUse" x1="0" y1="63.2" x2="0" y2="392.1"><stop offset="0" stop-color="#200027"/><stop offset="0.506" stop-color="#200027"/><stop offset="0.506" stop-color="#21072e"/><stop offset="0.5693" stop-color="#21072e"/><stop offset="0.5693" stop-color="#220e34"/><stop offset="0.6009" stop-color="#220e34"/><stop offset="0.6009" stop-color="#211439"/><stop offset="0.6167" stop-color="#211439"/><stop offset="0.6167" stop-color="#1f1a3c"/><stop offset="0.6325" stop-color="#1f1a3c"/><stop offset="0.6325" stop-color="#1e2140"/><stop offset="0.6483" stop-color="#1e2140"/><stop offset="0.6483" stop-color="#1b2641"/><stop offset="0.6641" stop-color="#1b2641"/><stop offset="0.6641" stop-color="#192b42"/><stop offset="0.6799" stop-color="#192b42"/><stop offset="0.6799" stop-color="#173042"/><stop offset="0.6958" stop-color="#173042"/><stop offset="0.6958" stop-color="#133a43"/><stop offset="0.7116" stop-color="#133a43"/><stop offset="0.7116" stop-color="#113f42"/><stop offset="0.7748" stop-color="#113f42"/><stop offset="0.7748" stop-color="#133a43"/><stop offset="0.7906" stop-color="#133a43"/><stop offset="0.7906" stop-color="#153543"/><stop offset="0.8065" stop-color="#153543"/><stop offset="0.8065" stop-color="#192b42"/><stop offset="0.8223" stop-color="#192b42"/><stop offset="0.8223" stop-color="#1b2641"/><stop offset="0.8381" stop-color="#1b2641"/><stop offset="0.8381" stop-color="#1f1a3c"/><stop offset="0.8539" stop-color="#1f1a3c"/><stop offset="0.8539" stop-color="#211439"/><stop offset="0.8697" stop-color="#211439"/><stop offset="0.8697" stop-color="#220e34"/><stop offset="0.9013" stop-color="#220e34"/><stop offset="0.9013" stop-color="#21072e"/><stop offset="0.9488" stop-color="#21072e"/><stop offset="0.9488" stop-color="#200027"/></linearGradient>
<linearGradient id="g319" gradientUnits="userSpaceOnUse" x1="0" y1="65.1" x2="0" y2="388.4"><stop offset="0" stop-color="#200027"/><stop offset="0.4586" stop-color="#200027"/><stop offset="0.4586" stop-color="#21072e"/><stop offset="0.5218" stop-color="#21072e"/><stop offset="0.5218" stop-color="#220e34"/><stop offset="0.5534" stop-color="#220e34"/><stop offset="0.5534" stop-color="#211439"/><stop offset="0.5851" stop-color="#211439"/><stop offset="0.5851" stop-color="#1f1a3c"/><stop offset="0.6167" stop-color="#1f1a3c"/><stop offset="0.6167" stop-color="#1e2140"/><stop offset="0.6325" stop-color="#1e2140"/><stop offset="0.6325" stop-color="#192b42"/><stop offset="0.6483" stop-color="#192b42"/><stop offset="0.6483" stop-color="#173042"/><stop offset="0.6641" stop-color="#173042"/><stop offset="0.6641" stop-color="#153543"/><stop offset="0.6799" stop-color="#153543"/><stop offset="0.6799" stop-color="#113f42"/><stop offset="0.6958" stop-color="#113f42"/><stop offset="0.6958" stop-color="#0f4840"/><stop offset="0.7116" stop-color="#0f4840"/><stop offset="0.7116" stop-color="#104d3f"/><stop offset="0.7274" stop-color="#104d3f"/><stop offset="0.7274" stop-color="#14513c"/><stop offset="0.759" stop-color="#14513c"/><stop offset="0.759" stop-color="#104d3f"/><stop offset="0.7748" stop-color="#104d3f"/><stop offset="0.7748" stop-color="#0f4840"/><stop offset="0.7906" stop-color="#0f4840"/><stop offset="0.7906" stop-color="#113f42"/><stop offset="0.8065" stop-color="#113f42"/><stop offset="0.8065" stop-color="#153543"/><stop offset="0.8223" stop-color="#153543"/><stop offset="0.8223" stop-color="#192b42"/><stop offset="0.8381" stop-color="#192b42"/><stop offset="0.8381" stop-color="#1e2140"/><stop offset="0.8539" stop-color="#1e2140"/><stop offset="0.8539" stop-color="#1f1a3c"/><stop offset="0.8697" stop-color="#1f1a3c"/><stop offset="0.8697" stop-color="#211439"/><stop offset="0.8855" stop-color="#211439"/><stop offset="0.8855" stop-color="#220e34"/><stop offset="0.9013" stop-color="#220e34"/><stop offset="0.9013" stop-color="#21072e"/><stop offset="0.9488" stop-color="#21072e"/><stop offset="0.9488" stop-color="#200027"/></linearGradient>
<linearGradient id="g320" gradientUnits="userSpaceOnUse" x1="0" y1="66.9" x2="0" y2="384.7"><stop offset="0" stop-color="#200027"/><stop offset="0.4586" stop-color="#200027"/><stop offset="0.4586" stop-color="#21072e"/><stop offset="0.506" stop-color="#21072e"/><stop offset="0.506" stop-color="#220e34"/><stop offset="0.5534" stop-color="#220e34"/><stop offset="0.5534" stop-color="#211439"/><stop offset="0.5851" stop-color="#211439"/><stop offset="0.5851" stop-color="#1f1a3c"/><stop offset="0.6009" stop-color="#1f1a3c"/><stop offset="0.6009" stop-color="#1e2140"/><stop offset="0.6325" stop-color="#1e2140"/><stop offset="0.6325" stop-color="#192b42"/><stop offset="0.6483" stop-color="#192b42"/><stop offset="0.6483" stop-color="#173042"/><stop offset="0.6641" stop-color="#173042"/><stop offset="0.6641" stop-color="#133a43"/><stop offset="0.6799" stop-color="#133a43"/><stop offset="0.6799" stop-color="#113f42"/><stop offset="0.6958" stop-color="#113f42"/><stop offset="0.6958" stop-color="#0f4840"/><stop offset="0.7116" stop-color="#0f4840"/><stop offset="0.7116" stop-color="#104d3f"/><stop offset="0.7274" stop-color="#104d3f"/><stop offset="0.7274" stop-color="#14513c"/><stop offset="0.759" stop-color="#14513c"/><stop offset="0.759" stop-color="#104d3f"/><stop offset="0.7748" stop-color="#104d3f"/><stop offset="0.7748" stop-color="#0f4840"/><stop offset="0.7906" stop-color="#0f4840"/><stop offset="0.7906" stop-color="#113f42"/><stop offset="0.8065" stop-color="#113f42"/><stop offset="0.8065" stop-color="#153543"/><stop offset="0.8223" stop-color="#153543"/><stop offset="0.8223" stop-color="#192b42"/><stop offset="0.8381" stop-color="#192b42"/><stop offset="0.8381" stop-color="#1e2140"/><stop offset="0.8539" stop-color="#1e2140"/><stop offset="0.8539" stop-color="#1f1a3c"/><stop offset="0.8697" stop-color="#1f1a3c"/><stop offset="0.8697" stop-color="#211439"/><stop offset="0.8855" stop-color="#211439"/><stop offset="0.8855" stop-color="#220e34"/><stop offset="0.9013" stop-color="#220e34"/><stop offset="0.9013" stop-color="#21072e"/><stop offset="0.9488" stop-color="#21072e"/><stop offset="0.9488" stop-color="#200027"/></linearGradient>
<linearGradient id="g321" gradientUnits="userSpaceOnUse" x1="0" y1="68.7" x2="0" y2="381.2"><stop offset="0" stop-color="#200027"/><stop offset="0.506" stop-color="#200027"/><stop offset="0.506" stop-color="#21072e"/><stop offset="0.5693" stop-color="#21072e"/><stop offset="0.5693" stop-color="#220e34"/><stop offset="0.6009" stop-color="#220e34"/><stop offset="0.6009" stop-color="#211439"/><stop offset="0.6167" stop-color="#211439"/><stop offset="0.6167" stop-color="#1f1a3c"/><stop offset="0.6483" stop-color="#1f1a3c"/><stop offset="0.6483" stop-color="#1b2641"/><stop offset="0.6641" stop-color="#1b2641"/><stop offset="0.6641" stop-color="#192b42"/><stop offset="0.6799" stop-color="#192b42"/><stop offset="0.6799" stop-color="#173042"/><stop offset="0.6958" stop-color="#173042"/><stop offset="0.6958" stop-color="#133a43"/><stop offset="0.7116" stop-color="#133a43"/><stop offset="0.7116" stop-color="#113f42"/><stop offset="0.7748" stop-color="#113f42"/><stop offset="0.7748" stop-color="#133a43"/><stop offset="0.7906" stop-color="#133a43"/><stop offset="0.7906" stop-color="#173042"/><stop offset="0.8065" stop-color="#173042"/><stop offset="0.8065" stop-color="#192b42"/><stop offset="0.8223" stop-color="#192b42"/><stop offset="0.8223" stop-color="#1b2641"/><stop offset="0.8381" stop-color="#1b2641"/><stop offset="0.8381" stop-color="#1f1a3c"/><stop offset="0.8539" stop-color="#1f1a3c"/><stop offset="0.8539" stop-color="#211439"/><stop offset="0.8697" stop-color="#211439"/><stop offset="0.8697" stop-color="#220e34"/><stop offset="0.9013" stop-color="#220e34"/><stop offset="0.9013" stop-color="#21072e"/><stop offset="0.9488" stop-color="#21072e"/><stop offset="0.9488" stop-color="#200027"/></linearGradient>
<linearGradient id="g322" gradientUnits="userSpaceOnUse" x1="0" y1="70.4" x2="0" y2="377.9"><stop offset="0" stop-color="#200027"/><stop offset="0.5218" stop-color="#200027"/><stop offset="0.5218" stop-color="#21072e"/><stop offset="0.6009" stop-color="#21072e"/><stop offset="0.6009" stop-color="#220e34"/><stop offset="0.6325" stop-color="#220e34"/><stop offset="0.6325" stop-color="#211439"/><stop offset="0.6483" stop-color="#211439"/><stop offset="0.6483" stop-color="#1f1a3c"/><stop offset="0.6799" stop-color="#1f1a3c"/><stop offset="0.6799" stop-color="#1e2140"/><stop offset="0.6958" stop-color="#1e2140"/><stop offset="0.6958" stop-color="#1b2641"/><stop offset="0.7274" stop-color="#1b2641"/><stop offset="0.7274" stop-color="#192b42"/><stop offset="0.759" stop-color="#192b42"/><stop offset="0.759" stop-color="#1b2641"/><stop offset="0.7906" stop-color="#1b2641"/><stop offset="0.7906" stop-color="#1e2140"/><stop offset="0.8065" stop-color="#1e2140"/><stop offset="0.8065" stop-color="#1f1a3c"/><stop offset="0.8223" stop-color="#1f1a3c"/><stop offset="0.8223" stop-color="#211439"/><stop offset="0.8539" stop-color="#211439"/><stop offset="0.8539" stop-color="#220e34"/><stop offset="0.8855" stop-color="#220e34"/><stop offset="0.8855" stop-color="#21072e"/><stop offset="0.933" stop-color="#21072e"/><stop offset="0.933" stop-color="#200027"/></linearGradient>
<linearGradient id="g323" gradientUnits="userSpaceOnUse" x1="0" y1="72" x2="0" y2="374.6"><stop offset="0" stop-color="#200027"/><stop offset="0.5534" stop-color="#200027"/><stop offset="0.5534" stop-color="#21072e"/><stop offset="0.6325" stop-color="#21072e"/><stop offset="0.6325" stop-color="#220e34"/><stop offset="0.6799" stop-color="#220e34"/><stop offset="0.6799" stop-color="#211439"/><stop offset="0.8065" stop-color="#211439"/><stop offset="0.8065" stop-color="#220e34"/><stop offset="0.8381" stop-color="#220e34"/><stop offset="0.8381" stop-color="#21072e"/><stop offset="0.9171" stop-color="#21072e"/><stop offset="0.9171" stop-color="#200027"/></linearGradient>
<linearGradient id="g324" gradientUnits="userSpaceOnUse" x1="0" y1="73.6" x2="0" y2="371.4"><stop offset="0" stop-color="#200027"/><stop offset="0.5851" stop-color="#200027"/><stop offset="0.5851" stop-color="#21072e"/><stop offset="0.7116" stop-color="#21072e"/><stop offset="0.7116" stop-color="#220e34"/><stop offset="0.7748" stop-color="#220e34"/><stop offset="0.7748" stop-color="#21072e"/><stop offset="0.8697" stop-color="#21072e"/><stop offset="0.8697" stop-color="#200027"/></linearGradient>
<clipPath id="cd4"><path d="M386.2 37.5 L410 71.7 L409 270 L408.7 290.3 L407 293 L406 305.3 L404.4 321.3 L403.3 310.6 L402.8 302 L393 317 L392.6 332 L390 336.2 L389.4 351.7 L388.7 351.7 L387.8 338.4 L387 340.5 L385.7 329.3 L384.1 333 Z"/></clipPath>
<linearGradient id="g341" x1="0" y1="0" x2="0" y2="1"><stop offset="0" stop-color="#fde725"/><stop offset="0.1" stop-color="#bdde26"/><stop offset="0.2" stop-color="#79d151"/><stop offset="0.3" stop-color="#44be70"/><stop offset="0.4" stop-color="#22a784"/><stop offset="0.5" stop-color="#20908c"/><stop offset="0.6" stop-color="#29788e"/><stop offset="0.7" stop-color="#345e8d"/><stop offset="0.8" stop-color="#404387"/><stop offset="0.9" stop-color="#482374"/><stop offset="1" stop-color="#440154"/></linearGradient>
<linearGradient id="g342" x1="0" y1="0" x2="0" y2="1"><stop offset="0" stop-color="#fde725"/><stop offset="0.1" stop-color="#bdde26"/><stop offset="0.2" stop-color="#79d151"/><stop offset="0.3" stop-color="#44be70"/><stop offset="0.4" stop-color="#22a784"/><stop offset="0.5" stop-color="#20908c"/><stop offset="0.6" stop-color="#29788e"/><stop offset="0.7" stop-color="#345e8d"/><stop offset="0.8" stop-color="#404387"/><stop offset="0.9" stop-color="#482374"/><stop offset="1" stop-color="#440154"/></linearGradient>
<linearGradient id="g343" x1="0" y1="0" x2="0" y2="1"><stop offset="0" stop-color="#fde725"/><stop offset="0.1" stop-color="#bdde26"/><stop offset="0.2" stop-color="#79d151"/><stop offset="0.3" stop-color="#44be70"/><stop offset="0.4" stop-color="#22a784"/><stop offset="0.5" stop-color="#20908c"/><stop offset="0.6" stop-color="#29788e"/><stop offset="0.7" stop-color="#345e8d"/><stop offset="0.8" stop-color="#404387"/><stop offset="0.9" stop-color="#482374"/><stop offset="1" stop-color="#440154"/></linearGradient>
<linearGradient id="g344" x1="0" y1="0" x2="0" y2="1"><stop offset="0" stop-color="#fde725"/><stop offset="0.1" stop-color="#bdde26"/><stop offset="0.2" stop-color="#79d151"/><stop offset="0.3" stop-color="#44be70"/><stop offset="0.4" stop-color="#22a784"/><stop offset="0.5" stop-color="#20908c"/><stop offset="0.6" stop-color="#29788e"/><stop offset="0.7" stop-color="#345e8d"/><stop offset="0.8" stop-color="#404387"/><stop offset="0.9" stop-color="#482374"/><stop offset="1" stop-color="#440154"/></linearGradient>
</defs>
<rect width="1260" height="843" fill="#fff"/>
<g>
<g clip-path="url(#ca0)">
<path d="M30.3 52.7L40.1 55.3L46.2 408.8L36.8 413Z" fill="url(#g1)"/>
<path d="M38.5 54.9L47.9 57.3L53.7 404.7L44.6 408.8Z" fill="url(#g2)"/>
<path d="M46.3 56.9L55.4 59.3L61 400.7L52.1 404.7Z" fill="url(#g3)"/>
<path d="M53.8 58.9L62.7 61.3L68 396.9L59.4 400.7Z" fill="url(#g4)"/>
<path d="M61.1 60.8L69.8 63.1L74.8 393.1L66.4 396.9Z" fill="url(#g5)"/>
<path d="M68.2 62.7L76.6 64.9L81.4 389.6L73.2 393.1Z" fill="url(#g6)"/>
<path d="M75 64.5L83.2 66.7L87.8 386.1L79.8 389.6Z" fill="url(#g7)"/>
<path d="M81.6 66.2L89.6 68.3L94 382.7L86.2 386.1Z" fill="url(#g8)"/>
<path d="M88 67.9L95.7 70L100 379.5L92.4 382.7Z" fill="url(#g9)"/>
<path d="M94.1 69.5L101.7 71.6L105.8 376.3L98.4 379.5Z" fill="url(#g10)"/>
<path d="M100.1 71.1L107.6 73.1L111.4 373.2L104.2 376.3Z" fill="url(#g11)"/>
<path d="M106 72.7L113.2 74.6L116.9 370.3L109.8 373.2Z" fill="url(#g12)"/>
<path d="M111.6 74.2L116.4 75.4L120 368.6L115.3 370.3Z" fill="url(#g13)"/>
</g>
<g clip-path="url(#ca1)">
<path d="M111.3 49.4L122 52.9L126.2 413.7L115.9 419.7Z" fill="url(#g14)"/>
<path d="M120.4 52.4L130.6 55.7L134.6 408.1L124.6 413.7Z" fill="url(#g15)"/>
<path d="M129 55.2L138.9 58.5L142.5 402.6L133 408.1Z" fill="url(#g16)"/>
<path d="M137.3 57.9L146.7 61.1L150.1 397.5L140.9 402.6Z" fill="url(#g17)"/>
<path d="M145.1 60.5L154.2 63.5L157.4 392.5L148.5 397.5Z" fill="url(#g18)"/>
<path d="M152.6 63L161.4 65.9L164.4 387.8L155.8 392.5Z" fill="url(#g19)"/>
<path d="M159.8 65.4L168.3 68.2L171.1 383.2L162.8 387.8Z" fill="url(#g20)"/>
<path d="M166.7 67.7L174.9 70.4L177.5 378.9L169.5 383.2Z" fill="url(#g21)"/>
<path d="M173.3 69.8L181.3 72.5L183.6 374.7L175.9 378.9Z" fill="url(#g22)"/>
<path d="M179.7 71.9L187.3 74.5L189.5 370.7L182 374.7Z" fill="url(#g23)"/>
<path d="M185.7 73.9L193.2 76.4L195.2 366.8L187.9 370.7Z" fill="url(#g24)"/>
<path d="M191.6 75.9L198.8 78.3L200.7 363.1L193.6 366.8Z" fill="url(#g25)"/>
<path d="M197.2 77.7L202.3 79.4L204.1 360.8L199.1 363.1Z" fill="url(#g26)"/>
</g>
<g clip-path="url(#ca2)">
<path d="M193.5 44.1L198.6 46.4L201.1 427.2L196.1 430.3Z" fill="url(#g27)"/>
<path d="M197 45.6L206.4 49.8L208.6 420.3L199.5 427.2Z" fill="url(#g28)"/>
<path d="M204.8 49.1L213.7 53L215.7 413.8L207 420.3Z" fill="url(#g29)"/>
<path d="M212.1 52.3L220.7 56.1L222.5 407.7L214.1 413.8Z" fill="url(#g30)"/>
<path d="M219.1 55.4L227.3 59L229 401.8L220.9 407.7Z" fill="url(#g31)"/>
<path d="M225.7 58.3L233.7 61.8L235.1 396.3L227.4 401.8Z" fill="url(#g32)"/>
<path d="M232.1 61.1L239.7 64.5L240.9 391L233.5 396.3Z" fill="url(#g33)"/>
<path d="M238.1 63.8L245.4 67L246.5 385.9L239.3 391Z" fill="url(#g34)"/>
<path d="M243.8 66.3L250.9 69.4L251.8 381.1L244.9 385.9Z" fill="url(#g35)"/>
<path d="M249.3 68.7L256.1 71.7L256.9 376.5L250.2 381.1Z" fill="url(#g36)"/>
<path d="M254.5 71L261.1 74L261.8 372.1L255.3 376.5Z" fill="url(#g37)"/>
<path d="M259.5 73.3L265.9 76.1L266.5 367.8L260.2 372.1Z" fill="url(#g38)"/>
<path d="M264.3 75.4L270.4 78.1L271 363.8L264.9 367.8Z" fill="url(#g39)"/>
<path d="M268.8 77.4L274.1 79.7L274.6 360.5L269.4 363.8Z" fill="url(#g40)"/>
</g>
<g clip-path="url(#ca3)">
<path d="M288.3 41.5L295.2 46.1L295.3 428.4L288.5 435.5Z" fill="url(#g41)"/>
<path d="M293.6 45L300.3 49.5L300.2 421.7L293.7 428.4Z" fill="url(#g42)"/>
<path d="M298.7 48.4L305 52.7L304.8 415.3L298.6 421.7Z" fill="url(#g43)"/>
<path d="M303.4 51.6L309.6 55.7L309.3 409.2L303.2 415.3Z" fill="url(#g44)"/>
<path d="M308 54.6L313.9 58.6L313.5 403.5L307.7 409.2Z" fill="url(#g45)"/>
<path d="M312.3 57.5L318 61.3L317.5 398L311.9 403.5Z" fill="url(#g46)"/>
<path d="M316.4 60.3L321.9 64L321.4 392.7L315.9 398Z" fill="url(#g47)"/>
<path d="M320.3 62.9L325.7 66.5L325 387.8L319.8 392.7Z" fill="url(#g48)"/>
<path d="M324.1 65.4L329.2 68.9L328.5 383L323.4 387.8Z" fill="url(#g49)"/>
<path d="M327.6 67.8L332.6 71.1L331.9 378.4L326.9 383Z" fill="url(#g50)"/>
<path d="M331 70.1L335.9 73.3L335.1 374L330.3 378.4Z" fill="url(#g51)"/>
<path d="M334.3 72.3L339 75.4L338.2 369.8L333.5 374Z" fill="url(#g52)"/>
</g>
<g clip-path="url(#ca4)">
<path d="M386.3 38.5L391.6 45.9L389.1 431.1L383.8 441.4Z" fill="url(#g53)"/>
<path d="M390 43.7L395.1 50.6L392.6 421.6L387.5 431.1Z" fill="url(#g54)"/>
<path d="M393.5 48.4L398.3 55L395.8 412.8L391 421.6Z" fill="url(#g55)"/>
<path d="M396.7 52.8L401.3 59.1L398.8 404.6L394.2 412.8Z" fill="url(#g56)"/>
<path d="M399.7 56.9L404.1 63L401.6 396.9L397.2 404.6Z" fill="url(#g57)"/>
<path d="M402.5 60.8L406.7 66.6L404.3 389.8L400 396.9Z" fill="url(#g58)"/>
<path d="M405.1 64.4L409.1 70L406.7 383L402.7 389.8Z" fill="url(#g59)"/>
<path d="M407.5 67.8L411.4 73.1L409.1 376.7L405.1 383Z" fill="url(#g60)"/>
</g>
</g>
<use href="#blob" fill="url(#bg)"/>
<g clip-path="url(#cblob)"><use href="#blob" fill="none" stroke="url(#rim)" stroke-width="3.4"/>
<path d="M700 175C707 170 743.3 172.6 760 172C776.7 171.4 825 169.4 843 170C861 170.6 904.5 176.1 914 177C923.5 177.9 921.7 178 924 177.5C926.3 177 927.1 173.1 934 172.5C940.9 171.9 975.7 171.8 983 172.5C990.3 173.2 993.7 178 996.4 178.3C999.1 178.6 1003.8 175.8 1006 174.8C1008.2 173.8 1012.4 171.1 1015.4 170C1018.4 168.9 1026.8 165.7 1031.5 165.3C1036.2 164.9 1052.3 165.7 1056 166.5C1059.7 167.3 1061.1 168.1 1063 172C1064.9 175.9 1070.1 192.1 1072 200C1073.9 207.9 1077.9 231.2 1079 240C1080.1 248.8 1081.5 268 1081.5 275C1081.5 282 1079.5 296.6 1079 300C1078.5 303.4 1077 305.8 1077 304C1077 302.2 1079.2 289.9 1079 285C1078.8 280.1 1076.5 268.2 1075 262C1073.5 255.8 1068.3 238.5 1066 232C1063.7 225.5 1059.7 209.2 1055.7 206C1051.7 202.8 1036.2 205.4 1031.5 204.5C1026.8 203.6 1019 199.5 1015.4 198.5C1011.8 197.5 1004.8 196.1 1001 196.2C997.2 196.3 990.8 199.6 983 199.7C975.2 199.8 942 197.6 934 197.3C926 197 924.6 197 914 197.3C903.4 197.6 861 199.1 843 200C825 200.9 776.7 203.2 760 205C743.3 206.8 707 218.5 700 215C693 211.5 693 180 700 175Z" fill="url(#bd)" fill-opacity=".72"/>
<ellipse cx="1037.7" cy="286.6" rx="22.4" ry="38" fill="#5f8d80" fill-opacity=".55"/>
<ellipse cx="958.5" cy="325" rx="33" ry="47" fill="#96a868" fill-opacity=".36"/>
<ellipse cx="884" cy="334" rx="38" ry="56" fill="#96a868" fill-opacity=".26"/>
<path d="M900 378C903.3 376.7 914.2 372.8 920 370C925.8 367.2 932.5 362.5 935 361" fill="none" stroke="#a09c44" stroke-opacity=".42" stroke-width="3.4" stroke-linecap="round"/>
<path d="M962 367C966 365.2 978.5 360.5 986 356C993.5 351.5 1003.5 342.7 1007 340" fill="none" stroke="#a09c44" stroke-opacity=".42" stroke-width="3.4" stroke-linecap="round"/>
<path d="M1038 326C1042 325.3 1055.2 326 1062 322C1068.8 318 1076.2 305.3 1079 302" fill="none" stroke="#a09c44" stroke-opacity=".42" stroke-width="3.4" stroke-linecap="round"/>
<path d="M858 350C861.7 348.8 873 344.7 880 343C887 341.3 896.7 340.5 900 340" fill="none" stroke="#a09c44" stroke-opacity=".42" stroke-width="3.4" stroke-linecap="round"/>
</g>
<g transform="translate(645.7 0)">
<g clip-path="url(#cb0)">
<path d="M30.3 52.7L36 54.2L42.3 410.9L36.8 413Z" fill="url(#g61)"/>
<path d="M34.4 53.8L40.1 55.3L46.2 408.8L40.7 410.9Z" fill="url(#g62)"/>
<path d="M38.5 54.9L44 56.3L50 406.7L44.6 408.8Z" fill="url(#g63)"/>
<path d="M42.4 55.9L47.9 57.3L53.7 404.7L48.4 406.7Z" fill="url(#g64)"/>
<path d="M46.3 56.9L51.7 58.3L57.4 402.7L52.1 404.7Z" fill="url(#g65)"/>
<path d="M50.1 57.9L55.4 59.3L61 400.7L55.8 402.7Z" fill="url(#g66)"/>
<path d="M53.8 58.9L59.1 60.3L64.5 398.8L59.4 400.7Z" fill="url(#g67)"/>
<path d="M57.5 59.9L62.7 61.3L68 396.9L62.9 398.8Z" fill="url(#g68)"/>
<path d="M61.1 60.8L66.3 62.2L71.5 395L66.4 396.9Z" fill="url(#g69)"/>
<path d="M64.7 61.8L69.8 63.1L74.8 393.1L69.9 395Z" fill="url(#g70)"/>
<path d="M68.2 62.7L73.2 64L78.1 391.3L73.2 393.1Z" fill="url(#g71)"/>
<path d="M71.6 63.6L76.6 64.9L81.4 389.6L76.5 391.3Z" fill="url(#g72)"/>
<path d="M75 64.5L79.9 65.8L84.6 387.8L79.8 389.6Z" fill="url(#g73)"/>
<path d="M78.3 65.4L83.2 66.7L87.8 386.1L83 387.8Z" fill="url(#g74)"/>
<path d="M81.6 66.2L86.4 67.5L90.9 384.4L86.2 386.1Z" fill="url(#g75)"/>
<path d="M84.8 67.1L89.6 68.3L94 382.7L89.3 384.4Z" fill="url(#g76)"/>
<path d="M88 67.9L92.7 69.2L97 381.1L92.4 382.7Z" fill="url(#g77)"/>
<path d="M91.1 68.7L95.7 70L100 379.5L95.4 381.1Z" fill="url(#g78)"/>
<path d="M94.1 69.5L98.8 70.8L102.9 377.9L98.4 379.5Z" fill="url(#g79)"/>
<path d="M97.2 70.3L101.7 71.6L105.8 376.3L101.3 377.9Z" fill="url(#g80)"/>
<path d="M100.1 71.1L104.7 72.3L108.6 374.8L104.2 376.3Z" fill="url(#g81)"/>
<path d="M103.1 71.9L107.6 73.1L111.4 373.2L107 374.8Z" fill="url(#g82)"/>
<path d="M106 72.7L110.4 73.8L114.2 371.7L109.8 373.2Z" fill="url(#g83)"/>
<path d="M108.8 73.4L113.2 74.6L116.9 370.3L112.6 371.7Z" fill="url(#g84)"/>
<path d="M111.6 74.2L116.4 75.4L120 368.6L115.3 370.3Z" fill="url(#g85)"/>
</g>
<g clip-path="url(#cb1)">
<path d="M111.3 49.4L117.5 51.4L121.9 416.7L115.9 419.7Z" fill="url(#g86)"/>
<path d="M115.9 50.9L122 52.9L126.2 413.7L120.3 416.7Z" fill="url(#g87)"/>
<path d="M120.4 52.4L126.3 54.3L130.5 410.9L124.6 413.7Z" fill="url(#g88)"/>
<path d="M124.7 53.8L130.6 55.7L134.6 408.1L128.9 410.9Z" fill="url(#g89)"/>
<path d="M129 55.2L134.8 57.1L138.6 405.3L133 408.1Z" fill="url(#g90)"/>
<path d="M133.2 56.6L138.9 58.5L142.5 402.6L137 405.3Z" fill="url(#g91)"/>
<path d="M137.3 57.9L142.8 59.8L146.4 400L140.9 402.6Z" fill="url(#g92)"/>
<path d="M141.2 59.3L146.7 61.1L150.1 397.5L144.8 400Z" fill="url(#g93)"/>
<path d="M145.1 60.5L150.5 62.3L153.8 394.9L148.5 397.5Z" fill="url(#g94)"/>
<path d="M148.9 61.8L154.2 63.5L157.4 392.5L152.2 394.9Z" fill="url(#g95)"/>
<path d="M152.6 63L157.9 64.7L160.9 390.1L155.8 392.5Z" fill="url(#g96)"/>
<path d="M156.3 64.2L161.4 65.9L164.4 387.8L159.3 390.1Z" fill="url(#g97)"/>
<path d="M159.8 65.4L164.9 67.1L167.8 385.5L162.8 387.8Z" fill="url(#g98)"/>
<path d="M163.3 66.5L168.3 68.2L171.1 383.2L166.2 385.5Z" fill="url(#g99)"/>
<path d="M166.7 67.7L171.7 69.3L174.3 381L169.5 383.2Z" fill="url(#g100)"/>
<path d="M170.1 68.8L174.9 70.4L177.5 378.9L172.7 381Z" fill="url(#g101)"/>
<path d="M173.3 69.8L178.1 71.4L180.6 376.8L175.9 378.9Z" fill="url(#g102)"/>
<path d="M176.5 70.9L181.3 72.5L183.6 374.7L179 376.8Z" fill="url(#g103)"/>
<path d="M179.7 71.9L184.3 73.5L186.6 372.7L182 374.7Z" fill="url(#g104)"/>
<path d="M182.7 72.9L187.3 74.5L189.5 370.7L185 372.7Z" fill="url(#g105)"/>
<path d="M185.7 73.9L190.3 75.4L192.4 368.7L187.9 370.7Z" fill="url(#g106)"/>
<path d="M188.7 74.9L193.2 76.4L195.2 366.8L190.8 368.7Z" fill="url(#g107)"/>
<path d="M191.6 75.9L196 77.3L198 365L193.6 366.8Z" fill="url(#g108)"/>
<path d="M194.4 76.8L198.8 78.3L200.7 363.1L196.4 365Z" fill="url(#g109)"/>
<path d="M197.2 77.7L202.3 79.4L204.1 360.8L199.1 363.1Z" fill="url(#g110)"/>
</g>
<g clip-path="url(#cb2)">
<path d="M193.5 44.1L198.6 46.4L201.1 427.2L196.1 430.3Z" fill="url(#g111)"/>
<path d="M197 45.6L202.5 48.1L204.9 423.7L199.5 427.2Z" fill="url(#g112)"/>
<path d="M200.9 47.4L206.4 49.8L208.6 420.3L203.3 423.7Z" fill="url(#g113)"/>
<path d="M204.8 49.1L210.1 51.4L212.2 417L207 420.3Z" fill="url(#g114)"/>
<path d="M208.5 50.7L213.7 53L215.7 413.8L210.6 417Z" fill="url(#g115)"/>
<path d="M212.1 52.3L217.3 54.6L219.2 410.7L214.1 413.8Z" fill="url(#g116)"/>
<path d="M215.7 53.9L220.7 56.1L222.5 407.7L217.6 410.7Z" fill="url(#g117)"/>
<path d="M219.1 55.4L224.1 57.6L225.8 404.7L220.9 407.7Z" fill="url(#g118)"/>
<path d="M222.5 56.9L227.3 59L229 401.8L224.2 404.7Z" fill="url(#g119)"/>
<path d="M225.7 58.3L230.5 60.5L232.1 399L227.4 401.8Z" fill="url(#g120)"/>
<path d="M228.9 59.8L233.7 61.8L235.1 396.3L230.5 399Z" fill="url(#g121)"/>
<path d="M232.1 61.1L236.7 63.2L238 393.6L233.5 396.3Z" fill="url(#g122)"/>
<path d="M235.1 62.5L239.7 64.5L240.9 391L236.4 393.6Z" fill="url(#g123)"/>
<path d="M238.1 63.8L242.6 65.8L243.7 388.4L239.3 391Z" fill="url(#g124)"/>
<path d="M241 65.1L245.4 67L246.5 385.9L242.1 388.4Z" fill="url(#g125)"/>
<path d="M243.8 66.3L248.2 68.2L249.2 383.5L244.9 385.9Z" fill="url(#g126)"/>
<path d="M246.6 67.5L250.9 69.4L251.8 381.1L247.6 383.5Z" fill="url(#g127)"/>
<path d="M249.3 68.7L253.5 70.6L254.4 378.8L250.2 381.1Z" fill="url(#g128)"/>
<path d="M251.9 69.9L256.1 71.7L256.9 376.5L252.8 378.8Z" fill="url(#g129)"/>
<path d="M254.5 71L258.6 72.9L259.4 374.3L255.3 376.5Z" fill="url(#g130)"/>
<path d="M257 72.2L261.1 74L261.8 372.1L257.8 374.3Z" fill="url(#g131)"/>
<path d="M259.5 73.3L263.5 75L264.2 369.9L260.2 372.1Z" fill="url(#g132)"/>
<path d="M261.9 74.3L265.9 76.1L266.5 367.8L262.6 369.9Z" fill="url(#g133)"/>
<path d="M264.3 75.4L268.2 77.1L268.7 365.8L264.9 367.8Z" fill="url(#g134)"/>
<path d="M266.6 76.4L270.4 78.1L271 363.8L267.1 365.8Z" fill="url(#g135)"/>
<path d="M268.8 77.4L274.1 79.7L274.6 360.5L269.4 363.8Z" fill="url(#g136)"/>
</g>
<g clip-path="url(#cb3)">
<path d="M288.3 41.5L292.6 44.3L292.7 431.9L288.5 435.5Z" fill="url(#g137)"/>
<path d="M291 43.3L295.2 46.1L295.3 428.4L291.1 431.9Z" fill="url(#g138)"/>
<path d="M293.6 45L297.8 47.8L297.7 425L293.7 428.4Z" fill="url(#g139)"/>
<path d="M296.2 46.7L300.3 49.5L300.2 421.7L296.1 425Z" fill="url(#g140)"/>
<path d="M298.7 48.4L302.7 51.1L302.5 418.4L298.6 421.7Z" fill="url(#g141)"/>
<path d="M301.1 50L305 52.7L304.8 415.3L300.9 418.4Z" fill="url(#g142)"/>
<path d="M303.4 51.6L307.3 54.2L307.1 412.2L303.2 415.3Z" fill="url(#g143)"/>
<path d="M305.7 53.1L309.6 55.7L309.3 409.2L305.5 412.2Z" fill="url(#g144)"/>
<path d="M308 54.6L311.8 57.2L311.4 406.3L307.7 409.2Z" fill="url(#g145)"/>
<path d="M310.2 56.1L313.9 58.6L313.5 403.5L309.8 406.3Z" fill="url(#g146)"/>
<path d="M312.3 57.5L316 60L315.5 400.7L311.9 403.5Z" fill="url(#g147)"/>
<path d="M314.4 58.9L318 61.3L317.5 398L313.9 400.7Z" fill="url(#g148)"/>
<path d="M316.4 60.3L320 62.7L319.5 395.3L315.9 398Z" fill="url(#g149)"/>
<path d="M318.4 61.6L321.9 64L321.4 392.7L317.9 395.3Z" fill="url(#g150)"/>
<path d="M320.3 62.9L323.8 65.2L323.2 390.2L319.8 392.7Z" fill="url(#g151)"/>
<path d="M322.2 64.2L325.7 66.5L325 387.8L321.6 390.2Z" fill="url(#g152)"/>
<path d="M324.1 65.4L327.5 67.7L326.8 385.3L323.4 387.8Z" fill="url(#g153)"/>
<path d="M325.9 66.6L329.2 68.9L328.5 383L325.2 385.3Z" fill="url(#g154)"/>
<path d="M327.6 67.8L330.9 70L330.2 380.7L326.9 383Z" fill="url(#g155)"/>
<path d="M329.3 68.9L332.6 71.1L331.9 378.4L328.6 380.7Z" fill="url(#g156)"/>
<path d="M331 70.1L334.3 72.3L333.5 376.2L330.3 378.4Z" fill="url(#g157)"/>
<path d="M332.7 71.2L335.9 73.3L335.1 374L331.9 376.2Z" fill="url(#g158)"/>
<path d="M334.3 72.3L337.5 74.4L336.7 371.9L333.5 374Z" fill="url(#g159)"/>
<path d="M335.9 73.3L339 75.4L338.2 369.8L335.1 371.9Z" fill="url(#g160)"/>
</g>
<g clip-path="url(#cb4)">
<path d="M386.3 38.5L390.4 44.2L387.9 434.4L383.8 441.4Z" fill="url(#g161)"/>
<path d="M388.8 42L392.8 47.5L390.3 427.9L386.3 434.4Z" fill="url(#g162)"/>
<path d="M391.2 45.3L395.1 50.6L392.6 421.6L388.7 427.9Z" fill="url(#g163)"/>
<path d="M393.5 48.4L397.2 53.6L394.8 415.7L391 421.6Z" fill="url(#g164)"/>
<path d="M395.6 51.4L399.3 56.4L396.8 410L393.2 415.7Z" fill="url(#g165)"/>
<path d="M397.7 54.2L401.3 59.1L398.8 404.6L395.2 410Z" fill="url(#g166)"/>
<path d="M399.7 56.9L403.2 61.7L400.7 399.4L397.2 404.6Z" fill="url(#g167)"/>
<path d="M401.6 59.5L405 64.2L402.5 394.5L399.1 399.4Z" fill="url(#g168)"/>
<path d="M403.4 62L406.7 66.6L404.3 389.8L400.9 394.5Z" fill="url(#g169)"/>
<path d="M405.1 64.4L408.3 68.9L405.9 385.2L402.7 389.8Z" fill="url(#g170)"/>
<path d="M406.7 66.7L409.9 71L407.5 380.9L404.3 385.2Z" fill="url(#g171)"/>
<path d="M408.3 68.8L411.4 73.1L409.1 376.7L405.9 380.9Z" fill="url(#g172)"/>
</g>
</g>
<g clip-path="url(#cpan)"><use href="#blob" fill="url(#hz)"/>
<path d="M704 238C709.7 238 713.1 256.8 718.3 270.1C723.5 283.4 730.3 289.4 730 304.3C729.7 319.3 724.8 336.9 717 345C709.2 353.1 698.8 353.1 691 345C683.2 336.9 678.3 319.3 678 304.3C677.7 289.4 684.5 283.4 689.7 270.1C694.9 256.8 698.3 238 704 238Z" fill="#6fd09a" fill-opacity="0.08"/>
<path d="M735 255C739 255 741.3 270 744.9 280.5C748.5 291 753.2 295.8 753 307.7C752.8 319.6 749.4 333.5 744 340C738.6 346.5 731.4 346.5 726 340C720.6 333.5 717.2 319.6 717 307.7C716.8 295.8 721.5 291 725.1 280.5C728.7 270 731 255 735 255Z" fill="#6fd09a" fill-opacity="0.06"/>
<path d="M791 268C797.6 268 801.5 291.2 807.5 307.6C813.5 324 821.3 331.4 821 349.8C820.7 368.3 815 390 806 400C797 410 785 410 776 400C767 390 761.3 368.3 761 349.8C760.7 331.4 768.5 324 774.5 307.6C780.5 291.2 784.4 268 791 268Z" fill="#7fd88a" fill-opacity="0.09"/>
<path d="M822 262C826.4 262 829 282.8 833 297.4C837 312 842.2 318.6 842 335.2C841.8 351.7 838 371 832 380C826 389 818 389 812 380C806 371 802.2 351.7 802 335.2C801.8 318.6 807 312 811 297.4C815 282.8 817.6 262 822 262Z" fill="#7fd88a" fill-opacity="0.08"/>
<path d="M872 222C879.5 222 883.9 256.8 890.7 281.4C897.5 306 906.3 317 906 344.8C905.7 372.5 899.2 405 889 420C878.8 435 865.2 435 855 420C844.8 405 838.3 372.5 838 344.8C837.7 317 846.5 306 853.3 281.4C860.1 256.8 864.5 222 872 222Z" fill="#86dc7a" fill-opacity="0.1"/>
<ellipse cx="884" cy="338" rx="36" ry="60" fill="#5fc870" fill-opacity=".09"/>
<ellipse cx="881" cy="368" rx="11" ry="9" fill="#6a6a10" fill-opacity=".38"/>
<path d="M905 260C908.5 260 910.6 284.6 913.8 302C917 319.4 921.2 327.2 921 346.8C920.8 366.4 917.8 389.4 913 400C908.2 410.6 901.8 410.6 897 400C892.2 389.4 889.2 366.4 889 346.8C888.8 327.2 893 319.4 896.2 302C899.4 284.6 901.5 260 905 260Z" fill="#86dc7a" fill-opacity="0.07"/>
<path d="M955 270C960.3 270 963.4 292.9 968.2 309C973 325.1 979.2 332.4 979 350.6C978.8 368.8 974.2 390.1 967 400C959.8 409.9 950.2 409.9 943 400C935.8 390.1 931.2 368.8 931 350.6C930.8 332.4 937 325.1 941.8 309C946.6 292.9 949.7 270 955 270Z" fill="#86dc7a" fill-opacity="0.09"/>
<path d="M1040 250C1043.5 250 1045.6 264.1 1048.8 274C1052 283.9 1056.2 288.4 1056 299.6C1055.8 310.8 1052.8 323.9 1048 330C1043.2 336.1 1036.8 336.1 1032 330C1027.2 323.9 1024.2 310.8 1024 299.6C1023.8 288.4 1028 283.9 1031.2 274C1034.4 264.1 1036.5 250 1040 250Z" fill="#86dcaa" fill-opacity="0.08"/>
</g>
<g transform="translate(0.7 422.4)">
<g clip-path="url(#cc0)">
<path d="M30.3 52.7L38.1 54.8L44.3 409.8L36.8 413Z" fill="url(#g173)"/>
<path d="M36.5 54.3L44 56.3L50 406.7L42.7 409.8Z" fill="url(#g174)"/>
<path d="M42.4 55.9L49.8 57.9L55.6 403.7L48.4 406.7Z" fill="url(#g175)"/>
<path d="M48.2 57.4L55.4 59.3L61 400.7L54 403.7Z" fill="url(#g176)"/>
<path d="M53.8 58.9L60.9 60.8L66.3 397.8L59.4 400.7Z" fill="url(#g177)"/>
<path d="M59.3 60.4L66.3 62.2L71.5 395L64.7 397.8Z" fill="url(#g178)"/>
<path d="M64.7 61.8L71.5 63.6L76.5 392.2L69.9 395Z" fill="url(#g179)"/>
<path d="M69.9 63.1L76.6 64.9L81.4 389.6L74.9 392.2Z" fill="url(#g180)"/>
<path d="M75 64.5L81.5 66.2L86.2 386.9L79.8 389.6Z" fill="url(#g181)"/>
<path d="M79.9 65.8L86.4 67.5L90.9 384.4L84.6 386.9Z" fill="url(#g182)"/>
<path d="M84.8 67.1L91.1 68.8L95.5 381.9L89.3 384.4Z" fill="url(#g183)"/>
<path d="M89.5 68.3L95.7 70L100 379.5L93.9 381.9Z" fill="url(#g184)"/>
<path d="M94.1 69.5L100.3 71.2L104.3 377.1L98.4 379.5Z" fill="url(#g185)"/>
<path d="M98.7 70.7L104.7 72.3L108.6 374.8L102.7 377.1Z" fill="url(#g186)"/>
<path d="M103.1 71.9L109 73.5L112.8 372.5L107 374.8Z" fill="url(#g187)"/>
<path d="M107.4 73L113.2 74.6L116.9 370.3L111.2 372.5Z" fill="url(#g188)"/>
<path d="M111.6 74.2L116.4 75.4L120 368.6L115.3 370.3Z" fill="url(#g189)"/>
</g>
<g clip-path="url(#cc1)">
<path d="M111.3 49.4L119.7 52.2L124.1 415.2L115.9 419.7Z" fill="url(#g190)"/>
<path d="M118.1 51.6L126.3 54.3L130.5 410.9L122.5 415.2Z" fill="url(#g191)"/>
<path d="M124.7 53.8L132.7 56.4L136.6 406.7L128.9 410.9Z" fill="url(#g192)"/>
<path d="M131.1 55.9L138.9 58.5L142.5 402.6L135 406.7Z" fill="url(#g193)"/>
<path d="M137.3 57.9L144.8 60.4L148.3 398.7L140.9 402.6Z" fill="url(#g194)"/>
<path d="M143.2 59.9L150.5 62.3L153.8 394.9L146.7 398.7Z" fill="url(#g195)"/>
<path d="M148.9 61.8L156.1 64.1L159.2 391.3L152.2 394.9Z" fill="url(#g196)"/>
<path d="M154.5 63.6L161.4 65.9L164.4 387.8L157.6 391.3Z" fill="url(#g197)"/>
<path d="M159.8 65.4L166.6 67.6L169.4 384.3L162.8 387.8Z" fill="url(#g198)"/>
<path d="M165 67.1L171.7 69.3L174.3 381L167.8 384.3Z" fill="url(#g199)"/>
<path d="M170.1 68.8L176.5 70.9L179 377.8L172.7 381Z" fill="url(#g200)"/>
<path d="M174.9 70.4L181.3 72.5L183.6 374.7L177.4 377.8Z" fill="url(#g201)"/>
<path d="M179.7 71.9L185.8 74L188.1 371.7L182 374.7Z" fill="url(#g202)"/>
<path d="M184.2 73.4L190.3 75.4L192.4 368.7L186.5 371.7Z" fill="url(#g203)"/>
<path d="M188.7 74.9L194.6 76.9L196.6 365.9L190.8 368.7Z" fill="url(#g204)"/>
<path d="M193 76.3L198.8 78.3L200.7 363.1L195 365.9Z" fill="url(#g205)"/>
<path d="M197.2 77.7L202.3 79.4L204.1 360.8L199.1 363.1Z" fill="url(#g206)"/>
</g>
<g clip-path="url(#cc2)">
<path d="M193.5 44.1L198.6 46.4L201.1 427.2L196.1 430.3Z" fill="url(#g207)"/>
<path d="M197 45.6L204.4 48.9L206.8 422L199.5 427.2Z" fill="url(#g208)"/>
<path d="M202.8 48.2L210.1 51.4L212.2 417L205.2 422Z" fill="url(#g209)"/>
<path d="M208.5 50.7L215.5 53.8L217.5 412.3L210.6 417Z" fill="url(#g210)"/>
<path d="M213.9 53.1L220.7 56.1L222.5 407.7L215.9 412.3Z" fill="url(#g211)"/>
<path d="M219.1 55.4L225.7 58.3L227.4 403.3L220.9 407.7Z" fill="url(#g212)"/>
<path d="M224.1 57.6L230.5 60.5L232.1 399L225.8 403.3Z" fill="url(#g213)"/>
<path d="M228.9 59.8L235.2 62.5L236.6 394.9L230.5 399Z" fill="url(#g214)"/>
<path d="M233.6 61.8L239.7 64.5L240.9 391L235 394.9Z" fill="url(#g215)"/>
<path d="M238.1 63.8L244 66.4L245.1 387.2L239.3 391Z" fill="url(#g216)"/>
<path d="M242.4 65.7L248.2 68.2L249.2 383.5L243.5 387.2Z" fill="url(#g217)"/>
<path d="M246.6 67.5L252.2 70L253.1 379.9L247.6 383.5Z" fill="url(#g218)"/>
<path d="M250.6 69.3L256.1 71.7L256.9 376.5L251.5 379.9Z" fill="url(#g219)"/>
<path d="M254.5 71L259.9 73.4L260.6 373.2L255.3 376.5Z" fill="url(#g220)"/>
<path d="M258.3 72.7L263.5 75L264.2 369.9L259 373.2Z" fill="url(#g221)"/>
<path d="M261.9 74.3L267 76.6L267.6 366.8L262.6 369.9Z" fill="url(#g222)"/>
<path d="M265.4 75.9L270.4 78.1L271 363.8L266 366.8Z" fill="url(#g223)"/>
<path d="M268.8 77.4L274.1 79.7L274.6 360.5L269.4 363.8Z" fill="url(#g224)"/>
</g>
<g clip-path="url(#cc3)">
<path d="M288.3 41.5L293.9 45.2L294 430.1L288.5 435.5Z" fill="url(#g225)"/>
<path d="M292.3 44.2L297.8 47.8L297.7 425L292.4 430.1Z" fill="url(#g226)"/>
<path d="M296.2 46.7L301.5 50.3L301.4 420.1L296.1 425Z" fill="url(#g227)"/>
<path d="M299.9 49.2L305 52.7L304.8 415.3L299.8 420.1Z" fill="url(#g228)"/>
<path d="M303.4 51.6L308.5 55L308.2 410.7L303.2 415.3Z" fill="url(#g229)"/>
<path d="M306.9 53.9L311.8 57.2L311.4 406.3L306.6 410.7Z" fill="url(#g230)"/>
<path d="M310.2 56.1L314.9 59.3L314.5 402.1L309.8 406.3Z" fill="url(#g231)"/>
<path d="M313.3 58.2L318 61.3L317.5 398L312.9 402.1Z" fill="url(#g232)"/>
<path d="M316.4 60.3L321 63.3L320.4 394L315.9 398Z" fill="url(#g233)"/>
<path d="M319.4 62.2L323.8 65.2L323.2 390.2L318.8 394Z" fill="url(#g234)"/>
<path d="M322.2 64.2L326.6 67.1L325.9 386.5L321.6 390.2Z" fill="url(#g235)"/>
<path d="M325 66L329.2 68.9L328.5 383L324.3 386.5Z" fill="url(#g236)"/>
<path d="M327.6 67.8L331.8 70.6L331.1 379.5L326.9 383Z" fill="url(#g237)"/>
<path d="M330.2 69.5L334.3 72.3L333.5 376.2L329.5 379.5Z" fill="url(#g238)"/>
<path d="M332.7 71.2L336.7 73.9L335.9 373L331.9 376.2Z" fill="url(#g239)"/>
<path d="M335.1 72.8L339 75.4L338.2 369.8L334.3 373Z" fill="url(#g240)"/>
</g>
<g clip-path="url(#cc4)">
<path d="M386.3 38.5L389.8 43.3L387.3 436.1L383.8 441.4Z" fill="url(#g241)"/>
<path d="M388.2 41.1L391.6 45.9L389.1 431.1L385.7 436.1Z" fill="url(#g242)"/>
<path d="M390 43.7L393.4 48.3L390.9 426.3L387.5 431.1Z" fill="url(#g243)"/>
<path d="M391.8 46.1L395.1 50.6L392.6 421.6L389.3 426.3Z" fill="url(#g244)"/>
<path d="M393.5 48.4L396.7 52.9L394.2 417.1L391 421.6Z" fill="url(#g245)"/>
<path d="M395.1 50.7L398.3 55L395.8 412.8L392.6 417.1Z" fill="url(#g246)"/>
<path d="M396.7 52.8L399.8 57.1L397.3 408.6L394.2 412.8Z" fill="url(#g247)"/>
<path d="M398.2 54.9L401.3 59.1L398.8 404.6L395.7 408.6Z" fill="url(#g248)"/>
<path d="M399.7 56.9L402.7 61.1L400.2 400.7L397.2 404.6Z" fill="url(#g249)"/>
<path d="M401.1 58.9L404.1 63L401.6 396.9L398.6 400.7Z" fill="url(#g250)"/>
<path d="M402.5 60.8L405.4 64.8L403 393.3L400 396.9Z" fill="url(#g251)"/>
<path d="M403.8 62.6L406.7 66.6L404.3 389.8L401.4 393.3Z" fill="url(#g252)"/>
<path d="M405.1 64.4L407.9 68.3L405.5 386.4L402.7 389.8Z" fill="url(#g253)"/>
<path d="M406.3 66.1L409.1 70L406.7 383L403.9 386.4Z" fill="url(#g254)"/>
<path d="M407.5 67.8L410.3 71.6L407.9 379.8L405.1 383Z" fill="url(#g255)"/>
<path d="M408.7 69.4L411.4 73.1L409.1 376.7L406.3 379.8Z" fill="url(#g256)"/>
</g>
</g>
<g transform="translate(646.8 422.3)">
<g clip-path="url(#cd0)">
<path d="M30.3 52.7L38.1 54.8L44.3 409.8L36.8 413Z" fill="#200027"/>
<path d="M36.5 54.3L44 56.3L50 406.7L42.7 409.8Z" fill="#200027"/>
<path d="M42.4 55.9L49.8 57.9L55.6 403.7L48.4 406.7Z" fill="#200027"/>
<path d="M48.2 57.4L55.4 59.3L61 400.7L54 403.7Z" fill="url(#g260)"/>
<path d="M53.8 58.9L60.9 60.8L66.3 397.8L59.4 400.7Z" fill="url(#g261)"/>
<path d="M59.3 60.4L66.3 62.2L71.5 395L64.7 397.8Z" fill="url(#g262)"/>
<path d="M64.7 61.8L71.5 63.6L76.5 392.2L69.9 395Z" fill="url(#g263)"/>
<path d="M69.9 63.1L76.6 64.9L81.4 389.6L74.9 392.2Z" fill="url(#g264)"/>
<path d="M75 64.5L81.5 66.2L86.2 386.9L79.8 389.6Z" fill="#200027"/>
<path d="M79.9 65.8L86.4 67.5L90.9 384.4L84.6 386.9Z" fill="#200027"/>
<path d="M84.8 67.1L91.1 68.8L95.5 381.9L89.3 384.4Z" fill="#200027"/>
<path d="M89.5 68.3L95.7 70L100 379.5L93.9 381.9Z" fill="#200027"/>
<path d="M94.1 69.5L100.3 71.2L104.3 377.1L98.4 379.5Z" fill="#200027"/>
<path d="M98.7 70.7L104.7 72.3L108.6 374.8L102.7 377.1Z" fill="#200027"/>
<path d="M103.1 71.9L109 73.5L112.8 372.5L107 374.8Z" fill="#200027"/>
<path d="M107.4 73L113.2 74.6L116.9 370.3L111.2 372.5Z" fill="#200027"/>
<path d="M111.6 74.2L116.4 75.4L120 368.6L115.3 370.3Z" fill="#200027"/>
</g>
<g clip-path="url(#cd1)">
<path d="M111.3 49.4L119.7 52.2L124.1 415.2L115.9 419.7Z" fill="url(#g274)"/>
<path d="M118.1 51.6L126.3 54.3L130.5 410.9L122.5 415.2Z" fill="url(#g275)"/>
<path d="M124.7 53.8L132.7 56.4L136.6 406.7L128.9 410.9Z" fill="url(#g276)"/>
<path d="M131.1 55.9L138.9 58.5L142.5 402.6L135 406.7Z" fill="url(#g277)"/>
<path d="M137.3 57.9L144.8 60.4L148.3 398.7L140.9 402.6Z" fill="url(#g278)"/>
<path d="M143.2 59.9L150.5 62.3L153.8 394.9L146.7 398.7Z" fill="url(#g279)"/>
<path d="M148.9 61.8L156.1 64.1L159.2 391.3L152.2 394.9Z" fill="url(#g280)"/>
<path d="M154.5 63.6L161.4 65.9L164.4 387.8L157.6 391.3Z" fill="url(#g281)"/>
<path d="M159.8 65.4L166.6 67.6L169.4 384.3L162.8 387.8Z" fill="url(#g282)"/>
<path d="M165 67.1L171.7 69.3L174.3 381L167.8 384.3Z" fill="url(#g283)"/>
<path d="M170.1 68.8L176.5 70.9L179 377.8L172.7 381Z" fill="url(#g284)"/>
<path d="M174.9 70.4L181.3 72.5L183.6 374.7L177.4 377.8Z" fill="url(#g285)"/>
<path d="M179.7 71.9L185.8 74L188.1 371.7L182 374.7Z" fill="url(#g286)"/>
<path d="M184.2 73.4L190.3 75.4L192.4 368.7L186.5 371.7Z" fill="url(#g287)"/>
<path d="M188.7 74.9L194.6 76.9L196.6 365.9L190.8 368.7Z" fill="url(#g288)"/>
<path d="M193 76.3L198.8 78.3L200.7 363.1L195 365.9Z" fill="url(#g289)"/>
<path d="M197.2 77.7L202.3 79.4L204.1 360.8L199.1 363.1Z" fill="url(#g290)"/>
</g>
<g clip-path="url(#cd2)">
<path d="M193.5 44.1L198.6 46.4L201.1 427.2L196.1 430.3Z" fill="url(#g291)"/>
<path d="M197 45.6L204.4 48.9L206.8 422L199.5 427.2Z" fill="url(#g292)"/>
<path d="M202.8 48.2L210.1 51.4L212.2 417L205.2 422Z" fill="url(#g293)"/>
<path d="M208.5 50.7L215.5 53.8L217.5 412.3L210.6 417Z" fill="url(#g294)"/>
<path d="M213.9 53.1L220.7 56.1L222.5 407.7L215.9 412.3Z" fill="url(#g295)"/>
<path d="M219.1 55.4L225.7 58.3L227.4 403.3L220.9 407.7Z" fill="url(#g296)"/>
<path d="M224.1 57.6L230.5 60.5L232.1 399L225.8 403.3Z" fill="url(#g297)"/>
<path d="M228.9 59.8L235.2 62.5L236.6 394.9L230.5 399Z" fill="url(#g298)"/>
<path d="M233.6 61.8L239.7 64.5L240.9 391L235 394.9Z" fill="url(#g299)"/>
<path d="M238.1 63.8L244 66.4L245.1 387.2L239.3 391Z" fill="url(#g300)"/>
<path d="M242.4 65.7L248.2 68.2L249.2 383.5L243.5 387.2Z" fill="url(#g301)"/>
<path d="M246.6 67.5L252.2 70L253.1 379.9L247.6 383.5Z" fill="url(#g302)"/>
<path d="M250.6 69.3L256.1 71.7L256.9 376.5L251.5 379.9Z" fill="url(#g303)"/>
<path d="M254.5 71L259.9 73.4L260.6 373.2L255.3 376.5Z" fill="url(#g304)"/>
<path d="M258.3 72.7L263.5 75L264.2 369.9L259 373.2Z" fill="url(#g305)"/>
<path d="M261.9 74.3L267 76.6L267.6 366.8L262.6 369.9Z" fill="url(#g306)"/>
<path d="M265.4 75.9L270.4 78.1L271 363.8L266 366.8Z" fill="url(#g307)"/>
<path d="M268.8 77.4L274.1 79.7L274.6 360.5L269.4 363.8Z" fill="url(#g308)"/>
</g>
<g clip-path="url(#cd3)">
<path d="M288.3 41.5L293.9 45.2L294 430.1L288.5 435.5Z" fill="url(#g309)"/>
<path d="M292.3 44.2L297.8 47.8L297.7 425L292.4 430.1Z" fill="url(#g310)"/>
<path d="M296.2 46.7L301.5 50.3L301.4 420.1L296.1 425Z" fill="url(#g311)"/>
<path d="M299.9 49.2L305 52.7L304.8 415.3L299.8 420.1Z" fill="url(#g312)"/>
<path d="M303.4 51.6L308.5 55L308.2 410.7L303.2 415.3Z" fill="url(#g313)"/>
<path d="M306.9 53.9L311.8 57.2L311.4 406.3L306.6 410.7Z" fill="url(#g314)"/>
<path d="M310.2 56.1L314.9 59.3L314.5 402.1L309.8 406.3Z" fill="url(#g315)"/>
<path d="M313.3 58.2L318 61.3L317.5 398L312.9 402.1Z" fill="url(#g316)"/>
<path d="M316.4 60.3L321 63.3L320.4 394L315.9 398Z" fill="url(#g317)"/>
<path d="M319.4 62.2L323.8 65.2L323.2 390.2L318.8 394Z" fill="url(#g318)"/>
<path d="M322.2 64.2L326.6 67.1L325.9 386.5L321.6 390.2Z" fill="url(#g319)"/>
<path d="M325 66L329.2 68.9L328.5 383L324.3 386.5Z" fill="url(#g320)"/>
<path d="M327.6 67.8L331.8 70.6L331.1 379.5L326.9 383Z" fill="url(#g321)"/>
<path d="M330.2 69.5L334.3 72.3L333.5 376.2L329.5 379.5Z" fill="url(#g322)"/>
<path d="M332.7 71.2L336.7 73.9L335.9 373L331.9 376.2Z" fill="url(#g323)"/>
<path d="M335.1 72.8L339 75.4L338.2 369.8L334.3 373Z" fill="url(#g324)"/>
</g>
<g clip-path="url(#cd4)">
<path d="M386.3 38.5L389.8 43.3L387.3 436.1L383.8 441.4Z" fill="#200027"/>
<path d="M388.2 41.1L391.6 45.9L389.1 431.1L385.7 436.1Z" fill="#200027"/>
<path d="M390 43.7L393.4 48.3L390.9 426.3L387.5 431.1Z" fill="#200027"/>
<path d="M391.8 46.1L395.1 50.6L392.6 421.6L389.3 426.3Z" fill="#200027"/>
<path d="M393.5 48.4L396.7 52.9L394.2 417.1L391 421.6Z" fill="#200027"/>
<path d="M395.1 50.7L398.3 55L395.8 412.8L392.6 417.1Z" fill="#200027"/>
<path d="M396.7 52.8L399.8 57.1L397.3 408.6L394.2 412.8Z" fill="#200027"/>
<path d="M398.2 54.9L401.3 59.1L398.8 404.6L395.7 408.6Z" fill="#200027"/>
<path d="M399.7 56.9L402.7 61.1L400.2 400.7L397.2 404.6Z" fill="#200027"/>
<path d="M401.1 58.9L404.1 63L401.6 396.9L398.6 400.7Z" fill="#200027"/>
<path d="M402.5 60.8L405.4 64.8L403 393.3L400 396.9Z" fill="#200027"/>
<path d="M403.8 62.6L406.7 66.6L404.3 389.8L401.4 393.3Z" fill="#200027"/>
<path d="M405.1 64.4L407.9 68.3L405.5 386.4L402.7 389.8Z" fill="#200027"/>
<path d="M406.3 66.1L409.1 70L406.7 383L403.9 386.4Z" fill="#200027"/>
<path d="M407.5 67.8L410.3 71.6L407.9 379.8L405.1 383Z" fill="#200027"/>
<path d="M408.7 69.4L411.4 73.1L409.1 376.7L406.3 379.8Z" fill="#200027"/>
</g>
</g>
<rect x="498.7" y="105.6" width="17.4" height="211.1" fill="url(#g341)"/>
<rect x="1120.2" y="105.8" width="17.7" height="210.9" fill="url(#g342)"/>
<rect x="498.7" y="528.1" width="17.4" height="210.5" fill="url(#g343)"/>
<rect x="1120.2" y="528.1" width="17.7" height="210.6" fill="url(#g344)"/>
<text transform="translate(534.3 110.6) scale(.96 1)" font-size="20.2">2.80e+7</text>
<text transform="translate(534.3 322) scale(.96 1)" font-size="20.2">2.56e+7</text>
<text transform="translate(603.3 211.5) rotate(-90)" text-anchor="middle" font-size="20.2" letter-spacing="0.3"><tspan font-style="italic">p</tspan> [Pa]</text>
<text transform="translate(1156 111.2) scale(.96 1)" font-size="20.2">24.1</text>
<text transform="translate(1156 322) scale(.96 1)" font-size="20.2">0.00</text>
<text transform="translate(1199.5 210.7) rotate(-90)" text-anchor="middle" font-size="20.2" letter-spacing="0.3"><tspan font-style="italic">T</tspan> &#8722; <tspan font-style="italic">T</tspan><tspan font-size="14.2" dy="3.2">0</tspan><tspan dy="-3.2"> [K]</tspan></text>
<text transform="translate(534.3 537.3) scale(.96 1)" font-size="20.2">0.0</text>
<text transform="translate(534.3 743.9) scale(.96 1)" font-size="20.2">-3.1e+7</text>
<text transform="translate(598.2 632.9) rotate(-90)" text-anchor="middle" font-size="20.2" letter-spacing="0.75">&#955;<tspan font-size="14.2" font-style="italic" dy="3.2">n</tspan><tspan dy="-3.2"> [Pa]</tspan></text>
<text transform="translate(1156.3 534.8) scale(.96 1)" font-size="20.2">1.7e-2</text>
<text transform="translate(1156.3 743.9) scale(.96 1)" font-size="20.2">2.0e-3</text>
<text transform="translate(1208.2 633.4) rotate(-90)" text-anchor="middle" font-size="20.2" letter-spacing="1.3"><tspan font-style="italic">a</tspan> [m]</text>
</svg></body></html>
